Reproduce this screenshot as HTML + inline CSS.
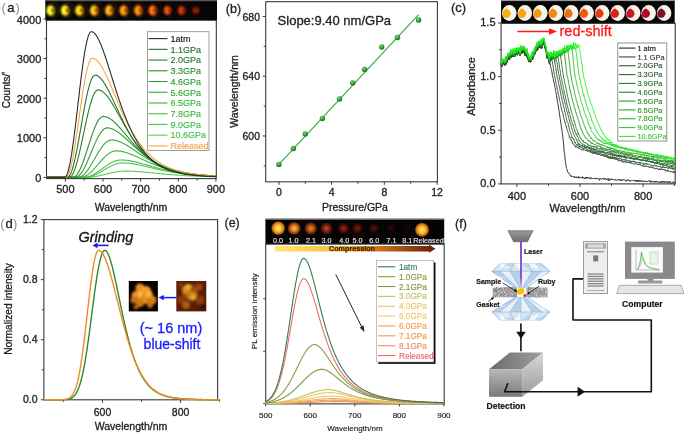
<!DOCTYPE html>
<html><head><meta charset="utf-8"><style>
html,body{margin:0;padding:0;background:#fff;width:685px;height:434px;overflow:hidden}
svg{display:block;will-change:transform}
text{font-family:"Liberation Sans", sans-serif}
</style></head><body>
<svg width="685" height="434" viewBox="0 0 685 434">
<rect width="685" height="434" fill="#fff"/>
<rect x="46.50" y="20.00" width="169.80" height="158.60" fill="none" stroke="#3a3a3a" stroke-width="1.1"/>
<rect x="45.3" y="0" width="171.7" height="20.4" fill="#050505"/>
<rect x="45.3" y="0" width="171.7" height="1.2" fill="#5a5a5a"/>
<defs><filter id="bl1" x="-50%" y="-50%" width="200%" height="200%"><feGaussianBlur stdDeviation="0.8"/></filter><filter id="bl03" x="-50%" y="-50%" width="200%" height="200%"><feGaussianBlur stdDeviation="0.4"/></filter><filter id="bl05" x="-50%" y="-50%" width="200%" height="200%"><feGaussianBlur stdDeviation="0.85"/></filter><filter id="bl2" x="-50%" y="-50%" width="200%" height="200%"><feGaussianBlur stdDeviation="1.2"/></filter></defs>
<g filter="url(#bl05)"><ellipse cx="52.80" cy="9.8" rx="6" ry="7.4" fill="none" stroke="#f0c000" stroke-opacity="0.35" stroke-width="0.8"/><ellipse cx="50.80" cy="10.4" rx="4.40" ry="5.30" fill="#f0c000"/><ellipse cx="49.80" cy="10.4" rx="2.90" ry="4.30" fill="#ffff40"/><ellipse cx="52.70" cy="10.2" rx="1.70" ry="2.30" fill="#6a3a00"/></g>
<g filter="url(#bl05)"><ellipse cx="67.30" cy="9.8" rx="6" ry="7.4" fill="none" stroke="#f0b800" stroke-opacity="0.35" stroke-width="0.8"/><ellipse cx="65.30" cy="10.4" rx="4.40" ry="5.30" fill="#f0b800"/><ellipse cx="64.30" cy="10.4" rx="2.90" ry="4.30" fill="#ffff30"/><ellipse cx="67.20" cy="10.2" rx="1.70" ry="2.30" fill="#6a3a00"/></g>
<g filter="url(#bl05)"><ellipse cx="81.60" cy="9.8" rx="6" ry="7.4" fill="none" stroke="#f09a00" stroke-opacity="0.35" stroke-width="0.8"/><ellipse cx="79.60" cy="10.4" rx="4.40" ry="5.30" fill="#f09a00"/><ellipse cx="78.60" cy="10.4" rx="2.90" ry="4.30" fill="#ffe828"/><ellipse cx="81.50" cy="10.2" rx="1.70" ry="2.30" fill="#6a3a00"/></g>
<g filter="url(#bl05)"><ellipse cx="96.40" cy="9.8" rx="6" ry="7.4" fill="none" stroke="#f08000" stroke-opacity="0.35" stroke-width="0.8"/><ellipse cx="94.40" cy="10.4" rx="4.40" ry="5.30" fill="#f08000"/><ellipse cx="93.40" cy="10.4" rx="2.90" ry="4.30" fill="#ffcc20"/><ellipse cx="96.30" cy="10.2" rx="1.70" ry="2.30" fill="#6a3a00"/></g>
<g filter="url(#bl05)"><ellipse cx="111.40" cy="9.8" rx="6" ry="7.4" fill="none" stroke="#f07800" stroke-opacity="0.35" stroke-width="0.8"/><ellipse cx="109.40" cy="10.4" rx="4.40" ry="5.30" fill="#f07800"/><ellipse cx="108.40" cy="10.4" rx="2.90" ry="4.30" fill="#ffc020"/><ellipse cx="111.30" cy="10.2" rx="1.70" ry="2.30" fill="#6a3a00"/></g>
<g filter="url(#bl05)"><ellipse cx="126.00" cy="9.8" rx="6" ry="7.4" fill="none" stroke="#e86000" stroke-opacity="0.35" stroke-width="0.8"/><ellipse cx="124.00" cy="10.4" rx="4.40" ry="5.30" fill="#e86000"/><ellipse cx="123.00" cy="10.4" rx="2.90" ry="4.30" fill="#ffa818"/><ellipse cx="125.90" cy="10.2" rx="1.70" ry="2.30" fill="#6a3a00"/></g>
<g filter="url(#bl05)"><ellipse cx="140.50" cy="9.8" rx="6" ry="7.4" fill="none" stroke="#e05000" stroke-opacity="0.35" stroke-width="0.8"/><ellipse cx="138.50" cy="10.4" rx="4.40" ry="5.30" fill="#e05000"/><ellipse cx="137.50" cy="10.4" rx="2.90" ry="4.30" fill="#ff9a10"/><ellipse cx="140.40" cy="10.2" rx="1.70" ry="2.30" fill="#6a3a00"/></g>
<g filter="url(#bl05)"><ellipse cx="155.00" cy="9.8" rx="6" ry="7.4" fill="none" stroke="#d03800" stroke-opacity="0.35" stroke-width="0.8"/><ellipse cx="153.00" cy="10.4" rx="4.40" ry="5.30" fill="#d03800"/><ellipse cx="152.00" cy="10.4" rx="2.90" ry="4.30" fill="#ff7a10"/><ellipse cx="154.90" cy="10.2" rx="1.70" ry="2.30" fill="#6a3a00"/></g>
<g filter="url(#bl05)"><ellipse cx="169.80" cy="9.8" rx="6" ry="7.4" fill="none" stroke="#b02800" stroke-opacity="0.35" stroke-width="0.8"/><ellipse cx="167.80" cy="10.4" rx="3.96" ry="4.77" fill="#b02800"/><ellipse cx="166.80" cy="10.4" rx="2.61" ry="3.87" fill="#f05810"/><ellipse cx="169.70" cy="10.2" rx="1.53" ry="2.07" fill="#6a3a00"/></g>
<g filter="url(#bl05)"><ellipse cx="183.90" cy="9.8" rx="6" ry="7.4" fill="none" stroke="#901800" stroke-opacity="0.35" stroke-width="0.8"/><ellipse cx="181.90" cy="10.4" rx="3.96" ry="4.77" fill="#901800"/><ellipse cx="180.90" cy="10.4" rx="2.61" ry="3.87" fill="#d83010"/><ellipse cx="183.80" cy="10.2" rx="1.53" ry="2.07" fill="#6a3a00"/></g>
<g filter="url(#bl05)"><ellipse cx="197.90" cy="9.8" rx="6" ry="7.4" fill="none" stroke="#500800" stroke-opacity="0.35" stroke-width="0.8"/><ellipse cx="195.90" cy="10.4" rx="3.52" ry="4.24" fill="#500800"/><ellipse cx="194.90" cy="10.4" rx="2.32" ry="3.44" fill="#901408"/><ellipse cx="197.80" cy="10.2" rx="1.36" ry="1.84" fill="#6a3a00"/></g>
<line x1="65.33" y1="178.60" x2="65.33" y2="181.60" stroke="#3a3a3a" stroke-width="1"/>
<line x1="102.97" y1="178.60" x2="102.97" y2="181.60" stroke="#3a3a3a" stroke-width="1"/>
<line x1="140.62" y1="178.60" x2="140.62" y2="181.60" stroke="#3a3a3a" stroke-width="1"/>
<line x1="178.28" y1="178.60" x2="178.28" y2="181.60" stroke="#3a3a3a" stroke-width="1"/>
<line x1="215.93" y1="178.60" x2="215.93" y2="181.60" stroke="#3a3a3a" stroke-width="1"/>
<line x1="84.15" y1="178.60" x2="84.15" y2="180.60" stroke="#3a3a3a" stroke-width="1"/>
<line x1="121.80" y1="178.60" x2="121.80" y2="180.60" stroke="#3a3a3a" stroke-width="1"/>
<line x1="159.45" y1="178.60" x2="159.45" y2="180.60" stroke="#3a3a3a" stroke-width="1"/>
<line x1="197.10" y1="178.60" x2="197.10" y2="180.60" stroke="#3a3a3a" stroke-width="1"/>
<text x="65.33" y="193.20" font-size="11" text-anchor="middle" fill="#222" stroke="#222" stroke-width="0.3">500</text>
<text x="102.97" y="193.20" font-size="11" text-anchor="middle" fill="#222" stroke="#222" stroke-width="0.3">600</text>
<text x="140.62" y="193.20" font-size="11" text-anchor="middle" fill="#222" stroke="#222" stroke-width="0.3">700</text>
<text x="178.28" y="193.20" font-size="11" text-anchor="middle" fill="#222" stroke="#222" stroke-width="0.3">800</text>
<text x="215.93" y="193.20" font-size="11" text-anchor="middle" fill="#222" stroke="#222" stroke-width="0.3">900</text>
<line x1="43.50" y1="177.40" x2="46.50" y2="177.40" stroke="#3a3a3a" stroke-width="1"/>
<line x1="43.50" y1="137.80" x2="46.50" y2="137.80" stroke="#3a3a3a" stroke-width="1"/>
<line x1="43.50" y1="98.20" x2="46.50" y2="98.20" stroke="#3a3a3a" stroke-width="1"/>
<line x1="43.50" y1="58.60" x2="46.50" y2="58.60" stroke="#3a3a3a" stroke-width="1"/>
<line x1="43.50" y1="19.00" x2="46.50" y2="19.00" stroke="#3a3a3a" stroke-width="1"/>
<line x1="44.50" y1="157.60" x2="46.50" y2="157.60" stroke="#3a3a3a" stroke-width="1"/>
<line x1="44.50" y1="118.00" x2="46.50" y2="118.00" stroke="#3a3a3a" stroke-width="1"/>
<line x1="44.50" y1="78.40" x2="46.50" y2="78.40" stroke="#3a3a3a" stroke-width="1"/>
<line x1="44.50" y1="38.80" x2="46.50" y2="38.80" stroke="#3a3a3a" stroke-width="1"/>
<text x="41.30" y="182.00" font-size="11" text-anchor="end" fill="#222" stroke="#222" stroke-width="0.3">0</text>
<text x="41.30" y="142.40" font-size="11" text-anchor="end" fill="#222" stroke="#222" stroke-width="0.3">1000</text>
<text x="41.30" y="102.80" font-size="11" text-anchor="end" fill="#222" stroke="#222" stroke-width="0.3">2000</text>
<text x="41.30" y="63.20" font-size="11" text-anchor="end" fill="#222" stroke="#222" stroke-width="0.3">3000</text>
<text x="41.30" y="23.60" font-size="11" text-anchor="end" fill="#222" stroke="#222" stroke-width="0.3">4000</text>
<text x="131.00" y="211.00" font-size="10.5" text-anchor="middle" fill="#222" stroke="#222" stroke-width="0.3">Wavelength/nm</text>
<text x="9.50" y="90.00" font-size="10" text-anchor="middle" fill="#222" stroke="#222" stroke-width="0.3" transform="rotate(-90 9.5 90)">Counts/'</text>
<text x="1.6" y="12.3" font-size="13" fill="#222" stroke="#222" stroke-width="0.3"><tspan fill="#8a8a8a" stroke="none">(</tspan><tspan dx="1.2">a</tspan><tspan dx="1.2" fill="#8a8a8a" stroke="none">)</tspan></text>
<polyline points="46.5,177.4 46.9,177.4 47.3,177.4 47.8,177.4 48.2,177.4 48.6,177.4 49.0,177.4 49.5,177.4 49.9,177.4 50.3,177.4 50.7,177.4 51.2,177.4 51.6,177.4 52.0,177.4 52.4,177.4 52.9,177.4 53.3,177.4 53.7,177.4 54.1,177.4 54.6,177.4 55.0,177.4 55.4,177.4 55.8,177.4 56.3,177.4 56.7,177.4 57.1,177.4 57.5,177.4 58.0,177.4 58.4,177.4 58.8,177.4 59.2,177.4 59.7,177.4 60.1,177.4 60.5,177.4 60.9,177.4 61.4,177.4 61.8,177.4 62.2,177.4 62.6,177.4 63.1,177.4 63.5,177.4 63.9,177.4 64.3,177.4 64.8,177.4 65.2,177.4 65.6,177.4 66.0,177.4 66.5,177.4 66.9,177.4 67.3,177.4 67.7,177.4 68.2,177.4 68.6,177.4 69.0,177.4 69.4,177.4 69.9,177.4 70.3,177.4 70.7,177.4 71.1,177.4 71.6,177.4 72.0,177.4 72.4,177.4 72.8,177.4 73.3,177.4 73.7,177.4 74.1,177.4 74.5,177.4 74.9,177.4 75.4,177.4 75.8,177.4 76.2,177.4 76.6,177.4 77.1,177.4 77.5,177.4 77.9,177.4 78.3,177.4 78.8,177.4 79.2,177.4 79.6,177.4 80.0,177.4 80.5,177.4 80.9,177.4 81.3,177.4 81.7,177.4 82.2,177.4 82.6,177.4 83.0,177.4 83.4,177.4 83.9,177.4 84.3,177.4 84.7,177.4 85.1,177.4 85.6,177.4 86.0,177.4 86.4,177.4 86.8,177.4 87.3,177.4 87.7,177.4 88.1,177.4 88.5,177.3 89.0,177.3 89.4,177.3 89.8,177.3 90.2,177.2 90.7,177.2 91.1,177.1 91.5,177.1 91.9,177.1 92.4,177.0 92.8,177.0 93.2,176.9 93.6,176.8 94.1,176.8 94.5,176.7 94.9,176.6 95.3,176.6 95.8,176.5 96.2,176.4 96.6,176.3 97.0,176.3 97.5,176.2 97.9,176.1 98.3,176.0 98.7,175.9 99.2,175.8 99.6,175.7 100.0,175.6 100.4,175.5 100.9,175.4 101.3,175.3 101.7,175.2 102.1,175.1 102.6,175.0 103.0,174.9 103.4,174.8 103.8,174.7 104.2,174.6 104.7,174.5 105.1,174.4 105.5,174.3 105.9,174.2 106.4,174.1 106.8,174.0 107.2,173.9 107.6,173.8 108.1,173.7 108.5,173.6 108.9,173.5 109.3,173.4 109.8,173.2 110.2,173.1 110.6,173.0 111.0,172.9 111.5,172.9 111.9,172.8 112.3,172.7 112.7,172.6 113.2,172.5 113.6,172.4 114.0,172.3 114.4,172.2 114.9,172.1 115.3,172.1 115.7,172.0 116.1,171.9 116.6,171.8 117.0,171.8 117.4,171.7 117.8,171.6 118.3,171.6 118.7,171.5 119.1,171.5 119.5,171.4 120.0,171.4 120.4,171.3 120.8,171.3 121.2,171.2 121.7,171.2 122.1,171.2 122.5,171.2 122.9,171.1 123.4,171.1 123.8,171.1 124.2,171.1 124.6,171.1 125.1,171.1 125.5,171.1 125.9,171.1 126.3,171.1 126.8,171.1 127.2,171.1 127.6,171.1 128.0,171.1 128.5,171.1 128.9,171.1 129.3,171.1 129.7,171.1 130.2,171.1 130.6,171.2 131.0,171.2 131.4,171.2 131.8,171.2 132.3,171.2 132.7,171.3 133.1,171.3 133.5,171.3 134.0,171.3 134.4,171.3 134.8,171.4 135.2,171.4 135.7,171.4 136.1,171.4 136.5,171.5 136.9,171.5 137.4,171.5 137.8,171.6 138.2,171.6 138.6,171.6 139.1,171.7 139.5,171.7 139.9,171.7 140.3,171.8 140.8,171.8 141.2,171.8 141.6,171.9 142.0,171.9 142.5,172.0 142.9,172.0 143.3,172.0 143.7,172.1 144.2,172.1 144.6,172.1 145.0,172.2 145.4,172.2 145.9,172.3 146.3,172.3 146.7,172.4 147.1,172.4 147.6,172.4 148.0,172.5 148.4,172.5 148.8,172.6 149.3,172.6 149.7,172.6 150.1,172.7 150.5,172.7 151.0,172.8 151.4,172.8 151.8,172.9 152.2,172.9 152.7,172.9 153.1,173.0 153.5,173.0 153.9,173.1 154.4,173.1 154.8,173.2 155.2,173.2 155.6,173.2 156.1,173.3 156.5,173.3 156.9,173.4 157.3,173.4 157.8,173.4 158.2,173.5 158.6,173.5 159.0,173.6 159.4,173.6 159.9,173.7 160.3,173.7 160.7,173.7 161.1,173.8 161.6,173.8 162.0,173.9 162.4,173.9 162.8,173.9 163.3,174.0 163.7,174.0 164.1,174.1 164.5,174.1 165.0,174.1 165.4,174.2 165.8,174.2 166.2,174.2 166.7,174.3 167.1,174.3 167.5,174.4 167.9,174.4 168.4,174.4 168.8,174.5 169.2,174.5 169.6,174.5 170.1,174.6 170.5,174.6 170.9,174.6 171.3,174.7 171.8,174.7 172.2,174.7 172.6,174.8 173.0,174.8 173.5,174.8 173.9,174.9 174.3,174.9 174.7,174.9 175.2,175.0 175.6,175.0 176.0,175.0 176.4,175.1 176.9,175.1 177.3,175.1 177.7,175.1 178.1,175.2 178.6,175.2 179.0,175.2 179.4,175.3 179.8,175.3 180.3,175.3 180.7,175.3 181.1,175.4 181.5,175.4 182.0,175.4 182.4,175.5 182.8,175.5 183.2,175.5 183.7,175.5 184.1,175.6 184.5,175.6 184.9,175.6 185.4,175.6 185.8,175.6 186.2,175.7 186.6,175.7 187.1,175.7 187.5,175.7 187.9,175.8 188.3,175.8 188.7,175.8 189.2,175.8 189.6,175.9 190.0,175.9 190.4,175.9 190.9,175.9 191.3,175.9 191.7,176.0 192.1,176.0 192.6,176.0 193.0,176.0 193.4,176.0 193.8,176.1 194.3,176.1 194.7,176.1 195.1,176.1 195.5,176.1 196.0,176.1 196.4,176.2 196.8,176.2 197.2,176.2 197.7,176.2 198.1,176.2 198.5,176.2 198.9,176.3 199.4,176.3 199.8,176.3 200.2,176.3 200.6,176.3 201.1,176.3 201.5,176.4 201.9,176.4 202.3,176.4 202.8,176.4 203.2,176.4 203.6,176.4 204.0,176.4 204.5,176.5 204.9,176.5 205.3,176.5 205.7,176.5 206.2,176.5 206.6,176.5 207.0,176.5 207.4,176.5 207.9,176.6 208.3,176.6 208.7,176.6 209.1,176.6 209.6,176.6 210.0,176.6 210.4,176.6 210.8,176.6 211.3,176.6 211.7,176.7 212.1,176.7 212.5,176.7 213.0,176.7 213.4,176.7 213.8,176.7 214.2,176.7 214.7,176.7 215.1,176.7 215.5,176.7 215.9,176.8" fill="none" stroke="#58d058" stroke-width="1.1" stroke-linejoin="round"/>
<polyline points="46.5,177.4 46.9,177.4 47.3,177.4 47.8,177.4 48.2,177.4 48.6,177.4 49.0,177.4 49.5,177.4 49.9,177.4 50.3,177.4 50.7,177.4 51.2,177.4 51.6,177.4 52.0,177.4 52.4,177.4 52.9,177.4 53.3,177.4 53.7,177.4 54.1,177.4 54.6,177.4 55.0,177.4 55.4,177.4 55.8,177.4 56.3,177.4 56.7,177.4 57.1,177.4 57.5,177.4 58.0,177.4 58.4,177.4 58.8,177.4 59.2,177.4 59.7,177.4 60.1,177.4 60.5,177.4 60.9,177.4 61.4,177.4 61.8,177.4 62.2,177.4 62.6,177.4 63.1,177.4 63.5,177.4 63.9,177.4 64.3,177.4 64.8,177.4 65.2,177.4 65.6,177.4 66.0,177.4 66.5,177.4 66.9,177.4 67.3,177.4 67.7,177.4 68.2,177.4 68.6,177.4 69.0,177.4 69.4,177.4 69.9,177.4 70.3,177.4 70.7,177.4 71.1,177.4 71.6,177.4 72.0,177.4 72.4,177.4 72.8,177.4 73.3,177.4 73.7,177.4 74.1,177.4 74.5,177.4 74.9,177.4 75.4,177.4 75.8,177.4 76.2,177.4 76.6,177.4 77.1,177.4 77.5,177.4 77.9,177.4 78.3,177.4 78.8,177.4 79.2,177.4 79.6,177.4 80.0,177.4 80.5,177.4 80.9,177.4 81.3,177.4 81.7,177.4 82.2,177.4 82.6,177.4 83.0,177.4 83.4,177.4 83.9,177.4 84.3,177.4 84.7,177.4 85.1,177.4 85.6,177.4 86.0,177.4 86.4,177.3 86.8,177.3 87.3,177.3 87.7,177.2 88.1,177.1 88.5,177.1 89.0,177.0 89.4,176.9 89.8,176.8 90.2,176.7 90.7,176.6 91.1,176.5 91.5,176.3 91.9,176.2 92.4,176.0 92.8,175.9 93.2,175.7 93.6,175.6 94.1,175.4 94.5,175.2 94.9,175.0 95.3,174.8 95.8,174.6 96.2,174.4 96.6,174.2 97.0,174.0 97.5,173.8 97.9,173.6 98.3,173.3 98.7,173.1 99.2,172.9 99.6,172.6 100.0,172.4 100.4,172.1 100.9,171.9 101.3,171.6 101.7,171.4 102.1,171.1 102.6,170.9 103.0,170.6 103.4,170.4 103.8,170.1 104.2,169.9 104.7,169.6 105.1,169.3 105.5,169.1 105.9,168.8 106.4,168.6 106.8,168.3 107.2,168.1 107.6,167.9 108.1,167.6 108.5,167.4 108.9,167.1 109.3,166.9 109.8,166.7 110.2,166.5 110.6,166.2 111.0,166.0 111.5,165.8 111.9,165.6 112.3,165.4 112.7,165.2 113.2,165.1 113.6,164.9 114.0,164.7 114.4,164.5 114.9,164.4 115.3,164.2 115.7,164.1 116.1,164.0 116.6,163.8 117.0,163.7 117.4,163.6 117.8,163.5 118.3,163.4 118.7,163.3 119.1,163.2 119.5,163.2 120.0,163.1 120.4,163.1 120.8,163.0 121.2,163.0 121.7,163.0 122.1,163.0 122.5,162.9 122.9,162.9 123.4,163.0 123.8,163.0 124.2,163.0 124.6,163.0 125.1,163.0 125.5,163.0 125.9,163.1 126.3,163.1 126.8,163.1 127.2,163.1 127.6,163.2 128.0,163.2 128.5,163.3 128.9,163.3 129.3,163.3 129.7,163.4 130.2,163.4 130.6,163.5 131.0,163.6 131.4,163.6 131.8,163.7 132.3,163.7 132.7,163.8 133.1,163.9 133.5,163.9 134.0,164.0 134.4,164.1 134.8,164.2 135.2,164.2 135.7,164.3 136.1,164.4 136.5,164.5 136.9,164.6 137.4,164.6 137.8,164.7 138.2,164.8 138.6,164.9 139.1,165.0 139.5,165.1 139.9,165.2 140.3,165.3 140.8,165.3 141.2,165.4 141.6,165.5 142.0,165.6 142.5,165.7 142.9,165.8 143.3,165.9 143.7,166.0 144.2,166.1 144.6,166.2 145.0,166.3 145.4,166.4 145.9,166.5 146.3,166.6 146.7,166.7 147.1,166.8 147.6,166.9 148.0,167.0 148.4,167.1 148.8,167.2 149.3,167.3 149.7,167.4 150.1,167.5 150.5,167.6 151.0,167.7 151.4,167.8 151.8,167.9 152.2,168.0 152.7,168.1 153.1,168.2 153.5,168.3 153.9,168.4 154.4,168.5 154.8,168.6 155.2,168.7 155.6,168.8 156.1,168.9 156.5,169.0 156.9,169.1 157.3,169.2 157.8,169.3 158.2,169.3 158.6,169.4 159.0,169.5 159.4,169.6 159.9,169.7 160.3,169.8 160.7,169.9 161.1,170.0 161.6,170.1 162.0,170.2 162.4,170.3 162.8,170.3 163.3,170.4 163.7,170.5 164.1,170.6 164.5,170.7 165.0,170.8 165.4,170.8 165.8,170.9 166.2,171.0 166.7,171.1 167.1,171.2 167.5,171.2 167.9,171.3 168.4,171.4 168.8,171.5 169.2,171.6 169.6,171.6 170.1,171.7 170.5,171.8 170.9,171.9 171.3,171.9 171.8,172.0 172.2,172.1 172.6,172.1 173.0,172.2 173.5,172.3 173.9,172.4 174.3,172.4 174.7,172.5 175.2,172.6 175.6,172.6 176.0,172.7 176.4,172.7 176.9,172.8 177.3,172.9 177.7,172.9 178.1,173.0 178.6,173.1 179.0,173.1 179.4,173.2 179.8,173.2 180.3,173.3 180.7,173.3 181.1,173.4 181.5,173.5 182.0,173.5 182.4,173.6 182.8,173.6 183.2,173.7 183.7,173.7 184.1,173.8 184.5,173.8 184.9,173.9 185.4,173.9 185.8,174.0 186.2,174.0 186.6,174.1 187.1,174.1 187.5,174.2 187.9,174.2 188.3,174.3 188.7,174.3 189.2,174.3 189.6,174.4 190.0,174.4 190.4,174.5 190.9,174.5 191.3,174.6 191.7,174.6 192.1,174.6 192.6,174.7 193.0,174.7 193.4,174.8 193.8,174.8 194.3,174.8 194.7,174.9 195.1,174.9 195.5,174.9 196.0,175.0 196.4,175.0 196.8,175.0 197.2,175.1 197.7,175.1 198.1,175.1 198.5,175.2 198.9,175.2 199.4,175.2 199.8,175.3 200.2,175.3 200.6,175.3 201.1,175.4 201.5,175.4 201.9,175.4 202.3,175.5 202.8,175.5 203.2,175.5 203.6,175.5 204.0,175.6 204.5,175.6 204.9,175.6 205.3,175.6 205.7,175.7 206.2,175.7 206.6,175.7 207.0,175.7 207.4,175.8 207.9,175.8 208.3,175.8 208.7,175.8 209.1,175.9 209.6,175.9 210.0,175.9 210.4,175.9 210.8,175.9 211.3,176.0 211.7,176.0 212.1,176.0 212.5,176.0 213.0,176.1 213.4,176.1 213.8,176.1 214.2,176.1 214.7,176.1 215.1,176.1 215.5,176.2 215.9,176.2" fill="none" stroke="#4cc84c" stroke-width="1.1" stroke-linejoin="round"/>
<polyline points="46.5,177.4 46.9,177.4 47.3,177.4 47.8,177.4 48.2,177.4 48.6,177.4 49.0,177.4 49.5,177.4 49.9,177.4 50.3,177.4 50.7,177.4 51.2,177.4 51.6,177.4 52.0,177.4 52.4,177.4 52.9,177.4 53.3,177.4 53.7,177.4 54.1,177.4 54.6,177.4 55.0,177.4 55.4,177.4 55.8,177.4 56.3,177.4 56.7,177.4 57.1,177.4 57.5,177.4 58.0,177.4 58.4,177.4 58.8,177.4 59.2,177.4 59.7,177.4 60.1,177.4 60.5,177.4 60.9,177.4 61.4,177.4 61.8,177.4 62.2,177.4 62.6,177.4 63.1,177.4 63.5,177.4 63.9,177.4 64.3,177.4 64.8,177.4 65.2,177.4 65.6,177.4 66.0,177.4 66.5,177.4 66.9,177.4 67.3,177.4 67.7,177.4 68.2,177.4 68.6,177.4 69.0,177.4 69.4,177.4 69.9,177.4 70.3,177.4 70.7,177.4 71.1,177.4 71.6,177.4 72.0,177.4 72.4,177.4 72.8,177.4 73.3,177.4 73.7,177.4 74.1,177.4 74.5,177.4 74.9,177.4 75.4,177.4 75.8,177.4 76.2,177.4 76.6,177.4 77.1,177.4 77.5,177.4 77.9,177.4 78.3,177.4 78.8,177.4 79.2,177.4 79.6,177.4 80.0,177.4 80.5,177.4 80.9,177.4 81.3,177.4 81.7,177.4 82.2,177.4 82.6,177.4 83.0,177.4 83.4,177.4 83.9,177.4 84.3,177.4 84.7,177.3 85.1,177.3 85.6,177.3 86.0,177.2 86.4,177.1 86.8,177.0 87.3,177.0 87.7,176.8 88.1,176.7 88.5,176.6 89.0,176.5 89.4,176.3 89.8,176.2 90.2,176.0 90.7,175.8 91.1,175.7 91.5,175.5 91.9,175.3 92.4,175.1 92.8,174.9 93.2,174.6 93.6,174.4 94.1,174.2 94.5,173.9 94.9,173.7 95.3,173.4 95.8,173.2 96.2,172.9 96.6,172.6 97.0,172.3 97.5,172.1 97.9,171.8 98.3,171.5 98.7,171.2 99.2,170.9 99.6,170.6 100.0,170.3 100.4,170.0 100.9,169.7 101.3,169.4 101.7,169.1 102.1,168.8 102.6,168.4 103.0,168.1 103.4,167.8 103.8,167.5 104.2,167.2 104.7,166.9 105.1,166.6 105.5,166.3 105.9,166.0 106.4,165.7 106.8,165.4 107.2,165.2 107.6,164.9 108.1,164.6 108.5,164.3 108.9,164.1 109.3,163.8 109.8,163.6 110.2,163.3 110.6,163.1 111.0,162.8 111.5,162.6 111.9,162.4 112.3,162.2 112.7,162.0 113.2,161.8 113.6,161.6 114.0,161.4 114.4,161.3 114.9,161.1 115.3,161.0 115.7,160.8 116.1,160.7 116.6,160.6 117.0,160.5 117.4,160.4 117.8,160.3 118.3,160.2 118.7,160.1 119.1,160.1 119.5,160.0 120.0,160.0 120.4,160.0 120.8,160.0 121.2,160.0 121.7,160.0 122.1,160.0 122.5,160.0 122.9,160.0 123.4,160.0 123.8,160.1 124.2,160.1 124.6,160.1 125.1,160.2 125.5,160.2 125.9,160.2 126.3,160.3 126.8,160.3 127.2,160.4 127.6,160.4 128.0,160.5 128.5,160.6 128.9,160.6 129.3,160.7 129.7,160.8 130.2,160.8 130.6,160.9 131.0,161.0 131.4,161.1 131.8,161.2 132.3,161.3 132.7,161.3 133.1,161.4 133.5,161.5 134.0,161.6 134.4,161.7 134.8,161.8 135.2,161.9 135.7,162.0 136.1,162.1 136.5,162.2 136.9,162.3 137.4,162.4 137.8,162.5 138.2,162.7 138.6,162.8 139.1,162.9 139.5,163.0 139.9,163.1 140.3,163.2 140.8,163.3 141.2,163.5 141.6,163.6 142.0,163.7 142.5,163.8 142.9,163.9 143.3,164.1 143.7,164.2 144.2,164.3 144.6,164.4 145.0,164.5 145.4,164.7 145.9,164.8 146.3,164.9 146.7,165.0 147.1,165.1 147.6,165.3 148.0,165.4 148.4,165.5 148.8,165.6 149.3,165.8 149.7,165.9 150.1,166.0 150.5,166.1 151.0,166.2 151.4,166.4 151.8,166.5 152.2,166.6 152.7,166.7 153.1,166.8 153.5,167.0 153.9,167.1 154.4,167.2 154.8,167.3 155.2,167.4 155.6,167.5 156.1,167.7 156.5,167.8 156.9,167.9 157.3,168.0 157.8,168.1 158.2,168.2 158.6,168.3 159.0,168.4 159.4,168.5 159.9,168.7 160.3,168.8 160.7,168.9 161.1,169.0 161.6,169.1 162.0,169.2 162.4,169.3 162.8,169.4 163.3,169.5 163.7,169.6 164.1,169.7 164.5,169.8 165.0,169.9 165.4,170.0 165.8,170.1 166.2,170.2 166.7,170.3 167.1,170.4 167.5,170.5 167.9,170.5 168.4,170.6 168.8,170.7 169.2,170.8 169.6,170.9 170.1,171.0 170.5,171.1 170.9,171.2 171.3,171.2 171.8,171.3 172.2,171.4 172.6,171.5 173.0,171.6 173.5,171.7 173.9,171.7 174.3,171.8 174.7,171.9 175.2,172.0 175.6,172.0 176.0,172.1 176.4,172.2 176.9,172.3 177.3,172.3 177.7,172.4 178.1,172.5 178.6,172.5 179.0,172.6 179.4,172.7 179.8,172.7 180.3,172.8 180.7,172.9 181.1,172.9 181.5,173.0 182.0,173.1 182.4,173.1 182.8,173.2 183.2,173.2 183.7,173.3 184.1,173.4 184.5,173.4 184.9,173.5 185.4,173.5 185.8,173.6 186.2,173.6 186.6,173.7 187.1,173.8 187.5,173.8 187.9,173.9 188.3,173.9 188.7,174.0 189.2,174.0 189.6,174.1 190.0,174.1 190.4,174.2 190.9,174.2 191.3,174.3 191.7,174.3 192.1,174.3 192.6,174.4 193.0,174.4 193.4,174.5 193.8,174.5 194.3,174.6 194.7,174.6 195.1,174.6 195.5,174.7 196.0,174.7 196.4,174.8 196.8,174.8 197.2,174.8 197.7,174.9 198.1,174.9 198.5,175.0 198.9,175.0 199.4,175.0 199.8,175.1 200.2,175.1 200.6,175.1 201.1,175.2 201.5,175.2 201.9,175.2 202.3,175.3 202.8,175.3 203.2,175.3 203.6,175.4 204.0,175.4 204.5,175.4 204.9,175.4 205.3,175.5 205.7,175.5 206.2,175.5 206.6,175.6 207.0,175.6 207.4,175.6 207.9,175.6 208.3,175.7 208.7,175.7 209.1,175.7 209.6,175.7 210.0,175.8 210.4,175.8 210.8,175.8 211.3,175.8 211.7,175.9 212.1,175.9 212.5,175.9 213.0,175.9 213.4,175.9 213.8,176.0 214.2,176.0 214.7,176.0 215.1,176.0 215.5,176.1 215.9,176.1" fill="none" stroke="#44c044" stroke-width="1.1" stroke-linejoin="round"/>
<polyline points="46.5,177.4 46.9,177.4 47.3,177.4 47.8,177.4 48.2,177.4 48.6,177.4 49.0,177.4 49.5,177.4 49.9,177.4 50.3,177.4 50.7,177.4 51.2,177.4 51.6,177.4 52.0,177.4 52.4,177.4 52.9,177.4 53.3,177.4 53.7,177.4 54.1,177.4 54.6,177.4 55.0,177.4 55.4,177.4 55.8,177.4 56.3,177.4 56.7,177.4 57.1,177.4 57.5,177.4 58.0,177.4 58.4,177.4 58.8,177.4 59.2,177.4 59.7,177.4 60.1,177.4 60.5,177.4 60.9,177.4 61.4,177.4 61.8,177.4 62.2,177.4 62.6,177.4 63.1,177.4 63.5,177.4 63.9,177.4 64.3,177.4 64.8,177.4 65.2,177.4 65.6,177.4 66.0,177.4 66.5,177.4 66.9,177.4 67.3,177.4 67.7,177.4 68.2,177.4 68.6,177.4 69.0,177.4 69.4,177.4 69.9,177.4 70.3,177.4 70.7,177.4 71.1,177.4 71.6,177.4 72.0,177.4 72.4,177.4 72.8,177.4 73.3,177.4 73.7,177.4 74.1,177.4 74.5,177.4 74.9,177.4 75.4,177.4 75.8,177.4 76.2,177.4 76.6,177.4 77.1,177.4 77.5,177.4 77.9,177.4 78.3,177.4 78.8,177.4 79.2,177.4 79.6,177.4 80.0,177.4 80.5,177.4 80.9,177.4 81.3,177.4 81.7,177.3 82.2,177.2 82.6,177.2 83.0,177.0 83.4,176.9 83.9,176.8 84.3,176.6 84.7,176.5 85.1,176.3 85.6,176.1 86.0,175.8 86.4,175.6 86.8,175.3 87.3,175.1 87.7,174.8 88.1,174.5 88.5,174.1 89.0,173.8 89.4,173.5 89.8,173.1 90.2,172.7 90.7,172.4 91.1,172.0 91.5,171.6 91.9,171.1 92.4,170.7 92.8,170.3 93.2,169.8 93.6,169.4 94.1,168.9 94.5,168.5 94.9,168.0 95.3,167.5 95.8,167.0 96.2,166.6 96.6,166.1 97.0,165.6 97.5,165.1 97.9,164.6 98.3,164.1 98.7,163.6 99.2,163.1 99.6,162.6 100.0,162.1 100.4,161.6 100.9,161.1 101.3,160.7 101.7,160.2 102.1,159.7 102.6,159.3 103.0,158.8 103.4,158.4 103.8,157.9 104.2,157.5 104.7,157.1 105.1,156.6 105.5,156.2 105.9,155.8 106.4,155.5 106.8,155.1 107.2,154.7 107.6,154.4 108.1,154.1 108.5,153.8 108.9,153.5 109.3,153.2 109.8,152.9 110.2,152.6 110.6,152.4 111.0,152.2 111.5,152.0 111.9,151.8 112.3,151.6 112.7,151.5 113.2,151.3 113.6,151.2 114.0,151.1 114.4,151.0 114.9,151.0 115.3,150.9 115.7,150.9 116.1,150.9 116.6,150.9 117.0,150.9 117.4,150.9 117.8,150.9 118.3,151.0 118.7,151.0 119.1,151.0 119.5,151.1 120.0,151.1 120.4,151.2 120.8,151.3 121.2,151.3 121.7,151.4 122.1,151.5 122.5,151.6 122.9,151.7 123.4,151.8 123.8,151.9 124.2,152.0 124.6,152.1 125.1,152.2 125.5,152.4 125.9,152.5 126.3,152.6 126.8,152.8 127.2,152.9 127.6,153.0 128.0,153.2 128.5,153.3 128.9,153.5 129.3,153.6 129.7,153.8 130.2,154.0 130.6,154.1 131.0,154.3 131.4,154.5 131.8,154.6 132.3,154.8 132.7,155.0 133.1,155.2 133.5,155.3 134.0,155.5 134.4,155.7 134.8,155.9 135.2,156.1 135.7,156.3 136.1,156.4 136.5,156.6 136.9,156.8 137.4,157.0 137.8,157.2 138.2,157.4 138.6,157.6 139.1,157.8 139.5,158.0 139.9,158.2 140.3,158.4 140.8,158.6 141.2,158.8 141.6,159.0 142.0,159.1 142.5,159.3 142.9,159.5 143.3,159.7 143.7,159.9 144.2,160.1 144.6,160.3 145.0,160.5 145.4,160.7 145.9,160.9 146.3,161.1 146.7,161.3 147.1,161.4 147.6,161.6 148.0,161.8 148.4,162.0 148.8,162.2 149.3,162.4 149.7,162.6 150.1,162.7 150.5,162.9 151.0,163.1 151.4,163.3 151.8,163.5 152.2,163.6 152.7,163.8 153.1,164.0 153.5,164.2 153.9,164.3 154.4,164.5 154.8,164.7 155.2,164.8 155.6,165.0 156.1,165.2 156.5,165.3 156.9,165.5 157.3,165.6 157.8,165.8 158.2,166.0 158.6,166.1 159.0,166.3 159.4,166.4 159.9,166.6 160.3,166.7 160.7,166.9 161.1,167.0 161.6,167.2 162.0,167.3 162.4,167.4 162.8,167.6 163.3,167.7 163.7,167.9 164.1,168.0 164.5,168.1 165.0,168.3 165.4,168.4 165.8,168.5 166.2,168.6 166.7,168.8 167.1,168.9 167.5,169.0 167.9,169.1 168.4,169.3 168.8,169.4 169.2,169.5 169.6,169.6 170.1,169.7 170.5,169.8 170.9,169.9 171.3,170.1 171.8,170.2 172.2,170.3 172.6,170.4 173.0,170.5 173.5,170.6 173.9,170.7 174.3,170.8 174.7,170.9 175.2,171.0 175.6,171.1 176.0,171.2 176.4,171.3 176.9,171.4 177.3,171.5 177.7,171.5 178.1,171.6 178.6,171.7 179.0,171.8 179.4,171.9 179.8,172.0 180.3,172.1 180.7,172.1 181.1,172.2 181.5,172.3 182.0,172.4 182.4,172.5 182.8,172.5 183.2,172.6 183.7,172.7 184.1,172.8 184.5,172.8 184.9,172.9 185.4,173.0 185.8,173.0 186.2,173.1 186.6,173.2 187.1,173.2 187.5,173.3 187.9,173.4 188.3,173.4 188.7,173.5 189.2,173.5 189.6,173.6 190.0,173.7 190.4,173.7 190.9,173.8 191.3,173.8 191.7,173.9 192.1,173.9 192.6,174.0 193.0,174.1 193.4,174.1 193.8,174.2 194.3,174.2 194.7,174.3 195.1,174.3 195.5,174.4 196.0,174.4 196.4,174.5 196.8,174.5 197.2,174.5 197.7,174.6 198.1,174.6 198.5,174.7 198.9,174.7 199.4,174.8 199.8,174.8 200.2,174.8 200.6,174.9 201.1,174.9 201.5,175.0 201.9,175.0 202.3,175.0 202.8,175.1 203.2,175.1 203.6,175.1 204.0,175.2 204.5,175.2 204.9,175.2 205.3,175.3 205.7,175.3 206.2,175.3 206.6,175.4 207.0,175.4 207.4,175.4 207.9,175.5 208.3,175.5 208.7,175.5 209.1,175.6 209.6,175.6 210.0,175.6 210.4,175.6 210.8,175.7 211.3,175.7 211.7,175.7 212.1,175.8 212.5,175.8 213.0,175.8 213.4,175.8 213.8,175.9 214.2,175.9 214.7,175.9 215.1,175.9 215.5,175.9 215.9,176.0" fill="none" stroke="#3ab63a" stroke-width="1.1" stroke-linejoin="round"/>
<polyline points="46.5,177.4 46.9,177.4 47.3,177.4 47.8,177.4 48.2,177.4 48.6,177.4 49.0,177.4 49.5,177.4 49.9,177.4 50.3,177.4 50.7,177.4 51.2,177.4 51.6,177.4 52.0,177.4 52.4,177.4 52.9,177.4 53.3,177.4 53.7,177.4 54.1,177.4 54.6,177.4 55.0,177.4 55.4,177.4 55.8,177.4 56.3,177.4 56.7,177.4 57.1,177.4 57.5,177.4 58.0,177.4 58.4,177.4 58.8,177.4 59.2,177.4 59.7,177.4 60.1,177.4 60.5,177.4 60.9,177.4 61.4,177.4 61.8,177.4 62.2,177.4 62.6,177.4 63.1,177.4 63.5,177.4 63.9,177.4 64.3,177.4 64.8,177.4 65.2,177.4 65.6,177.4 66.0,177.4 66.5,177.4 66.9,177.4 67.3,177.4 67.7,177.4 68.2,177.4 68.6,177.4 69.0,177.4 69.4,177.4 69.9,177.4 70.3,177.4 70.7,177.4 71.1,177.4 71.6,177.4 72.0,177.4 72.4,177.4 72.8,177.4 73.3,177.4 73.7,177.4 74.1,177.4 74.5,177.4 74.9,177.4 75.4,177.4 75.8,177.4 76.2,177.4 76.6,177.4 77.1,177.4 77.5,177.4 77.9,177.4 78.3,177.4 78.8,177.3 79.2,177.2 79.6,177.1 80.0,177.0 80.5,176.8 80.9,176.6 81.3,176.4 81.7,176.1 82.2,175.9 82.6,175.5 83.0,175.2 83.4,174.9 83.9,174.5 84.3,174.1 84.7,173.6 85.1,173.2 85.6,172.7 86.0,172.2 86.4,171.7 86.8,171.1 87.3,170.6 87.7,170.0 88.1,169.4 88.5,168.8 89.0,168.2 89.4,167.5 89.8,166.9 90.2,166.2 90.7,165.5 91.1,164.8 91.5,164.1 91.9,163.4 92.4,162.7 92.8,162.0 93.2,161.3 93.6,160.5 94.1,159.8 94.5,159.1 94.9,158.3 95.3,157.6 95.8,156.8 96.2,156.1 96.6,155.4 97.0,154.7 97.5,153.9 97.9,153.2 98.3,152.5 98.7,151.8 99.2,151.2 99.6,150.5 100.0,149.8 100.4,149.2 100.9,148.6 101.3,148.0 101.7,147.4 102.1,146.8 102.6,146.2 103.0,145.7 103.4,145.2 103.8,144.7 104.2,144.2 104.7,143.7 105.1,143.3 105.5,142.9 105.9,142.5 106.4,142.2 106.8,141.8 107.2,141.5 107.6,141.2 108.1,141.0 108.5,140.8 108.9,140.6 109.3,140.4 109.8,140.3 110.2,140.1 110.6,140.1 111.0,140.0 111.5,140.0 111.9,140.0 112.3,140.0 112.7,140.0 113.2,140.0 113.6,140.1 114.0,140.1 114.4,140.2 114.9,140.3 115.3,140.4 115.7,140.5 116.1,140.5 116.6,140.7 117.0,140.8 117.4,140.9 117.8,141.0 118.3,141.2 118.7,141.3 119.1,141.5 119.5,141.6 120.0,141.8 120.4,142.0 120.8,142.2 121.2,142.4 121.7,142.6 122.1,142.8 122.5,143.0 122.9,143.2 123.4,143.4 123.8,143.6 124.2,143.9 124.6,144.1 125.1,144.3 125.5,144.6 125.9,144.8 126.3,145.1 126.8,145.3 127.2,145.6 127.6,145.8 128.0,146.1 128.5,146.3 128.9,146.6 129.3,146.9 129.7,147.2 130.2,147.4 130.6,147.7 131.0,148.0 131.4,148.3 131.8,148.5 132.3,148.8 132.7,149.1 133.1,149.4 133.5,149.7 134.0,150.0 134.4,150.2 134.8,150.5 135.2,150.8 135.7,151.1 136.1,151.4 136.5,151.7 136.9,152.0 137.4,152.2 137.8,152.5 138.2,152.8 138.6,153.1 139.1,153.4 139.5,153.7 139.9,153.9 140.3,154.2 140.8,154.5 141.2,154.8 141.6,155.1 142.0,155.3 142.5,155.6 142.9,155.9 143.3,156.1 143.7,156.4 144.2,156.7 144.6,156.9 145.0,157.2 145.4,157.5 145.9,157.7 146.3,158.0 146.7,158.3 147.1,158.5 147.6,158.8 148.0,159.0 148.4,159.3 148.8,159.5 149.3,159.8 149.7,160.0 150.1,160.2 150.5,160.5 151.0,160.7 151.4,160.9 151.8,161.2 152.2,161.4 152.7,161.6 153.1,161.9 153.5,162.1 153.9,162.3 154.4,162.5 154.8,162.7 155.2,162.9 155.6,163.2 156.1,163.4 156.5,163.6 156.9,163.8 157.3,164.0 157.8,164.2 158.2,164.4 158.6,164.6 159.0,164.8 159.4,165.0 159.9,165.1 160.3,165.3 160.7,165.5 161.1,165.7 161.6,165.9 162.0,166.0 162.4,166.2 162.8,166.4 163.3,166.6 163.7,166.7 164.1,166.9 164.5,167.1 165.0,167.2 165.4,167.4 165.8,167.5 166.2,167.7 166.7,167.8 167.1,168.0 167.5,168.1 167.9,168.3 168.4,168.4 168.8,168.6 169.2,168.7 169.6,168.8 170.1,169.0 170.5,169.1 170.9,169.2 171.3,169.4 171.8,169.5 172.2,169.6 172.6,169.7 173.0,169.9 173.5,170.0 173.9,170.1 174.3,170.2 174.7,170.3 175.2,170.5 175.6,170.6 176.0,170.7 176.4,170.8 176.9,170.9 177.3,171.0 177.7,171.1 178.1,171.2 178.6,171.3 179.0,171.4 179.4,171.5 179.8,171.6 180.3,171.7 180.7,171.8 181.1,171.9 181.5,172.0 182.0,172.1 182.4,172.1 182.8,172.2 183.2,172.3 183.7,172.4 184.1,172.5 184.5,172.6 184.9,172.6 185.4,172.7 185.8,172.8 186.2,172.9 186.6,172.9 187.1,173.0 187.5,173.1 187.9,173.2 188.3,173.2 188.7,173.3 189.2,173.4 189.6,173.4 190.0,173.5 190.4,173.6 190.9,173.6 191.3,173.7 191.7,173.8 192.1,173.8 192.6,173.9 193.0,173.9 193.4,174.0 193.8,174.0 194.3,174.1 194.7,174.2 195.1,174.2 195.5,174.3 196.0,174.3 196.4,174.4 196.8,174.4 197.2,174.5 197.7,174.5 198.1,174.6 198.5,174.6 198.9,174.6 199.4,174.7 199.8,174.7 200.2,174.8 200.6,174.8 201.1,174.9 201.5,174.9 201.9,175.0 202.3,175.0 202.8,175.0 203.2,175.1 203.6,175.1 204.0,175.1 204.5,175.2 204.9,175.2 205.3,175.3 205.7,175.3 206.2,175.3 206.6,175.4 207.0,175.4 207.4,175.4 207.9,175.5 208.3,175.5 208.7,175.5 209.1,175.6 209.6,175.6 210.0,175.6 210.4,175.6 210.8,175.7 211.3,175.7 211.7,175.7 212.1,175.8 212.5,175.8 213.0,175.8 213.4,175.8 213.8,175.9 214.2,175.9 214.7,175.9 215.1,175.9 215.5,176.0 215.9,176.0" fill="none" stroke="#34aa34" stroke-width="1.1" stroke-linejoin="round"/>
<polyline points="46.5,177.4 46.9,177.4 47.3,177.4 47.8,177.4 48.2,177.4 48.6,177.4 49.0,177.4 49.5,177.4 49.9,177.4 50.3,177.4 50.7,177.4 51.2,177.4 51.6,177.4 52.0,177.4 52.4,177.4 52.9,177.4 53.3,177.4 53.7,177.4 54.1,177.4 54.6,177.4 55.0,177.4 55.4,177.4 55.8,177.4 56.3,177.4 56.7,177.4 57.1,177.4 57.5,177.4 58.0,177.4 58.4,177.4 58.8,177.4 59.2,177.4 59.7,177.4 60.1,177.4 60.5,177.4 60.9,177.4 61.4,177.4 61.8,177.4 62.2,177.4 62.6,177.4 63.1,177.4 63.5,177.4 63.9,177.4 64.3,177.4 64.8,177.4 65.2,177.4 65.6,177.4 66.0,177.4 66.5,177.4 66.9,177.4 67.3,177.4 67.7,177.4 68.2,177.4 68.6,177.4 69.0,177.4 69.4,177.4 69.9,177.4 70.3,177.4 70.7,177.4 71.1,177.4 71.6,177.4 72.0,177.4 72.4,177.4 72.8,177.4 73.3,177.4 73.7,177.4 74.1,177.4 74.5,177.4 74.9,177.4 75.4,177.4 75.8,177.3 76.2,177.3 76.6,177.1 77.1,176.9 77.5,176.7 77.9,176.5 78.3,176.2 78.8,175.8 79.2,175.4 79.6,175.0 80.0,174.6 80.5,174.1 80.9,173.5 81.3,172.9 81.7,172.3 82.2,171.7 82.6,171.0 83.0,170.3 83.4,169.6 83.9,168.8 84.3,168.0 84.7,167.2 85.1,166.3 85.6,165.5 86.0,164.6 86.4,163.7 86.8,162.7 87.3,161.8 87.7,160.8 88.1,159.8 88.5,158.8 89.0,157.8 89.4,156.8 89.8,155.8 90.2,154.8 90.7,153.8 91.1,152.7 91.5,151.7 91.9,150.7 92.4,149.6 92.8,148.6 93.2,147.6 93.6,146.6 94.1,145.6 94.5,144.6 94.9,143.6 95.3,142.7 95.8,141.8 96.2,140.8 96.6,139.9 97.0,139.1 97.5,138.2 97.9,137.4 98.3,136.6 98.7,135.8 99.2,135.1 99.6,134.4 100.0,133.7 100.4,133.0 100.9,132.4 101.3,131.9 101.7,131.3 102.1,130.8 102.6,130.3 103.0,129.9 103.4,129.5 103.8,129.2 104.2,128.9 104.7,128.6 105.1,128.4 105.5,128.2 105.9,128.1 106.4,128.0 106.8,127.9 107.2,127.9 107.6,127.9 108.1,127.9 108.5,128.0 108.9,128.0 109.3,128.1 109.8,128.2 110.2,128.3 110.6,128.4 111.0,128.5 111.5,128.7 111.9,128.8 112.3,129.0 112.7,129.1 113.2,129.3 113.6,129.5 114.0,129.7 114.4,130.0 114.9,130.2 115.3,130.4 115.7,130.7 116.1,130.9 116.6,131.2 117.0,131.5 117.4,131.8 117.8,132.0 118.3,132.3 118.7,132.6 119.1,133.0 119.5,133.3 120.0,133.6 120.4,133.9 120.8,134.3 121.2,134.6 121.7,135.0 122.1,135.3 122.5,135.7 122.9,136.0 123.4,136.4 123.8,136.8 124.2,137.1 124.6,137.5 125.1,137.9 125.5,138.3 125.9,138.7 126.3,139.0 126.8,139.4 127.2,139.8 127.6,140.2 128.0,140.6 128.5,141.0 128.9,141.4 129.3,141.8 129.7,142.2 130.2,142.6 130.6,143.0 131.0,143.4 131.4,143.8 131.8,144.1 132.3,144.5 132.7,144.9 133.1,145.3 133.5,145.7 134.0,146.1 134.4,146.5 134.8,146.9 135.2,147.3 135.7,147.6 136.1,148.0 136.5,148.4 136.9,148.8 137.4,149.2 137.8,149.5 138.2,149.9 138.6,150.3 139.1,150.6 139.5,151.0 139.9,151.4 140.3,151.7 140.8,152.1 141.2,152.4 141.6,152.8 142.0,153.1 142.5,153.5 142.9,153.8 143.3,154.2 143.7,154.5 144.2,154.8 144.6,155.1 145.0,155.5 145.4,155.8 145.9,156.1 146.3,156.4 146.7,156.7 147.1,157.1 147.6,157.4 148.0,157.7 148.4,158.0 148.8,158.3 149.3,158.5 149.7,158.8 150.1,159.1 150.5,159.4 151.0,159.7 151.4,160.0 151.8,160.2 152.2,160.5 152.7,160.8 153.1,161.0 153.5,161.3 153.9,161.5 154.4,161.8 154.8,162.0 155.2,162.3 155.6,162.5 156.1,162.8 156.5,163.0 156.9,163.2 157.3,163.5 157.8,163.7 158.2,163.9 158.6,164.1 159.0,164.4 159.4,164.6 159.9,164.8 160.3,165.0 160.7,165.2 161.1,165.4 161.6,165.6 162.0,165.8 162.4,166.0 162.8,166.2 163.3,166.4 163.7,166.5 164.1,166.7 164.5,166.9 165.0,167.1 165.4,167.2 165.8,167.4 166.2,167.6 166.7,167.8 167.1,167.9 167.5,168.1 167.9,168.2 168.4,168.4 168.8,168.5 169.2,168.7 169.6,168.8 170.1,169.0 170.5,169.1 170.9,169.3 171.3,169.4 171.8,169.5 172.2,169.7 172.6,169.8 173.0,169.9 173.5,170.1 173.9,170.2 174.3,170.3 174.7,170.4 175.2,170.6 175.6,170.7 176.0,170.8 176.4,170.9 176.9,171.0 177.3,171.1 177.7,171.2 178.1,171.3 178.6,171.4 179.0,171.6 179.4,171.7 179.8,171.8 180.3,171.9 180.7,171.9 181.1,172.0 181.5,172.1 182.0,172.2 182.4,172.3 182.8,172.4 183.2,172.5 183.7,172.6 184.1,172.7 184.5,172.7 184.9,172.8 185.4,172.9 185.8,173.0 186.2,173.1 186.6,173.1 187.1,173.2 187.5,173.3 187.9,173.3 188.3,173.4 188.7,173.5 189.2,173.6 189.6,173.6 190.0,173.7 190.4,173.8 190.9,173.8 191.3,173.9 191.7,173.9 192.1,174.0 192.6,174.1 193.0,174.1 193.4,174.2 193.8,174.2 194.3,174.3 194.7,174.3 195.1,174.4 195.5,174.4 196.0,174.5 196.4,174.5 196.8,174.6 197.2,174.6 197.7,174.7 198.1,174.7 198.5,174.8 198.9,174.8 199.4,174.9 199.8,174.9 200.2,175.0 200.6,175.0 201.1,175.0 201.5,175.1 201.9,175.1 202.3,175.2 202.8,175.2 203.2,175.2 203.6,175.3 204.0,175.3 204.5,175.3 204.9,175.4 205.3,175.4 205.7,175.5 206.2,175.5 206.6,175.5 207.0,175.6 207.4,175.6 207.9,175.6 208.3,175.6 208.7,175.7 209.1,175.7 209.6,175.7 210.0,175.8 210.4,175.8 210.8,175.8 211.3,175.8 211.7,175.9 212.1,175.9 212.5,175.9 213.0,175.9 213.4,176.0 213.8,176.0 214.2,176.0 214.7,176.0 215.1,176.1 215.5,176.1 215.9,176.1" fill="none" stroke="#2f9c2f" stroke-width="1.1" stroke-linejoin="round"/>
<polyline points="46.5,177.4 46.9,177.4 47.3,177.4 47.8,177.4 48.2,177.4 48.6,177.4 49.0,177.4 49.5,177.4 49.9,177.4 50.3,177.4 50.7,177.4 51.2,177.4 51.6,177.4 52.0,177.4 52.4,177.4 52.9,177.4 53.3,177.4 53.7,177.4 54.1,177.4 54.6,177.4 55.0,177.4 55.4,177.4 55.8,177.4 56.3,177.4 56.7,177.4 57.1,177.4 57.5,177.4 58.0,177.4 58.4,177.4 58.8,177.4 59.2,177.4 59.7,177.4 60.1,177.4 60.5,177.4 60.9,177.4 61.4,177.4 61.8,177.4 62.2,177.4 62.6,177.4 63.1,177.4 63.5,177.4 63.9,177.4 64.3,177.4 64.8,177.4 65.2,177.4 65.6,177.4 66.0,177.4 66.5,177.4 66.9,177.4 67.3,177.4 67.7,177.4 68.2,177.4 68.6,177.4 69.0,177.4 69.4,177.4 69.9,177.4 70.3,177.4 70.7,177.4 71.1,177.4 71.6,177.4 72.0,177.4 72.4,177.4 72.8,177.4 73.3,177.4 73.7,177.3 74.1,177.1 74.5,176.9 74.9,176.7 75.4,176.4 75.8,176.0 76.2,175.6 76.6,175.1 77.1,174.6 77.5,174.0 77.9,173.3 78.3,172.6 78.8,171.9 79.2,171.1 79.6,170.3 80.0,169.4 80.5,168.5 80.9,167.5 81.3,166.5 81.7,165.5 82.2,164.4 82.6,163.3 83.0,162.2 83.4,161.0 83.9,159.8 84.3,158.6 84.7,157.3 85.1,156.1 85.6,154.8 86.0,153.5 86.4,152.2 86.8,150.9 87.3,149.5 87.7,148.2 88.1,146.9 88.5,145.5 89.0,144.2 89.4,142.9 89.8,141.6 90.2,140.3 90.7,139.0 91.1,137.7 91.5,136.4 91.9,135.2 92.4,134.0 92.8,132.8 93.2,131.6 93.6,130.5 94.1,129.4 94.5,128.3 94.9,127.2 95.3,126.2 95.8,125.3 96.2,124.4 96.6,123.5 97.0,122.7 97.5,121.9 97.9,121.1 98.3,120.4 98.7,119.8 99.2,119.2 99.6,118.7 100.0,118.2 100.4,117.8 100.9,117.4 101.3,117.1 101.7,116.9 102.1,116.7 102.6,116.5 103.0,116.4 103.4,116.4 103.8,116.4 104.2,116.5 104.7,116.5 105.1,116.6 105.5,116.7 105.9,116.8 106.4,116.9 106.8,117.1 107.2,117.2 107.6,117.4 108.1,117.6 108.5,117.8 108.9,118.0 109.3,118.3 109.8,118.5 110.2,118.8 110.6,119.1 111.0,119.4 111.5,119.7 111.9,120.0 112.3,120.3 112.7,120.7 113.2,121.0 113.6,121.4 114.0,121.8 114.4,122.2 114.9,122.6 115.3,123.0 115.7,123.4 116.1,123.8 116.6,124.2 117.0,124.7 117.4,125.1 117.8,125.6 118.3,126.0 118.7,126.5 119.1,127.0 119.5,127.4 120.0,127.9 120.4,128.4 120.8,128.9 121.2,129.4 121.7,129.8 122.1,130.3 122.5,130.8 122.9,131.3 123.4,131.8 123.8,132.3 124.2,132.8 124.6,133.3 125.1,133.8 125.5,134.3 125.9,134.8 126.3,135.4 126.8,135.9 127.2,136.4 127.6,136.9 128.0,137.4 128.5,137.9 128.9,138.4 129.3,138.9 129.7,139.4 130.2,139.9 130.6,140.3 131.0,140.8 131.4,141.3 131.8,141.8 132.3,142.3 132.7,142.8 133.1,143.2 133.5,143.7 134.0,144.2 134.4,144.7 134.8,145.1 135.2,145.6 135.7,146.0 136.1,146.5 136.5,146.9 136.9,147.4 137.4,147.8 137.8,148.3 138.2,148.7 138.6,149.1 139.1,149.5 139.5,150.0 139.9,150.4 140.3,150.8 140.8,151.2 141.2,151.6 141.6,152.0 142.0,152.4 142.5,152.8 142.9,153.2 143.3,153.6 143.7,153.9 144.2,154.3 144.6,154.7 145.0,155.0 145.4,155.4 145.9,155.8 146.3,156.1 146.7,156.5 147.1,156.8 147.6,157.1 148.0,157.5 148.4,157.8 148.8,158.1 149.3,158.4 149.7,158.8 150.1,159.1 150.5,159.4 151.0,159.7 151.4,160.0 151.8,160.3 152.2,160.6 152.7,160.8 153.1,161.1 153.5,161.4 153.9,161.7 154.4,161.9 154.8,162.2 155.2,162.5 155.6,162.7 156.1,163.0 156.5,163.2 156.9,163.5 157.3,163.7 157.8,163.9 158.2,164.2 158.6,164.4 159.0,164.6 159.4,164.9 159.9,165.1 160.3,165.3 160.7,165.5 161.1,165.7 161.6,165.9 162.0,166.1 162.4,166.3 162.8,166.5 163.3,166.7 163.7,166.9 164.1,167.1 164.5,167.3 165.0,167.5 165.4,167.6 165.8,167.8 166.2,168.0 166.7,168.1 167.1,168.3 167.5,168.5 167.9,168.6 168.4,168.8 168.8,168.9 169.2,169.1 169.6,169.2 170.1,169.4 170.5,169.5 170.9,169.7 171.3,169.8 171.8,170.0 172.2,170.1 172.6,170.2 173.0,170.4 173.5,170.5 173.9,170.6 174.3,170.7 174.7,170.8 175.2,171.0 175.6,171.1 176.0,171.2 176.4,171.3 176.9,171.4 177.3,171.5 177.7,171.6 178.1,171.7 178.6,171.8 179.0,171.9 179.4,172.0 179.8,172.1 180.3,172.2 180.7,172.3 181.1,172.4 181.5,172.5 182.0,172.6 182.4,172.7 182.8,172.8 183.2,172.9 183.7,172.9 184.1,173.0 184.5,173.1 184.9,173.2 185.4,173.3 185.8,173.3 186.2,173.4 186.6,173.5 187.1,173.5 187.5,173.6 187.9,173.7 188.3,173.8 188.7,173.8 189.2,173.9 189.6,173.9 190.0,174.0 190.4,174.1 190.9,174.1 191.3,174.2 191.7,174.2 192.1,174.3 192.6,174.4 193.0,174.4 193.4,174.5 193.8,174.5 194.3,174.6 194.7,174.6 195.1,174.7 195.5,174.7 196.0,174.8 196.4,174.8 196.8,174.9 197.2,174.9 197.7,175.0 198.1,175.0 198.5,175.0 198.9,175.1 199.4,175.1 199.8,175.2 200.2,175.2 200.6,175.2 201.1,175.3 201.5,175.3 201.9,175.4 202.3,175.4 202.8,175.4 203.2,175.5 203.6,175.5 204.0,175.5 204.5,175.6 204.9,175.6 205.3,175.6 205.7,175.7 206.2,175.7 206.6,175.7 207.0,175.8 207.4,175.8 207.9,175.8 208.3,175.8 208.7,175.9 209.1,175.9 209.6,175.9 210.0,175.9 210.4,176.0 210.8,176.0 211.3,176.0 211.7,176.0 212.1,176.1 212.5,176.1 213.0,176.1 213.4,176.1 213.8,176.2 214.2,176.2 214.7,176.2 215.1,176.2 215.5,176.2 215.9,176.3" fill="none" stroke="#2b8e2b" stroke-width="1.1" stroke-linejoin="round"/>
<polyline points="46.5,177.4 46.9,177.4 47.3,177.4 47.8,177.4 48.2,177.4 48.6,177.4 49.0,177.4 49.5,177.4 49.9,177.4 50.3,177.4 50.7,177.4 51.2,177.4 51.6,177.4 52.0,177.4 52.4,177.4 52.9,177.4 53.3,177.4 53.7,177.4 54.1,177.4 54.6,177.4 55.0,177.4 55.4,177.4 55.8,177.4 56.3,177.4 56.7,177.4 57.1,177.4 57.5,177.4 58.0,177.4 58.4,177.4 58.8,177.4 59.2,177.4 59.7,177.4 60.1,177.4 60.5,177.4 60.9,177.4 61.4,177.4 61.8,177.4 62.2,177.4 62.6,177.4 63.1,177.4 63.5,177.4 63.9,177.4 64.3,177.4 64.8,177.4 65.2,177.4 65.6,177.4 66.0,177.4 66.5,177.4 66.9,177.4 67.3,177.4 67.7,177.4 68.2,177.4 68.6,177.4 69.0,177.4 69.4,177.4 69.9,177.2 70.3,177.0 70.7,176.7 71.1,176.3 71.6,175.9 72.0,175.3 72.4,174.6 72.8,173.9 73.3,173.0 73.7,172.1 74.1,171.1 74.5,170.0 74.9,168.9 75.4,167.6 75.8,166.3 76.2,165.0 76.6,163.5 77.1,162.0 77.5,160.5 77.9,158.8 78.3,157.2 78.8,155.4 79.2,153.7 79.6,151.9 80.0,150.0 80.5,148.1 80.9,146.2 81.3,144.3 81.7,142.3 82.2,140.3 82.6,138.3 83.0,136.3 83.4,134.3 83.9,132.3 84.3,130.3 84.7,128.3 85.1,126.3 85.6,124.3 86.0,122.4 86.4,120.4 86.8,118.5 87.3,116.7 87.7,114.8 88.1,113.0 88.5,111.3 89.0,109.6 89.4,107.9 89.8,106.3 90.2,104.8 90.7,103.3 91.1,101.9 91.5,100.5 91.9,99.2 92.4,98.0 92.8,96.9 93.2,95.8 93.6,94.9 94.1,94.0 94.5,93.2 94.9,92.4 95.3,91.8 95.8,91.3 96.2,90.8 96.6,90.4 97.0,90.2 97.5,90.0 97.9,89.9 98.3,89.9 98.7,89.9 99.2,90.0 99.6,90.1 100.0,90.2 100.4,90.4 100.9,90.5 101.3,90.8 101.7,91.0 102.1,91.3 102.6,91.5 103.0,91.9 103.4,92.2 103.8,92.6 104.2,93.0 104.7,93.4 105.1,93.8 105.5,94.3 105.9,94.7 106.4,95.2 106.8,95.7 107.2,96.3 107.6,96.8 108.1,97.4 108.5,97.9 108.9,98.5 109.3,99.1 109.8,99.8 110.2,100.4 110.6,101.0 111.0,101.7 111.5,102.4 111.9,103.0 112.3,103.7 112.7,104.4 113.2,105.1 113.6,105.9 114.0,106.6 114.4,107.3 114.9,108.0 115.3,108.8 115.7,109.5 116.1,110.3 116.6,111.0 117.0,111.8 117.4,112.5 117.8,113.3 118.3,114.0 118.7,114.8 119.1,115.6 119.5,116.3 120.0,117.1 120.4,117.8 120.8,118.6 121.2,119.4 121.7,120.1 122.1,120.9 122.5,121.6 122.9,122.4 123.4,123.1 123.8,123.9 124.2,124.6 124.6,125.4 125.1,126.1 125.5,126.8 125.9,127.6 126.3,128.3 126.8,129.0 127.2,129.7 127.6,130.4 128.0,131.1 128.5,131.8 128.9,132.5 129.3,133.2 129.7,133.9 130.2,134.5 130.6,135.2 131.0,135.9 131.4,136.5 131.8,137.2 132.3,137.8 132.7,138.4 133.1,139.1 133.5,139.7 134.0,140.3 134.4,140.9 134.8,141.5 135.2,142.1 135.7,142.7 136.1,143.3 136.5,143.8 136.9,144.4 137.4,145.0 137.8,145.5 138.2,146.0 138.6,146.6 139.1,147.1 139.5,147.6 139.9,148.1 140.3,148.7 140.8,149.2 141.2,149.6 141.6,150.1 142.0,150.6 142.5,151.1 142.9,151.5 143.3,152.0 143.7,152.5 144.2,152.9 144.6,153.3 145.0,153.8 145.4,154.2 145.9,154.6 146.3,155.0 146.7,155.4 147.1,155.8 147.6,156.2 148.0,156.6 148.4,157.0 148.8,157.4 149.3,157.7 149.7,158.1 150.1,158.4 150.5,158.8 151.0,159.1 151.4,159.5 151.8,159.8 152.2,160.1 152.7,160.5 153.1,160.8 153.5,161.1 153.9,161.4 154.4,161.7 154.8,162.0 155.2,162.3 155.6,162.6 156.1,162.8 156.5,163.1 156.9,163.4 157.3,163.7 157.8,163.9 158.2,164.2 158.6,164.4 159.0,164.7 159.4,164.9 159.9,165.1 160.3,165.4 160.7,165.6 161.1,165.8 161.6,166.1 162.0,166.3 162.4,166.5 162.8,166.7 163.3,166.9 163.7,167.1 164.1,167.3 164.5,167.5 165.0,167.7 165.4,167.9 165.8,168.1 166.2,168.2 166.7,168.4 167.1,168.6 167.5,168.8 167.9,168.9 168.4,169.1 168.8,169.2 169.2,169.4 169.6,169.6 170.1,169.7 170.5,169.9 170.9,170.0 171.3,170.1 171.8,170.3 172.2,170.4 172.6,170.6 173.0,170.7 173.5,170.8 173.9,170.9 174.3,171.1 174.7,171.2 175.2,171.3 175.6,171.4 176.0,171.5 176.4,171.7 176.9,171.8 177.3,171.9 177.7,172.0 178.1,172.1 178.6,172.2 179.0,172.3 179.4,172.4 179.8,172.5 180.3,172.6 180.7,172.7 181.1,172.8 181.5,172.9 182.0,172.9 182.4,173.0 182.8,173.1 183.2,173.2 183.7,173.3 184.1,173.4 184.5,173.4 184.9,173.5 185.4,173.6 185.8,173.7 186.2,173.7 186.6,173.8 187.1,173.9 187.5,173.9 187.9,174.0 188.3,174.1 188.7,174.1 189.2,174.2 189.6,174.3 190.0,174.3 190.4,174.4 190.9,174.4 191.3,174.5 191.7,174.5 192.1,174.6 192.6,174.7 193.0,174.7 193.4,174.8 193.8,174.8 194.3,174.9 194.7,174.9 195.1,175.0 195.5,175.0 196.0,175.0 196.4,175.1 196.8,175.1 197.2,175.2 197.7,175.2 198.1,175.3 198.5,175.3 198.9,175.3 199.4,175.4 199.8,175.4 200.2,175.5 200.6,175.5 201.1,175.5 201.5,175.6 201.9,175.6 202.3,175.6 202.8,175.7 203.2,175.7 203.6,175.7 204.0,175.8 204.5,175.8 204.9,175.8 205.3,175.8 205.7,175.9 206.2,175.9 206.6,175.9 207.0,176.0 207.4,176.0 207.9,176.0 208.3,176.0 208.7,176.1 209.1,176.1 209.6,176.1 210.0,176.1 210.4,176.2 210.8,176.2 211.3,176.2 211.7,176.2 212.1,176.2 212.5,176.3 213.0,176.3 213.4,176.3 213.8,176.3 214.2,176.3 214.7,176.4 215.1,176.4 215.5,176.4 215.9,176.4" fill="none" stroke="#2a7c2a" stroke-width="1.1" stroke-linejoin="round"/>
<polyline points="46.5,177.4 46.9,177.4 47.3,177.4 47.8,177.4 48.2,177.4 48.6,177.4 49.0,177.4 49.5,177.4 49.9,177.4 50.3,177.4 50.7,177.4 51.2,177.4 51.6,177.4 52.0,177.4 52.4,177.4 52.9,177.4 53.3,177.4 53.7,177.4 54.1,177.4 54.6,177.4 55.0,177.4 55.4,177.4 55.8,177.4 56.3,177.4 56.7,177.4 57.1,177.4 57.5,177.4 58.0,177.4 58.4,177.4 58.8,177.4 59.2,177.4 59.7,177.4 60.1,177.4 60.5,177.4 60.9,177.4 61.4,177.4 61.8,177.4 62.2,177.4 62.6,177.4 63.1,177.4 63.5,177.4 63.9,177.4 64.3,177.4 64.8,177.4 65.2,177.4 65.6,177.4 66.0,177.4 66.5,177.4 66.9,177.4 67.3,177.4 67.7,177.3 68.2,177.1 68.6,176.8 69.0,176.4 69.4,175.8 69.9,175.1 70.3,174.4 70.7,173.5 71.1,172.5 71.6,171.4 72.0,170.2 72.4,168.9 72.8,167.5 73.3,166.0 73.7,164.4 74.1,162.7 74.5,161.0 74.9,159.1 75.4,157.2 75.8,155.2 76.2,153.2 76.6,151.1 77.1,148.9 77.5,146.7 77.9,144.4 78.3,142.1 78.8,139.8 79.2,137.4 79.6,135.0 80.0,132.6 80.5,130.2 80.9,127.7 81.3,125.3 81.7,122.8 82.2,120.4 82.6,118.0 83.0,115.6 83.4,113.2 83.9,110.8 84.3,108.5 84.7,106.3 85.1,104.0 85.6,101.9 86.0,99.7 86.4,97.7 86.8,95.7 87.3,93.8 87.7,91.9 88.1,90.2 88.5,88.5 89.0,86.9 89.4,85.4 89.8,83.9 90.2,82.6 90.7,81.4 91.1,80.3 91.5,79.3 91.9,78.4 92.4,77.6 92.8,76.9 93.2,76.4 93.6,75.9 94.1,75.6 94.5,75.3 94.9,75.2 95.3,75.2 95.8,75.3 96.2,75.4 96.6,75.5 97.0,75.6 97.5,75.8 97.9,76.1 98.3,76.3 98.7,76.6 99.2,77.0 99.6,77.3 100.0,77.7 100.4,78.1 100.9,78.6 101.3,79.1 101.7,79.6 102.1,80.1 102.6,80.7 103.0,81.2 103.4,81.8 103.8,82.5 104.2,83.1 104.7,83.8 105.1,84.5 105.5,85.2 105.9,85.9 106.4,86.7 106.8,87.4 107.2,88.2 107.6,89.0 108.1,89.8 108.5,90.6 108.9,91.4 109.3,92.3 109.8,93.1 110.2,94.0 110.6,94.8 111.0,95.7 111.5,96.6 111.9,97.5 112.3,98.4 112.7,99.3 113.2,100.2 113.6,101.1 114.0,102.0 114.4,102.9 114.9,103.8 115.3,104.7 115.7,105.7 116.1,106.6 116.6,107.5 117.0,108.4 117.4,109.3 117.8,110.2 118.3,111.1 118.7,112.1 119.1,113.0 119.5,113.9 120.0,114.8 120.4,115.7 120.8,116.5 121.2,117.4 121.7,118.3 122.1,119.2 122.5,120.1 122.9,120.9 123.4,121.8 123.8,122.6 124.2,123.5 124.6,124.3 125.1,125.1 125.5,126.0 125.9,126.8 126.3,127.6 126.8,128.4 127.2,129.2 127.6,130.0 128.0,130.7 128.5,131.5 128.9,132.3 129.3,133.0 129.7,133.8 130.2,134.5 130.6,135.2 131.0,135.9 131.4,136.7 131.8,137.4 132.3,138.0 132.7,138.7 133.1,139.4 133.5,140.1 134.0,140.7 134.4,141.4 134.8,142.0 135.2,142.6 135.7,143.3 136.1,143.9 136.5,144.5 136.9,145.1 137.4,145.6 137.8,146.2 138.2,146.8 138.6,147.3 139.1,147.9 139.5,148.4 139.9,149.0 140.3,149.5 140.8,150.0 141.2,150.5 141.6,151.0 142.0,151.5 142.5,152.0 142.9,152.5 143.3,153.0 143.7,153.4 144.2,153.9 144.6,154.3 145.0,154.8 145.4,155.2 145.9,155.6 146.3,156.0 146.7,156.4 147.1,156.8 147.6,157.2 148.0,157.6 148.4,158.0 148.8,158.4 149.3,158.8 149.7,159.1 150.1,159.5 150.5,159.8 151.0,160.2 151.4,160.5 151.8,160.8 152.2,161.2 152.7,161.5 153.1,161.8 153.5,162.1 153.9,162.4 154.4,162.7 154.8,163.0 155.2,163.3 155.6,163.5 156.1,163.8 156.5,164.1 156.9,164.3 157.3,164.6 157.8,164.9 158.2,165.1 158.6,165.3 159.0,165.6 159.4,165.8 159.9,166.1 160.3,166.3 160.7,166.5 161.1,166.7 161.6,166.9 162.0,167.1 162.4,167.3 162.8,167.5 163.3,167.7 163.7,167.9 164.1,168.1 164.5,168.3 165.0,168.5 165.4,168.7 165.8,168.8 166.2,169.0 166.7,169.2 167.1,169.3 167.5,169.5 167.9,169.7 168.4,169.8 168.8,170.0 169.2,170.1 169.6,170.3 170.1,170.4 170.5,170.6 170.9,170.7 171.3,170.8 171.8,171.0 172.2,171.1 172.6,171.2 173.0,171.3 173.5,171.5 173.9,171.6 174.3,171.7 174.7,171.8 175.2,171.9 175.6,172.0 176.0,172.1 176.4,172.2 176.9,172.3 177.3,172.4 177.7,172.5 178.1,172.6 178.6,172.7 179.0,172.8 179.4,172.9 179.8,173.0 180.3,173.1 180.7,173.2 181.1,173.3 181.5,173.4 182.0,173.4 182.4,173.5 182.8,173.6 183.2,173.7 183.7,173.7 184.1,173.8 184.5,173.9 184.9,174.0 185.4,174.0 185.8,174.1 186.2,174.2 186.6,174.2 187.1,174.3 187.5,174.3 187.9,174.4 188.3,174.5 188.7,174.5 189.2,174.6 189.6,174.6 190.0,174.7 190.4,174.7 190.9,174.8 191.3,174.8 191.7,174.9 192.1,174.9 192.6,175.0 193.0,175.0 193.4,175.1 193.8,175.1 194.3,175.2 194.7,175.2 195.1,175.3 195.5,175.3 196.0,175.3 196.4,175.4 196.8,175.4 197.2,175.5 197.7,175.5 198.1,175.5 198.5,175.6 198.9,175.6 199.4,175.6 199.8,175.7 200.2,175.7 200.6,175.7 201.1,175.8 201.5,175.8 201.9,175.8 202.3,175.9 202.8,175.9 203.2,175.9 203.6,175.9 204.0,176.0 204.5,176.0 204.9,176.0 205.3,176.1 205.7,176.1 206.2,176.1 206.6,176.1 207.0,176.2 207.4,176.2 207.9,176.2 208.3,176.2 208.7,176.2 209.1,176.3 209.6,176.3 210.0,176.3 210.4,176.3 210.8,176.4 211.3,176.4 211.7,176.4 212.1,176.4 212.5,176.4 213.0,176.4 213.4,176.5 213.8,176.5 214.2,176.5 214.7,176.5 215.1,176.5 215.5,176.5 215.9,176.6" fill="none" stroke="#2a6e2a" stroke-width="1.1" stroke-linejoin="round"/>
<polyline points="46.5,177.4 46.9,177.4 47.3,177.4 47.8,177.4 48.2,177.4 48.6,177.4 49.0,177.4 49.5,177.4 49.9,177.4 50.3,177.4 50.7,177.4 51.2,177.4 51.6,177.4 52.0,177.4 52.4,177.4 52.9,177.4 53.3,177.4 53.7,177.4 54.1,177.4 54.6,177.4 55.0,177.4 55.4,177.4 55.8,177.4 56.3,177.4 56.7,177.4 57.1,177.4 57.5,177.4 58.0,177.4 58.4,177.4 58.8,177.4 59.2,177.4 59.7,177.4 60.1,177.4 60.5,177.4 60.9,177.4 61.4,177.4 61.8,177.4 62.2,177.4 62.6,177.4 63.1,177.4 63.5,177.4 63.9,177.4 64.3,177.4 64.8,177.4 65.2,177.4 65.6,177.4 66.0,177.4 66.5,177.2 66.9,176.8 67.3,176.3 67.7,175.7 68.2,174.9 68.6,174.0 69.0,173.0 69.4,171.8 69.9,170.4 70.3,169.0 70.7,167.4 71.1,165.7 71.6,163.9 72.0,161.9 72.4,159.9 72.8,157.7 73.3,155.4 73.7,153.1 74.1,150.6 74.5,148.1 74.9,145.5 75.4,142.9 75.8,140.1 76.2,137.4 76.6,134.5 77.1,131.6 77.5,128.7 77.9,125.8 78.3,122.8 78.8,119.9 79.2,116.9 79.6,113.9 80.0,111.0 80.5,108.0 80.9,105.1 81.3,102.2 81.7,99.4 82.2,96.6 82.6,93.8 83.0,91.1 83.4,88.5 83.9,85.9 84.3,83.5 84.7,81.1 85.1,78.8 85.6,76.6 86.0,74.5 86.4,72.5 86.8,70.6 87.3,68.9 87.7,67.2 88.1,65.7 88.5,64.3 89.0,63.1 89.4,62.0 89.8,61.0 90.2,60.2 90.7,59.5 91.1,58.9 91.5,58.6 91.9,58.3 92.4,58.2 92.8,58.2 93.2,58.3 93.6,58.4 94.1,58.5 94.5,58.7 94.9,58.9 95.3,59.1 95.8,59.4 96.2,59.8 96.6,60.1 97.0,60.5 97.5,60.9 97.9,61.4 98.3,61.9 98.7,62.4 99.2,63.0 99.6,63.5 100.0,64.1 100.4,64.8 100.9,65.4 101.3,66.1 101.7,66.8 102.1,67.5 102.6,68.3 103.0,69.0 103.4,69.8 103.8,70.6 104.2,71.5 104.7,72.3 105.1,73.1 105.5,74.0 105.9,74.9 106.4,75.8 106.8,76.7 107.2,77.6 107.6,78.6 108.1,79.5 108.5,80.5 108.9,81.4 109.3,82.4 109.8,83.3 110.2,84.3 110.6,85.3 111.0,86.3 111.5,87.3 111.9,88.3 112.3,89.3 112.7,90.3 113.2,91.3 113.6,92.3 114.0,93.3 114.4,94.3 114.9,95.3 115.3,96.3 115.7,97.3 116.1,98.3 116.6,99.3 117.0,100.3 117.4,101.3 117.8,102.3 118.3,103.3 118.7,104.3 119.1,105.3 119.5,106.3 120.0,107.2 120.4,108.2 120.8,109.2 121.2,110.1 121.7,111.0 122.1,112.0 122.5,112.9 122.9,113.8 123.4,114.8 123.8,115.7 124.2,116.6 124.6,117.5 125.1,118.4 125.5,119.2 125.9,120.1 126.3,121.0 126.8,121.8 127.2,122.7 127.6,123.5 128.0,124.4 128.5,125.2 128.9,126.0 129.3,126.8 129.7,127.6 130.2,128.4 130.6,129.1 131.0,129.9 131.4,130.7 131.8,131.4 132.3,132.2 132.7,132.9 133.1,133.6 133.5,134.3 134.0,135.0 134.4,135.7 134.8,136.4 135.2,137.1 135.7,137.8 136.1,138.4 136.5,139.1 136.9,139.7 137.4,140.3 137.8,141.0 138.2,141.6 138.6,142.2 139.1,142.8 139.5,143.4 139.9,143.9 140.3,144.5 140.8,145.1 141.2,145.6 141.6,146.2 142.0,146.7 142.5,147.2 142.9,147.8 143.3,148.3 143.7,148.8 144.2,149.3 144.6,149.8 145.0,150.2 145.4,150.7 145.9,151.2 146.3,151.6 146.7,152.1 147.1,152.5 147.6,153.0 148.0,153.4 148.4,153.8 148.8,154.3 149.3,154.7 149.7,155.1 150.1,155.5 150.5,155.9 151.0,156.2 151.4,156.6 151.8,157.0 152.2,157.3 152.7,157.7 153.1,158.1 153.5,158.4 153.9,158.7 154.4,159.1 154.8,159.4 155.2,159.7 155.6,160.0 156.1,160.4 156.5,160.7 156.9,161.0 157.3,161.3 157.8,161.6 158.2,161.8 158.6,162.1 159.0,162.4 159.4,162.7 159.9,162.9 160.3,163.2 160.7,163.4 161.1,163.7 161.6,163.9 162.0,164.2 162.4,164.4 162.8,164.7 163.3,164.9 163.7,165.1 164.1,165.3 164.5,165.6 165.0,165.8 165.4,166.0 165.8,166.2 166.2,166.4 166.7,166.6 167.1,166.8 167.5,167.0 167.9,167.2 168.4,167.4 168.8,167.5 169.2,167.7 169.6,167.9 170.1,168.1 170.5,168.2 170.9,168.4 171.3,168.6 171.8,168.7 172.2,168.9 172.6,169.0 173.0,169.2 173.5,169.3 173.9,169.5 174.3,169.6 174.7,169.8 175.2,169.9 175.6,170.0 176.0,170.2 176.4,170.3 176.9,170.4 177.3,170.6 177.7,170.7 178.1,170.8 178.6,170.9 179.0,171.0 179.4,171.1 179.8,171.3 180.3,171.4 180.7,171.5 181.1,171.6 181.5,171.7 182.0,171.8 182.4,171.9 182.8,172.0 183.2,172.1 183.7,172.2 184.1,172.3 184.5,172.4 184.9,172.5 185.4,172.5 185.8,172.6 186.2,172.7 186.6,172.8 187.1,172.9 187.5,173.0 187.9,173.0 188.3,173.1 188.7,173.2 189.2,173.3 189.6,173.3 190.0,173.4 190.4,173.5 190.9,173.5 191.3,173.6 191.7,173.7 192.1,173.7 192.6,173.8 193.0,173.9 193.4,173.9 193.8,174.0 194.3,174.1 194.7,174.1 195.1,174.2 195.5,174.2 196.0,174.3 196.4,174.3 196.8,174.4 197.2,174.4 197.7,174.5 198.1,174.5 198.5,174.6 198.9,174.6 199.4,174.7 199.8,174.7 200.2,174.8 200.6,174.8 201.1,174.9 201.5,174.9 201.9,175.0 202.3,175.0 202.8,175.0 203.2,175.1 203.6,175.1 204.0,175.2 204.5,175.2 204.9,175.2 205.3,175.3 205.7,175.3 206.2,175.3 206.6,175.4 207.0,175.4 207.4,175.4 207.9,175.5 208.3,175.5 208.7,175.5 209.1,175.6 209.6,175.6 210.0,175.6 210.4,175.7 210.8,175.7 211.3,175.7 211.7,175.8 212.1,175.8 212.5,175.8 213.0,175.8 213.4,175.9 213.8,175.9 214.2,175.9 214.7,175.9 215.1,176.0 215.5,176.0 215.9,176.0" fill="none" stroke="#f5a445" stroke-width="1.1" stroke-linejoin="round"/>
<polyline points="46.5,177.4 46.9,177.4 47.3,177.4 47.8,177.4 48.2,177.4 48.6,177.4 49.0,177.4 49.5,177.4 49.9,177.4 50.3,177.4 50.7,177.4 51.2,177.4 51.6,177.4 52.0,177.4 52.4,177.4 52.9,177.4 53.3,177.4 53.7,177.4 54.1,177.4 54.6,177.4 55.0,177.4 55.4,177.4 55.8,177.4 56.3,177.4 56.7,177.4 57.1,177.4 57.5,177.4 58.0,177.4 58.4,177.4 58.8,177.4 59.2,177.4 59.7,177.4 60.1,177.4 60.5,177.4 60.9,177.4 61.4,177.4 61.8,177.4 62.2,177.4 62.6,177.4 63.1,177.4 63.5,177.4 63.9,177.4 64.3,177.4 64.8,177.4 65.2,177.2 65.6,176.9 66.0,176.3 66.5,175.6 66.9,174.7 67.3,173.7 67.7,172.4 68.2,171.0 68.6,169.5 69.0,167.7 69.4,165.8 69.9,163.8 70.3,161.6 70.7,159.3 71.1,156.8 71.6,154.2 72.0,151.5 72.4,148.7 72.8,145.7 73.3,142.7 73.7,139.5 74.1,136.3 74.5,133.0 74.9,129.6 75.4,126.2 75.8,122.7 76.2,119.1 76.6,115.5 77.1,111.9 77.5,108.3 77.9,104.7 78.3,101.0 78.8,97.4 79.2,93.8 79.6,90.2 80.0,86.7 80.5,83.2 80.9,79.7 81.3,76.3 81.7,73.0 82.2,69.8 82.6,66.6 83.0,63.6 83.4,60.6 83.9,57.8 84.3,55.0 84.7,52.4 85.1,50.0 85.6,47.6 86.0,45.4 86.4,43.4 86.8,41.5 87.3,39.7 87.7,38.1 88.1,36.7 88.5,35.5 89.0,34.4 89.4,33.5 89.8,32.8 90.2,32.2 90.7,31.9 91.1,31.7 91.5,31.7 91.9,31.7 92.4,31.9 92.8,32.0 93.2,32.3 93.6,32.6 94.1,32.9 94.5,33.3 94.9,33.7 95.3,34.2 95.8,34.8 96.2,35.4 96.6,36.0 97.0,36.7 97.5,37.4 97.9,38.2 98.3,39.0 98.7,39.8 99.2,40.7 99.6,41.6 100.0,42.6 100.4,43.5 100.9,44.5 101.3,45.6 101.7,46.7 102.1,47.8 102.6,48.9 103.0,50.0 103.4,51.2 103.8,52.4 104.2,53.6 104.7,54.8 105.1,56.0 105.5,57.3 105.9,58.6 106.4,59.9 106.8,61.2 107.2,62.5 107.6,63.8 108.1,65.1 108.5,66.4 108.9,67.8 109.3,69.1 109.8,70.5 110.2,71.8 110.6,73.2 111.0,74.5 111.5,75.9 111.9,77.3 112.3,78.6 112.7,80.0 113.2,81.3 113.6,82.7 114.0,84.0 114.4,85.4 114.9,86.7 115.3,88.0 115.7,89.4 116.1,90.7 116.6,92.0 117.0,93.3 117.4,94.6 117.8,95.9 118.3,97.2 118.7,98.4 119.1,99.7 119.5,100.9 120.0,102.2 120.4,103.4 120.8,104.6 121.2,105.8 121.7,107.0 122.1,108.2 122.5,109.4 122.9,110.5 123.4,111.7 123.8,112.8 124.2,113.9 124.6,115.0 125.1,116.1 125.5,117.2 125.9,118.3 126.3,119.3 126.8,120.4 127.2,121.4 127.6,122.4 128.0,123.4 128.5,124.4 128.9,125.3 129.3,126.3 129.7,127.2 130.2,128.2 130.6,129.1 131.0,130.0 131.4,130.9 131.8,131.8 132.3,132.6 132.7,133.5 133.1,134.3 133.5,135.1 134.0,135.9 134.4,136.7 134.8,137.5 135.2,138.3 135.7,139.0 136.1,139.8 136.5,140.5 136.9,141.2 137.4,142.0 137.8,142.7 138.2,143.3 138.6,144.0 139.1,144.7 139.5,145.3 139.9,146.0 140.3,146.6 140.8,147.2 141.2,147.8 141.6,148.4 142.0,149.0 142.5,149.6 142.9,150.1 143.3,150.7 143.7,151.2 144.2,151.7 144.6,152.3 145.0,152.8 145.4,153.3 145.9,153.8 146.3,154.3 146.7,154.7 147.1,155.2 147.6,155.6 148.0,156.1 148.4,156.5 148.8,157.0 149.3,157.4 149.7,157.8 150.1,158.2 150.5,158.6 151.0,159.0 151.4,159.4 151.8,159.7 152.2,160.1 152.7,160.5 153.1,160.8 153.5,161.2 153.9,161.5 154.4,161.8 154.8,162.2 155.2,162.5 155.6,162.8 156.1,163.1 156.5,163.4 156.9,163.7 157.3,164.0 157.8,164.3 158.2,164.5 158.6,164.8 159.0,165.1 159.4,165.3 159.9,165.6 160.3,165.8 160.7,166.1 161.1,166.3 161.6,166.5 162.0,166.8 162.4,167.0 162.8,167.2 163.3,167.4 163.7,167.6 164.1,167.8 164.5,168.0 165.0,168.2 165.4,168.4 165.8,168.6 166.2,168.8 166.7,169.0 167.1,169.2 167.5,169.3 167.9,169.5 168.4,169.7 168.8,169.8 169.2,170.0 169.6,170.1 170.1,170.3 170.5,170.4 170.9,170.6 171.3,170.7 171.8,170.9 172.2,171.0 172.6,171.1 173.0,171.3 173.5,171.4 173.9,171.5 174.3,171.6 174.7,171.8 175.2,171.9 175.6,172.0 176.0,172.1 176.4,172.2 176.9,172.3 177.3,172.4 177.7,172.5 178.1,172.6 178.6,172.7 179.0,172.8 179.4,172.9 179.8,173.0 180.3,173.1 180.7,173.2 181.1,173.3 181.5,173.4 182.0,173.5 182.4,173.5 182.8,173.6 183.2,173.7 183.7,173.8 184.1,173.8 184.5,173.9 184.9,174.0 185.4,174.1 185.8,174.1 186.2,174.2 186.6,174.3 187.1,174.3 187.5,174.4 187.9,174.5 188.3,174.5 188.7,174.6 189.2,174.6 189.6,174.7 190.0,174.7 190.4,174.8 190.9,174.8 191.3,174.9 191.7,175.0 192.1,175.0 192.6,175.0 193.0,175.1 193.4,175.1 193.8,175.2 194.3,175.2 194.7,175.3 195.1,175.3 195.5,175.4 196.0,175.4 196.4,175.4 196.8,175.5 197.2,175.5 197.7,175.6 198.1,175.6 198.5,175.6 198.9,175.7 199.4,175.7 199.8,175.7 200.2,175.8 200.6,175.8 201.1,175.8 201.5,175.9 201.9,175.9 202.3,175.9 202.8,176.0 203.2,176.0 203.6,176.0 204.0,176.0 204.5,176.1 204.9,176.1 205.3,176.1 205.7,176.1 206.2,176.2 206.6,176.2 207.0,176.2 207.4,176.2 207.9,176.3 208.3,176.3 208.7,176.3 209.1,176.3 209.6,176.3 210.0,176.4 210.4,176.4 210.8,176.4 211.3,176.4 211.7,176.4 212.1,176.5 212.5,176.5 213.0,176.5 213.4,176.5 213.8,176.5 214.2,176.5 214.7,176.6 215.1,176.6 215.5,176.6 215.9,176.6" fill="none" stroke="#2a2a2a" stroke-width="1.1" stroke-linejoin="round"/>
<rect x="147.5" y="31.7" width="61.5" height="118.8" fill="#fff" stroke="#888" stroke-width="0.8"/>
<line x1="148.50" y1="38.60" x2="167.50" y2="38.60" stroke="#2a2a2a" stroke-width="1.1"/>
<text x="170.40" y="41.90" font-size="9" text-anchor="start" fill="#111" stroke="#111" stroke-width="0.15">1atm</text>
<line x1="148.50" y1="49.33" x2="167.50" y2="49.33" stroke="#2a6e2a" stroke-width="1.1"/>
<text x="170.40" y="52.63" font-size="9" text-anchor="start" fill="#2a6e2a" stroke="#2a6e2a" stroke-width="0.15">1.1GPa</text>
<line x1="148.50" y1="60.06" x2="167.50" y2="60.06" stroke="#2a7c2a" stroke-width="1.1"/>
<text x="170.40" y="63.36" font-size="9" text-anchor="start" fill="#2a7c2a" stroke="#2a7c2a" stroke-width="0.15">2.0GPa</text>
<line x1="148.50" y1="70.79" x2="167.50" y2="70.79" stroke="#2b8e2b" stroke-width="1.1"/>
<text x="170.40" y="74.09" font-size="9" text-anchor="start" fill="#2b8e2b" stroke="#2b8e2b" stroke-width="0.15">3.3GPa</text>
<line x1="148.50" y1="81.52" x2="167.50" y2="81.52" stroke="#2f9c2f" stroke-width="1.1"/>
<text x="170.40" y="84.82" font-size="9" text-anchor="start" fill="#2f9c2f" stroke="#2f9c2f" stroke-width="0.15">4.6GPa</text>
<line x1="148.50" y1="92.25" x2="167.50" y2="92.25" stroke="#34aa34" stroke-width="1.1"/>
<text x="170.40" y="95.55" font-size="9" text-anchor="start" fill="#34aa34" stroke="#34aa34" stroke-width="0.15">5.6GPa</text>
<line x1="148.50" y1="102.98" x2="167.50" y2="102.98" stroke="#3ab63a" stroke-width="1.1"/>
<text x="170.40" y="106.28" font-size="9" text-anchor="start" fill="#3ab63a" stroke="#3ab63a" stroke-width="0.15">6.5GPa</text>
<line x1="148.50" y1="113.71" x2="167.50" y2="113.71" stroke="#44c044" stroke-width="1.1"/>
<text x="170.40" y="117.01" font-size="9" text-anchor="start" fill="#3cb83c" stroke="#3cb83c" stroke-width="0.15">7.8GPa</text>
<line x1="148.50" y1="124.44" x2="167.50" y2="124.44" stroke="#4cc84c" stroke-width="1.1"/>
<text x="170.40" y="127.74" font-size="9" text-anchor="start" fill="#3cbc3c" stroke="#3cbc3c" stroke-width="0.15">9.0GPa</text>
<line x1="148.50" y1="135.17" x2="167.50" y2="135.17" stroke="#58d058" stroke-width="1.1"/>
<text x="170.40" y="138.47" font-size="9" text-anchor="start" fill="#44c044" stroke="#44c044" stroke-width="0.15">10.6GPa</text>
<line x1="148.50" y1="145.90" x2="167.50" y2="145.90" stroke="#f5a445" stroke-width="1.1"/>
<text x="170.40" y="149.20" font-size="9" text-anchor="start" fill="#f5a445" stroke="#f5a445" stroke-width="0.15">Released</text>
<rect x="265.70" y="1.70" width="171.70" height="180.10" fill="none" stroke="#3a3a3a" stroke-width="1.1"/>
<line x1="278.90" y1="181.80" x2="278.90" y2="184.80" stroke="#3a3a3a" stroke-width="1"/>
<line x1="331.62" y1="181.80" x2="331.62" y2="184.80" stroke="#3a3a3a" stroke-width="1"/>
<line x1="384.34" y1="181.80" x2="384.34" y2="184.80" stroke="#3a3a3a" stroke-width="1"/>
<line x1="437.06" y1="181.80" x2="437.06" y2="184.80" stroke="#3a3a3a" stroke-width="1"/>
<line x1="305.26" y1="181.80" x2="305.26" y2="183.80" stroke="#3a3a3a" stroke-width="1"/>
<line x1="357.98" y1="181.80" x2="357.98" y2="183.80" stroke="#3a3a3a" stroke-width="1"/>
<line x1="410.70" y1="181.80" x2="410.70" y2="183.80" stroke="#3a3a3a" stroke-width="1"/>
<text x="278.90" y="195.50" font-size="10.5" text-anchor="middle" fill="#222" stroke="#222" stroke-width="0.3">0</text>
<text x="331.62" y="195.50" font-size="10.5" text-anchor="middle" fill="#222" stroke="#222" stroke-width="0.3">4</text>
<text x="384.34" y="195.50" font-size="10.5" text-anchor="middle" fill="#222" stroke="#222" stroke-width="0.3">8</text>
<text x="437.06" y="195.50" font-size="10.5" text-anchor="middle" fill="#222" stroke="#222" stroke-width="0.3">12</text>
<line x1="262.70" y1="136.00" x2="265.70" y2="136.00" stroke="#3a3a3a" stroke-width="1"/>
<line x1="262.70" y1="76.24" x2="265.70" y2="76.24" stroke="#3a3a3a" stroke-width="1"/>
<line x1="262.70" y1="16.48" x2="265.70" y2="16.48" stroke="#3a3a3a" stroke-width="1"/>
<line x1="263.70" y1="165.88" x2="265.70" y2="165.88" stroke="#3a3a3a" stroke-width="1"/>
<line x1="263.70" y1="106.12" x2="265.70" y2="106.12" stroke="#3a3a3a" stroke-width="1"/>
<line x1="263.70" y1="46.36" x2="265.70" y2="46.36" stroke="#3a3a3a" stroke-width="1"/>
<text x="260.00" y="140.20" font-size="10.5" text-anchor="end" fill="#222" stroke="#222" stroke-width="0.3">600</text>
<text x="260.00" y="80.44" font-size="10.5" text-anchor="end" fill="#222" stroke="#222" stroke-width="0.3">640</text>
<text x="260.00" y="20.68" font-size="10.5" text-anchor="end" fill="#222" stroke="#222" stroke-width="0.3">680</text>
<text x="355.00" y="211.00" font-size="10.5" text-anchor="middle" fill="#222" stroke="#222" stroke-width="0.3">Pressure/GPa</text>
<text x="237.50" y="91.50" font-size="10.5" text-anchor="middle" fill="#222" stroke="#222" stroke-width="0.3" transform="rotate(-90 237.5 91.5)">Wavelength/nm</text>
<text x="225.80" y="12.80" font-size="12.5" text-anchor="start" fill="#222" stroke="#222" stroke-width="0.3">(b)</text>
<text x="277.60" y="25.00" font-size="13" text-anchor="start" fill="#222" stroke="#222" stroke-width="0.3">Slope:9.40 nm/GPa</text>
<line x1="278.90" y1="164.39" x2="418.61" y2="14.69" stroke="#3aaa3a" stroke-width="1.2"/>
<defs><radialGradient id="gdot" cx="0.4" cy="0.35" r="0.7"><stop offset="0" stop-color="#8be08b"/><stop offset="0.5" stop-color="#2e9e2e"/><stop offset="1" stop-color="#1a6a1a"/></radialGradient></defs>
<circle cx="278.90" cy="164.39" r="2.7" fill="url(#gdot)"/>
<circle cx="293.40" cy="148.55" r="2.7" fill="url(#gdot)"/>
<circle cx="305.26" cy="134.06" r="2.7" fill="url(#gdot)"/>
<circle cx="322.39" cy="118.52" r="2.7" fill="url(#gdot)"/>
<circle cx="339.53" cy="98.95" r="2.7" fill="url(#gdot)"/>
<circle cx="352.71" cy="82.96" r="2.7" fill="url(#gdot)"/>
<circle cx="364.57" cy="69.52" r="2.7" fill="url(#gdot)"/>
<circle cx="381.70" cy="46.96" r="2.7" fill="url(#gdot)"/>
<circle cx="397.52" cy="37.55" r="2.7" fill="url(#gdot)"/>
<circle cx="418.61" cy="20.07" r="2.7" fill="url(#gdot)"/>
<rect x="501.1" y="0" width="173.6" height="23.6" fill="#050505"/><rect x="501.1" y="0" width="173.6" height="1.1" fill="#9a9a9a"/>
<g filter="url(#bl03)"><ellipse cx="509.30" cy="13" rx="7.3" ry="7.9" fill="#f6f3ec"/><path d="M502.50,12.50 L504.70,9.20 L507.30,8.80 L509.90,11.00 L510.90,14.00 L508.90,17.20 L505.50,18.00 L502.70,16.20 Z" fill="#f8b010"/><path d="M506.10,9.00 l0.2,-1.8" stroke="#f8b010" stroke-width="0.5"/></g>
<g filter="url(#bl03)"><ellipse cx="524.78" cy="13" rx="7.3" ry="7.9" fill="#f6f3ec"/><path d="M517.98,12.50 L520.18,9.20 L522.78,8.80 L525.38,11.00 L526.38,14.00 L524.38,17.20 L520.98,18.00 L518.18,16.20 Z" fill="#f5a510"/><path d="M521.58,9.00 l0.2,-1.8" stroke="#f5a510" stroke-width="0.5"/></g>
<g filter="url(#bl03)"><ellipse cx="540.26" cy="13" rx="7.3" ry="7.9" fill="#f6f3ec"/><path d="M533.46,12.50 L535.66,9.20 L538.26,8.80 L540.86,11.00 L541.86,14.00 L539.86,17.20 L536.46,18.00 L533.66,16.20 Z" fill="#f59a10"/><path d="M537.06,9.00 l0.2,-1.8" stroke="#f59a10" stroke-width="0.5"/></g>
<g filter="url(#bl03)"><ellipse cx="555.74" cy="13" rx="7.3" ry="7.9" fill="#f6f3ec"/><path d="M548.94,12.50 L551.14,9.20 L553.74,8.80 L556.34,11.00 L557.34,14.00 L555.34,17.20 L551.94,18.00 L549.14,16.20 Z" fill="#f28810"/><path d="M552.54,9.00 l0.2,-1.8" stroke="#f28810" stroke-width="0.5"/></g>
<g filter="url(#bl03)"><ellipse cx="571.22" cy="13" rx="7.3" ry="7.9" fill="#f6f3ec"/><path d="M564.42,12.50 L566.62,9.20 L569.22,8.80 L571.82,11.00 L572.82,14.00 L570.82,17.20 L567.42,18.00 L564.62,16.20 Z" fill="#f07010"/><path d="M568.02,9.00 l0.2,-1.8" stroke="#f07010" stroke-width="0.5"/></g>
<g filter="url(#bl03)"><ellipse cx="586.70" cy="13" rx="7.3" ry="7.9" fill="#f6f3ec"/><path d="M579.90,12.50 L582.10,9.20 L584.70,8.80 L587.30,11.00 L588.30,14.00 L586.30,17.20 L582.90,18.00 L580.10,16.20 Z" fill="#f05810"/><path d="M583.50,9.00 l0.2,-1.8" stroke="#f05810" stroke-width="0.5"/></g>
<g filter="url(#bl03)"><ellipse cx="602.18" cy="13" rx="7.3" ry="7.9" fill="#f6f3ec"/><path d="M595.38,12.50 L597.58,9.20 L600.18,8.80 L602.78,11.00 L603.78,14.00 L601.78,17.20 L598.38,18.00 L595.58,16.20 Z" fill="#e83a10"/><path d="M598.98,9.00 l0.2,-1.8" stroke="#e83a10" stroke-width="0.5"/></g>
<g filter="url(#bl03)"><ellipse cx="617.66" cy="13" rx="7.3" ry="7.9" fill="#f6f3ec"/><path d="M610.86,12.50 L613.06,9.20 L615.66,8.80 L618.26,11.00 L619.26,14.00 L617.26,17.20 L613.86,18.00 L611.06,16.20 Z" fill="#d82418"/><path d="M614.46,9.00 l0.2,-1.8" stroke="#d82418" stroke-width="0.5"/></g>
<g filter="url(#bl03)"><ellipse cx="633.14" cy="13" rx="7.3" ry="7.9" fill="#f6f3ec"/><path d="M626.34,12.50 L628.54,9.20 L631.14,8.80 L633.74,11.00 L634.74,14.00 L632.74,17.20 L629.34,18.00 L626.54,16.20 Z" fill="#c81420"/><path d="M629.94,9.00 l0.2,-1.8" stroke="#c81420" stroke-width="0.5"/></g>
<g filter="url(#bl03)"><ellipse cx="648.62" cy="13" rx="7.3" ry="7.9" fill="#f6f3ec"/><path d="M641.82,12.50 L644.02,9.20 L646.62,8.80 L649.22,11.00 L650.22,14.00 L648.22,17.20 L644.82,18.00 L642.02,16.20 Z" fill="#b01020"/><path d="M645.42,9.00 l0.2,-1.8" stroke="#b01020" stroke-width="0.5"/></g>
<g filter="url(#bl03)"><ellipse cx="664.10" cy="13" rx="7.3" ry="7.9" fill="#f6f3ec"/><path d="M657.30,12.50 L659.50,9.20 L662.10,8.80 L664.70,11.00 L665.70,14.00 L663.70,17.20 L660.30,18.00 L657.50,16.20 Z" fill="#801020"/><path d="M660.90,9.00 l0.2,-1.8" stroke="#801020" stroke-width="0.5"/></g>
<rect x="501.10" y="23.30" width="174.10" height="160.60" fill="none" stroke="#3a3a3a" stroke-width="1.1"/>
<line x1="516.88" y1="183.90" x2="516.88" y2="186.90" stroke="#3a3a3a" stroke-width="1"/>
<line x1="579.98" y1="183.90" x2="579.98" y2="186.90" stroke="#3a3a3a" stroke-width="1"/>
<line x1="643.08" y1="183.90" x2="643.08" y2="186.90" stroke="#3a3a3a" stroke-width="1"/>
<line x1="548.43" y1="183.90" x2="548.43" y2="185.90" stroke="#3a3a3a" stroke-width="1"/>
<line x1="611.52" y1="183.90" x2="611.52" y2="185.90" stroke="#3a3a3a" stroke-width="1"/>
<line x1="674.62" y1="183.90" x2="674.62" y2="185.90" stroke="#3a3a3a" stroke-width="1"/>
<text x="516.88" y="199.50" font-size="11" text-anchor="middle" fill="#222" stroke="#222" stroke-width="0.3">400</text>
<text x="579.98" y="199.50" font-size="11" text-anchor="middle" fill="#222" stroke="#222" stroke-width="0.3">600</text>
<text x="643.08" y="199.50" font-size="11" text-anchor="middle" fill="#222" stroke="#222" stroke-width="0.3">800</text>
<line x1="498.10" y1="183.90" x2="501.10" y2="183.90" stroke="#3a3a3a" stroke-width="1"/>
<line x1="498.10" y1="130.25" x2="501.10" y2="130.25" stroke="#3a3a3a" stroke-width="1"/>
<line x1="498.10" y1="76.60" x2="501.10" y2="76.60" stroke="#3a3a3a" stroke-width="1"/>
<line x1="498.10" y1="22.95" x2="501.10" y2="22.95" stroke="#3a3a3a" stroke-width="1"/>
<line x1="499.10" y1="157.08" x2="501.10" y2="157.08" stroke="#3a3a3a" stroke-width="1"/>
<line x1="499.10" y1="103.43" x2="501.10" y2="103.43" stroke="#3a3a3a" stroke-width="1"/>
<line x1="499.10" y1="49.78" x2="501.10" y2="49.78" stroke="#3a3a3a" stroke-width="1"/>
<text x="495.50" y="187.20" font-size="11" text-anchor="end" fill="#222" stroke="#222" stroke-width="0.3">0.0</text>
<text x="495.50" y="133.55" font-size="11" text-anchor="end" fill="#222" stroke="#222" stroke-width="0.3">0.5</text>
<text x="495.50" y="79.90" font-size="11" text-anchor="end" fill="#222" stroke="#222" stroke-width="0.3">1.0</text>
<text x="495.50" y="26.25" font-size="11" text-anchor="end" fill="#222" stroke="#222" stroke-width="0.3">1.5</text>
<text x="587.50" y="212.00" font-size="11" text-anchor="middle" fill="#222" stroke="#222" stroke-width="0.3">Wavelength/nm</text>
<text x="475.00" y="86.40" font-size="11" text-anchor="middle" fill="#222" stroke="#222" stroke-width="0.3" transform="rotate(-90 475 86.4)">Absorbance</text>
<text x="451.00" y="11.80" font-size="13" text-anchor="start" fill="#222" stroke="#222" stroke-width="0.3">(c)</text>
<polyline points="501.1,63.6 501.3,62.4 501.5,63.4 501.7,65.2 501.9,65.0 502.1,65.0 502.3,63.0 502.5,61.2 502.6,63.8 502.8,63.5 503.0,61.9 503.2,61.1 503.4,62.3 503.6,63.7 503.8,62.0 504.0,61.1 504.2,63.1 504.4,63.3 504.6,65.1 504.8,65.6 505.0,63.7 505.2,61.8 505.3,61.9 505.5,60.2 505.7,59.4 505.9,61.4 506.1,63.8 506.3,61.4 506.5,59.2 506.7,60.0 506.9,60.8 507.1,60.8 507.3,60.9 507.5,58.9 507.7,57.7 507.9,59.5 508.0,58.2 508.2,56.2 508.4,57.2 508.6,57.7 508.8,56.9 509.0,57.2 509.2,58.7 509.4,56.7 509.6,55.7 509.8,58.1 510.0,56.3 510.2,56.1 510.4,56.2 510.6,53.8 510.8,54.7 510.9,56.4 511.1,55.3 511.3,54.1 511.5,54.1 511.7,53.5 511.9,53.4 512.1,53.5 512.3,52.8 512.5,54.7 512.7,53.6 512.9,54.1 513.1,56.0 513.3,56.9 513.5,55.3 513.6,53.6 513.8,52.0 514.0,52.5 514.2,55.1 514.4,54.7 514.6,53.8 514.8,56.0 515.0,56.1 515.2,53.6 515.4,51.9 515.6,51.8 515.8,53.8 516.0,54.5 516.2,53.2 516.3,52.2 516.5,54.2 516.7,54.6 516.9,53.0 517.1,52.6 517.3,53.1 517.5,54.1 517.7,53.0 517.9,52.7 518.1,51.1 518.3,50.9 518.5,51.5 518.7,51.9 518.9,52.5 519.1,51.4 519.2,51.9 519.4,52.5 519.6,53.2 519.8,53.0 520.0,55.0 520.2,55.9 520.4,53.5 520.6,52.9 520.8,50.8 521.0,47.9 521.2,51.0 521.4,51.2 521.6,50.3 521.8,50.8 521.9,51.4 522.1,50.7 522.3,49.6 522.5,50.1 522.7,52.2 522.9,52.1 523.1,51.7 523.3,52.7 523.5,51.0 523.7,51.2 523.9,49.7 524.1,49.6 524.3,50.3 524.5,52.1 524.6,53.1 524.8,55.1 525.0,54.7 525.2,52.9 525.4,53.4 525.6,52.9 525.8,54.3 526.0,53.9 526.2,54.2 526.4,53.5 526.6,54.7 526.8,55.7 527.0,52.6 527.2,52.8 527.4,55.8 527.5,57.4 527.7,57.7 527.9,58.2 528.1,56.8 528.3,58.2 528.5,58.9 528.7,61.5 528.9,61.7 529.1,61.0 529.3,59.4 529.5,60.3 529.7,59.9 529.9,61.3 530.1,61.3 530.2,59.7 530.4,60.2 530.6,61.0 530.8,61.1 531.0,60.8 531.2,61.0 531.4,60.1 531.6,57.3 531.8,58.1 532.0,58.5 532.2,56.9 532.4,56.6 532.6,59.1 532.8,58.5 532.9,58.8 533.1,57.8 533.3,55.0 533.5,53.8 533.7,53.1 533.9,53.8 534.1,53.6 534.3,53.0 534.5,52.7 534.7,54.5 534.9,53.9 535.1,50.9 535.3,51.5 535.5,50.3 535.7,51.6 535.8,51.8 536.0,50.5 536.2,48.9 536.4,49.1 536.6,49.0 536.8,48.0 537.0,46.4 537.2,47.8 537.4,48.1 537.6,49.5 537.8,49.5 538.0,46.7 538.2,46.6 538.4,47.4 538.5,46.0 538.7,45.4 538.9,45.2 539.1,44.1 539.3,44.9 539.5,45.8 539.7,46.8 539.9,44.0 540.1,43.9 540.3,43.7 540.5,42.7 540.7,43.9 540.9,47.4 541.1,47.7 541.2,44.8 541.4,45.7 541.6,44.9 541.8,44.3 542.0,46.6 542.2,47.1 542.4,43.5 542.6,41.9 542.8,42.1 543.0,42.1 543.2,43.3 543.4,44.1 543.6,43.1 543.8,43.8 544.0,44.0 544.1,42.6 544.3,42.1 544.5,43.5 544.7,46.4 544.9,47.6 545.1,48.6 545.3,48.7 545.5,48.6 545.7,49.4 545.9,50.6 546.1,51.5 546.3,51.6 546.5,55.3 546.7,54.0 546.8,53.8 547.0,55.5 547.2,58.3 547.4,57.0 547.6,54.4 547.8,55.6 548.0,56.4 548.2,55.6 548.4,53.8 548.6,56.5 548.8,60.2 549.0,59.9 549.2,60.3 549.4,61.0 549.5,61.7 549.7,62.2 549.9,62.7 550.1,63.6 550.3,64.2 550.5,65.7 550.7,66.8 550.9,67.9 551.1,68.4 551.3,68.7 551.5,69.4 551.7,70.9 551.9,71.9 552.1,73.0 552.3,74.2 552.4,75.2 552.6,76.0 552.8,77.2 553.0,77.7 553.2,78.5 553.4,79.8 553.6,81.0 553.8,81.7 554.0,81.9 554.2,83.4 554.4,83.8 554.6,84.9 554.8,86.5 555.0,87.7 555.1,87.9 555.3,88.7 555.5,90.7 555.7,91.6 555.9,92.2 556.1,93.2 556.3,94.1 556.5,95.8 556.7,97.0 556.9,98.3 557.1,98.7 557.3,100.7 557.5,102.5 557.7,103.0 557.8,103.7 558.0,104.4 558.2,106.1 558.4,107.4 558.6,108.2 558.8,109.1 559.0,110.7 559.2,111.8 559.4,113.2 559.6,114.8 559.8,116.0 560.0,117.4 560.2,118.8 560.4,119.7 560.6,121.4 560.7,122.0 560.9,123.3 561.1,125.1 561.3,126.7 561.5,127.9 561.7,128.9 561.9,130.1 562.1,131.5 562.3,132.9 562.5,134.6 562.7,136.2 562.9,138.0 563.1,139.0 563.3,140.8 563.4,142.7 563.6,144.1 563.8,146.5 564.0,149.5 564.2,151.0 564.4,152.8 564.6,153.8 564.8,155.2 565.0,158.0 565.2,159.9 565.4,161.5 565.6,162.8 565.8,164.0 566.0,165.2 566.1,166.7 566.3,167.2 566.5,168.4 566.7,168.7 566.9,168.9 567.1,169.7 567.3,171.0 567.5,171.6 567.7,171.9 567.9,172.0 568.1,172.2 568.3,173.1 568.5,173.1 568.7,173.1 568.9,173.4 569.0,173.6 569.2,173.5 569.4,173.9 569.6,174.1 569.8,174.2 570.0,174.4 570.2,175.5 570.4,175.1 570.6,175.4 570.8,175.8 571.0,176.4 571.2,176.7 571.4,176.4 571.6,176.3 571.7,176.2 571.9,176.6 572.1,175.9 572.3,176.2 572.5,176.6 572.7,176.9 572.9,177.1 573.1,177.2 573.3,177.0 573.5,176.8 573.7,177.0 573.9,177.4 574.1,177.2 574.3,177.2 574.4,176.7 574.6,176.1 574.8,176.5 575.0,177.2 575.2,177.8 575.4,178.0 575.6,177.8 575.8,177.1 576.0,177.3 576.2,177.3 576.4,177.4 576.6,177.0 576.8,176.7 577.0,177.3 577.1,177.6 577.3,177.5 577.5,177.2 577.7,177.7 577.9,178.1 578.1,178.2 578.3,178.0 578.5,177.1 578.7,176.5 578.9,177.4 579.1,177.2 579.3,177.4 579.5,177.9 579.7,177.8 579.9,177.7 580.0,177.6 580.2,177.2 580.4,178.0 580.6,177.7 580.8,177.5 581.0,177.8 581.2,177.6 581.4,177.3 581.6,177.5 581.8,177.4 582.0,177.7 582.2,178.2 582.4,177.1 582.6,176.6 582.7,177.0 582.9,177.5 583.1,178.2 583.3,178.2 583.5,178.2 583.7,178.1 583.9,177.7 584.1,178.1 584.3,178.3 584.5,178.7 584.7,178.2 584.9,178.0 585.1,178.3 585.3,178.1 585.4,177.5 585.6,178.3 585.8,178.6 586.0,178.3 586.2,177.4 586.4,177.0 586.6,177.7 586.8,178.3 587.0,178.2 587.2,177.8 587.4,178.1 587.6,177.4 587.8,177.3 588.0,177.8 588.2,177.8 588.3,177.5 588.5,177.6 588.7,178.2 588.9,177.9 589.1,178.2 589.3,178.5 589.5,178.3 589.7,178.4 589.9,178.8 590.1,179.1 590.3,178.6 590.5,177.5 590.7,177.2 590.9,177.6 591.0,177.8 591.2,178.3 591.4,178.3 591.6,178.3 591.8,178.8 592.0,178.8 592.2,178.4 592.4,178.6 592.6,178.7 592.8,178.4 593.0,178.3 593.2,178.0 593.4,178.3 593.6,178.5 593.7,178.4 593.9,178.6 594.1,178.8 594.3,178.6 594.5,178.1 594.7,178.0 594.9,178.1 595.1,179.0 595.3,178.9 595.5,178.7 595.7,178.6 595.9,178.8 596.1,178.7 596.3,178.3 596.5,178.6 596.6,178.9 596.8,178.1 597.0,178.1 597.2,178.6 597.4,178.5 597.6,178.7 597.8,178.4 598.0,178.7 598.2,179.1 598.4,179.1 598.6,179.0 598.8,178.7 599.0,178.7 599.2,178.8 599.3,179.5 599.5,180.3 599.7,179.5 599.9,179.5 600.1,178.8 600.3,178.3 600.5,178.7 600.7,179.0 600.9,179.0 601.1,179.0 601.3,179.2 601.5,179.3 601.7,179.2 601.9,178.6 602.0,178.7 602.2,178.6 602.4,178.9 602.6,179.0 602.8,179.0 603.0,178.7 603.2,178.6 603.4,178.9 603.6,179.4 603.8,179.2 604.0,178.6 604.2,179.0 604.4,179.1 604.6,178.4 604.8,178.4 604.9,178.8 605.1,178.9 605.3,178.2 605.5,178.6 605.7,178.9 605.9,179.4 606.1,179.9 606.3,179.9 606.5,179.2 606.7,179.1 606.9,179.4 607.1,179.9 607.3,180.0 607.5,179.8 607.6,179.8 607.8,179.0 608.0,178.4 608.2,178.0 608.4,178.7 608.6,179.6 608.8,180.2 609.0,180.9 609.2,180.1 609.4,179.4 609.6,179.0 609.8,179.0 610.0,179.1 610.2,179.2 610.3,179.0 610.5,179.0 610.7,179.8 610.9,180.0 611.1,179.9 611.3,178.9 611.5,178.7 611.7,179.2 611.9,179.9 612.1,179.7 612.3,179.6 612.5,179.6 612.7,179.6 612.9,179.5 613.1,179.6 613.2,179.3 613.4,179.5 613.6,179.7 613.8,179.8 614.0,179.7 614.2,179.4 614.4,179.6 614.6,179.7 614.8,180.0 615.0,180.2 615.2,179.7 615.4,179.9 615.6,179.6 615.8,179.7 615.9,180.5 616.1,180.4 616.3,180.2 616.5,180.3 616.7,180.3 616.9,179.7 617.1,179.8 617.3,179.8 617.5,179.9 617.7,179.9 617.9,180.1 618.1,179.9 618.3,179.7 618.5,179.9 618.6,180.2 618.8,180.4 619.0,180.0 619.2,179.8 619.4,180.1 619.6,180.2 619.8,179.5 620.0,179.0 620.2,179.7 620.4,179.9 620.6,180.1 620.8,180.9 621.0,180.4 621.2,180.1 621.4,179.6 621.5,180.1 621.7,180.4 621.9,180.2 622.1,180.1 622.3,180.3 622.5,180.4 622.7,180.7 622.9,180.3 623.1,179.6 623.3,179.2 623.5,179.6 623.7,179.8 623.9,179.6 624.1,179.4 624.2,179.3 624.4,179.6 624.6,180.1 624.8,180.1 625.0,180.1 625.2,180.1 625.4,180.2 625.6,180.8 625.8,181.3 626.0,181.1 626.2,181.2 626.4,180.5 626.6,180.5 626.8,180.9 626.9,180.2 627.1,179.9 627.3,180.0 627.5,179.5 627.7,179.6 627.9,180.5 628.1,180.1 628.3,180.1 628.5,180.1 628.7,180.1 628.9,180.7 629.1,180.9 629.3,181.0 629.5,180.9 629.7,180.8 629.8,181.2 630.0,181.0 630.2,180.4 630.4,180.4 630.6,180.6 630.8,181.3 631.0,181.2 631.2,180.9 631.4,180.7 631.6,180.7 631.8,180.3 632.0,180.5 632.2,180.6 632.4,180.5 632.5,180.4 632.7,180.6 632.9,180.2 633.1,180.3 633.3,180.5 633.5,180.6 633.7,180.4 633.9,180.1 634.1,180.2 634.3,180.3 634.5,180.3 634.7,180.4 634.9,180.3 635.1,180.9 635.2,181.4 635.4,180.5 635.6,180.7 635.8,181.3 636.0,181.2 636.2,180.9 636.4,180.1 636.6,180.6 636.8,181.3 637.0,180.9 637.2,180.7 637.4,180.3 637.6,181.3 637.8,181.9 638.0,181.2 638.1,181.1 638.3,181.4 638.5,181.8 638.7,180.8 638.9,180.5 639.1,181.3 639.3,180.8 639.5,180.8 639.7,180.1 639.9,180.6 640.1,180.9 640.3,180.6 640.5,180.8 640.7,181.1 640.8,180.9 641.0,181.4 641.2,181.6 641.4,180.6 641.6,181.0 641.8,181.3 642.0,181.3 642.2,181.9 642.4,181.9 642.6,181.6 642.8,181.4 643.0,181.1 643.2,180.8 643.4,181.2 643.5,181.0 643.7,181.0 643.9,181.5 644.1,181.4 644.3,181.4 644.5,180.9 644.7,180.9 644.9,181.4 645.1,181.8 645.3,181.5 645.5,181.5 645.7,181.1 645.9,181.4 646.1,181.5 646.3,181.0 646.4,181.0 646.6,181.3 646.8,181.0 647.0,181.4 647.2,181.5 647.4,181.5 647.6,181.7 647.8,181.7 648.0,181.3 648.2,180.7 648.4,180.7 648.6,181.1 648.8,180.9 649.0,181.2 649.1,181.2 649.3,181.0 649.5,180.9 649.7,180.5 649.9,181.3 650.1,181.8 650.3,181.2 650.5,181.6 650.7,182.1 650.9,182.6 651.1,181.4 651.3,181.0 651.5,181.0 651.7,180.9 651.8,180.8 652.0,181.3 652.2,181.4 652.4,181.8 652.6,181.7 652.8,181.2 653.0,181.5 653.2,182.1 653.4,181.7 653.6,181.8 653.8,182.0 654.0,181.7 654.2,182.0 654.4,182.5 654.6,182.1 654.7,181.4 654.9,182.1 655.1,181.8 655.3,181.4 655.5,181.6 655.7,182.2 655.9,182.0 656.1,181.7 656.3,181.6 656.5,182.1 656.7,182.2 656.9,181.5 657.1,181.2 657.3,181.6 657.4,182.0 657.6,181.8 657.8,181.7 658.0,181.7 658.2,182.3 658.4,182.0 658.6,182.1 658.8,182.3 659.0,182.0 659.2,181.9 659.4,182.0 659.6,182.0 659.8,182.5 660.0,182.1 660.1,181.8 660.3,181.7 660.5,181.7 660.7,182.5 660.9,182.7 661.1,182.1 661.3,181.6 661.5,181.1 661.7,181.7 661.9,182.2 662.1,182.0 662.3,182.5 662.5,182.4 662.7,181.2 662.9,181.5 663.0,181.7 663.2,181.6 663.4,181.3 663.6,181.6 663.8,181.8 664.0,182.6 664.2,182.7 664.4,181.6 664.6,181.4 664.8,181.8 665.0,182.0 665.2,182.2 665.4,182.3 665.6,181.6 665.7,181.7 665.9,181.9 666.1,181.9 666.3,181.7 666.5,181.8 666.7,182.1 666.9,182.6 667.1,182.0 667.3,181.5 667.5,182.2 667.7,182.3 667.9,181.9 668.1,181.8 668.3,182.2 668.4,182.8 668.6,182.5 668.8,182.9 669.0,182.8 669.2,182.3 669.4,182.3 669.6,181.7 669.8,181.0 670.0,181.6 670.2,182.2 670.4,182.8 670.6,182.9 670.8,183.0 671.0,182.9 671.2,183.0 671.3,182.9 671.5,182.8 671.7,183.1 671.9,183.4 672.1,183.2 672.3,182.5 672.5,182.3 672.7,182.0 672.9,182.0 673.1,182.5 673.3,182.5 673.5,182.7 673.7,181.7 673.9,181.9 674.0,182.7 674.2,183.0 674.4,182.8 674.6,183.3" fill="none" stroke="#1e1e1e" stroke-width="0.9" stroke-linejoin="round"/>
<polyline points="501.1,65.9 501.3,64.9 501.5,65.8 501.7,66.6 501.9,66.0 502.1,66.5 502.3,64.4 502.5,63.2 502.6,65.0 502.8,64.8 503.0,63.3 503.2,62.0 503.4,63.1 503.6,63.5 503.8,63.3 504.0,62.6 504.2,65.1 504.4,65.4 504.6,65.5 504.8,65.1 505.0,65.2 505.2,63.0 505.3,63.3 505.5,61.4 505.7,60.4 505.9,62.0 506.1,64.8 506.3,61.6 506.5,60.0 506.7,60.9 506.9,63.0 507.1,62.8 507.3,62.3 507.5,60.4 507.7,58.8 507.9,60.4 508.0,59.1 508.2,57.1 508.4,58.9 508.6,58.9 508.8,57.3 509.0,57.9 509.2,59.4 509.4,58.3 509.6,57.8 509.8,59.6 510.0,57.4 510.2,57.1 510.4,56.7 510.6,53.9 510.8,55.2 510.9,57.9 511.1,57.7 511.3,57.3 511.5,56.9 511.7,56.2 511.9,56.2 512.1,55.0 512.3,55.0 512.5,56.8 512.7,56.1 512.9,56.0 513.1,56.2 513.3,56.9 513.5,56.8 513.6,55.8 513.8,53.3 514.0,52.7 514.2,56.2 514.4,55.3 514.6,53.7 514.8,56.1 515.0,55.8 515.2,53.2 515.4,52.1 515.6,53.2 515.8,54.6 516.0,54.6 516.2,53.9 516.3,52.3 516.5,53.5 516.7,54.8 516.9,54.3 517.1,53.6 517.3,53.9 517.5,54.8 517.7,54.6 517.9,53.3 518.1,51.2 518.3,51.4 518.5,53.4 518.7,53.0 518.9,53.6 519.1,53.3 519.2,53.2 519.4,52.7 519.6,54.7 519.8,54.3 520.0,55.4 520.2,55.5 520.4,53.9 520.6,54.3 520.8,51.9 521.0,49.5 521.2,53.1 521.4,53.8 521.6,51.3 521.8,50.6 521.9,52.9 522.1,53.8 522.3,52.2 522.5,51.9 522.7,52.7 522.9,51.5 523.1,51.8 523.3,52.8 523.5,51.8 523.7,52.1 523.9,50.4 524.1,50.1 524.3,49.5 524.5,51.0 524.6,53.1 524.8,55.5 525.0,54.8 525.2,54.3 525.4,55.7 525.6,54.1 525.8,54.8 526.0,54.4 526.2,55.7 526.4,55.4 526.6,56.5 526.8,57.5 527.0,54.6 527.2,53.7 527.4,56.5 527.5,57.4 527.7,58.3 527.9,59.6 528.1,59.5 528.3,60.6 528.5,60.0 528.7,60.5 528.9,61.7 529.1,61.9 529.3,60.3 529.5,61.0 529.7,60.5 529.9,60.8 530.1,62.1 530.2,62.4 530.4,62.1 530.6,61.0 530.8,61.1 531.0,61.6 531.2,61.4 531.4,60.1 531.6,57.4 531.8,58.5 532.0,59.2 532.2,57.3 532.4,56.4 532.6,59.4 532.8,59.3 532.9,59.6 533.1,58.7 533.3,56.5 533.5,55.4 533.7,55.9 533.9,56.2 534.1,54.5 534.3,54.2 534.5,53.6 534.7,53.8 534.9,53.3 535.1,50.7 535.3,51.8 535.5,51.0 535.7,51.0 535.8,51.8 536.0,51.2 536.2,49.7 536.4,49.9 536.6,49.9 536.8,49.4 537.0,47.9 537.2,47.7 537.4,49.4 537.6,50.4 537.8,50.1 538.0,49.0 538.2,47.7 538.4,48.0 538.5,47.6 538.7,45.8 538.9,46.9 539.1,45.9 539.3,45.9 539.5,45.6 539.7,47.9 539.9,46.5 540.1,46.1 540.3,44.8 540.5,43.9 540.7,44.6 540.9,47.6 541.1,48.9 541.2,46.3 541.4,46.7 541.6,45.7 541.8,43.9 542.0,47.0 542.2,48.2 542.4,44.8 542.6,44.0 542.8,44.0 543.0,43.6 543.2,44.7 543.4,44.8 543.6,43.9 543.8,44.2 544.0,44.8 544.1,42.9 544.3,43.8 544.5,45.1 544.7,47.5 544.9,47.7 545.1,48.0 545.3,47.8 545.5,48.1 545.7,50.4 545.9,50.8 546.1,50.6 546.3,50.9 546.5,53.9 546.7,54.0 546.8,55.9 547.0,57.0 547.2,57.7 547.4,57.2 547.6,56.1 547.8,56.4 548.0,57.6 548.2,57.9 548.4,57.3 548.6,59.7 548.8,61.6 549.0,61.8 549.2,63.5 549.4,64.4 549.5,60.0 549.7,57.2 549.9,59.1 550.1,61.7 550.3,60.7 550.5,58.5 550.7,58.2 550.9,58.5 551.1,58.2 551.3,58.6 551.5,59.1 551.7,60.2 551.9,60.8 552.1,61.2 552.3,61.9 552.4,63.1 552.6,64.1 552.8,64.7 553.0,65.6 553.2,67.0 553.4,68.3 553.6,70.1 553.8,71.4 554.0,72.5 554.2,73.8 554.4,74.8 554.6,75.2 554.8,76.7 555.0,78.0 555.1,78.2 555.3,78.7 555.5,79.9 555.7,80.9 555.9,82.3 556.1,83.5 556.3,84.4 556.5,84.9 556.7,85.4 556.9,86.9 557.1,87.5 557.3,89.0 557.5,89.8 557.7,90.2 557.8,91.2 558.0,92.5 558.2,94.0 558.4,94.6 558.6,95.3 558.8,95.4 559.0,96.9 559.2,98.2 559.4,99.5 559.6,100.4 559.8,101.2 560.0,101.5 560.2,102.5 560.4,103.4 560.6,104.6 560.7,105.4 560.9,105.8 561.1,107.4 561.3,108.6 561.5,108.9 561.7,110.0 561.9,110.6 562.1,111.0 562.3,112.1 562.5,112.7 562.7,113.6 562.9,113.7 563.1,114.5 563.3,116.0 563.4,116.9 563.6,117.8 563.8,118.0 564.0,118.6 564.2,119.9 564.4,120.3 564.6,121.5 564.8,122.4 565.0,122.9 565.2,122.4 565.4,123.4 565.6,124.4 565.8,125.2 566.0,125.7 566.1,127.1 566.3,127.0 566.5,126.9 566.7,128.2 566.9,129.0 567.1,129.5 567.3,130.5 567.5,130.8 567.7,131.1 567.9,131.8 568.1,132.5 568.3,133.2 568.5,133.7 568.7,134.0 568.9,134.2 569.0,134.9 569.2,136.2 569.4,137.2 569.6,136.8 569.8,137.0 570.0,138.3 570.2,139.2 570.4,139.2 570.6,138.9 570.8,139.7 571.0,140.1 571.2,140.0 571.4,140.1 571.6,140.8 571.7,141.4 571.9,141.7 572.1,141.4 572.3,141.8 572.5,142.9 572.7,143.8 572.9,143.9 573.1,143.7 573.3,144.2 573.5,144.1 573.7,144.4 573.9,144.7 574.1,144.8 574.3,145.2 574.4,145.9 574.6,145.8 574.8,145.3 575.0,146.4 575.2,146.5 575.4,146.1 575.6,146.6 575.8,147.2 576.0,147.4 576.2,146.8 576.4,146.4 576.6,146.5 576.8,146.9 577.0,147.1 577.1,147.7 577.3,147.7 577.5,147.9 577.7,147.7 577.9,147.4 578.1,147.6 578.3,148.1 578.5,147.8 578.7,148.3 578.9,148.8 579.1,148.7 579.3,149.0 579.5,148.6 579.7,148.5 579.9,148.6 580.0,148.6 580.2,148.8 580.4,149.1 580.6,149.5 580.8,149.3 581.0,149.4 581.2,149.4 581.4,149.2 581.6,149.4 581.8,150.1 582.0,150.2 582.2,149.6 582.4,149.3 582.6,149.2 582.7,149.0 582.9,148.9 583.1,149.3 583.3,149.8 583.5,150.3 583.7,150.4 583.9,150.2 584.1,149.9 584.3,149.9 584.5,150.1 584.7,150.1 584.9,149.9 585.1,150.0 585.3,150.1 585.4,150.3 585.6,150.7 585.8,150.9 586.0,150.4 586.2,150.4 586.4,150.8 586.6,150.6 586.8,150.1 587.0,150.9 587.2,151.1 587.4,151.1 587.6,151.5 587.8,151.0 588.0,150.4 588.2,150.6 588.3,150.9 588.5,151.1 588.7,151.2 588.9,151.2 589.1,151.6 589.3,151.8 589.5,151.6 589.7,151.4 589.9,151.5 590.1,151.9 590.3,152.5 590.5,151.5 590.7,150.9 590.9,151.4 591.0,152.3 591.2,152.6 591.4,152.5 591.6,152.7 591.8,152.4 592.0,152.5 592.2,152.1 592.4,152.3 592.6,153.3 592.8,153.0 593.0,153.2 593.2,153.6 593.4,153.4 593.6,153.0 593.7,152.9 593.9,153.5 594.1,152.7 594.3,152.3 594.5,152.8 594.7,153.1 594.9,153.5 595.1,153.9 595.3,153.4 595.5,153.3 595.7,153.0 595.9,152.5 596.1,153.1 596.3,153.4 596.5,153.4 596.6,154.4 596.8,154.7 597.0,154.5 597.2,154.3 597.4,154.1 597.6,154.1 597.8,153.5 598.0,153.5 598.2,154.0 598.4,154.5 598.6,154.2 598.8,154.3 599.0,154.9 599.2,154.6 599.3,154.4 599.5,154.4 599.7,154.1 599.9,154.4 600.1,155.1 600.3,155.2 600.5,155.3 600.7,155.2 600.9,155.4 601.1,155.0 601.3,154.9 601.5,155.0 601.7,155.6 601.9,155.8 602.0,155.1 602.2,155.3 602.4,155.1 602.6,155.3 602.8,155.2 603.0,155.0 603.2,155.3 603.4,155.5 603.6,156.3 603.8,155.9 604.0,156.1 604.2,156.2 604.4,156.2 604.6,155.9 604.8,155.9 604.9,156.9 605.1,156.7 605.3,156.6 605.5,156.2 605.7,156.5 605.9,156.6 606.1,156.7 606.3,156.4 606.5,156.4 606.7,156.9 606.9,157.1 607.1,157.5 607.3,157.0 607.5,156.8 607.6,157.1 607.8,157.1 608.0,158.1 608.2,158.4 608.4,158.2 608.6,157.7 608.8,157.5 609.0,157.5 609.2,157.5 609.4,157.4 609.6,157.9 609.8,158.4 610.0,158.1 610.2,157.4 610.3,158.5 610.5,158.1 610.7,157.3 610.9,157.7 611.1,158.3 611.3,158.1 611.5,157.7 611.7,157.7 611.9,158.3 612.1,158.1 612.3,158.0 612.5,157.8 612.7,157.8 612.9,158.6 613.1,159.1 613.2,158.4 613.4,157.8 613.6,158.2 613.8,158.3 614.0,158.0 614.2,158.8 614.4,158.8 614.6,159.1 614.8,159.0 615.0,158.8 615.2,158.6 615.4,159.4 615.6,159.7 615.8,159.9 615.9,159.4 616.1,159.4 616.3,159.4 616.5,159.9 616.7,159.6 616.9,159.2 617.1,159.4 617.3,159.4 617.5,159.5 617.7,160.0 617.9,160.3 618.1,159.6 618.3,159.6 618.5,159.8 618.6,160.8 618.8,161.2 619.0,161.2 619.2,160.6 619.4,159.8 619.6,159.9 619.8,160.2 620.0,160.2 620.2,160.1 620.4,160.4 620.6,160.3 620.8,160.7 621.0,161.4 621.2,160.9 621.4,160.2 621.5,160.7 621.7,160.9 621.9,161.1 622.1,161.0 622.3,160.6 622.5,161.0 622.7,161.8 622.9,162.4 623.1,162.0 623.3,162.2 623.5,162.0 623.7,161.1 623.9,161.1 624.1,161.9 624.2,161.2 624.4,161.2 624.6,161.6 624.8,161.5 625.0,162.2 625.2,162.4 625.4,162.5 625.6,162.2 625.8,161.7 626.0,162.3 626.2,162.6 626.4,162.4 626.6,162.0 626.8,162.0 626.9,161.8 627.1,162.4 627.3,162.7 627.5,162.5 627.7,162.4 627.9,162.5 628.1,162.1 628.3,161.7 628.5,162.4 628.7,162.3 628.9,162.0 629.1,162.7 629.3,163.1 629.5,163.1 629.7,162.6 629.8,162.5 630.0,162.7 630.2,162.6 630.4,162.2 630.6,162.6 630.8,163.3 631.0,163.1 631.2,162.9 631.4,162.8 631.6,163.2 631.8,163.5 632.0,163.7 632.2,164.0 632.4,163.6 632.5,163.5 632.7,163.4 632.9,163.8 633.1,163.9 633.3,164.1 633.5,164.0 633.7,163.5 633.9,163.7 634.1,163.7 634.3,164.1 634.5,164.1 634.7,164.5 634.9,164.3 635.1,164.1 635.2,163.8 635.4,163.9 635.6,164.0 635.8,163.7 636.0,163.9 636.2,163.8 636.4,163.8 636.6,164.2 636.8,164.4 637.0,164.3 637.2,164.4 637.4,164.2 637.6,163.9 637.8,164.1 638.0,164.8 638.1,165.1 638.3,164.8 638.5,164.6 638.7,164.4 638.9,164.8 639.1,164.8 639.3,164.7 639.5,165.0 639.7,164.8 639.9,164.2 640.1,164.2 640.3,164.6 640.5,165.1 640.7,165.4 640.8,165.1 641.0,165.1 641.2,165.3 641.4,165.5 641.6,165.5 641.8,165.4 642.0,165.2 642.2,164.9 642.4,165.4 642.6,166.3 642.8,166.4 643.0,166.5 643.2,166.1 643.4,165.6 643.5,165.6 643.7,166.0 643.9,165.9 644.1,166.4 644.3,166.8 644.5,166.8 644.7,166.4 644.9,165.8 645.1,166.3 645.3,165.7 645.5,165.6 645.7,166.2 645.9,166.4 646.1,166.6 646.3,166.4 646.4,166.2 646.6,166.3 646.8,166.0 647.0,165.9 647.2,166.3 647.4,166.5 647.6,166.6 647.8,166.7 648.0,167.1 648.2,166.8 648.4,166.8 648.6,166.9 648.8,166.3 649.0,167.2 649.1,167.4 649.3,167.3 649.5,167.9 649.7,167.9 649.9,168.0 650.1,167.8 650.3,167.4 650.5,167.1 650.7,166.8 650.9,166.8 651.1,166.8 651.3,167.1 651.5,167.5 651.7,167.2 651.8,167.7 652.0,167.7 652.2,167.1 652.4,167.2 652.6,167.5 652.8,167.4 653.0,167.6 653.2,168.3 653.4,168.3 653.6,168.4 653.8,168.2 654.0,168.1 654.2,167.6 654.4,167.8 654.6,168.4 654.7,168.5 654.9,168.7 655.1,168.3 655.3,168.1 655.5,168.4 655.7,169.1 655.9,168.7 656.1,168.3 656.3,168.2 656.5,168.2 656.7,168.9 656.9,168.7 657.1,168.8 657.3,168.7 657.4,168.5 657.6,168.6 657.8,168.9 658.0,169.0 658.2,169.5 658.4,169.6 658.6,169.0 658.8,169.2 659.0,169.8 659.2,169.6 659.4,169.1 659.6,168.5 659.8,168.5 660.0,169.1 660.1,169.9 660.3,169.6 660.5,169.2 660.7,169.2 660.9,169.3 661.1,169.3 661.3,168.7 661.5,168.8 661.7,169.6 661.9,169.8 662.1,169.1 662.3,169.5 662.5,169.1 662.7,169.0 662.9,169.9 663.0,169.9 663.2,170.0 663.4,169.8 663.6,169.6 663.8,169.2 664.0,169.6 664.2,169.9 664.4,169.8 664.6,170.2 664.8,170.1 665.0,169.6 665.2,170.4 665.4,170.6 665.6,170.6 665.7,171.1 665.9,171.3 666.1,170.5 666.3,170.8 666.5,170.9 666.7,171.0 666.9,171.2 667.1,171.2 667.3,170.5 667.5,169.7 667.7,170.1 667.9,170.7 668.1,171.4 668.3,171.3 668.4,171.3 668.6,170.9 668.8,171.0 669.0,171.1 669.2,171.2 669.4,171.6 669.6,171.8 669.8,171.4 670.0,171.9 670.2,172.0 670.4,171.7 670.6,171.6 670.8,171.3 671.0,171.0 671.2,171.2 671.3,171.4 671.5,171.4 671.7,171.5 671.9,172.2 672.1,171.9 672.3,172.2 672.5,172.3 672.7,172.0 672.9,171.9 673.1,171.5 673.3,171.7 673.5,172.7 673.7,172.0 673.9,171.1 674.0,171.3 674.2,171.4 674.4,172.1 674.6,172.7" fill="none" stroke="#2e3a2e" stroke-width="0.9" stroke-linejoin="round"/>
<polyline points="501.1,64.7 501.3,63.5 501.5,64.0 501.7,65.5 501.9,65.2 502.1,65.0 502.3,64.0 502.5,61.6 502.6,61.8 502.8,61.8 503.0,61.1 503.2,60.5 503.4,62.2 503.6,64.0 503.8,63.0 504.0,61.1 504.2,62.4 504.4,61.7 504.6,63.4 504.8,64.1 505.0,64.2 505.2,61.4 505.3,61.6 505.5,60.6 505.7,60.6 505.9,60.4 506.1,62.2 506.3,61.0 506.5,59.1 506.7,58.8 506.9,60.0 507.1,59.4 507.3,59.0 507.5,58.9 507.7,57.6 507.9,59.1 508.0,59.2 508.2,57.2 508.4,57.1 508.6,57.1 508.8,57.1 509.0,57.4 509.2,59.2 509.4,56.7 509.6,54.7 509.8,56.8 510.0,55.6 510.2,54.8 510.4,54.4 510.6,52.7 510.8,54.1 510.9,57.6 511.1,56.7 511.3,54.4 511.5,54.4 511.7,54.0 511.9,54.5 512.1,53.2 512.3,51.8 512.5,53.4 512.7,54.5 512.9,55.3 513.1,54.0 513.3,54.9 513.5,54.6 513.6,53.1 513.8,50.6 514.0,51.6 514.2,55.0 514.4,55.7 514.6,54.4 514.8,56.2 515.0,54.7 515.2,52.8 515.4,51.1 515.6,51.0 515.8,53.5 516.0,53.9 516.2,52.8 516.3,51.6 516.5,52.5 516.7,52.6 516.9,51.9 517.1,51.5 517.3,52.8 517.5,53.9 517.7,53.9 517.9,53.7 518.1,51.4 518.3,51.3 518.5,51.8 518.7,51.5 518.9,53.2 519.1,52.2 519.2,52.2 519.4,51.4 519.6,53.2 519.8,53.2 520.0,55.1 520.2,54.8 520.4,53.2 520.6,52.9 520.8,51.4 521.0,48.2 521.2,50.8 521.4,51.3 521.6,49.8 521.8,49.9 521.9,50.6 522.1,49.9 522.3,48.9 522.5,49.6 522.7,51.3 522.9,50.6 523.1,49.7 523.3,50.3 523.5,49.6 523.7,49.4 523.9,49.2 524.1,48.9 524.3,48.7 524.5,50.7 524.6,51.9 524.8,52.6 525.0,52.2 525.2,52.2 525.4,53.4 525.6,52.9 525.8,54.7 526.0,53.2 526.2,54.0 526.4,53.7 526.6,54.8 526.8,56.5 527.0,53.4 527.2,52.7 527.4,54.8 527.5,56.9 527.7,58.4 527.9,58.9 528.1,56.8 528.3,57.2 528.5,58.4 528.7,60.1 528.9,60.7 529.1,61.2 529.3,58.5 529.5,59.1 529.7,58.4 529.9,59.5 530.1,61.0 530.2,61.0 530.4,61.2 530.6,60.0 530.8,58.5 531.0,57.4 531.2,59.6 531.4,59.2 531.6,56.8 531.8,58.0 532.0,59.5 532.2,56.9 532.4,55.2 532.6,57.7 532.8,56.0 532.9,56.2 533.1,57.4 533.3,55.1 533.5,55.0 533.7,55.0 533.9,54.0 534.1,52.3 534.3,52.6 534.5,52.8 534.7,53.8 534.9,52.8 535.1,50.6 535.3,50.3 535.5,48.7 535.7,48.8 535.8,50.2 536.0,49.6 536.2,47.2 536.4,47.7 536.6,49.2 536.8,48.1 537.0,45.8 537.2,45.6 537.4,47.2 537.6,48.4 537.8,48.5 538.0,44.7 538.2,44.8 538.4,46.5 538.5,45.8 538.7,44.4 538.9,44.4 539.1,45.5 539.3,46.2 539.5,45.8 539.7,47.6 539.9,46.2 540.1,45.5 540.3,44.3 540.5,42.5 540.7,42.7 540.9,46.0 541.1,47.2 541.2,45.0 541.4,45.1 541.6,45.2 541.8,44.3 542.0,45.5 542.2,45.2 542.4,42.2 542.6,42.1 542.8,42.9 543.0,42.4 543.2,43.0 543.4,44.0 543.6,43.2 543.8,44.3 544.0,44.4 544.1,41.5 544.3,41.9 544.5,43.9 544.7,46.3 544.9,47.0 545.1,47.7 545.3,48.6 545.5,48.6 545.7,50.8 545.9,50.5 546.1,49.2 546.3,49.4 546.5,54.2 546.7,53.8 546.8,53.8 547.0,55.5 547.2,57.3 547.4,55.9 547.6,54.4 547.8,54.7 548.0,55.6 548.2,56.4 548.4,55.4 548.6,57.5 548.8,61.0 549.0,60.4 549.2,61.4 549.4,63.1 549.5,58.6 549.7,55.6 549.9,57.2 550.1,59.0 550.3,58.1 550.5,55.6 550.7,56.8 550.9,57.6 551.1,57.3 551.3,55.8 551.5,55.4 551.7,56.6 551.9,57.8 552.1,58.8 552.3,57.5 552.4,56.9 552.6,55.7 552.8,58.9 553.0,57.6 553.2,57.5 553.4,58.5 553.6,57.4 553.8,57.7 554.0,58.5 554.2,59.2 554.4,59.8 554.6,60.9 554.8,61.9 555.0,63.2 555.1,64.6 555.3,65.6 555.5,66.5 555.7,67.4 555.9,68.5 556.1,70.4 556.3,71.6 556.5,73.3 556.7,74.3 556.9,75.3 557.1,76.9 557.3,77.6 557.5,77.8 557.7,78.5 557.8,79.6 558.0,80.4 558.2,80.6 558.4,82.2 558.6,83.4 558.8,83.6 559.0,84.7 559.2,86.0 559.4,86.6 559.6,87.6 559.8,88.6 560.0,89.8 560.2,91.0 560.4,91.4 560.6,92.6 560.7,94.0 560.9,94.8 561.1,95.2 561.3,96.4 561.5,97.2 561.7,97.9 561.9,99.1 562.1,100.5 562.3,100.7 562.5,101.2 562.7,102.0 562.9,102.8 563.1,104.0 563.3,104.8 563.4,105.5 563.6,106.7 563.8,107.0 564.0,107.7 564.2,108.8 564.4,109.5 564.6,110.7 564.8,112.1 565.0,112.4 565.2,113.3 565.4,114.2 565.6,114.9 565.8,115.3 566.0,116.4 566.1,117.5 566.3,117.9 566.5,118.6 566.7,119.8 566.9,120.5 567.1,121.2 567.3,121.9 567.5,122.1 567.7,122.3 567.9,122.7 568.1,123.5 568.3,124.4 568.5,125.0 568.7,125.8 568.9,127.0 569.0,127.5 569.2,128.2 569.4,129.1 569.6,129.9 569.8,130.6 570.0,131.2 570.2,132.0 570.4,132.1 570.6,132.6 570.8,133.2 571.0,133.6 571.2,134.1 571.4,135.1 571.6,135.7 571.7,136.8 571.9,137.7 572.1,137.7 572.3,137.2 572.5,138.2 572.7,138.0 572.9,138.0 573.1,138.7 573.3,138.5 573.5,138.6 573.7,139.1 573.9,139.3 574.1,140.3 574.3,141.2 574.4,141.4 574.6,142.0 574.8,142.8 575.0,142.8 575.2,142.0 575.4,142.9 575.6,143.4 575.8,143.8 576.0,143.9 576.2,144.2 576.4,144.6 576.6,145.2 576.8,145.5 577.0,145.3 577.1,144.7 577.3,144.2 577.5,144.4 577.7,144.6 577.9,145.2 578.1,145.8 578.3,146.3 578.5,146.4 578.7,146.9 578.9,146.3 579.1,145.6 579.3,145.9 579.5,146.0 579.7,146.8 579.9,147.3 580.0,147.2 580.2,146.9 580.4,146.3 580.6,146.2 580.8,147.2 581.0,147.5 581.2,147.4 581.4,147.7 581.6,147.9 581.8,147.6 582.0,147.4 582.2,147.6 582.4,148.2 582.6,148.2 582.7,148.4 582.9,147.9 583.1,148.3 583.3,148.4 583.5,148.4 583.7,148.6 583.9,149.0 584.1,148.9 584.3,147.9 584.5,148.1 584.7,148.1 584.9,147.7 585.1,148.3 585.3,148.5 585.4,148.5 585.6,148.3 585.8,148.5 586.0,148.8 586.2,149.0 586.4,148.8 586.6,148.9 586.8,149.8 587.0,149.6 587.2,149.5 587.4,149.8 587.6,150.1 587.8,149.6 588.0,149.8 588.2,149.9 588.3,150.2 588.5,150.6 588.7,150.5 588.9,150.8 589.1,150.6 589.3,150.3 589.5,150.2 589.7,150.2 589.9,150.0 590.1,149.5 590.3,150.1 590.5,151.0 590.7,151.0 590.9,151.0 591.0,150.9 591.2,151.1 591.4,151.0 591.6,150.4 591.8,150.8 592.0,151.2 592.2,151.3 592.4,151.1 592.6,150.7 592.8,150.8 593.0,151.3 593.2,152.5 593.4,151.6 593.6,150.9 593.7,150.7 593.9,151.7 594.1,152.4 594.3,151.9 594.5,152.3 594.7,152.8 594.9,152.4 595.1,151.6 595.3,151.5 595.5,151.9 595.7,152.3 595.9,151.7 596.1,152.6 596.3,152.9 596.5,153.0 596.6,152.2 596.8,152.2 597.0,152.3 597.2,152.7 597.4,152.9 597.6,153.1 597.8,153.6 598.0,152.8 598.2,152.7 598.4,153.2 598.6,153.3 598.8,153.0 599.0,152.7 599.2,153.1 599.3,153.5 599.5,154.0 599.7,154.4 599.9,154.1 600.1,153.8 600.3,153.9 600.5,153.8 600.7,153.6 600.9,153.7 601.1,153.8 601.3,153.8 601.5,154.0 601.7,154.2 601.9,154.4 602.0,154.8 602.2,154.3 602.4,154.7 602.6,154.4 602.8,154.4 603.0,154.2 603.2,154.7 603.4,155.0 603.6,154.5 603.8,154.7 604.0,154.9 604.2,154.8 604.4,154.6 604.6,154.7 604.8,155.2 604.9,155.9 605.1,155.6 605.3,155.1 605.5,154.7 605.7,155.1 605.9,155.4 606.1,155.1 606.3,155.5 606.5,155.7 606.7,155.9 606.9,156.2 607.1,155.6 607.3,155.7 607.5,156.2 607.6,156.5 607.8,156.0 608.0,155.6 608.2,156.4 608.4,156.7 608.6,156.5 608.8,157.2 609.0,157.5 609.2,157.0 609.4,156.8 609.6,156.8 609.8,156.8 610.0,156.6 610.2,156.8 610.3,157.1 610.5,157.0 610.7,156.5 610.9,156.3 611.1,156.4 611.3,157.0 611.5,158.3 611.7,157.9 611.9,157.4 612.1,157.3 612.3,157.6 612.5,156.9 612.7,157.1 612.9,157.5 613.1,157.5 613.2,157.7 613.4,157.8 613.6,157.5 613.8,157.9 614.0,158.3 614.2,158.1 614.4,158.0 614.6,158.1 614.8,157.6 615.0,157.9 615.2,157.3 615.4,157.5 615.6,158.2 615.8,158.0 615.9,157.7 616.1,158.2 616.3,158.7 616.5,158.1 616.7,157.7 616.9,158.6 617.1,158.3 617.3,158.3 617.5,158.5 617.7,158.7 617.9,158.6 618.1,158.1 618.3,158.4 618.5,158.8 618.6,158.4 618.8,159.0 619.0,158.7 619.2,158.5 619.4,158.3 619.6,158.5 619.8,158.5 620.0,158.8 620.2,158.6 620.4,158.6 620.6,158.3 620.8,159.0 621.0,158.8 621.2,158.9 621.4,159.2 621.5,159.5 621.7,159.5 621.9,160.1 622.1,160.1 622.3,159.6 622.5,159.9 622.7,159.3 622.9,159.5 623.1,159.6 623.3,159.6 623.5,159.6 623.7,159.9 623.9,160.0 624.1,159.8 624.2,159.4 624.4,159.2 624.6,159.3 624.8,159.7 625.0,160.3 625.2,160.7 625.4,160.0 625.6,159.8 625.8,160.1 626.0,159.8 626.2,159.7 626.4,160.0 626.6,159.9 626.8,160.4 626.9,161.1 627.1,160.9 627.3,160.7 627.5,160.5 627.7,160.9 627.9,161.0 628.1,161.1 628.3,160.8 628.5,160.6 628.7,160.3 628.9,160.4 629.1,160.7 629.3,160.8 629.5,160.8 629.7,160.7 629.8,160.7 630.0,161.8 630.2,161.4 630.4,160.9 630.6,160.8 630.8,161.4 631.0,161.1 631.2,160.9 631.4,161.6 631.6,162.2 631.8,161.9 632.0,161.8 632.2,161.5 632.4,161.5 632.5,160.9 632.7,161.4 632.9,161.9 633.1,162.1 633.3,162.1 633.5,161.5 633.7,161.1 633.9,161.5 634.1,161.6 634.3,162.0 634.5,161.6 634.7,161.2 634.9,162.0 635.1,161.5 635.2,161.6 635.4,162.8 635.6,163.0 635.8,162.6 636.0,162.0 636.2,162.3 636.4,162.3 636.6,162.0 636.8,162.1 637.0,162.3 637.2,162.3 637.4,162.1 637.6,162.4 637.8,162.0 638.0,162.5 638.1,162.8 638.3,162.4 638.5,162.6 638.7,163.3 638.9,163.0 639.1,163.3 639.3,163.2 639.5,162.7 639.7,163.0 639.9,162.9 640.1,162.8 640.3,162.3 640.5,162.9 640.7,163.6 640.8,163.7 641.0,163.6 641.2,163.2 641.4,163.0 641.6,162.8 641.8,163.0 642.0,163.2 642.2,163.2 642.4,163.3 642.6,163.2 642.8,163.0 643.0,163.1 643.2,163.8 643.4,164.4 643.5,164.1 643.7,163.9 643.9,164.6 644.1,164.1 644.3,163.7 644.5,164.0 644.7,164.1 644.9,163.1 645.1,163.1 645.3,163.6 645.5,163.3 645.7,163.4 645.9,163.9 646.1,163.3 646.3,164.1 646.4,164.5 646.6,164.6 646.8,164.4 647.0,164.7 647.2,164.3 647.4,163.8 647.6,164.1 647.8,164.2 648.0,163.9 648.2,164.4 648.4,164.2 648.6,164.4 648.8,164.5 649.0,164.5 649.1,164.5 649.3,164.7 649.5,165.0 649.7,165.0 649.9,164.6 650.1,164.9 650.3,165.4 650.5,165.3 650.7,165.2 650.9,165.0 651.1,164.9 651.3,165.0 651.5,165.2 651.7,165.3 651.8,166.0 652.0,166.4 652.2,165.8 652.4,165.9 652.6,166.0 652.8,165.8 653.0,165.4 653.2,165.7 653.4,165.5 653.6,165.7 653.8,166.2 654.0,166.2 654.2,165.5 654.4,165.2 654.6,165.0 654.7,164.8 654.9,165.3 655.1,165.5 655.3,165.7 655.5,165.8 655.7,166.0 655.9,165.9 656.1,165.4 656.3,166.3 656.5,166.0 656.7,165.7 656.9,166.0 657.1,166.4 657.3,166.3 657.4,166.4 657.6,166.6 657.8,166.4 658.0,166.4 658.2,166.4 658.4,166.2 658.6,166.5 658.8,166.4 659.0,166.5 659.2,166.3 659.4,166.3 659.6,166.5 659.8,166.9 660.0,167.0 660.1,167.0 660.3,166.5 660.5,166.2 660.7,166.2 660.9,166.7 661.1,166.9 661.3,167.6 661.5,167.9 661.7,167.5 661.9,167.4 662.1,167.8 662.3,167.7 662.5,167.1 662.7,167.4 662.9,167.5 663.0,166.3 663.2,166.7 663.4,167.1 663.6,167.0 663.8,167.2 664.0,166.9 664.2,167.8 664.4,168.0 664.6,167.6 664.8,167.5 665.0,167.1 665.2,167.9 665.4,167.9 665.6,167.4 665.7,167.1 665.9,167.0 666.1,167.0 666.3,166.8 666.5,167.5 666.7,167.5 666.9,167.4 667.1,167.8 667.3,168.0 667.5,168.1 667.7,168.3 667.9,168.4 668.1,168.4 668.3,168.5 668.4,168.2 668.6,168.3 668.8,167.2 669.0,167.0 669.2,167.4 669.4,168.1 669.6,168.2 669.8,167.7 670.0,167.9 670.2,168.1 670.4,168.3 670.6,168.1 670.8,168.5 671.0,168.6 671.2,169.1 671.3,168.8 671.5,168.4 671.7,168.6 671.9,168.6 672.1,168.3 672.3,168.3 672.5,168.4 672.7,169.3 672.9,168.7 673.1,168.6 673.3,169.4 673.5,169.3 673.7,168.7 673.9,169.2 674.0,169.1 674.2,168.7 674.4,168.9 674.6,168.8" fill="none" stroke="#264826" stroke-width="0.9" stroke-linejoin="round"/>
<polyline points="501.1,65.4 501.3,64.4 501.5,64.5 501.7,65.9 501.9,66.7 502.1,65.5 502.3,63.7 502.5,62.4 502.6,63.5 502.8,64.5 503.0,62.0 503.2,61.9 503.4,62.0 503.6,63.7 503.8,63.2 504.0,62.0 504.2,63.3 504.4,63.2 504.6,64.2 504.8,64.9 505.0,64.0 505.2,62.2 505.3,62.6 505.5,61.5 505.7,60.7 505.9,61.0 506.1,63.1 506.3,62.2 506.5,60.5 506.7,59.8 506.9,62.0 507.1,61.1 507.3,61.4 507.5,60.8 507.7,58.1 507.9,58.7 508.0,56.9 508.2,55.6 508.4,57.7 508.6,57.3 508.8,56.7 509.0,58.1 509.2,59.1 509.4,56.3 509.6,55.8 509.8,58.0 510.0,56.4 510.2,56.6 510.4,56.6 510.6,53.1 510.8,54.0 510.9,57.4 511.1,56.9 511.3,55.6 511.5,56.3 511.7,55.2 511.9,53.9 512.1,52.2 512.3,52.9 512.5,55.6 512.7,55.3 512.9,56.6 513.1,55.8 513.3,55.5 513.5,55.4 513.6,55.5 513.8,53.8 514.0,52.8 514.2,55.7 514.4,55.7 514.6,54.3 514.8,57.0 515.0,56.4 515.2,53.6 515.4,52.2 515.6,53.3 515.8,54.8 516.0,54.5 516.2,53.6 516.3,51.6 516.5,53.2 516.7,53.2 516.9,53.1 517.1,54.1 517.3,55.4 517.5,55.5 517.7,53.0 517.9,51.4 518.1,51.7 518.3,52.4 518.5,52.3 518.7,51.9 518.9,52.8 519.1,51.9 519.2,52.9 519.4,52.7 519.6,53.0 519.8,52.2 520.0,55.1 520.2,55.9 520.4,53.4 520.6,52.5 520.8,50.9 521.0,49.5 521.2,51.9 521.4,52.2 521.6,51.8 521.8,51.5 521.9,51.2 522.1,50.6 522.3,49.3 522.5,50.2 522.7,52.3 522.9,51.7 523.1,51.8 523.3,52.5 523.5,51.5 523.7,51.1 523.9,49.0 524.1,50.1 524.3,50.7 524.5,51.2 524.6,51.1 524.8,53.6 525.0,53.3 525.2,52.1 525.4,54.1 525.6,52.9 525.8,53.5 526.0,52.4 526.2,52.9 526.4,52.4 526.6,54.2 526.8,56.5 527.0,54.4 527.2,53.3 527.4,55.6 527.5,56.8 527.7,58.0 527.9,59.2 528.1,58.0 528.3,58.5 528.5,58.9 528.7,60.7 528.9,61.1 529.1,60.9 529.3,59.8 529.5,60.5 529.7,60.1 529.9,60.2 530.1,61.5 530.2,62.1 530.4,62.4 530.6,60.9 530.8,60.1 531.0,60.9 531.2,61.8 531.4,59.8 531.6,57.7 531.8,58.9 532.0,59.1 532.2,57.4 532.4,56.3 532.6,58.1 532.8,57.6 532.9,57.8 533.1,57.8 533.3,55.1 533.5,55.2 533.7,55.2 533.9,54.4 534.1,52.6 534.3,52.9 534.5,53.6 534.7,53.7 534.9,52.7 535.1,50.3 535.3,50.6 535.5,49.7 535.7,49.5 535.8,51.0 536.0,50.2 536.2,49.0 536.4,49.3 536.6,48.5 536.8,47.8 537.0,47.3 537.2,47.2 537.4,48.0 537.6,49.9 537.8,49.4 538.0,46.7 538.2,46.0 538.4,46.6 538.5,45.4 538.7,45.5 538.9,45.3 539.1,45.0 539.3,46.6 539.5,46.3 539.7,48.0 539.9,45.4 540.1,44.6 540.3,43.8 540.5,42.5 540.7,43.9 540.9,47.8 541.1,48.2 541.2,45.0 541.4,45.2 541.6,43.7 541.8,43.9 542.0,47.0 542.2,47.1 542.4,43.2 542.6,43.0 542.8,42.3 543.0,41.7 543.2,43.4 543.4,44.3 543.6,44.2 543.8,44.8 544.0,45.3 544.1,42.8 544.3,42.9 544.5,44.0 544.7,45.6 544.9,47.0 545.1,48.7 545.3,49.4 545.5,49.6 545.7,50.0 545.9,49.1 546.1,50.0 546.3,50.5 546.5,54.3 546.7,53.5 546.8,54.4 547.0,56.4 547.2,58.9 547.4,57.3 547.6,55.0 547.8,56.1 548.0,56.6 548.2,57.4 548.4,57.0 548.6,58.0 548.8,60.6 549.0,60.8 549.2,62.4 549.4,63.3 549.5,59.8 549.7,56.6 549.9,58.5 550.1,61.5 550.3,60.0 550.5,57.6 550.7,58.0 550.9,58.0 551.1,58.3 551.3,57.3 551.5,56.0 551.7,56.9 551.9,59.0 552.1,59.6 552.3,57.8 552.4,58.3 552.6,57.9 552.8,59.3 553.0,58.3 553.2,58.1 553.4,58.6 553.6,55.9 553.8,55.7 554.0,57.6 554.2,57.2 554.4,59.2 554.6,61.5 554.8,59.0 555.0,56.7 555.1,56.5 555.3,57.6 555.5,57.7 555.7,58.2 555.9,58.3 556.1,58.6 556.3,60.2 556.5,60.7 556.7,61.3 556.9,62.2 557.1,62.8 557.3,64.2 557.5,65.9 557.7,67.7 557.8,68.8 558.0,70.1 558.2,71.3 558.4,72.6 558.6,73.8 558.8,74.5 559.0,75.1 559.2,76.2 559.4,77.8 559.6,79.2 559.8,79.3 560.0,80.0 560.2,81.4 560.4,82.4 560.6,83.1 560.7,84.2 560.9,84.9 561.1,86.3 561.3,87.2 561.5,87.9 561.7,89.1 561.9,89.5 562.1,90.3 562.3,91.5 562.5,92.0 562.7,93.0 562.9,93.7 563.1,94.6 563.3,95.8 563.4,96.9 563.6,98.0 563.8,98.7 564.0,99.1 564.2,99.2 564.4,100.3 564.6,101.8 564.8,102.2 565.0,103.0 565.2,104.0 565.4,104.6 565.6,105.3 565.8,106.5 566.0,107.3 566.1,108.1 566.3,109.1 566.5,109.6 566.7,110.4 566.9,111.4 567.1,112.1 567.3,112.4 567.5,112.9 567.7,113.9 567.9,114.9 568.1,115.2 568.3,115.9 568.5,116.5 568.7,117.1 568.9,118.4 569.0,119.1 569.2,119.9 569.4,120.4 569.6,120.2 569.8,121.2 570.0,122.7 570.2,123.0 570.4,123.6 570.6,123.9 570.8,124.7 571.0,125.6 571.2,126.1 571.4,126.6 571.6,127.4 571.7,128.1 571.9,128.7 572.1,129.2 572.3,130.2 572.5,130.6 572.7,131.1 572.9,131.7 573.1,132.1 573.3,133.1 573.5,133.6 573.7,134.0 573.9,134.1 574.1,134.8 574.3,135.1 574.4,135.7 574.6,136.5 574.8,136.6 575.0,137.1 575.2,137.5 575.4,137.7 575.6,137.8 575.8,138.0 576.0,138.2 576.2,139.1 576.4,140.0 576.6,140.3 576.8,140.2 577.0,140.2 577.1,141.0 577.3,141.7 577.5,141.9 577.7,142.1 577.9,142.6 578.1,143.4 578.3,144.2 578.5,143.7 578.7,143.2 578.9,143.9 579.1,144.8 579.3,144.6 579.5,144.7 579.7,143.9 579.9,144.4 580.0,145.0 580.2,144.8 580.4,145.1 580.6,144.9 580.8,145.2 581.0,145.6 581.2,145.5 581.4,145.7 581.6,145.3 581.8,145.6 582.0,146.4 582.2,146.5 582.4,145.5 582.6,145.5 582.7,146.2 582.9,145.8 583.1,146.1 583.3,146.5 583.5,146.6 583.7,146.5 583.9,146.1 584.1,146.7 584.3,147.2 584.5,146.2 584.7,146.5 584.9,147.3 585.1,147.4 585.3,147.5 585.4,147.2 585.6,147.1 585.8,147.3 586.0,147.7 586.2,147.7 586.4,147.3 586.6,147.2 586.8,146.9 587.0,147.6 587.2,147.6 587.4,147.8 587.6,148.0 587.8,147.5 588.0,147.9 588.2,148.4 588.3,148.2 588.5,148.0 588.7,148.4 588.9,147.9 589.1,148.0 589.3,148.3 589.5,147.8 589.7,147.7 589.9,148.2 590.1,148.4 590.3,147.9 590.5,148.2 590.7,149.1 590.9,149.2 591.0,149.2 591.2,149.5 591.4,149.7 591.6,149.1 591.8,149.2 592.0,149.2 592.2,149.0 592.4,149.6 592.6,149.6 592.8,149.6 593.0,149.9 593.2,149.8 593.4,149.6 593.6,149.7 593.7,149.6 593.9,150.1 594.1,150.3 594.3,150.7 594.5,150.5 594.7,150.4 594.9,149.9 595.1,149.9 595.3,150.0 595.5,149.6 595.7,149.8 595.9,150.3 596.1,151.1 596.3,151.4 596.5,151.1 596.6,151.1 596.8,151.3 597.0,151.4 597.2,151.6 597.4,151.0 597.6,151.5 597.8,151.6 598.0,151.4 598.2,151.8 598.4,151.2 598.6,151.1 598.8,151.7 599.0,152.1 599.2,152.2 599.3,152.3 599.5,151.5 599.7,151.8 599.9,152.3 600.1,152.3 600.3,151.8 600.5,151.6 600.7,152.5 600.9,152.8 601.1,152.9 601.3,152.3 601.5,152.0 601.7,151.6 601.9,152.3 602.0,152.8 602.2,152.8 602.4,152.6 602.6,153.1 602.8,152.7 603.0,152.7 603.2,153.1 603.4,153.2 603.6,152.5 603.8,152.3 604.0,152.9 604.2,152.8 604.4,152.6 604.6,153.3 604.8,153.6 604.9,153.8 605.1,153.6 605.3,153.5 605.5,153.7 605.7,154.1 605.9,154.4 606.1,154.4 606.3,154.1 606.5,153.7 606.7,154.0 606.9,154.1 607.1,153.7 607.3,153.7 607.5,154.3 607.6,154.3 607.8,153.9 608.0,154.0 608.2,154.4 608.4,154.2 608.6,154.1 608.8,154.0 609.0,154.4 609.2,154.1 609.4,154.3 609.6,154.7 609.8,154.2 610.0,154.3 610.2,154.8 610.3,154.2 610.5,155.0 610.7,155.3 610.9,154.9 611.1,154.5 611.3,154.6 611.5,154.7 611.7,154.4 611.9,154.5 612.1,154.1 612.3,153.9 612.5,155.0 612.7,156.2 612.9,155.8 613.1,155.7 613.2,155.4 613.4,155.4 613.6,156.0 613.8,156.0 614.0,155.7 614.2,155.9 614.4,156.4 614.6,155.5 614.8,155.5 615.0,155.6 615.2,155.7 615.4,156.1 615.6,155.8 615.8,155.3 615.9,155.3 616.1,155.6 616.3,156.1 616.5,156.1 616.7,155.5 616.9,155.7 617.1,156.4 617.3,157.1 617.5,157.0 617.7,156.8 617.9,156.0 618.1,156.1 618.3,156.6 618.5,156.2 618.6,155.3 618.8,155.8 619.0,156.8 619.2,156.8 619.4,157.2 619.6,157.3 619.8,156.4 620.0,155.5 620.2,155.7 620.4,156.5 620.6,156.8 620.8,156.6 621.0,156.5 621.2,157.4 621.4,157.5 621.5,156.3 621.7,156.3 621.9,156.2 622.1,156.5 622.3,156.5 622.5,157.0 622.7,156.7 622.9,156.3 623.1,156.6 623.3,157.1 623.5,157.0 623.7,157.5 623.9,157.8 624.1,157.1 624.2,156.6 624.4,157.0 624.6,157.6 624.8,157.1 625.0,157.1 625.2,157.9 625.4,158.4 625.6,157.3 625.8,157.0 626.0,157.5 626.2,158.4 626.4,158.3 626.6,157.4 626.8,157.2 626.9,157.5 627.1,157.8 627.3,157.8 627.5,158.0 627.7,158.2 627.9,158.2 628.1,158.0 628.3,158.0 628.5,157.6 628.7,157.7 628.9,158.0 629.1,157.6 629.3,158.2 629.5,158.0 629.7,157.5 629.8,157.9 630.0,158.8 630.2,158.0 630.4,157.5 630.6,157.9 630.8,159.1 631.0,158.9 631.2,158.6 631.4,158.5 631.6,158.1 631.8,158.4 632.0,158.1 632.2,158.4 632.4,159.2 632.5,159.2 632.7,158.9 632.9,158.6 633.1,158.3 633.3,158.6 633.5,158.6 633.7,159.7 633.9,160.2 634.1,159.3 634.3,158.8 634.5,159.1 634.7,159.3 634.9,158.7 635.1,158.2 635.2,158.9 635.4,159.5 635.6,159.3 635.8,158.5 636.0,158.8 636.2,158.8 636.4,158.5 636.6,158.8 636.8,159.4 637.0,158.9 637.2,158.8 637.4,158.9 637.6,159.0 637.8,159.5 638.0,159.6 638.1,159.6 638.3,159.4 638.5,159.7 638.7,159.7 638.9,160.0 639.1,159.9 639.3,159.8 639.5,159.8 639.7,159.7 639.9,159.8 640.1,160.2 640.3,160.5 640.5,159.8 640.7,160.0 640.8,160.2 641.0,160.2 641.2,159.8 641.4,160.2 641.6,159.8 641.8,159.3 642.0,159.2 642.2,159.4 642.4,159.9 642.6,160.4 642.8,159.7 643.0,159.5 643.2,159.7 643.4,159.9 643.5,160.3 643.7,160.5 643.9,159.9 644.1,160.0 644.3,160.6 644.5,160.3 644.7,160.2 644.9,160.2 645.1,160.3 645.3,160.1 645.5,160.0 645.7,160.4 645.9,161.1 646.1,160.6 646.3,160.8 646.4,161.2 646.6,160.9 646.8,161.2 647.0,160.6 647.2,160.3 647.4,160.9 647.6,160.7 647.8,160.7 648.0,161.0 648.2,161.5 648.4,161.1 648.6,161.0 648.8,160.9 649.0,161.0 649.1,160.9 649.3,161.0 649.5,160.9 649.7,160.8 649.9,161.1 650.1,161.0 650.3,161.2 650.5,161.4 650.7,161.6 650.9,161.2 651.1,161.1 651.3,161.4 651.5,161.4 651.7,161.6 651.8,162.1 652.0,161.6 652.2,161.3 652.4,162.1 652.6,162.6 652.8,162.2 653.0,161.9 653.2,161.4 653.4,161.8 653.6,162.1 653.8,162.3 654.0,162.2 654.2,162.5 654.4,162.6 654.6,162.5 654.7,162.4 654.9,162.0 655.1,162.6 655.3,162.6 655.5,162.8 655.7,162.8 655.9,162.3 656.1,162.9 656.3,162.4 656.5,162.9 656.7,162.4 656.9,162.0 657.1,163.3 657.3,163.3 657.4,162.4 657.6,162.6 657.8,163.0 658.0,163.0 658.2,163.2 658.4,162.8 658.6,162.4 658.8,162.9 659.0,162.8 659.2,162.3 659.4,162.2 659.6,163.0 659.8,163.1 660.0,163.4 660.1,163.5 660.3,163.5 660.5,163.7 660.7,164.3 660.9,164.4 661.1,163.8 661.3,163.3 661.5,163.0 661.7,163.5 661.9,163.5 662.1,163.2 662.3,163.2 662.5,163.5 662.7,163.4 662.9,163.0 663.0,163.6 663.2,164.1 663.4,164.4 663.6,163.8 663.8,163.6 664.0,163.2 664.2,163.6 664.4,163.5 664.6,163.3 664.8,163.4 665.0,164.1 665.2,163.6 665.4,163.9 665.6,164.2 665.7,164.3 665.9,164.4 666.1,164.7 666.3,165.1 666.5,164.4 666.7,164.3 666.9,164.7 667.1,164.2 667.3,163.5 667.5,164.0 667.7,164.3 667.9,164.0 668.1,164.6 668.3,164.8 668.4,164.8 668.6,164.7 668.8,164.3 669.0,164.5 669.2,164.9 669.4,164.9 669.6,164.8 669.8,165.0 670.0,165.0 670.2,165.3 670.4,165.3 670.6,165.2 670.8,165.3 671.0,165.0 671.2,165.2 671.3,165.5 671.5,165.5 671.7,165.4 671.9,165.3 672.1,165.2 672.3,165.4 672.5,165.5 672.7,164.8 672.9,164.8 673.1,165.1 673.3,165.0 673.5,165.2 673.7,165.5 673.9,165.2 674.0,164.4 674.2,164.7 674.4,165.1 674.6,165.7" fill="none" stroke="#245624" stroke-width="0.9" stroke-linejoin="round"/>
<polyline points="501.1,63.1 501.3,62.1 501.5,63.4 501.7,64.0 501.9,63.6 502.1,63.6 502.3,61.6 502.5,60.6 502.6,62.6 502.8,62.8 503.0,60.1 503.2,60.5 503.4,61.4 503.6,61.9 503.8,61.4 504.0,61.0 504.2,63.0 504.4,62.9 504.6,63.8 504.8,63.4 505.0,63.2 505.2,62.0 505.3,61.7 505.5,59.9 505.7,59.2 505.9,59.8 506.1,61.9 506.3,60.6 506.5,59.3 506.7,59.1 506.9,60.9 507.1,59.8 507.3,59.7 507.5,59.1 507.7,57.5 507.9,58.0 508.0,56.1 508.2,55.9 508.4,57.2 508.6,56.4 508.8,55.8 509.0,56.3 509.2,58.4 509.4,56.1 509.6,53.1 509.8,56.3 510.0,55.3 510.2,55.0 510.4,54.9 510.6,53.0 510.8,53.8 510.9,56.0 511.1,54.6 511.3,53.9 511.5,54.7 511.7,54.7 511.9,55.2 512.1,52.9 512.3,52.9 512.5,54.3 512.7,53.3 512.9,54.0 513.1,54.0 513.3,55.1 513.5,54.4 513.6,53.4 513.8,51.7 514.0,51.3 514.2,54.8 514.4,55.2 514.6,53.6 514.8,55.3 515.0,54.6 515.2,52.1 515.4,49.8 515.6,50.1 515.8,52.6 516.0,53.2 516.2,53.1 516.3,51.2 516.5,52.3 516.7,52.4 516.9,51.9 517.1,52.4 517.3,53.3 517.5,53.9 517.7,52.5 517.9,51.5 518.1,49.7 518.3,49.6 518.5,50.7 518.7,51.9 518.9,52.0 519.1,50.7 519.2,51.1 519.4,50.7 519.6,52.1 519.8,52.1 520.0,53.9 520.2,54.0 520.4,52.8 520.6,52.3 520.8,49.6 521.0,47.5 521.2,50.1 521.4,51.0 521.6,49.8 521.8,50.0 521.9,50.9 522.1,50.7 522.3,50.2 522.5,49.3 522.7,50.2 522.9,49.9 523.1,49.8 523.3,50.0 523.5,49.4 523.7,48.9 523.9,46.7 524.1,47.5 524.3,48.5 524.5,49.6 524.6,50.5 524.8,52.7 525.0,51.9 525.2,51.1 525.4,53.8 525.6,52.2 525.8,53.2 526.0,52.8 526.2,53.5 526.4,52.8 526.6,53.5 526.8,54.6 527.0,51.8 527.2,52.1 527.4,55.1 527.5,56.1 527.7,56.3 527.9,57.0 528.1,57.2 528.3,58.4 528.5,59.5 528.7,59.6 528.9,60.1 529.1,60.0 529.3,57.8 529.5,58.6 529.7,58.8 529.9,59.3 530.1,60.0 530.2,60.4 530.4,60.5 530.6,60.0 530.8,59.2 531.0,60.0 531.2,61.1 531.4,59.4 531.6,56.7 531.8,57.8 532.0,57.5 532.2,54.9 532.4,53.5 532.6,56.1 532.8,56.7 532.9,56.3 533.1,55.5 533.3,52.8 533.5,54.1 533.7,54.6 533.9,53.8 534.1,52.8 534.3,53.2 534.5,52.7 534.7,54.0 534.9,53.7 535.1,49.8 535.3,49.8 535.5,48.9 535.7,48.7 535.8,49.5 536.0,49.4 536.2,48.6 536.4,49.4 536.6,48.6 536.8,46.7 537.0,44.8 537.2,44.6 537.4,46.7 537.6,49.1 537.8,48.2 538.0,45.3 538.2,45.8 538.4,47.2 538.5,45.5 538.7,44.5 538.9,44.9 539.1,45.3 539.3,46.2 539.5,45.6 539.7,47.2 539.9,45.0 540.1,44.3 540.3,44.0 540.5,42.8 540.7,42.3 540.9,46.3 541.1,47.1 541.2,44.7 541.4,44.9 541.6,44.1 541.8,42.8 542.0,45.2 542.2,45.3 542.4,43.0 542.6,42.2 542.8,41.5 543.0,40.7 543.2,43.1 543.4,43.4 543.6,42.3 543.8,42.6 544.0,42.8 544.1,41.2 544.3,41.5 544.5,42.6 544.7,45.3 544.9,46.7 545.1,48.3 545.3,48.3 545.5,48.1 545.7,49.1 545.9,48.6 546.1,48.6 546.3,49.0 546.5,52.9 546.7,54.0 546.8,53.9 547.0,54.9 547.2,57.0 547.4,56.5 547.6,54.2 547.8,54.3 548.0,55.1 548.2,55.6 548.4,54.4 548.6,55.9 548.8,58.3 549.0,58.4 549.2,60.8 549.4,62.1 549.5,58.4 549.7,55.5 549.9,57.1 550.1,58.8 550.3,58.8 550.5,56.5 550.7,56.5 550.9,57.3 551.1,57.8 551.3,57.8 551.5,55.7 551.7,55.8 551.9,57.0 552.1,57.8 552.3,57.0 552.4,57.1 552.6,55.5 552.8,57.8 553.0,56.8 553.2,56.4 553.4,57.8 553.6,54.7 553.8,54.6 554.0,56.0 554.2,55.9 554.4,57.4 554.6,59.0 554.8,56.9 555.0,56.6 555.1,56.4 555.3,57.2 555.5,55.5 555.7,54.9 555.9,54.8 556.1,55.8 556.3,56.0 556.5,54.6 556.7,56.2 556.9,57.2 557.1,58.0 557.3,55.4 557.5,55.9 557.7,55.8 557.8,56.3 558.0,57.3 558.2,58.6 558.4,58.9 558.6,60.6 558.8,61.8 559.0,62.6 559.2,64.2 559.4,65.9 559.6,67.8 559.8,68.7 560.0,69.6 560.2,70.9 560.4,72.4 560.6,73.6 560.7,74.8 560.9,76.3 561.1,77.1 561.3,77.4 561.5,78.8 561.7,79.5 561.9,80.4 562.1,81.2 562.3,82.6 562.5,83.4 562.7,84.4 562.9,85.4 563.1,86.4 563.3,87.5 563.4,88.4 563.6,89.2 563.8,89.8 564.0,91.0 564.2,92.4 564.4,93.0 564.6,93.7 564.8,94.6 565.0,94.9 565.2,95.7 565.4,96.7 565.6,98.1 565.8,98.8 566.0,99.4 566.1,100.8 566.3,101.2 566.5,102.0 566.7,103.0 566.9,103.8 567.1,104.8 567.3,105.5 567.5,106.6 567.7,107.3 567.9,107.3 568.1,108.7 568.3,109.9 568.5,109.9 568.7,111.2 568.9,112.8 569.0,112.4 569.2,112.4 569.4,113.0 569.6,113.5 569.8,114.7 570.0,115.5 570.2,116.6 570.4,116.8 570.6,116.9 570.8,117.9 571.0,119.0 571.2,120.3 571.4,120.8 571.6,121.3 571.7,121.4 571.9,122.3 572.1,122.8 572.3,123.5 572.5,123.5 572.7,124.8 572.9,125.0 573.1,124.7 573.3,126.1 573.5,127.2 573.7,127.3 573.9,127.5 574.1,128.4 574.3,129.8 574.4,130.2 574.6,130.8 574.8,130.3 575.0,131.1 575.2,131.9 575.4,132.0 575.6,132.7 575.8,133.4 576.0,133.3 576.2,134.3 576.4,135.1 576.6,134.5 576.8,134.5 577.0,135.1 577.1,136.0 577.3,136.8 577.5,136.6 577.7,136.6 577.9,137.1 578.1,137.7 578.3,138.6 578.5,138.7 578.7,139.1 578.9,140.5 579.1,141.1 579.3,141.0 579.5,140.8 579.7,141.0 579.9,141.5 580.0,141.8 580.2,142.0 580.4,142.2 580.6,142.2 580.8,142.4 581.0,142.8 581.2,143.0 581.4,143.3 581.6,143.2 581.8,143.4 582.0,143.1 582.2,143.6 582.4,143.9 582.6,144.4 582.7,144.4 582.9,144.3 583.1,144.5 583.3,145.0 583.5,145.2 583.7,144.9 583.9,144.8 584.1,144.6 584.3,144.6 584.5,145.5 584.7,146.2 584.9,146.0 585.1,146.4 585.3,146.2 585.4,145.4 585.6,145.6 585.8,146.2 586.0,146.4 586.2,146.4 586.4,146.8 586.6,146.4 586.8,146.2 587.0,145.9 587.2,146.6 587.4,146.4 587.6,146.7 587.8,146.6 588.0,147.0 588.2,146.8 588.3,147.1 588.5,147.4 588.7,147.2 588.9,147.0 589.1,146.8 589.3,146.5 589.5,147.2 589.7,148.4 589.9,148.3 590.1,148.4 590.3,148.0 590.5,147.7 590.7,148.4 590.9,148.5 591.0,148.0 591.2,147.9 591.4,147.4 591.6,147.7 591.8,147.7 592.0,147.6 592.2,148.3 592.4,148.6 592.6,148.8 592.8,148.4 593.0,148.0 593.2,148.0 593.4,148.7 593.6,149.2 593.7,149.4 593.9,149.6 594.1,149.0 594.3,148.8 594.5,150.1 594.7,150.2 594.9,149.2 595.1,149.7 595.3,149.6 595.5,149.8 595.7,149.3 595.9,149.2 596.1,149.4 596.3,149.4 596.5,149.6 596.6,149.4 596.8,149.0 597.0,149.4 597.2,150.2 597.4,150.5 597.6,150.4 597.8,150.3 598.0,150.3 598.2,150.4 598.4,150.2 598.6,150.3 598.8,150.3 599.0,150.4 599.2,150.5 599.3,150.8 599.5,150.2 599.7,150.4 599.9,150.5 600.1,150.4 600.3,150.3 600.5,150.5 600.7,150.9 600.9,151.3 601.1,151.8 601.3,151.4 601.5,151.4 601.7,151.2 601.9,150.7 602.0,151.8 602.2,151.5 602.4,150.9 602.6,150.9 602.8,151.2 603.0,152.1 603.2,152.2 603.4,151.7 603.6,151.6 603.8,151.2 604.0,151.6 604.2,151.8 604.4,151.9 604.6,152.1 604.8,152.2 604.9,152.4 605.1,152.4 605.3,152.4 605.5,152.5 605.7,153.1 605.9,153.1 606.1,152.5 606.3,152.5 606.5,152.9 606.7,153.0 606.9,152.8 607.1,152.3 607.3,152.9 607.5,152.5 607.6,152.9 607.8,152.9 608.0,153.0 608.2,153.1 608.4,152.6 608.6,152.7 608.8,153.3 609.0,153.3 609.2,152.4 609.4,152.5 609.6,153.1 609.8,153.4 610.0,153.3 610.2,153.2 610.3,153.2 610.5,153.8 610.7,153.8 610.9,153.8 611.1,153.1 611.3,152.9 611.5,153.5 611.7,153.5 611.9,153.3 612.1,154.0 612.3,154.2 612.5,153.7 612.7,153.8 612.9,153.9 613.1,153.6 613.2,154.2 613.4,154.9 613.6,154.4 613.8,154.1 614.0,153.7 614.2,154.2 614.4,154.5 614.6,154.3 614.8,154.6 615.0,155.1 615.2,154.8 615.4,154.6 615.6,153.9 615.8,153.8 615.9,155.1 616.1,155.5 616.3,155.4 616.5,155.4 616.7,155.3 616.9,154.9 617.1,154.8 617.3,155.7 617.5,156.1 617.7,156.0 617.9,154.9 618.1,154.8 618.3,155.9 618.5,156.2 618.6,155.4 618.8,154.9 619.0,154.9 619.2,155.2 619.4,155.2 619.6,155.4 619.8,155.6 620.0,155.0 620.2,155.6 620.4,156.2 620.6,156.3 620.8,156.5 621.0,155.9 621.2,155.6 621.4,156.1 621.5,155.4 621.7,155.0 621.9,155.8 622.1,156.6 622.3,156.7 622.5,156.6 622.7,156.9 622.9,156.9 623.1,156.6 623.3,156.3 623.5,156.3 623.7,156.5 623.9,155.7 624.1,155.7 624.2,156.1 624.4,156.5 624.6,156.0 624.8,156.3 625.0,155.9 625.2,156.2 625.4,157.0 625.6,156.8 625.8,156.0 626.0,156.2 626.2,156.8 626.4,156.8 626.6,157.0 626.8,157.3 626.9,157.3 627.1,157.4 627.3,157.3 627.5,157.1 627.7,157.4 627.9,157.0 628.1,157.0 628.3,156.9 628.5,156.7 628.7,156.7 628.9,156.9 629.1,157.1 629.3,157.4 629.5,157.4 629.7,157.9 629.8,157.7 630.0,157.4 630.2,157.5 630.4,157.7 630.6,157.9 630.8,157.4 631.0,157.8 631.2,157.8 631.4,157.7 631.6,157.6 631.8,158.1 632.0,158.7 632.2,158.9 632.4,158.6 632.5,158.5 632.7,157.9 632.9,157.8 633.1,159.0 633.3,159.0 633.5,158.2 633.7,157.8 633.9,158.0 634.1,158.2 634.3,158.1 634.5,158.0 634.7,157.7 634.9,158.3 635.1,159.0 635.2,158.9 635.4,158.7 635.6,159.0 635.8,159.0 636.0,159.1 636.2,159.1 636.4,158.7 636.6,159.1 636.8,159.5 637.0,159.4 637.2,158.8 637.4,158.2 637.6,158.5 637.8,158.4 638.0,159.1 638.1,159.9 638.3,159.5 638.5,159.7 638.7,160.1 638.9,159.7 639.1,159.0 639.3,159.9 639.5,159.8 639.7,159.1 639.9,159.4 640.1,160.2 640.3,160.0 640.5,159.9 640.7,159.8 640.8,159.6 641.0,160.0 641.2,159.8 641.4,159.6 641.6,160.5 641.8,160.3 642.0,160.0 642.2,160.5 642.4,160.7 642.6,160.7 642.8,160.4 643.0,160.3 643.2,159.9 643.4,159.8 643.5,160.2 643.7,160.5 643.9,160.4 644.1,160.6 644.3,160.8 644.5,160.3 644.7,160.3 644.9,160.5 645.1,161.0 645.3,160.3 645.5,159.8 645.7,160.5 645.9,161.3 646.1,161.1 646.3,160.9 646.4,160.9 646.6,161.0 646.8,161.0 647.0,161.2 647.2,161.2 647.4,161.4 647.6,161.2 647.8,161.0 648.0,161.3 648.2,161.3 648.4,161.7 648.6,161.8 648.8,161.5 649.0,161.2 649.1,161.6 649.3,161.5 649.5,162.1 649.7,161.9 649.9,161.3 650.1,161.6 650.3,162.3 650.5,162.4 650.7,161.9 650.9,162.3 651.1,162.0 651.3,162.2 651.5,161.9 651.7,161.1 651.8,161.2 652.0,161.9 652.2,162.7 652.4,162.4 652.6,162.3 652.8,162.3 653.0,162.2 653.2,163.0 653.4,162.7 653.6,162.6 653.8,162.7 654.0,162.3 654.2,163.0 654.4,162.9 654.6,163.1 654.7,163.9 654.9,163.9 655.1,163.4 655.3,162.7 655.5,162.5 655.7,162.7 655.9,163.3 656.1,164.0 656.3,163.5 656.5,163.3 656.7,162.8 656.9,162.4 657.1,162.3 657.3,162.8 657.4,163.2 657.6,163.9 657.8,163.9 658.0,164.0 658.2,163.7 658.4,164.1 658.6,164.1 658.8,164.3 659.0,164.1 659.2,163.9 659.4,164.1 659.6,164.2 659.8,164.3 660.0,163.8 660.1,164.1 660.3,163.6 660.5,163.6 660.7,165.1 660.9,165.1 661.1,164.5 661.3,164.1 661.5,164.5 661.7,164.6 661.9,164.8 662.1,164.7 662.3,165.0 662.5,165.0 662.7,166.1 662.9,165.7 663.0,164.4 663.2,164.7 663.4,165.0 663.6,164.1 663.8,164.2 664.0,164.6 664.2,165.1 664.4,164.9 664.6,165.2 664.8,165.8 665.0,165.4 665.2,165.2 665.4,164.8 665.6,164.9 665.7,165.7 665.9,165.9 666.1,165.5 666.3,165.4 666.5,165.8 666.7,165.8 666.9,165.5 667.1,165.5 667.3,165.4 667.5,165.8 667.7,166.6 667.9,166.8 668.1,166.1 668.3,166.2 668.4,166.4 668.6,166.6 668.8,167.0 669.0,167.1 669.2,167.5 669.4,167.1 669.6,166.7 669.8,165.9 670.0,166.2 670.2,166.6 670.4,166.6 670.6,166.5 670.8,167.0 671.0,167.1 671.2,166.7 671.3,166.0 671.5,166.9 671.7,167.7 671.9,166.7 672.1,166.1 672.3,166.8 672.5,166.0 672.7,166.7 672.9,167.0 673.1,167.5 673.3,167.8 673.5,168.1 673.7,168.4 673.9,168.4 674.0,167.6 674.2,167.9 674.4,167.7 674.6,167.6" fill="none" stroke="#226422" stroke-width="0.9" stroke-linejoin="round"/>
<polyline points="501.1,64.1 501.3,63.5 501.5,64.2 501.7,65.0 501.9,64.5 502.1,64.4 502.3,63.3 502.5,62.0 502.6,63.3 502.8,62.7 503.0,60.2 503.2,59.7 503.4,60.9 503.6,61.8 503.8,60.7 504.0,59.9 504.2,62.0 504.4,62.3 504.6,63.6 504.8,63.1 505.0,62.1 505.2,61.7 505.3,61.5 505.5,59.6 505.7,58.1 505.9,59.0 506.1,62.7 506.3,61.9 506.5,58.7 506.7,58.5 506.9,61.0 507.1,60.0 507.3,60.0 507.5,59.7 507.7,56.5 507.9,57.2 508.0,56.9 508.2,56.6 508.4,57.8 508.6,57.2 508.8,56.2 509.0,56.7 509.2,56.8 509.4,55.6 509.6,55.5 509.8,56.0 510.0,54.6 510.2,55.3 510.4,55.5 510.6,53.4 510.8,54.3 510.9,57.6 511.1,55.6 511.3,52.9 511.5,53.1 511.7,53.6 511.9,54.1 512.1,52.2 512.3,51.8 512.5,53.7 512.7,53.7 512.9,54.4 513.1,54.2 513.3,55.9 513.5,54.5 513.6,54.1 513.8,52.3 514.0,52.1 514.2,54.0 514.4,53.5 514.6,52.6 514.8,54.6 515.0,53.7 515.2,52.6 515.4,52.2 515.6,53.3 515.8,54.5 516.0,53.5 516.2,52.2 516.3,50.6 516.5,52.1 516.7,52.8 516.9,52.7 517.1,53.5 517.3,53.9 517.5,52.9 517.7,52.0 517.9,52.5 518.1,50.5 518.3,49.8 518.5,50.2 518.7,50.9 518.9,51.0 519.1,49.9 519.2,51.7 519.4,51.9 519.6,52.8 519.8,52.1 520.0,52.7 520.2,53.5 520.4,52.5 520.6,52.4 520.8,49.5 521.0,47.6 521.2,51.1 521.4,52.1 521.6,51.0 521.8,49.6 521.9,49.4 522.1,49.0 522.3,47.9 522.5,48.6 522.7,50.9 522.9,50.1 523.1,49.0 523.3,50.1 523.5,49.9 523.7,49.3 523.9,47.3 524.1,47.7 524.3,49.0 524.5,50.1 524.6,50.1 524.8,51.6 525.0,51.8 525.2,51.5 525.4,53.1 525.6,52.3 525.8,53.3 526.0,52.2 526.2,52.5 526.4,51.9 526.6,52.5 526.8,53.7 527.0,52.6 527.2,52.8 527.4,54.6 527.5,55.9 527.7,56.8 527.9,57.6 528.1,56.0 528.3,58.0 528.5,59.9 528.7,60.1 528.9,60.0 529.1,59.7 529.3,58.5 529.5,59.1 529.7,58.0 529.9,59.6 530.1,60.6 530.2,59.9 530.4,59.6 530.6,59.5 530.8,59.8 531.0,59.3 531.2,60.5 531.4,58.7 531.6,54.6 531.8,56.9 532.0,58.7 532.2,56.2 532.4,54.9 532.6,57.8 532.8,57.5 532.9,56.2 533.1,56.0 533.3,53.7 533.5,53.5 533.7,53.3 533.9,53.3 534.1,52.9 534.3,53.0 534.5,52.7 534.7,52.7 534.9,52.1 535.1,50.1 535.3,50.1 535.5,48.6 535.7,49.4 535.8,49.8 536.0,49.2 536.2,47.1 536.4,48.0 536.6,48.6 536.8,47.9 537.0,45.8 537.2,45.1 537.4,46.2 537.6,48.4 537.8,47.8 538.0,45.6 538.2,45.6 538.4,46.2 538.5,45.8 538.7,45.2 538.9,44.7 539.1,44.8 539.3,46.0 539.5,45.4 539.7,46.2 539.9,44.5 540.1,43.1 540.3,42.2 540.5,40.9 540.7,41.9 540.9,45.2 541.1,46.6 541.2,44.5 541.4,45.0 541.6,44.9 541.8,43.1 542.0,45.1 542.2,45.4 542.4,41.5 542.6,40.7 542.8,41.4 543.0,41.4 543.2,42.1 543.4,43.3 543.6,42.1 543.8,42.1 544.0,42.2 544.1,40.0 544.3,41.6 544.5,43.6 544.7,44.5 544.9,45.2 545.1,46.7 545.3,46.2 545.5,46.1 545.7,48.9 545.9,49.6 546.1,49.6 546.3,49.1 546.5,52.4 546.7,52.5 546.8,54.3 547.0,55.8 547.2,57.9 547.4,57.2 547.6,55.8 547.8,56.4 548.0,56.0 548.2,55.4 548.4,54.3 548.6,56.8 548.8,60.0 549.0,59.3 549.2,60.7 549.4,62.1 549.5,58.5 549.7,55.7 549.9,57.2 550.1,59.2 550.3,58.7 550.5,55.8 550.7,56.9 550.9,57.2 551.1,57.4 551.3,55.8 551.5,55.0 551.7,56.1 551.9,57.5 552.1,58.7 552.3,57.1 552.4,56.3 552.6,54.9 552.8,58.0 553.0,57.1 553.2,57.4 553.4,57.4 553.6,53.7 553.8,53.6 554.0,55.9 554.2,55.6 554.4,56.8 554.6,59.3 554.8,56.8 555.0,57.1 555.1,57.6 555.3,58.8 555.5,58.2 555.7,56.5 555.9,53.7 556.1,53.5 556.3,54.3 556.5,54.8 556.7,56.7 556.9,58.1 557.1,57.4 557.3,53.2 557.5,52.7 557.7,53.2 557.8,54.7 558.0,56.7 558.2,56.9 558.4,56.1 558.6,55.1 558.8,53.8 559.0,52.9 559.2,53.7 559.4,54.7 559.6,55.2 559.8,55.1 560.0,55.3 560.2,55.5 560.4,56.3 560.6,57.1 560.7,58.0 560.9,58.4 561.1,59.3 561.3,60.9 561.5,62.2 561.7,64.5 561.9,65.9 562.1,66.9 562.3,67.6 562.5,69.4 562.7,71.0 562.9,73.0 563.1,73.8 563.3,74.6 563.4,76.2 563.6,78.0 563.8,78.1 564.0,78.4 564.2,79.2 564.4,80.7 564.6,82.3 564.8,82.8 565.0,83.4 565.2,84.6 565.4,85.4 565.6,86.5 565.8,87.2 566.0,88.0 566.1,88.9 566.3,89.0 566.5,90.4 566.7,91.7 566.9,92.9 567.1,93.7 567.3,94.7 567.5,96.1 567.7,96.9 567.9,97.1 568.1,98.2 568.3,100.0 568.5,100.8 568.7,100.8 568.9,101.2 569.0,102.0 569.2,103.2 569.4,103.6 569.6,104.6 569.8,105.5 570.0,106.0 570.2,106.4 570.4,107.1 570.6,108.0 570.8,109.3 571.0,110.2 571.2,111.2 571.4,111.8 571.6,112.4 571.7,112.9 571.9,113.2 572.1,113.8 572.3,114.5 572.5,115.3 572.7,115.8 572.9,116.6 573.1,117.1 573.3,117.8 573.5,118.6 573.7,119.6 573.9,120.9 574.1,121.3 574.3,120.9 574.4,121.7 574.6,122.6 574.8,123.5 575.0,123.9 575.2,123.8 575.4,125.4 575.6,126.1 575.8,126.7 576.0,127.7 576.2,128.4 576.4,128.7 576.6,129.1 576.8,129.5 577.0,129.8 577.1,130.8 577.3,130.8 577.5,130.8 577.7,131.6 577.9,133.2 578.1,134.1 578.3,133.4 578.5,133.6 578.7,134.3 578.9,134.3 579.1,135.1 579.3,135.6 579.5,136.2 579.7,136.3 579.9,136.8 580.0,137.0 580.2,136.9 580.4,137.6 580.6,138.4 580.8,138.1 581.0,138.3 581.2,139.2 581.4,139.5 581.6,139.6 581.8,139.9 582.0,140.0 582.2,140.2 582.4,140.5 582.6,140.2 582.7,141.2 582.9,141.3 583.1,140.5 583.3,140.5 583.5,141.6 583.7,142.2 583.9,142.5 584.1,142.0 584.3,142.3 584.5,142.8 584.7,142.5 584.9,142.2 585.1,142.2 585.3,142.0 585.4,142.4 585.6,143.0 585.8,143.3 586.0,143.2 586.2,143.0 586.4,143.1 586.6,143.3 586.8,143.7 587.0,143.6 587.2,143.6 587.4,144.4 587.6,144.7 587.8,143.9 588.0,144.2 588.2,144.7 588.3,144.7 588.5,145.1 588.7,145.6 588.9,145.5 589.1,145.6 589.3,145.3 589.5,145.1 589.7,144.9 589.9,145.2 590.1,145.4 590.3,145.7 590.5,146.0 590.7,146.2 590.9,145.5 591.0,145.7 591.2,146.1 591.4,146.0 591.6,146.3 591.8,146.4 592.0,146.0 592.2,145.8 592.4,146.4 592.6,147.0 592.8,146.6 593.0,146.0 593.2,146.5 593.4,146.3 593.6,146.5 593.7,146.5 593.9,147.0 594.1,147.6 594.3,147.0 594.5,146.3 594.7,146.8 594.9,147.0 595.1,147.3 595.3,147.3 595.5,147.2 595.7,146.9 595.9,146.5 596.1,147.3 596.3,147.7 596.5,148.1 596.6,148.5 596.8,148.5 597.0,148.0 597.2,148.4 597.4,147.6 597.6,147.6 597.8,148.2 598.0,148.6 598.2,148.3 598.4,148.1 598.6,148.0 598.8,148.6 599.0,148.7 599.2,148.6 599.3,148.8 599.5,149.1 599.7,149.6 599.9,149.7 600.1,149.3 600.3,148.9 600.5,148.3 600.7,147.7 600.9,148.0 601.1,148.5 601.3,148.4 601.5,149.1 601.7,149.2 601.9,148.6 602.0,149.5 602.2,149.7 602.4,149.4 602.6,149.0 602.8,149.5 603.0,149.4 603.2,149.9 603.4,150.2 603.6,149.8 603.8,149.9 604.0,150.4 604.2,150.5 604.4,150.3 604.6,149.7 604.8,149.7 604.9,149.9 605.1,150.0 605.3,150.3 605.5,150.2 605.7,150.6 605.9,151.0 606.1,150.8 606.3,150.4 606.5,150.3 606.7,150.3 606.9,151.1 607.1,150.9 607.3,150.7 607.5,151.0 607.6,150.9 607.8,151.1 608.0,151.2 608.2,150.8 608.4,151.2 608.6,150.9 608.8,151.2 609.0,151.6 609.2,151.7 609.4,151.7 609.6,151.6 609.8,151.5 610.0,151.9 610.2,151.0 610.3,150.8 610.5,151.0 610.7,152.0 610.9,152.7 611.1,152.2 611.3,151.8 611.5,151.7 611.7,151.9 611.9,151.9 612.1,152.0 612.3,152.2 612.5,151.6 612.7,152.1 612.9,151.9 613.1,151.7 613.2,152.3 613.4,152.0 613.6,151.6 613.8,152.0 614.0,151.9 614.2,152.1 614.4,152.2 614.6,152.1 614.8,152.5 615.0,152.5 615.2,152.2 615.4,152.3 615.6,152.6 615.8,153.1 615.9,152.7 616.1,152.2 616.3,152.3 616.5,152.7 616.7,153.1 616.9,153.2 617.1,152.7 617.3,152.4 617.5,152.7 617.7,152.6 617.9,152.9 618.1,152.9 618.3,153.4 618.5,153.5 618.6,153.6 618.8,153.2 619.0,153.2 619.2,153.8 619.4,154.0 619.6,154.0 619.8,154.3 620.0,154.3 620.2,154.0 620.4,153.3 620.6,153.2 620.8,153.8 621.0,154.0 621.2,153.9 621.4,154.1 621.5,154.0 621.7,153.7 621.9,153.8 622.1,154.1 622.3,154.1 622.5,153.7 622.7,154.2 622.9,154.4 623.1,154.7 623.3,154.7 623.5,154.4 623.7,154.5 623.9,154.3 624.1,154.5 624.2,155.3 624.4,155.5 624.6,154.6 624.8,154.5 625.0,154.2 625.2,154.6 625.4,155.0 625.6,154.7 625.8,154.8 626.0,155.0 626.2,155.2 626.4,154.7 626.6,154.5 626.8,154.8 626.9,154.5 627.1,155.0 627.3,155.3 627.5,156.0 627.7,155.9 627.9,154.5 628.1,154.3 628.3,154.9 628.5,155.8 628.7,155.5 628.9,155.2 629.1,155.4 629.3,155.5 629.5,155.9 629.7,155.9 629.8,156.1 630.0,155.9 630.2,155.7 630.4,156.0 630.6,156.0 630.8,156.0 631.0,155.8 631.2,155.5 631.4,155.7 631.6,156.0 631.8,156.6 632.0,156.3 632.2,155.9 632.4,156.4 632.5,156.6 632.7,156.5 632.9,155.9 633.1,156.4 633.3,156.6 633.5,156.1 633.7,155.8 633.9,156.0 634.1,156.0 634.3,156.3 634.5,156.6 634.7,156.8 634.9,156.9 635.1,156.9 635.2,156.6 635.4,156.7 635.6,156.7 635.8,156.5 636.0,156.9 636.2,157.5 636.4,157.5 636.6,157.7 636.8,157.8 637.0,157.4 637.2,157.7 637.4,157.9 637.6,157.6 637.8,157.0 638.0,157.1 638.1,156.9 638.3,157.2 638.5,157.4 638.7,157.1 638.9,157.1 639.1,157.4 639.3,157.9 639.5,157.9 639.7,158.1 639.9,157.8 640.1,157.4 640.3,156.9 640.5,156.8 640.7,157.1 640.8,157.2 641.0,157.2 641.2,156.5 641.4,156.6 641.6,156.6 641.8,157.4 642.0,157.6 642.2,157.5 642.4,157.8 642.6,158.0 642.8,158.3 643.0,157.9 643.2,157.9 643.4,157.9 643.5,158.4 643.7,158.9 643.9,158.2 644.1,158.0 644.3,158.8 644.5,159.0 644.7,158.7 644.9,158.8 645.1,159.0 645.3,158.0 645.5,158.1 645.7,159.0 645.9,159.4 646.1,158.5 646.3,157.8 646.4,158.0 646.6,158.4 646.8,159.0 647.0,159.1 647.2,159.2 647.4,158.3 647.6,158.8 647.8,160.0 648.0,160.0 648.2,159.1 648.4,159.0 648.6,159.2 648.8,158.7 649.0,158.3 649.1,159.1 649.3,160.0 649.5,159.8 649.7,160.0 649.9,159.8 650.1,159.4 650.3,159.6 650.5,159.9 650.7,159.8 650.9,159.8 651.1,159.5 651.3,159.6 651.5,159.6 651.7,159.7 651.8,159.5 652.0,159.7 652.2,159.9 652.4,160.0 652.6,160.1 652.8,160.2 653.0,159.2 653.2,159.9 653.4,160.1 653.6,160.3 653.8,160.3 654.0,160.1 654.2,160.4 654.4,160.6 654.6,160.9 654.7,160.9 654.9,160.6 655.1,160.0 655.3,160.8 655.5,161.0 655.7,160.3 655.9,160.1 656.1,161.2 656.3,161.3 656.5,160.7 656.7,160.6 656.9,161.4 657.1,161.7 657.3,161.2 657.4,160.6 657.6,160.6 657.8,160.5 658.0,160.8 658.2,160.8 658.4,160.7 658.6,160.9 658.8,161.0 659.0,161.4 659.2,161.3 659.4,161.0 659.6,161.2 659.8,161.4 660.0,160.9 660.1,160.9 660.3,161.3 660.5,161.4 660.7,160.7 660.9,160.3 661.1,161.5 661.3,162.2 661.5,162.0 661.7,162.1 661.9,162.2 662.1,162.0 662.3,161.3 662.5,161.0 662.7,160.8 662.9,161.2 663.0,161.6 663.2,161.4 663.4,161.9 663.6,162.1 663.8,162.1 664.0,161.4 664.2,161.4 664.4,162.0 664.6,162.1 664.8,162.0 665.0,161.8 665.2,161.7 665.4,161.9 665.6,162.1 665.7,162.7 665.9,162.7 666.1,162.7 666.3,161.6 666.5,161.4 666.7,161.7 666.9,161.5 667.1,161.3 667.3,162.0 667.5,162.9 667.7,163.0 667.9,163.5 668.1,163.3 668.3,163.1 668.4,162.7 668.6,162.6 668.8,163.0 669.0,162.9 669.2,162.6 669.4,162.8 669.6,163.1 669.8,163.8 670.0,163.2 670.2,162.6 670.4,162.9 670.6,163.5 670.8,163.2 671.0,163.0 671.2,163.3 671.3,163.0 671.5,163.3 671.7,163.3 671.9,162.9 672.1,162.3 672.3,163.1 672.5,163.4 672.7,163.1 672.9,163.3 673.1,163.6 673.3,164.1 673.5,163.5 673.7,163.5 673.9,163.7 674.0,163.1 674.2,163.4 674.4,163.8 674.6,164.1" fill="none" stroke="#217421" stroke-width="0.9" stroke-linejoin="round"/>
<polyline points="501.1,64.8 501.3,64.4 501.5,65.0 501.7,64.6 501.9,64.0 502.1,64.9 502.3,63.6 502.5,61.7 502.6,63.3 502.8,63.0 503.0,61.3 503.2,61.2 503.4,61.5 503.6,61.6 503.8,60.2 504.0,60.5 504.2,62.1 504.4,62.8 504.6,64.0 504.8,62.8 505.0,62.5 505.2,61.2 505.3,61.0 505.5,59.7 505.7,59.3 505.9,59.2 506.1,61.4 506.3,59.9 506.5,57.8 506.7,57.8 506.9,59.9 507.1,59.3 507.3,59.4 507.5,58.2 507.7,56.2 507.9,56.4 508.0,56.6 508.2,55.6 508.4,56.7 508.6,56.7 508.8,55.7 509.0,56.5 509.2,57.8 509.4,56.0 509.6,54.8 509.8,56.0 510.0,54.2 510.2,54.7 510.4,55.6 510.6,52.7 510.8,54.0 510.9,55.8 511.1,54.0 511.3,53.5 511.5,53.9 511.7,52.7 511.9,52.5 512.1,51.7 512.3,52.7 512.5,54.2 512.7,54.3 512.9,54.6 513.1,54.3 513.3,56.2 513.5,56.3 513.6,54.3 513.8,51.5 514.0,50.8 514.2,54.7 514.4,55.3 514.6,54.5 514.8,55.8 515.0,54.3 515.2,52.5 515.4,51.5 515.6,52.3 515.8,54.0 516.0,53.6 516.2,53.5 516.3,52.2 516.5,51.9 516.7,51.9 516.9,51.4 517.1,52.0 517.3,53.0 517.5,53.2 517.7,52.5 517.9,50.9 518.1,50.0 518.3,51.2 518.5,50.6 518.7,49.6 518.9,50.8 519.1,49.7 519.2,50.7 519.4,52.0 519.6,53.9 519.8,51.9 520.0,54.0 520.2,54.6 520.4,53.4 520.6,52.6 520.8,49.5 521.0,48.1 521.2,51.4 521.4,52.2 521.6,50.0 521.8,49.0 521.9,50.2 522.1,50.3 522.3,49.1 522.5,48.6 522.7,50.7 522.9,49.8 523.1,48.8 523.3,50.5 523.5,50.7 523.7,50.5 523.9,48.1 524.1,47.3 524.3,48.6 524.5,49.8 524.6,49.9 524.8,51.9 525.0,52.0 525.2,50.3 525.4,52.0 525.6,51.7 525.8,54.4 526.0,52.3 526.2,52.2 526.4,51.8 526.6,52.3 526.8,55.0 527.0,53.2 527.2,52.1 527.4,54.2 527.5,55.5 527.7,56.5 527.9,56.7 528.1,56.3 528.3,58.0 528.5,59.4 528.7,60.3 528.9,60.6 529.1,60.8 529.3,58.7 529.5,58.9 529.7,58.2 529.9,58.8 530.1,59.8 530.2,59.6 530.4,59.9 530.6,60.0 530.8,60.5 531.0,60.3 531.2,61.3 531.4,59.6 531.6,55.6 531.8,58.3 532.0,58.2 532.2,55.3 532.4,54.1 532.6,55.4 532.8,56.0 532.9,56.6 533.1,55.9 533.3,54.3 533.5,54.5 533.7,54.5 533.9,54.1 534.1,52.4 534.3,52.6 534.5,53.1 534.7,52.7 534.9,50.8 535.1,49.2 535.3,49.8 535.5,48.7 535.7,48.5 535.8,49.9 536.0,49.9 536.2,48.3 536.4,47.5 536.6,47.7 536.8,48.6 537.0,47.4 537.2,47.1 537.4,47.5 537.6,48.0 537.8,47.7 538.0,44.2 538.2,44.0 538.4,45.4 538.5,44.7 538.7,45.1 538.9,45.2 539.1,44.6 539.3,45.0 539.5,44.9 539.7,45.6 539.9,43.9 540.1,43.8 540.3,42.9 540.5,41.5 540.7,42.2 540.9,45.6 541.1,46.5 541.2,43.2 541.4,43.5 541.6,42.8 541.8,43.7 542.0,46.4 542.2,45.4 542.4,42.6 542.6,42.0 542.8,42.2 543.0,42.3 543.2,43.0 543.4,43.5 543.6,42.2 543.8,42.6 544.0,43.4 544.1,41.2 544.3,42.0 544.5,41.7 544.7,44.9 544.9,45.7 545.1,46.4 545.3,47.1 545.5,46.9 545.7,49.0 545.9,49.8 546.1,48.8 546.3,48.6 546.5,53.4 546.7,54.0 546.8,54.1 547.0,54.6 547.2,56.0 547.4,54.8 547.6,53.7 547.8,55.1 548.0,56.3 548.2,54.7 548.4,54.0 548.6,56.3 548.8,59.6 549.0,59.4 549.2,60.6 549.4,60.8 549.5,57.1 549.7,54.4 549.9,55.6 550.1,58.6 550.3,58.0 550.5,55.7 550.7,55.5 550.9,56.3 551.1,56.0 551.3,55.7 551.5,56.0 551.7,54.8 551.9,56.2 552.1,58.4 552.3,58.1 552.4,58.0 552.6,57.6 552.8,58.4 553.0,57.1 553.2,56.3 553.4,57.2 553.6,53.5 553.8,52.8 554.0,54.8 554.2,55.1 554.4,56.7 554.6,60.5 554.8,58.2 555.0,56.7 555.1,57.0 555.3,58.6 555.5,57.5 555.7,55.8 555.9,54.7 556.1,55.5 556.3,55.6 556.5,53.3 556.7,54.8 556.9,57.0 557.1,57.4 557.3,53.1 557.5,52.9 557.7,54.3 557.8,55.3 558.0,55.2 558.2,54.2 558.4,55.0 558.6,54.1 558.8,54.1 559.0,52.8 559.2,53.0 559.4,54.8 559.6,55.8 559.8,55.8 560.0,53.6 560.2,53.6 560.4,54.2 560.6,55.7 560.7,56.7 560.9,54.1 561.1,52.8 561.3,54.1 561.5,54.8 561.7,54.7 561.9,53.3 562.1,54.9 562.3,53.7 562.5,52.4 562.7,51.2 562.9,52.6 563.1,51.3 563.3,49.9 563.4,50.3 563.6,51.4 563.8,51.7 564.0,51.7 564.2,52.8 564.4,53.3 564.6,54.5 564.8,56.4 565.0,58.0 565.2,59.9 565.4,61.6 565.6,63.1 565.8,64.6 566.0,66.7 566.1,68.1 566.3,69.5 566.5,71.2 566.7,73.6 566.9,75.0 567.1,75.8 567.3,76.5 567.5,77.3 567.7,78.0 567.9,78.4 568.1,79.7 568.3,81.0 568.5,82.2 568.7,82.8 568.9,83.6 569.0,84.6 569.2,85.7 569.4,86.3 569.6,87.0 569.8,88.9 570.0,90.2 570.2,90.1 570.4,90.7 570.6,92.0 570.8,92.6 571.0,92.6 571.2,94.4 571.4,95.8 571.6,96.3 571.7,96.7 571.9,97.8 572.1,98.6 572.3,99.1 572.5,100.0 572.7,100.7 572.9,101.6 573.1,102.6 573.3,103.2 573.5,103.9 573.7,104.3 573.9,105.3 574.1,106.2 574.3,107.3 574.4,107.8 574.6,108.2 574.8,108.2 575.0,109.0 575.2,110.0 575.4,111.4 575.6,112.0 575.8,112.3 576.0,113.0 576.2,113.0 576.4,113.9 576.6,114.5 576.8,115.0 577.0,115.7 577.1,116.2 577.3,117.2 577.5,117.5 577.7,117.7 577.9,118.6 578.1,119.5 578.3,120.2 578.5,120.7 578.7,121.1 578.9,122.2 579.1,123.2 579.3,123.3 579.5,123.7 579.7,124.2 579.9,124.7 580.0,125.1 580.2,126.5 580.4,127.1 580.6,127.2 580.8,128.0 581.0,128.3 581.2,129.0 581.4,130.0 581.6,129.6 581.8,129.7 582.0,130.7 582.2,131.7 582.4,131.7 582.6,132.5 582.7,132.7 582.9,133.0 583.1,133.9 583.3,134.5 583.5,134.4 583.7,134.6 583.9,135.2 584.1,135.4 584.3,135.3 584.5,135.8 584.7,136.3 584.9,136.6 585.1,136.7 585.3,136.9 585.4,137.5 585.6,138.1 585.8,138.2 586.0,138.3 586.2,138.2 586.4,138.0 586.6,138.2 586.8,138.6 587.0,139.2 587.2,139.5 587.4,139.6 587.6,140.1 587.8,140.4 588.0,140.6 588.2,140.6 588.3,140.4 588.5,140.0 588.7,140.5 588.9,141.1 589.1,141.1 589.3,141.3 589.5,141.1 589.7,140.9 589.9,140.8 590.1,142.0 590.3,142.3 590.5,142.2 590.7,142.2 590.9,142.3 591.0,143.0 591.2,143.1 591.4,142.7 591.6,142.7 591.8,143.6 592.0,143.8 592.2,143.0 592.4,142.8 592.6,143.1 592.8,143.9 593.0,143.9 593.2,143.7 593.4,143.8 593.6,144.0 593.7,144.0 593.9,143.9 594.1,144.4 594.3,144.7 594.5,144.8 594.7,144.8 594.9,144.7 595.1,144.9 595.3,144.9 595.5,144.5 595.7,144.8 595.9,145.1 596.1,144.9 596.3,145.4 596.5,145.5 596.6,145.6 596.8,145.8 597.0,145.8 597.2,145.9 597.4,146.4 597.6,146.2 597.8,145.9 598.0,145.8 598.2,145.7 598.4,145.2 598.6,145.7 598.8,146.3 599.0,146.5 599.2,146.4 599.3,146.4 599.5,146.5 599.7,146.3 599.9,146.9 600.1,146.7 600.3,146.8 600.5,147.2 600.7,146.9 600.9,146.9 601.1,147.0 601.3,146.4 601.5,146.8 601.7,147.5 601.9,147.7 602.0,147.8 602.2,147.5 602.4,147.7 602.6,148.3 602.8,148.4 603.0,148.2 603.2,148.1 603.4,148.2 603.6,148.2 603.8,147.8 604.0,147.7 604.2,148.3 604.4,149.0 604.6,148.5 604.8,148.2 604.9,148.3 605.1,148.4 605.3,148.6 605.5,149.4 605.7,149.7 605.9,148.8 606.1,148.8 606.3,148.8 606.5,148.9 606.7,148.8 606.9,148.6 607.1,149.3 607.3,149.4 607.5,149.5 607.6,149.2 607.8,149.0 608.0,149.0 608.2,149.4 608.4,149.8 608.6,149.4 608.8,149.0 609.0,148.8 609.2,148.6 609.4,149.3 609.6,150.1 609.8,150.1 610.0,149.7 610.2,149.6 610.3,150.1 610.5,149.7 610.7,149.7 610.9,150.2 611.1,150.1 611.3,150.3 611.5,150.3 611.7,150.3 611.9,150.4 612.1,150.7 612.3,150.6 612.5,151.2 612.7,151.0 612.9,150.6 613.1,150.0 613.2,150.3 613.4,150.9 613.6,151.1 613.8,150.9 614.0,150.8 614.2,150.5 614.4,151.6 614.6,151.6 614.8,151.8 615.0,151.1 615.2,151.1 615.4,150.7 615.6,151.1 615.8,150.9 615.9,150.9 616.1,150.9 616.3,151.6 616.5,152.6 616.7,152.3 616.9,152.1 617.1,151.3 617.3,151.3 617.5,151.5 617.7,151.5 617.9,151.7 618.1,151.7 618.3,151.2 618.5,151.6 618.6,152.2 618.8,152.6 619.0,152.4 619.2,152.2 619.4,152.2 619.6,152.4 619.8,152.4 620.0,152.7 620.2,152.6 620.4,153.0 620.6,153.0 620.8,152.7 621.0,152.2 621.2,152.2 621.4,152.6 621.5,153.1 621.7,152.9 621.9,152.3 622.1,152.4 622.3,153.2 622.5,153.2 622.7,152.9 622.9,152.8 623.1,152.8 623.3,152.9 623.5,153.3 623.7,152.9 623.9,153.4 624.1,153.2 624.2,152.9 624.4,152.7 624.6,152.7 624.8,152.8 625.0,152.9 625.2,153.3 625.4,153.0 625.6,153.0 625.8,153.8 626.0,154.4 626.2,154.0 626.4,153.2 626.6,153.2 626.8,153.7 626.9,153.7 627.1,153.5 627.3,153.7 627.5,154.6 627.7,154.5 627.9,154.2 628.1,154.0 628.3,154.1 628.5,154.2 628.7,154.5 628.9,154.8 629.1,153.4 629.3,153.5 629.5,154.0 629.7,154.5 629.8,154.1 630.0,153.5 630.2,153.6 630.4,154.5 630.6,155.0 630.8,154.8 631.0,154.7 631.2,154.6 631.4,155.2 631.6,155.0 631.8,154.8 632.0,154.9 632.2,154.7 632.4,155.4 632.5,155.7 632.7,155.2 632.9,154.9 633.1,155.2 633.3,155.3 633.5,155.0 633.7,155.1 633.9,155.4 634.1,155.4 634.3,155.4 634.5,155.2 634.7,155.4 634.9,155.8 635.1,155.8 635.2,155.7 635.4,155.5 635.6,155.6 635.8,156.0 636.0,155.9 636.2,155.5 636.4,155.3 636.6,155.4 636.8,155.1 637.0,155.6 637.2,155.7 637.4,156.1 637.6,156.4 637.8,156.1 638.0,155.9 638.1,155.9 638.3,156.1 638.5,156.4 638.7,156.6 638.9,156.4 639.1,156.1 639.3,156.4 639.5,157.4 639.7,156.5 639.9,155.8 640.1,155.9 640.3,156.2 640.5,156.3 640.7,156.7 640.8,156.7 641.0,156.6 641.2,157.2 641.4,157.2 641.6,157.0 641.8,157.3 642.0,157.2 642.2,157.4 642.4,157.1 642.6,157.0 642.8,157.4 643.0,157.5 643.2,157.7 643.4,158.1 643.5,157.6 643.7,157.1 643.9,156.9 644.1,157.3 644.3,157.3 644.5,156.7 644.7,156.6 644.9,157.3 645.1,157.0 645.3,156.9 645.5,157.3 645.7,158.0 645.9,158.0 646.1,157.3 646.3,156.8 646.4,157.3 646.6,157.0 646.8,157.1 647.0,158.1 647.2,158.1 647.4,157.3 647.6,157.3 647.8,157.6 648.0,157.9 648.2,157.9 648.4,157.9 648.6,157.4 648.8,158.5 649.0,159.0 649.1,158.2 649.3,157.8 649.5,158.3 649.7,158.5 649.9,158.8 650.1,158.7 650.3,158.9 650.5,159.1 650.7,159.2 650.9,158.7 651.1,158.0 651.3,158.4 651.5,158.3 651.7,157.9 651.8,158.8 652.0,159.1 652.2,158.9 652.4,159.2 652.6,158.7 652.8,158.5 653.0,159.2 653.2,159.1 653.4,158.6 653.6,159.3 653.8,159.4 654.0,159.1 654.2,159.3 654.4,159.3 654.6,158.8 654.7,159.2 654.9,159.3 655.1,159.4 655.3,159.6 655.5,159.8 655.7,159.3 655.9,159.3 656.1,159.2 656.3,159.8 656.5,159.8 656.7,159.4 656.9,159.6 657.1,159.9 657.3,160.0 657.4,160.2 657.6,160.2 657.8,160.7 658.0,159.9 658.2,159.2 658.4,159.3 658.6,159.5 658.8,159.9 659.0,159.9 659.2,160.1 659.4,160.1 659.6,160.5 659.8,161.2 660.0,160.1 660.1,159.8 660.3,159.9 660.5,160.4 660.7,160.1 660.9,160.3 661.1,161.3 661.3,161.3 661.5,160.7 661.7,160.7 661.9,160.6 662.1,160.5 662.3,160.3 662.5,161.2 662.7,161.4 662.9,161.3 663.0,161.3 663.2,161.1 663.4,161.0 663.6,161.2 663.8,160.6 664.0,160.1 664.2,160.0 664.4,159.8 664.6,160.2 664.8,160.6 665.0,160.2 665.2,160.3 665.4,160.3 665.6,161.2 665.7,162.0 665.9,161.8 666.1,161.2 666.3,161.0 666.5,161.1 666.7,161.0 666.9,161.7 667.1,161.6 667.3,161.0 667.5,161.2 667.7,161.2 667.9,160.7 668.1,161.0 668.3,161.6 668.4,161.7 668.6,162.1 668.8,161.7 669.0,161.7 669.2,162.0 669.4,161.0 669.6,160.7 669.8,161.2 670.0,161.2 670.2,161.1 670.4,161.6 670.6,161.4 670.8,161.8 671.0,162.5 671.2,162.5 671.3,162.1 671.5,161.6 671.7,161.7 671.9,161.7 672.1,162.3 672.3,162.4 672.5,161.2 672.7,160.8 672.9,161.7 673.1,162.1 673.3,162.0 673.5,162.6 673.7,162.7 673.9,162.8 674.0,162.3 674.2,162.3 674.4,162.6 674.6,162.7" fill="none" stroke="#208a20" stroke-width="0.9" stroke-linejoin="round"/>
<polyline points="501.1,64.3 501.3,63.4 501.5,63.1 501.7,64.0 501.9,63.5 502.1,64.1 502.3,62.3 502.5,60.8 502.6,62.2 502.8,62.4 503.0,61.7 503.2,60.3 503.4,60.6 503.6,61.8 503.8,60.8 504.0,60.1 504.2,61.5 504.4,62.0 504.6,63.5 504.8,62.8 505.0,61.9 505.2,60.5 505.3,60.6 505.5,59.0 505.7,58.7 505.9,60.4 506.1,63.0 506.3,60.1 506.5,57.7 506.7,58.4 506.9,60.0 507.1,58.6 507.3,58.6 507.5,57.7 507.7,55.7 507.9,56.7 508.0,56.5 508.2,55.5 508.4,55.7 508.6,56.1 508.8,56.0 509.0,55.9 509.2,56.6 509.4,55.5 509.6,53.6 509.8,55.6 510.0,53.2 510.2,53.8 510.4,54.3 510.6,51.0 510.8,52.2 510.9,55.3 511.1,54.3 511.3,53.4 511.5,53.4 511.7,53.6 511.9,53.9 512.1,53.1 512.3,52.0 512.5,54.7 512.7,54.3 512.9,53.6 513.1,53.7 513.3,55.0 513.5,54.8 513.6,53.5 513.8,52.0 514.0,51.1 514.2,53.3 514.4,53.0 514.6,52.2 514.8,53.8 515.0,52.9 515.2,51.1 515.4,49.6 515.6,50.6 515.8,53.0 516.0,53.9 516.2,51.6 516.3,49.5 516.5,50.9 516.7,52.5 516.9,51.3 517.1,51.9 517.3,52.5 517.5,53.3 517.7,51.9 517.9,51.1 518.1,49.1 518.3,49.4 518.5,50.0 518.7,49.4 518.9,50.1 519.1,49.4 519.2,49.5 519.4,50.3 519.6,51.8 519.8,51.7 520.0,54.4 520.2,55.6 520.4,52.4 520.6,51.9 520.8,48.9 521.0,46.6 521.2,50.5 521.4,50.6 521.6,49.2 521.8,48.9 521.9,50.1 522.1,49.5 522.3,47.7 522.5,47.3 522.7,48.5 522.9,48.8 523.1,48.9 523.3,48.7 523.5,48.7 523.7,49.1 523.9,47.3 524.1,47.3 524.3,48.1 524.5,49.5 524.6,49.8 524.8,50.8 525.0,50.2 525.2,50.0 525.4,52.1 525.6,51.0 525.8,52.2 526.0,51.7 526.2,52.5 526.4,52.1 526.6,53.5 526.8,54.8 527.0,52.3 527.2,52.1 527.4,54.3 527.5,55.5 527.7,56.6 527.9,57.3 528.1,55.7 528.3,56.6 528.5,57.2 528.7,58.8 528.9,60.0 529.1,59.6 529.3,56.5 529.5,57.5 529.7,58.2 529.9,59.3 530.1,60.4 530.2,60.5 530.4,60.6 530.6,59.4 530.8,59.7 531.0,59.4 531.2,58.9 531.4,57.5 531.6,55.8 531.8,58.0 532.0,58.6 532.2,56.5 532.4,54.9 532.6,56.8 532.8,56.3 532.9,55.7 533.1,56.1 533.3,53.3 533.5,51.8 533.7,52.2 533.9,52.5 534.1,50.5 534.3,51.0 534.5,51.9 534.7,52.5 534.9,52.0 535.1,49.2 535.3,48.1 535.5,47.8 535.7,48.9 535.8,49.2 536.0,49.1 536.2,46.8 536.4,47.4 536.6,47.4 536.8,45.8 537.0,44.8 537.2,45.0 537.4,45.5 537.6,47.3 537.8,47.3 538.0,44.7 538.2,43.7 538.4,44.6 538.5,44.3 538.7,44.0 538.9,42.8 539.1,43.3 539.3,43.8 539.5,43.8 539.7,45.7 539.9,43.9 540.1,42.6 540.3,42.2 540.5,40.9 540.7,42.6 540.9,45.8 541.1,45.8 541.2,43.6 541.4,44.7 541.6,42.8 541.8,41.8 542.0,43.6 542.2,44.1 542.4,40.3 542.6,39.9 542.8,40.5 543.0,40.9 543.2,41.9 543.4,42.5 543.6,42.0 543.8,41.9 544.0,42.9 544.1,41.5 544.3,42.3 544.5,42.0 544.7,43.6 544.9,45.0 545.1,46.3 545.3,46.9 545.5,46.5 545.7,47.5 545.9,48.2 546.1,47.9 546.3,48.3 546.5,52.4 546.7,52.1 546.8,52.9 547.0,54.0 547.2,54.8 547.4,54.6 547.6,52.7 547.8,54.0 548.0,56.0 548.2,55.2 548.4,53.4 548.6,55.7 548.8,59.3 549.0,59.0 549.2,61.2 549.4,62.4 549.5,58.1 549.7,54.5 549.9,55.3 550.1,57.6 550.3,57.2 550.5,56.0 550.7,56.7 550.9,56.4 551.1,55.8 551.3,56.7 551.5,56.2 551.7,55.3 551.9,55.9 552.1,58.1 552.3,57.0 552.4,57.0 552.6,55.0 552.8,56.7 553.0,56.6 553.2,56.8 553.4,57.2 553.6,53.9 553.8,54.1 554.0,56.5 554.2,55.8 554.4,56.6 554.6,59.3 554.8,56.8 555.0,56.7 555.1,56.2 555.3,56.6 555.5,55.9 555.7,55.7 555.9,55.1 556.1,55.3 556.3,54.4 556.5,53.8 556.7,56.1 556.9,57.3 557.1,57.4 557.3,54.0 557.5,53.9 557.7,53.7 557.8,53.0 558.0,53.5 558.2,54.6 558.4,55.2 558.6,54.5 558.8,54.1 559.0,53.1 559.2,53.3 559.4,53.8 559.6,54.4 559.8,54.4 560.0,51.8 560.2,52.3 560.4,52.9 560.6,54.0 560.7,55.0 560.9,54.0 561.1,52.6 561.3,54.1 561.5,55.3 561.7,53.2 561.9,53.1 562.1,54.7 562.3,53.9 562.5,53.1 562.7,51.8 562.9,53.1 563.1,51.0 563.3,49.7 563.4,52.0 563.6,53.4 563.8,52.2 564.0,52.5 564.2,52.3 564.4,49.3 564.6,47.9 564.8,50.9 565.0,52.4 565.2,52.7 565.4,51.6 565.6,53.2 565.8,53.1 566.0,51.6 566.1,51.9 566.3,49.7 566.5,48.2 566.7,48.9 566.9,49.5 567.1,48.4 567.3,48.9 567.5,49.4 567.7,50.3 567.9,51.0 568.1,52.1 568.3,53.9 568.5,55.8 568.7,57.3 568.9,58.5 569.0,59.6 569.2,61.4 569.4,63.2 569.6,64.7 569.8,66.1 570.0,67.8 570.2,70.0 570.4,71.4 570.6,72.9 570.8,74.7 571.0,75.9 571.2,77.1 571.4,77.9 571.6,78.8 571.7,80.4 571.9,81.3 572.1,82.0 572.3,82.7 572.5,83.6 572.7,84.4 572.9,85.6 573.1,86.4 573.3,86.8 573.5,87.7 573.7,88.6 573.9,89.5 574.1,89.9 574.3,90.7 574.4,92.1 574.6,93.4 574.8,94.0 575.0,94.1 575.2,95.6 575.4,96.7 575.6,96.8 575.8,97.3 576.0,98.7 576.2,99.5 576.4,100.5 576.6,100.8 576.8,100.8 577.0,101.8 577.1,102.8 577.3,103.4 577.5,104.1 577.7,105.0 577.9,106.2 578.1,106.6 578.3,106.4 578.5,107.4 578.7,107.9 578.9,108.8 579.1,109.0 579.3,109.7 579.5,110.5 579.7,110.8 579.9,112.2 580.0,113.0 580.2,113.7 580.4,114.4 580.6,114.9 580.8,115.6 581.0,115.8 581.2,116.0 581.4,117.5 581.6,118.3 581.8,118.7 582.0,118.8 582.2,118.8 582.4,119.3 582.6,120.1 582.7,120.5 582.9,120.7 583.1,122.4 583.3,123.2 583.5,123.3 583.7,123.7 583.9,124.4 584.1,125.3 584.3,126.0 584.5,126.2 584.7,126.7 584.9,127.3 585.1,127.7 585.3,127.4 585.4,127.7 585.6,128.1 585.8,129.2 586.0,129.8 586.2,130.2 586.4,130.6 586.6,131.1 586.8,131.8 587.0,132.6 587.2,132.5 587.4,132.6 587.6,133.7 587.8,133.6 588.0,133.3 588.2,133.4 588.3,134.1 588.5,134.2 588.7,134.1 588.9,134.6 589.1,135.7 589.3,136.0 589.5,135.8 589.7,136.3 589.9,137.0 590.1,137.2 590.3,137.3 590.5,137.7 590.7,138.0 590.9,138.4 591.0,138.7 591.2,137.9 591.4,137.9 591.6,138.3 591.8,139.0 592.0,139.3 592.2,139.2 592.4,139.6 592.6,140.5 592.8,140.3 593.0,140.6 593.2,140.6 593.4,140.5 593.6,140.0 593.7,140.4 593.9,140.7 594.1,140.5 594.3,141.1 594.5,141.6 594.7,141.7 594.9,141.7 595.1,141.6 595.3,141.5 595.5,141.9 595.7,142.0 595.9,141.8 596.1,141.9 596.3,142.0 596.5,142.5 596.6,143.3 596.8,143.5 597.0,143.5 597.2,142.7 597.4,142.8 597.6,143.4 597.8,143.6 598.0,143.4 598.2,143.4 598.4,143.5 598.6,144.1 598.8,144.1 599.0,143.5 599.2,144.1 599.3,144.0 599.5,143.8 599.7,144.6 599.9,144.2 600.1,144.3 600.3,144.4 600.5,144.6 600.7,145.3 600.9,145.4 601.1,144.4 601.3,144.6 601.5,144.5 601.7,144.4 601.9,144.8 602.0,144.8 602.2,144.7 602.4,144.5 602.6,144.8 602.8,144.9 603.0,145.5 603.2,145.8 603.4,145.6 603.6,145.5 603.8,145.3 604.0,145.0 604.2,145.4 604.4,145.6 604.6,145.3 604.8,145.7 604.9,146.0 605.1,146.1 605.3,146.6 605.5,146.9 605.7,146.7 605.9,146.8 606.1,147.0 606.3,146.8 606.5,146.9 606.7,147.4 606.9,147.7 607.1,147.1 607.3,146.3 607.5,146.4 607.6,146.7 607.8,147.0 608.0,147.0 608.2,147.6 608.4,147.7 608.6,147.6 608.8,148.1 609.0,147.8 609.2,147.4 609.4,147.2 609.6,147.9 609.8,147.9 610.0,148.3 610.2,148.7 610.3,149.3 610.5,148.7 610.7,147.8 610.9,147.9 611.1,147.9 611.3,147.4 611.5,148.1 611.7,149.0 611.9,148.8 612.1,148.5 612.3,148.2 612.5,148.8 612.7,148.6 612.9,148.6 613.1,149.1 613.2,149.3 613.4,149.8 613.6,149.6 613.8,150.0 614.0,149.4 614.2,148.6 614.4,148.9 614.6,149.3 614.8,149.1 615.0,148.6 615.2,148.9 615.4,149.2 615.6,149.7 615.8,150.0 615.9,150.2 616.1,150.1 616.3,150.0 616.5,149.5 616.7,149.6 616.9,150.0 617.1,150.6 617.3,151.4 617.5,150.7 617.7,150.1 617.9,150.4 618.1,151.7 618.3,151.6 618.5,150.8 618.6,150.8 618.8,150.8 619.0,150.7 619.2,150.7 619.4,151.3 619.6,151.0 619.8,150.4 620.0,150.7 620.2,151.1 620.4,150.8 620.6,150.9 620.8,151.2 621.0,150.8 621.2,150.7 621.4,150.9 621.5,150.9 621.7,151.4 621.9,151.1 622.1,151.4 622.3,151.8 622.5,151.5 622.7,151.1 622.9,151.5 623.1,151.8 623.3,151.9 623.5,151.8 623.7,151.1 623.9,150.5 624.1,150.8 624.2,151.3 624.4,151.5 624.6,151.9 624.8,152.2 625.0,152.2 625.2,151.6 625.4,152.0 625.6,152.4 625.8,152.4 626.0,152.2 626.2,152.3 626.4,152.2 626.6,152.0 626.8,151.9 626.9,152.5 627.1,152.4 627.3,152.6 627.5,152.4 627.7,151.8 627.9,152.0 628.1,152.5 628.3,152.4 628.5,152.3 628.7,152.2 628.9,152.6 629.1,152.5 629.3,152.7 629.5,152.8 629.7,152.9 629.8,153.0 630.0,152.7 630.2,152.5 630.4,153.0 630.6,153.1 630.8,152.9 631.0,153.1 631.2,152.7 631.4,152.9 631.6,153.9 631.8,153.8 632.0,153.5 632.2,152.9 632.4,152.9 632.5,153.6 632.7,153.7 632.9,153.4 633.1,153.4 633.3,153.0 633.5,152.8 633.7,152.9 633.9,152.8 634.1,153.0 634.3,153.4 634.5,153.8 634.7,153.8 634.9,153.2 635.1,153.0 635.2,153.2 635.4,153.7 635.6,153.9 635.8,153.5 636.0,153.2 636.2,153.5 636.4,153.8 636.6,154.1 636.8,153.7 637.0,153.8 637.2,154.0 637.4,153.5 637.6,154.0 637.8,153.8 638.0,154.0 638.1,154.1 638.3,154.5 638.5,154.4 638.7,154.0 638.9,154.2 639.1,154.3 639.3,153.9 639.5,153.9 639.7,154.2 639.9,154.0 640.1,153.7 640.3,154.2 640.5,154.3 640.7,154.5 640.8,155.3 641.0,155.5 641.2,154.7 641.4,154.3 641.6,154.5 641.8,155.0 642.0,154.9 642.2,154.6 642.4,155.0 642.6,155.4 642.8,154.8 643.0,154.7 643.2,154.6 643.4,154.4 643.5,154.3 643.7,154.7 643.9,155.3 644.1,155.9 644.3,155.3 644.5,155.0 644.7,154.6 644.9,154.5 645.1,154.8 645.3,154.8 645.5,155.2 645.7,155.5 645.9,155.8 646.1,155.7 646.3,155.3 646.4,155.2 646.6,155.6 646.8,155.1 647.0,154.8 647.2,155.9 647.4,156.0 647.6,155.7 647.8,155.2 648.0,154.8 648.2,155.2 648.4,155.9 648.6,156.3 648.8,156.1 649.0,156.0 649.1,156.1 649.3,156.2 649.5,155.8 649.7,156.2 649.9,156.0 650.1,156.2 650.3,156.7 650.5,156.4 650.7,156.4 650.9,156.4 651.1,156.2 651.3,156.2 651.5,155.5 651.7,155.9 651.8,157.1 652.0,157.5 652.2,156.5 652.4,156.4 652.6,156.8 652.8,157.3 653.0,157.7 653.2,157.4 653.4,155.9 653.6,156.1 653.8,156.7 654.0,156.6 654.2,157.4 654.4,157.0 654.6,156.9 654.7,157.5 654.9,157.6 655.1,157.7 655.3,157.2 655.5,156.7 655.7,156.7 655.9,157.0 656.1,157.2 656.3,157.7 656.5,157.0 656.7,157.5 656.9,158.1 657.1,158.0 657.3,157.9 657.4,157.7 657.6,157.9 657.8,158.5 658.0,157.4 658.2,157.2 658.4,157.9 658.6,157.3 658.8,157.2 659.0,157.3 659.2,157.5 659.4,158.3 659.6,158.2 659.8,158.2 660.0,157.6 660.1,158.5 660.3,158.7 660.5,158.0 660.7,158.0 660.9,158.3 661.1,158.3 661.3,158.0 661.5,157.9 661.7,158.7 661.9,159.0 662.1,159.0 662.3,158.8 662.5,158.9 662.7,159.2 662.9,159.0 663.0,159.3 663.2,159.2 663.4,159.1 663.6,158.9 663.8,158.3 664.0,158.1 664.2,158.3 664.4,158.4 664.6,158.9 664.8,158.7 665.0,159.1 665.2,159.2 665.4,159.4 665.6,159.9 665.7,159.8 665.9,159.6 666.1,159.4 666.3,159.7 666.5,160.1 666.7,160.2 666.9,160.0 667.1,160.3 667.3,160.4 667.5,160.0 667.7,159.9 667.9,160.4 668.1,160.7 668.3,160.0 668.4,159.7 668.6,160.1 668.8,160.6 669.0,161.0 669.2,160.3 669.4,160.4 669.6,160.2 669.8,160.4 670.0,160.5 670.2,160.7 670.4,160.8 670.6,159.8 670.8,160.7 671.0,160.8 671.2,160.9 671.3,160.7 671.5,160.4 671.7,161.3 671.9,161.0 672.1,160.6 672.3,160.7 672.5,160.8 672.7,161.4 672.9,161.9 673.1,161.8 673.3,161.3 673.5,160.9 673.7,160.8 673.9,160.6 674.0,161.0 674.2,161.2 674.4,161.4 674.6,162.0" fill="none" stroke="#22a022" stroke-width="0.9" stroke-linejoin="round"/>
<polyline points="501.1,62.1 501.3,62.5 501.5,62.5 501.7,62.1 501.9,63.2 502.1,62.9 502.3,60.7 502.5,59.3 502.6,61.1 502.8,61.3 503.0,59.2 503.2,60.4 503.4,60.8 503.6,60.2 503.8,59.2 504.0,59.6 504.2,61.5 504.4,60.8 504.6,60.4 504.8,61.3 505.0,61.9 505.2,60.0 505.3,59.6 505.5,57.1 505.7,56.6 505.9,57.8 506.1,60.0 506.3,57.5 506.5,56.4 506.7,57.1 506.9,59.2 507.1,58.3 507.3,57.8 507.5,56.6 507.7,53.7 507.9,55.8 508.0,55.6 508.2,54.0 508.4,55.5 508.6,55.1 508.8,54.7 509.0,55.1 509.2,55.2 509.4,53.6 509.6,52.4 509.8,55.3 510.0,54.5 510.2,54.5 510.4,54.0 510.6,51.0 510.8,51.9 510.9,54.3 511.1,53.8 511.3,52.5 511.5,53.3 511.7,52.0 511.9,50.4 512.1,49.8 512.3,50.0 512.5,51.1 512.7,50.9 512.9,51.3 513.1,51.4 513.3,53.3 513.5,53.2 513.6,52.0 513.8,49.9 514.0,50.8 514.2,53.2 514.4,52.4 514.6,51.6 514.8,53.0 515.0,51.5 515.2,50.6 515.4,48.4 515.6,49.8 515.8,51.6 516.0,51.2 516.2,49.9 516.3,49.2 516.5,51.1 516.7,51.4 516.9,50.5 517.1,50.6 517.3,51.5 517.5,51.9 517.7,50.8 517.9,50.1 518.1,48.0 518.3,49.0 518.5,49.6 518.7,47.9 518.9,48.3 519.1,48.1 519.2,48.5 519.4,49.2 519.6,51.0 519.8,50.0 520.0,51.8 520.2,52.4 520.4,51.6 520.6,50.3 520.8,48.2 521.0,46.8 521.2,49.6 521.4,50.3 521.6,49.3 521.8,48.2 521.9,48.3 522.1,49.0 522.3,47.9 522.5,48.9 522.7,49.6 522.9,48.1 523.1,48.0 523.3,48.9 523.5,48.4 523.7,48.0 523.9,46.6 524.1,46.2 524.3,47.2 524.5,48.1 524.6,48.2 524.8,50.7 525.0,49.8 525.2,49.3 525.4,51.0 525.6,49.4 525.8,51.1 526.0,50.5 526.2,51.4 526.4,50.6 526.6,52.0 526.8,54.0 527.0,52.3 527.2,52.4 527.4,53.7 527.5,54.3 527.7,54.4 527.9,55.0 528.1,53.5 528.3,54.9 528.5,56.8 528.7,58.4 528.9,58.6 529.1,59.0 529.3,56.7 529.5,56.2 529.7,56.0 529.9,57.4 530.1,59.6 530.2,58.8 530.4,58.1 530.6,58.3 530.8,57.8 531.0,58.2 531.2,59.7 531.4,56.7 531.6,54.4 531.8,55.9 532.0,55.9 532.2,54.7 532.4,53.1 532.6,55.4 532.8,54.9 532.9,55.1 533.1,54.6 533.3,52.6 533.5,51.6 533.7,51.5 533.9,51.9 534.1,50.9 534.3,50.8 534.5,50.1 534.7,51.0 534.9,50.6 535.1,48.2 535.3,48.1 535.5,47.3 535.7,47.1 535.8,47.4 536.0,47.7 536.2,45.0 536.4,46.3 536.6,47.4 536.8,46.4 537.0,43.6 537.2,43.5 537.4,44.8 537.6,46.4 537.8,46.6 538.0,43.8 538.2,42.5 538.4,43.6 538.5,43.8 538.7,43.5 538.9,42.1 539.1,43.0 539.3,44.0 539.5,42.0 539.7,44.2 539.9,44.2 540.1,43.5 540.3,41.9 540.5,40.5 540.7,40.5 540.9,42.1 541.1,42.4 541.2,41.4 541.4,42.0 541.6,40.8 541.8,40.8 542.0,44.0 542.2,43.3 542.4,40.3 542.6,39.2 542.8,39.3 543.0,39.6 543.2,39.9 543.4,40.8 543.6,39.9 543.8,40.8 544.0,40.7 544.1,38.9 544.3,39.7 544.5,40.6 544.7,43.4 544.9,45.1 545.1,45.7 545.3,45.3 545.5,45.0 545.7,46.4 545.9,47.4 546.1,47.5 546.3,47.5 546.5,51.0 546.7,51.2 546.8,52.7 547.0,54.0 547.2,54.3 547.4,53.3 547.6,52.6 547.8,52.7 548.0,53.7 548.2,53.5 548.4,52.3 548.6,55.3 548.8,58.8 549.0,58.7 549.2,59.4 549.4,60.0 549.5,56.1 549.7,53.3 549.9,54.8 550.1,56.7 550.3,56.9 550.5,54.1 550.7,54.3 550.9,54.8 551.1,54.3 551.3,54.1 551.5,52.9 551.7,53.4 551.9,54.7 552.1,54.9 552.3,54.2 552.4,55.1 552.6,54.8 552.8,57.0 553.0,56.1 553.2,55.8 553.4,56.0 553.6,52.8 553.8,52.3 554.0,54.8 554.2,55.0 554.4,55.9 554.6,58.8 554.8,56.6 555.0,54.9 555.1,54.8 555.3,57.0 555.5,56.9 555.7,54.3 555.9,51.4 556.1,53.3 556.3,53.7 556.5,52.7 556.7,53.9 556.9,54.8 557.1,55.7 557.3,52.1 557.5,52.2 557.7,52.5 557.8,53.3 558.0,53.6 558.2,53.9 558.4,54.3 558.6,54.6 558.8,53.0 559.0,51.3 559.2,52.5 559.4,54.2 559.6,55.1 559.8,53.8 560.0,50.7 560.2,51.3 560.4,52.1 560.6,52.6 560.7,53.8 560.9,52.1 561.1,50.4 561.3,51.6 561.5,51.9 561.7,51.4 561.9,51.0 562.1,53.2 562.3,52.7 562.5,51.3 562.7,49.2 562.9,50.1 563.1,49.3 563.3,48.1 563.4,50.2 563.6,51.1 563.8,50.0 564.0,50.2 564.2,50.9 564.4,48.2 564.6,47.1 564.8,48.5 565.0,48.9 565.2,49.5 565.4,49.9 565.6,52.1 565.8,52.1 566.0,48.7 566.1,48.6 566.3,48.6 566.5,47.9 566.7,47.8 566.9,47.4 567.1,47.5 567.3,49.1 567.5,50.6 567.7,51.6 567.9,48.8 568.1,46.9 568.3,46.9 568.5,49.7 568.7,51.0 568.9,50.6 569.0,48.9 569.2,48.6 569.4,48.2 569.6,48.3 569.8,48.5 570.0,47.9 570.2,48.2 570.4,47.9 570.6,46.2 570.8,44.7 571.0,45.1 571.2,45.5 571.4,46.1 571.6,46.5 571.7,47.3 571.9,48.5 572.1,49.6 572.3,51.1 572.5,52.8 572.7,54.6 572.9,57.0 573.1,58.9 573.3,61.0 573.5,62.5 573.7,64.2 573.9,65.8 574.1,67.9 574.3,69.8 574.4,71.3 574.6,72.7 574.8,74.1 575.0,75.8 575.2,77.4 575.4,78.1 575.6,78.4 575.8,79.8 576.0,80.8 576.2,81.6 576.4,82.0 576.6,83.0 576.8,83.7 577.0,84.9 577.1,85.6 577.3,86.1 577.5,87.1 577.7,88.6 577.9,89.3 578.1,90.1 578.3,91.2 578.5,91.3 578.7,91.9 578.9,92.9 579.1,94.1 579.3,94.5 579.5,94.8 579.7,95.5 579.9,96.6 580.0,96.9 580.2,97.2 580.4,98.7 580.6,99.6 580.8,100.4 581.0,101.4 581.2,101.5 581.4,101.6 581.6,102.9 581.8,103.4 582.0,103.5 582.2,104.2 582.4,105.1 582.6,105.9 582.7,106.5 582.9,107.0 583.1,107.4 583.3,108.0 583.5,108.7 583.7,109.9 583.9,110.0 584.1,110.7 584.3,111.3 584.5,111.9 584.7,112.2 584.9,112.8 585.1,113.4 585.3,114.3 585.4,114.5 585.6,114.6 585.8,115.2 586.0,116.3 586.2,116.9 586.4,117.6 586.6,118.1 586.8,118.4 587.0,118.6 587.2,119.1 587.4,119.4 587.6,120.2 587.8,121.6 588.0,121.9 588.2,122.7 588.3,123.7 588.5,124.1 588.7,124.1 588.9,123.9 589.1,124.7 589.3,125.5 589.5,126.1 589.7,126.7 589.9,126.9 590.1,127.6 590.3,128.5 590.5,128.2 590.7,127.4 590.9,128.4 591.0,129.4 591.2,129.8 591.4,130.6 591.6,130.7 591.8,130.9 592.0,132.0 592.2,132.3 592.4,132.4 592.6,132.6 592.8,132.9 593.0,132.8 593.2,132.8 593.4,133.2 593.6,133.3 593.7,133.7 593.9,134.5 594.1,134.8 594.3,135.0 594.5,135.1 594.7,135.6 594.9,135.7 595.1,135.5 595.3,136.4 595.5,137.2 595.7,136.9 595.9,137.0 596.1,137.4 596.3,137.4 596.5,137.4 596.6,138.0 596.8,138.3 597.0,138.6 597.2,138.5 597.4,138.8 597.6,139.3 597.8,139.0 598.0,138.8 598.2,140.0 598.4,140.2 598.6,139.9 598.8,140.0 599.0,139.6 599.2,140.5 599.3,140.9 599.5,140.5 599.7,140.0 599.9,140.0 600.1,140.3 600.3,140.4 600.5,140.6 600.7,141.5 600.9,141.0 601.1,140.8 601.3,141.5 601.5,141.3 601.7,140.9 601.9,141.0 602.0,141.4 602.2,141.1 602.4,141.3 602.6,141.7 602.8,142.4 603.0,142.7 603.2,142.4 603.4,142.1 603.6,143.3 603.8,143.4 604.0,142.5 604.2,142.9 604.4,143.9 604.6,143.4 604.8,142.9 604.9,142.8 605.1,143.7 605.3,143.4 605.5,142.8 605.7,143.0 605.9,143.6 606.1,143.8 606.3,143.9 606.5,143.3 606.7,143.5 606.9,143.2 607.1,143.4 607.3,144.1 607.5,144.0 607.6,143.7 607.8,143.6 608.0,143.3 608.2,143.5 608.4,143.9 608.6,144.1 608.8,144.6 609.0,144.7 609.2,144.3 609.4,144.5 609.6,145.0 609.8,144.9 610.0,145.1 610.2,145.0 610.3,144.6 610.5,145.2 610.7,145.3 610.9,144.9 611.1,145.0 611.3,145.3 611.5,145.8 611.7,145.6 611.9,145.6 612.1,145.9 612.3,145.9 612.5,145.6 612.7,145.1 612.9,144.9 613.1,145.3 613.2,145.2 613.4,145.8 613.6,146.5 613.8,146.0 614.0,145.4 614.2,145.5 614.4,146.0 614.6,145.6 614.8,146.4 615.0,146.8 615.2,146.5 615.4,145.9 615.6,146.1 615.8,146.5 615.9,147.4 616.1,147.0 616.3,146.7 616.5,146.6 616.7,146.8 616.9,146.6 617.1,147.2 617.3,147.8 617.5,147.7 617.7,146.8 617.9,146.8 618.1,147.3 618.3,147.0 618.5,147.3 618.6,147.6 618.8,148.1 619.0,147.9 619.2,147.6 619.4,147.6 619.6,147.7 619.8,147.2 620.0,147.2 620.2,147.9 620.4,148.0 620.6,148.4 620.8,148.1 621.0,148.3 621.2,148.2 621.4,148.1 621.5,148.1 621.7,147.9 621.9,148.5 622.1,148.5 622.3,148.3 622.5,148.3 622.7,148.4 622.9,148.6 623.1,148.8 623.3,148.4 623.5,148.4 623.7,148.2 623.9,148.2 624.1,148.8 624.2,149.2 624.4,149.2 624.6,149.5 624.8,149.6 625.0,148.6 625.2,148.4 625.4,148.2 625.6,149.0 625.8,149.0 626.0,149.1 626.2,149.1 626.4,149.0 626.6,149.2 626.8,149.4 626.9,149.7 627.1,150.4 627.3,150.2 627.5,149.7 627.7,149.0 627.9,149.1 628.1,149.3 628.3,149.4 628.5,149.6 628.7,149.3 628.9,149.9 629.1,150.4 629.3,149.8 629.5,149.5 629.7,149.8 629.8,149.8 630.0,149.5 630.2,149.4 630.4,149.6 630.6,149.5 630.8,149.7 631.0,149.7 631.2,150.5 631.4,150.2 631.6,150.2 631.8,150.6 632.0,150.9 632.2,150.3 632.4,150.7 632.5,151.1 632.7,151.1 632.9,150.9 633.1,150.9 633.3,151.2 633.5,151.2 633.7,150.8 633.9,150.6 634.1,150.3 634.3,150.8 634.5,150.6 634.7,150.3 634.9,150.8 635.1,150.8 635.2,150.9 635.4,150.9 635.6,150.8 635.8,151.5 636.0,151.9 636.2,152.1 636.4,151.5 636.6,151.1 636.8,151.3 637.0,151.3 637.2,151.6 637.4,151.2 637.6,151.6 637.8,151.6 638.0,151.1 638.1,151.4 638.3,151.5 638.5,151.6 638.7,151.5 638.9,151.9 639.1,152.3 639.3,151.9 639.5,151.7 639.7,151.8 639.9,151.8 640.1,151.5 640.3,152.1 640.5,152.1 640.7,152.2 640.8,152.7 641.0,152.7 641.2,152.1 641.4,152.0 641.6,152.4 641.8,153.0 642.0,152.7 642.2,152.3 642.4,152.1 642.6,151.9 642.8,152.1 643.0,152.0 643.2,152.2 643.4,153.2 643.5,152.7 643.7,152.7 643.9,152.6 644.1,152.8 644.3,153.3 644.5,153.3 644.7,152.9 644.9,152.9 645.1,152.8 645.3,152.8 645.5,152.3 645.7,152.7 645.9,152.5 646.1,153.1 646.3,153.0 646.4,152.9 646.6,153.7 646.8,153.8 647.0,153.2 647.2,152.7 647.4,152.7 647.6,153.0 647.8,153.2 648.0,153.9 648.2,153.7 648.4,153.2 648.6,153.7 648.8,154.1 649.0,154.4 649.1,154.3 649.3,154.4 649.5,153.7 649.7,153.3 649.9,153.6 650.1,153.9 650.3,154.1 650.5,154.0 650.7,154.5 650.9,154.2 651.1,153.6 651.3,154.5 651.5,154.8 651.7,154.7 651.8,154.1 652.0,154.5 652.2,155.1 652.4,154.9 652.6,154.1 652.8,154.0 653.0,154.2 653.2,154.4 653.4,154.2 653.6,154.0 653.8,154.5 654.0,155.5 654.2,155.9 654.4,155.6 654.6,155.2 654.7,155.6 654.9,155.6 655.1,155.2 655.3,155.5 655.5,155.6 655.7,154.9 655.9,154.8 656.1,154.7 656.3,154.6 656.5,154.7 656.7,155.2 656.9,155.7 657.1,156.1 657.3,155.8 657.4,155.6 657.6,155.1 657.8,155.0 658.0,154.9 658.2,154.9 658.4,155.1 658.6,155.4 658.8,155.7 659.0,156.0 659.2,156.0 659.4,156.2 659.6,155.9 659.8,156.2 660.0,157.1 660.1,157.4 660.3,156.8 660.5,156.5 660.7,156.2 660.9,155.9 661.1,156.5 661.3,156.8 661.5,156.3 661.7,155.8 661.9,155.8 662.1,156.7 662.3,156.8 662.5,156.6 662.7,156.0 662.9,156.2 663.0,156.5 663.2,156.5 663.4,156.9 663.6,156.9 663.8,157.0 664.0,157.1 664.2,157.1 664.4,156.9 664.6,156.7 664.8,156.4 665.0,156.6 665.2,157.3 665.4,158.2 665.6,158.1 665.7,157.7 665.9,157.7 666.1,157.9 666.3,157.7 666.5,157.5 666.7,157.7 666.9,157.7 667.1,157.7 667.3,158.0 667.5,158.1 667.7,157.8 667.9,157.8 668.1,158.4 668.3,158.8 668.4,158.4 668.6,158.0 668.8,158.4 669.0,157.9 669.2,158.1 669.4,158.2 669.6,158.3 669.8,158.0 670.0,158.1 670.2,158.4 670.4,158.9 670.6,158.5 670.8,159.0 671.0,158.7 671.2,158.3 671.3,158.5 671.5,158.4 671.7,158.5 671.9,158.7 672.1,158.8 672.3,158.3 672.5,158.3 672.7,159.0 672.9,159.2 673.1,159.0 673.3,159.2 673.5,158.9 673.7,158.6 673.9,158.5 674.0,158.4 674.2,158.9 674.4,159.6 674.6,159.7" fill="none" stroke="#22c822" stroke-width="0.9" stroke-linejoin="round"/>
<polyline points="501.1,61.4 501.3,60.6 501.5,62.4 501.7,63.3 501.9,62.2 502.1,62.3 502.3,60.2 502.5,58.7 502.6,61.3 502.8,61.6 503.0,59.9 503.2,58.9 503.4,59.5 503.6,60.8 503.8,59.6 504.0,59.7 504.2,60.7 504.4,60.5 504.6,62.0 504.8,62.5 505.0,61.7 505.2,60.0 505.3,58.9 505.5,57.6 505.7,57.3 505.9,58.4 506.1,60.2 506.3,58.3 506.5,56.7 506.7,57.1 506.9,58.0 507.1,57.6 507.3,57.3 507.5,56.2 507.7,54.2 507.9,56.0 508.0,56.1 508.2,55.0 508.4,55.3 508.6,54.3 508.8,54.3 509.0,54.6 509.2,55.1 509.4,53.9 509.6,52.7 509.8,54.7 510.0,53.4 510.2,53.0 510.4,52.4 510.6,49.9 510.8,51.2 510.9,52.5 511.1,52.3 511.3,52.2 511.5,52.9 511.7,52.2 511.9,52.0 512.1,52.2 512.3,51.1 512.5,52.9 512.7,52.4 512.9,52.4 513.1,53.0 513.3,53.8 513.5,52.3 513.6,51.5 513.8,49.8 514.0,49.8 514.2,52.0 514.4,51.3 514.6,50.4 514.8,52.7 515.0,52.0 515.2,50.7 515.4,48.3 515.6,49.4 515.8,51.4 516.0,51.6 516.2,50.6 516.3,48.4 516.5,49.5 516.7,49.8 516.9,49.8 517.1,50.5 517.3,51.3 517.5,52.3 517.7,50.9 517.9,49.1 518.1,48.4 518.3,48.7 518.5,48.9 518.7,48.6 518.9,49.0 519.1,48.9 519.2,49.3 519.4,48.8 519.6,50.8 519.8,50.3 520.0,52.4 520.2,53.6 520.4,51.3 520.6,50.5 520.8,47.9 521.0,46.6 521.2,50.1 521.4,50.0 521.6,49.4 521.8,48.3 521.9,48.7 522.1,48.4 522.3,46.7 522.5,46.8 522.7,49.1 522.9,48.3 523.1,47.4 523.3,47.9 523.5,47.1 523.7,47.4 523.9,46.3 524.1,46.8 524.3,47.3 524.5,47.3 524.6,47.3 524.8,49.6 525.0,50.4 525.2,49.6 525.4,51.1 525.6,50.1 525.8,51.5 526.0,49.1 526.2,49.9 526.4,50.4 526.6,52.0 526.8,53.7 527.0,51.6 527.2,50.7 527.4,52.2 527.5,53.0 527.7,53.9 527.9,54.8 528.1,55.3 528.3,57.6 528.5,56.5 528.7,57.5 528.9,58.3 529.1,57.9 529.3,56.9 529.5,57.8 529.7,56.9 529.9,56.8 530.1,58.3 530.2,59.1 530.4,57.7 530.6,57.2 530.8,57.5 531.0,57.8 531.2,57.6 531.4,56.0 531.6,53.5 531.8,56.0 532.0,56.1 532.2,53.7 532.4,53.0 532.6,55.6 532.8,55.2 532.9,55.5 533.1,55.4 533.3,52.0 533.5,51.4 533.7,52.5 533.9,52.6 534.1,51.3 534.3,51.7 534.5,51.0 534.7,51.4 534.9,50.3 535.1,47.0 535.3,47.1 535.5,46.7 535.7,46.9 535.8,47.4 536.0,47.6 536.2,46.3 536.4,45.9 536.6,45.3 536.8,43.8 537.0,43.5 537.2,44.2 537.4,44.6 537.6,46.4 537.8,46.7 538.0,42.7 538.2,41.5 538.4,43.5 538.5,43.5 538.7,42.5 538.9,42.5 539.1,43.2 539.3,43.0 539.5,41.8 539.7,43.4 539.9,42.6 540.1,41.9 540.3,41.2 540.5,39.9 540.7,39.7 540.9,44.8 541.1,45.5 541.2,42.6 541.4,43.2 541.6,41.3 541.8,40.5 542.0,43.0 542.2,43.2 542.4,40.1 542.6,39.3 542.8,39.4 543.0,38.9 543.2,39.9 543.4,41.0 543.6,40.1 543.8,40.7 544.0,41.0 544.1,39.4 544.3,40.0 544.5,41.0 544.7,42.2 544.9,44.0 545.1,44.2 545.3,44.5 545.5,44.6 545.7,46.3 545.9,46.5 546.1,46.6 546.3,46.8 546.5,50.2 546.7,50.0 546.8,51.8 547.0,52.5 547.2,53.4 547.4,52.9 547.6,52.7 547.8,53.2 548.0,53.5 548.2,54.0 548.4,53.9 548.6,55.1 548.8,58.0 549.0,56.3 549.2,58.3 549.4,60.0 549.5,56.2 549.7,53.5 549.9,55.3 550.1,57.1 550.3,56.3 550.5,54.2 550.7,53.9 550.9,54.0 551.1,54.1 551.3,53.6 551.5,52.7 551.7,53.0 551.9,54.0 552.1,55.6 552.3,54.5 552.4,53.9 552.6,53.0 552.8,56.2 553.0,56.0 553.2,54.3 553.4,54.3 553.6,51.0 553.8,51.4 554.0,54.1 554.2,54.2 554.4,55.3 554.6,56.8 554.8,54.5 555.0,54.3 555.1,55.5 555.3,56.5 555.5,55.8 555.7,55.0 555.9,54.3 556.1,53.4 556.3,52.6 556.5,52.4 556.7,54.4 556.9,55.6 557.1,56.2 557.3,52.4 557.5,52.0 557.7,52.3 557.8,52.4 558.0,53.1 558.2,53.5 558.4,54.2 558.6,53.7 558.8,53.0 559.0,50.8 559.2,52.1 559.4,53.9 559.6,54.4 559.8,53.8 560.0,51.1 560.2,51.1 560.4,51.6 560.6,52.4 560.7,53.3 560.9,52.4 561.1,51.8 561.3,52.3 561.5,52.3 561.7,51.9 561.9,52.3 562.1,53.4 562.3,52.2 562.5,52.3 562.7,50.3 562.9,50.4 563.1,49.9 563.3,49.1 563.4,50.8 563.6,51.3 563.8,49.9 564.0,49.7 564.2,50.8 564.4,48.7 564.6,47.5 564.8,49.7 565.0,50.6 565.2,51.0 565.4,49.7 565.6,51.5 565.8,51.2 566.0,49.3 566.1,50.1 566.3,48.3 566.5,47.4 566.7,48.9 566.9,47.4 567.1,45.6 567.3,48.9 567.5,49.6 567.7,50.3 567.9,48.3 568.1,46.3 568.3,46.3 568.5,49.8 568.7,50.0 568.9,48.5 569.0,49.0 569.2,49.7 569.4,48.3 569.6,48.2 569.8,49.0 570.0,48.9 570.2,48.3 570.4,46.7 570.6,45.5 570.8,45.2 571.0,46.3 571.2,47.8 571.4,48.9 571.6,48.3 571.7,49.4 571.9,49.3 572.1,46.8 572.3,46.1 572.5,47.5 572.7,48.2 572.9,48.0 573.1,47.9 573.3,45.1 573.5,42.9 573.7,46.5 573.9,49.1 574.1,48.1 574.3,46.9 574.4,47.6 574.6,48.1 574.8,47.4 575.0,48.8 575.2,48.9 575.4,48.6 575.6,48.7 575.8,49.8 576.0,51.2 576.2,52.3 576.4,53.7 576.6,55.2 576.8,56.8 577.0,58.8 577.1,59.6 577.3,61.2 577.5,63.4 577.7,65.4 577.9,67.0 578.1,68.2 578.3,69.6 578.5,70.9 578.7,72.3 578.9,74.7 579.1,75.8 579.3,76.5 579.5,77.0 579.7,78.2 579.9,79.4 580.0,79.9 580.2,80.4 580.4,81.0 580.6,82.3 580.8,83.6 581.0,84.6 581.2,85.4 581.4,85.7 581.6,86.3 581.8,87.5 582.0,88.2 582.2,88.5 582.4,89.6 582.6,90.5 582.7,91.8 582.9,92.8 583.1,93.9 583.3,94.3 583.5,94.2 583.7,94.5 583.9,95.8 584.1,96.9 584.3,97.1 584.5,97.4 584.7,98.3 584.9,98.8 585.1,99.9 585.3,101.1 585.4,101.7 585.6,101.7 585.8,101.5 586.0,102.6 586.2,103.7 586.4,104.2 586.6,104.9 586.8,105.7 587.0,106.3 587.2,106.8 587.4,106.9 587.6,107.1 587.8,107.8 588.0,109.0 588.2,109.6 588.3,110.6 588.5,111.3 588.7,111.4 588.9,111.7 589.1,112.3 589.3,112.6 589.5,113.1 589.7,113.8 589.9,114.8 590.1,115.6 590.3,115.3 590.5,116.2 590.7,116.6 590.9,117.2 591.0,117.8 591.2,117.7 591.4,118.5 591.6,119.5 591.8,120.4 592.0,121.2 592.2,121.6 592.4,121.6 592.6,122.3 592.8,122.8 593.0,123.0 593.2,123.6 593.4,124.0 593.6,124.8 593.7,125.2 593.9,125.3 594.1,126.1 594.3,126.2 594.5,126.6 594.7,127.5 594.9,128.6 595.1,129.0 595.3,129.4 595.5,129.5 595.7,129.4 595.9,130.2 596.1,130.8 596.3,130.9 596.5,131.2 596.6,131.8 596.8,131.5 597.0,131.6 597.2,132.3 597.4,132.5 597.6,133.4 597.8,133.6 598.0,133.5 598.2,133.6 598.4,133.6 598.6,134.4 598.8,135.0 599.0,134.9 599.2,135.0 599.3,135.2 599.5,135.7 599.7,135.9 599.9,136.3 600.1,136.3 600.3,136.9 600.5,137.0 600.7,136.8 600.9,137.5 601.1,137.6 601.3,137.6 601.5,137.9 601.7,137.9 601.9,138.3 602.0,138.4 602.2,139.4 602.4,139.6 602.6,139.1 602.8,138.5 603.0,138.7 603.2,139.7 603.4,139.9 603.6,140.3 603.8,140.8 604.0,140.2 604.2,140.2 604.4,139.9 604.6,140.3 604.8,140.9 604.9,141.2 605.1,141.0 605.3,141.0 605.5,140.9 605.7,140.2 605.9,141.1 606.1,141.9 606.3,141.6 606.5,141.2 606.7,141.6 606.9,142.1 607.1,142.4 607.3,142.7 607.5,142.9 607.6,142.7 607.8,142.5 608.0,142.5 608.2,142.1 608.4,142.4 608.6,143.0 608.8,142.8 609.0,142.7 609.2,143.5 609.4,143.0 609.6,142.1 609.8,142.8 610.0,143.7 610.2,143.6 610.3,143.3 610.5,142.8 610.7,143.7 610.9,144.1 611.1,144.3 611.3,145.0 611.5,145.6 611.7,144.6 611.9,144.1 612.1,144.4 612.3,144.2 612.5,144.0 612.7,144.4 612.9,145.0 613.1,144.2 613.2,144.1 613.4,144.4 613.6,144.8 613.8,145.0 614.0,145.2 614.2,144.9 614.4,144.8 614.6,145.2 614.8,145.1 615.0,145.4 615.2,145.3 615.4,145.4 615.6,145.0 615.8,144.8 615.9,145.4 616.1,146.0 616.3,146.0 616.5,145.8 616.7,145.9 616.9,145.7 617.1,145.7 617.3,145.8 617.5,146.4 617.7,146.8 617.9,146.7 618.1,146.4 618.3,146.6 618.5,146.6 618.6,147.3 618.8,147.1 619.0,147.0 619.2,147.5 619.4,147.4 619.6,147.5 619.8,147.1 620.0,146.9 620.2,146.8 620.4,147.5 620.6,147.9 620.8,147.6 621.0,147.2 621.2,147.2 621.4,147.1 621.5,146.9 621.7,147.4 621.9,147.7 622.1,147.9 622.3,147.8 622.5,147.2 622.7,147.7 622.9,148.5 623.1,147.9 623.3,148.5 623.5,148.1 623.7,147.6 623.9,147.7 624.1,147.7 624.2,147.6 624.4,148.0 624.6,148.5 624.8,148.3 625.0,148.8 625.2,149.3 625.4,148.7 625.6,148.2 625.8,148.3 626.0,148.2 626.2,147.8 626.4,148.1 626.6,148.2 626.8,148.2 626.9,148.1 627.1,148.5 627.3,148.2 627.5,148.1 627.7,148.7 627.9,148.8 628.1,149.3 628.3,149.0 628.5,148.9 628.7,149.6 628.9,150.0 629.1,149.5 629.3,149.4 629.5,149.2 629.7,149.1 629.8,148.9 630.0,148.7 630.2,149.3 630.4,150.0 630.6,149.5 630.8,149.4 631.0,149.4 631.2,149.1 631.4,149.5 631.6,149.9 631.8,149.9 632.0,150.3 632.2,149.8 632.4,149.7 632.5,149.3 632.7,149.6 632.9,149.9 633.1,150.2 633.3,150.7 633.5,150.4 633.7,150.1 633.9,149.9 634.1,150.0 634.3,150.1 634.5,150.2 634.7,150.6 634.9,150.6 635.1,150.8 635.2,151.4 635.4,151.3 635.6,150.5 635.8,150.0 636.0,150.2 636.2,150.8 636.4,150.3 636.6,150.3 636.8,151.0 637.0,150.8 637.2,150.4 637.4,150.7 637.6,150.8 637.8,151.4 638.0,151.4 638.1,151.0 638.3,151.3 638.5,151.4 638.7,151.5 638.9,151.7 639.1,151.1 639.3,151.5 639.5,151.8 639.7,151.9 639.9,151.8 640.1,152.0 640.3,151.6 640.5,151.7 640.7,151.7 640.8,152.3 641.0,152.6 641.2,152.4 641.4,152.2 641.6,152.4 641.8,152.0 642.0,152.1 642.2,152.0 642.4,152.2 642.6,152.2 642.8,152.8 643.0,152.8 643.2,152.4 643.4,152.5 643.5,152.3 643.7,152.6 643.9,152.6 644.1,153.1 644.3,153.3 644.5,152.4 644.7,152.5 644.9,152.4 645.1,152.9 645.3,153.5 645.5,152.9 645.7,152.4 645.9,152.2 646.1,152.2 646.3,152.8 646.4,153.1 646.6,153.3 646.8,153.6 647.0,153.1 647.2,152.9 647.4,153.2 647.6,153.6 647.8,153.4 648.0,153.5 648.2,153.2 648.4,153.7 648.6,154.0 648.8,154.0 649.0,154.3 649.1,154.3 649.3,154.4 649.5,154.6 649.7,153.4 649.9,153.5 650.1,154.0 650.3,154.3 650.5,154.1 650.7,154.1 650.9,154.4 651.1,154.8 651.3,154.8 651.5,155.1 651.7,154.8 651.8,154.9 652.0,154.9 652.2,154.6 652.4,154.1 652.6,154.1 652.8,154.6 653.0,154.9 653.2,154.5 653.4,155.2 653.6,155.3 653.8,155.2 654.0,155.1 654.2,154.5 654.4,154.6 654.6,154.7 654.7,155.0 654.9,154.9 655.1,155.2 655.3,155.3 655.5,155.2 655.7,155.1 655.9,155.2 656.1,155.7 656.3,156.2 656.5,156.2 656.7,156.7 656.9,156.2 657.1,156.0 657.3,155.9 657.4,156.5 657.6,155.5 657.8,156.0 658.0,156.6 658.2,156.0 658.4,155.8 658.6,155.6 658.8,155.4 659.0,156.2 659.2,156.2 659.4,156.3 659.6,156.6 659.8,156.2 660.0,156.0 660.1,156.6 660.3,156.4 660.5,156.1 660.7,156.5 660.9,157.2 661.1,156.9 661.3,156.8 661.5,156.4 661.7,156.5 661.9,156.4 662.1,157.1 662.3,157.1 662.5,157.1 662.7,156.4 662.9,156.5 663.0,157.3 663.2,157.1 663.4,157.5 663.6,158.1 663.8,158.0 664.0,157.5 664.2,157.4 664.4,157.6 664.6,157.5 664.8,157.5 665.0,157.7 665.2,158.2 665.4,157.9 665.6,157.9 665.7,158.2 665.9,157.4 666.1,157.3 666.3,157.6 666.5,157.4 666.7,158.3 666.9,158.8 667.1,158.7 667.3,158.5 667.5,157.8 667.7,158.2 667.9,158.5 668.1,158.2 668.3,157.9 668.4,158.4 668.6,158.8 668.8,158.5 669.0,158.3 669.2,158.6 669.4,158.3 669.6,158.7 669.8,159.0 670.0,158.6 670.2,158.3 670.4,158.8 670.6,158.6 670.8,158.8 671.0,159.2 671.2,159.2 671.3,159.0 671.5,159.1 671.7,159.2 671.9,159.4 672.1,159.9 672.3,160.2 672.5,160.2 672.7,160.1 672.9,160.0 673.1,160.0 673.3,159.9 673.5,160.3 673.7,160.1 673.9,159.6 674.0,159.4 674.2,159.8 674.4,159.6 674.6,159.6" fill="none" stroke="#1fdc1f" stroke-width="0.9" stroke-linejoin="round"/>
<polyline points="501.1,61.6 501.3,61.0 501.5,62.0 501.7,62.4 501.9,61.9 502.1,62.2 502.3,59.8 502.5,58.3 502.6,60.0 502.8,60.1 503.0,59.4 503.2,59.4 503.4,59.4 503.6,60.2 503.8,59.0 504.0,58.8 504.2,60.6 504.4,60.8 504.6,61.9 504.8,61.6 505.0,60.9 505.2,58.2 505.3,56.8 505.5,56.8 505.7,57.1 505.9,57.7 506.1,60.4 506.3,58.5 506.5,56.3 506.7,56.0 506.9,57.3 507.1,56.6 507.3,56.5 507.5,55.0 507.7,53.3 507.9,55.2 508.0,54.7 508.2,53.8 508.4,54.2 508.6,53.7 508.8,52.5 509.0,53.5 509.2,54.2 509.4,53.5 509.6,53.2 509.8,54.6 510.0,52.0 510.2,51.8 510.4,52.4 510.6,49.4 510.8,51.0 510.9,53.6 511.1,52.0 511.3,50.1 511.5,50.8 511.7,50.8 511.9,51.6 512.1,49.9 512.3,48.8 512.5,50.4 512.7,51.4 512.9,52.0 513.1,52.0 513.3,52.7 513.5,51.7 513.6,50.6 513.8,48.1 514.0,48.8 514.2,52.3 514.4,52.1 514.6,51.5 514.8,53.2 515.0,50.7 515.2,49.0 515.4,48.2 515.6,48.4 515.8,49.1 516.0,50.3 516.2,49.2 516.3,47.4 516.5,49.4 516.7,49.9 516.9,49.1 517.1,49.5 517.3,50.7 517.5,50.8 517.7,49.8 517.9,49.7 518.1,47.5 518.3,48.5 518.5,50.3 518.7,49.6 518.9,48.6 519.1,47.2 519.2,48.3 519.4,49.3 519.6,49.9 519.8,48.7 520.0,51.3 520.2,52.5 520.4,49.8 520.6,49.3 520.8,47.3 521.0,45.1 521.2,47.7 521.4,48.7 521.6,47.8 521.8,46.8 521.9,46.9 522.1,46.6 522.3,46.3 522.5,46.7 522.7,48.2 522.9,47.2 523.1,47.7 523.3,49.2 523.5,46.9 523.7,47.2 523.9,46.2 524.1,46.7 524.3,47.4 524.5,48.0 524.6,48.0 524.8,49.8 525.0,49.2 525.2,48.4 525.4,50.4 525.6,48.7 525.8,50.2 526.0,49.1 526.2,49.8 526.4,49.4 526.6,50.1 526.8,51.9 527.0,49.7 527.2,48.3 527.4,51.0 527.5,54.2 527.7,55.7 527.9,55.3 528.1,53.2 528.3,54.2 528.5,55.3 528.7,56.6 528.9,57.0 529.1,57.2 529.3,55.7 529.5,55.8 529.7,55.2 529.9,57.1 530.1,58.5 530.2,58.0 530.4,56.6 530.6,55.9 530.8,56.2 531.0,57.0 531.2,57.5 531.4,55.3 531.6,52.9 531.8,54.3 532.0,55.2 532.2,52.8 532.4,51.3 532.6,53.2 532.8,52.5 532.9,53.3 533.1,53.2 533.3,51.4 533.5,51.6 533.7,52.0 533.9,50.4 534.1,48.8 534.3,50.1 534.5,50.0 534.7,50.7 534.9,50.2 535.1,46.6 535.3,46.8 535.5,46.9 535.7,47.0 535.8,46.7 536.0,46.1 536.2,45.6 536.4,45.5 536.6,45.4 536.8,45.6 537.0,42.7 537.2,42.0 537.4,43.8 537.6,44.7 537.8,45.3 538.0,42.4 538.2,42.2 538.4,44.0 538.5,43.1 538.7,40.8 538.9,41.6 539.1,41.7 539.3,41.5 539.5,41.0 539.7,43.3 539.9,42.8 540.1,41.8 540.3,41.1 540.5,39.6 540.7,39.4 540.9,42.6 541.1,43.8 541.2,41.4 541.4,41.2 541.6,39.8 541.8,39.6 542.0,41.4 542.2,41.6 542.4,39.3 542.6,38.9 542.8,38.2 543.0,37.5 543.2,38.5 543.4,39.7 543.6,38.1 543.8,39.3 544.0,39.8 544.1,38.2 544.3,38.2 544.5,38.8 544.7,41.8 544.9,42.7 545.1,44.1 545.3,44.7 545.5,44.8 545.7,46.2 545.9,47.1 546.1,46.3 546.3,45.8 546.5,49.8 546.7,50.9 546.8,51.7 547.0,52.1 547.2,52.8 547.4,52.8 547.6,51.7 547.8,52.4 548.0,52.9 548.2,53.3 548.4,51.9 548.6,53.4 548.8,56.3 549.0,56.6 549.2,57.5 549.4,57.9 549.5,54.7 549.7,52.6 549.9,55.1 550.1,55.4 550.3,53.9 550.5,51.9 550.7,52.8 550.9,52.9 551.1,52.5 551.3,53.7 551.5,53.0 551.7,52.4 551.9,54.1 552.1,56.3 552.3,54.4 552.4,54.2 552.6,53.8 552.8,55.1 553.0,54.8 553.2,55.4 553.4,54.5 553.6,49.9 553.8,50.2 554.0,54.0 554.2,53.8 554.4,54.2 554.6,56.9 554.8,55.3 555.0,54.0 555.1,53.3 555.3,54.4 555.5,53.8 555.7,52.9 555.9,51.4 556.1,52.7 556.3,53.1 556.5,52.6 556.7,54.8 556.9,55.5 557.1,55.9 557.3,51.9 557.5,50.7 557.7,50.8 557.8,51.4 558.0,52.4 558.2,52.4 558.4,52.3 558.6,52.8 558.8,52.3 559.0,51.8 559.2,51.8 559.4,52.0 559.6,53.6 559.8,52.9 560.0,49.6 560.2,50.6 560.4,51.0 560.6,52.2 560.7,53.6 560.9,52.3 561.1,49.9 561.3,52.0 561.5,52.1 561.7,50.8 561.9,51.4 562.1,52.3 562.3,51.4 562.5,51.2 562.7,50.2 562.9,50.7 563.1,48.8 563.3,47.9 563.4,49.3 563.6,49.9 563.8,49.0 564.0,49.3 564.2,49.8 564.4,47.6 564.6,45.7 564.8,48.1 565.0,49.6 565.2,50.9 565.4,50.4 565.6,50.7 565.8,49.6 566.0,48.4 566.1,49.8 566.3,47.2 566.5,45.5 566.7,46.5 566.9,46.7 567.1,46.2 567.3,47.8 567.5,49.0 567.7,49.5 567.9,47.2 568.1,45.3 568.3,45.4 568.5,47.8 568.7,49.6 568.9,48.9 569.0,46.4 569.2,45.3 569.4,46.0 569.6,46.4 569.8,46.6 570.0,47.1 570.2,47.8 570.4,47.2 570.6,45.0 570.8,44.7 571.0,46.0 571.2,46.7 571.4,47.9 571.6,46.9 571.7,49.8 571.9,49.2 572.1,46.0 572.3,45.8 572.5,47.1 572.7,48.5 572.9,47.1 573.1,46.7 573.3,44.6 573.5,42.3 573.7,44.1 573.9,46.4 574.1,47.5 574.3,46.8 574.4,47.2 574.6,48.1 574.8,46.8 575.0,46.4 575.2,43.3 575.4,42.8 575.6,43.3 575.8,45.0 576.0,46.2 576.2,46.5 576.4,46.5 576.6,46.9 576.8,48.5 577.0,47.2 577.1,44.4 577.3,44.7 577.5,44.6 577.7,45.2 577.9,47.3 578.1,47.7 578.3,46.6 578.5,45.3 578.7,45.2 578.9,44.9 579.1,46.6 579.3,48.4 579.5,49.0 579.7,49.5 579.9,50.1 580.0,50.7 580.2,52.6 580.4,53.5 580.6,54.3 580.8,55.8 581.0,57.8 581.2,58.9 581.4,60.6 581.6,62.1 581.8,63.6 582.0,64.1 582.2,64.8 582.4,66.9 582.6,69.3 582.7,71.1 582.9,71.6 583.1,72.7 583.3,74.5 583.5,75.4 583.7,77.1 583.9,78.0 584.1,78.5 584.3,79.5 584.5,79.6 584.7,80.1 584.9,81.4 585.1,82.1 585.3,82.5 585.4,83.5 585.6,84.1 585.8,85.1 586.0,86.4 586.2,86.4 586.4,87.2 586.6,88.4 586.8,89.1 587.0,89.9 587.2,90.9 587.4,92.0 587.6,92.6 587.8,93.0 588.0,93.3 588.2,94.0 588.3,94.9 588.5,95.6 588.7,96.2 588.9,97.9 589.1,98.2 589.3,98.1 589.5,98.9 589.7,99.2 589.9,99.4 590.1,100.5 590.3,101.9 590.5,102.4 590.7,103.0 590.9,103.0 591.0,103.4 591.2,104.2 591.4,104.8 591.6,105.3 591.8,105.4 592.0,106.3 592.2,107.0 592.4,107.4 592.6,107.7 592.8,108.4 593.0,109.3 593.2,109.8 593.4,110.2 593.6,110.8 593.7,111.7 593.9,112.3 594.1,112.7 594.3,113.0 594.5,113.9 594.7,114.6 594.9,115.0 595.1,115.3 595.3,115.6 595.5,116.4 595.7,116.7 595.9,116.5 596.1,117.5 596.3,118.4 596.5,118.5 596.6,119.3 596.8,120.0 597.0,120.3 597.2,121.2 597.4,121.3 597.6,121.4 597.8,121.9 598.0,122.8 598.2,123.4 598.4,123.5 598.6,123.8 598.8,124.9 599.0,124.8 599.2,125.0 599.3,125.4 599.5,126.3 599.7,126.5 599.9,127.2 600.1,127.5 600.3,128.3 600.5,129.3 600.7,129.0 600.9,128.9 601.1,129.2 601.3,130.1 601.5,130.6 601.7,130.5 601.9,130.9 602.0,130.8 602.2,131.0 602.4,131.9 602.6,132.5 602.8,133.1 603.0,133.8 603.2,133.4 603.4,133.1 603.6,133.4 603.8,133.8 604.0,133.8 604.2,134.7 604.4,135.2 604.6,135.6 604.8,135.9 604.9,136.1 605.1,136.5 605.3,136.6 605.5,136.6 605.7,137.0 605.9,137.5 606.1,137.5 606.3,137.9 606.5,137.9 606.7,138.3 606.9,139.2 607.1,139.1 607.3,138.7 607.5,139.2 607.6,139.6 607.8,139.6 608.0,139.5 608.2,139.6 608.4,139.8 608.6,139.6 608.8,140.3 609.0,140.7 609.2,140.7 609.4,140.5 609.6,140.1 609.8,140.1 610.0,141.1 610.2,141.4 610.3,141.3 610.5,141.5 610.7,141.6 610.9,142.1 611.1,142.2 611.3,142.9 611.5,142.4 611.7,141.9 611.9,141.8 612.1,142.7 612.3,142.7 612.5,142.8 612.7,143.4 612.9,143.4 613.1,143.8 613.2,144.3 613.4,144.4 613.6,144.2 613.8,144.6 614.0,144.9 614.2,144.5 614.4,144.8 614.6,144.3 614.8,144.4 615.0,145.1 615.2,145.5 615.4,145.5 615.6,145.6 615.8,145.4 615.9,145.0 616.1,144.6 616.3,145.9 616.5,145.8 616.7,145.3 616.9,145.0 617.1,145.2 617.3,145.9 617.5,146.1 617.7,147.0 617.9,146.4 618.1,145.8 618.3,146.1 618.5,146.9 618.6,147.2 618.8,147.5 619.0,147.3 619.2,147.3 619.4,147.0 619.6,147.0 619.8,146.8 620.0,147.0 620.2,147.0 620.4,146.4 620.6,146.8 620.8,147.5 621.0,147.0 621.2,146.9 621.4,146.9 621.5,147.5 621.7,148.4 621.9,148.4 622.1,149.0 622.3,148.8 622.5,148.3 622.7,147.6 622.9,147.9 623.1,148.0 623.3,148.0 623.5,148.4 623.7,148.0 623.9,148.3 624.1,148.9 624.2,148.9 624.4,148.7 624.6,148.3 624.8,148.2 625.0,148.8 625.2,148.8 625.4,147.9 625.6,147.3 625.8,147.9 626.0,148.8 626.2,149.2 626.4,149.0 626.6,149.2 626.8,149.4 626.9,148.6 627.1,148.4 627.3,149.6 627.5,150.0 627.7,150.0 627.9,150.1 628.1,149.7 628.3,150.1 628.5,149.7 628.7,149.5 628.9,149.8 629.1,150.4 629.3,150.1 629.5,149.8 629.7,149.7 629.8,150.0 630.0,150.2 630.2,149.7 630.4,149.5 630.6,149.7 630.8,150.4 631.0,150.4 631.2,150.8 631.4,150.6 631.6,150.5 631.8,150.7 632.0,149.6 632.2,150.0 632.4,151.0 632.5,151.1 632.7,151.0 632.9,151.1 633.1,151.4 633.3,151.4 633.5,151.7 633.7,151.3 633.9,150.5 634.1,151.0 634.3,151.1 634.5,150.6 634.7,150.9 634.9,151.1 635.1,151.3 635.2,151.1 635.4,151.3 635.6,151.1 635.8,150.9 636.0,150.7 636.2,151.0 636.4,151.7 636.6,152.1 636.8,152.1 637.0,151.9 637.2,151.4 637.4,152.1 637.6,152.8 637.8,152.0 638.0,151.7 638.1,152.2 638.3,152.0 638.5,152.5 638.7,152.2 638.9,152.1 639.1,152.0 639.3,152.1 639.5,152.4 639.7,152.1 639.9,152.4 640.1,152.2 640.3,152.0 640.5,152.6 640.7,152.4 640.8,151.7 641.0,151.9 641.2,152.8 641.4,152.9 641.6,152.6 641.8,152.9 642.0,152.9 642.2,153.2 642.4,152.9 642.6,153.3 642.8,152.9 643.0,152.7 643.2,153.3 643.4,153.8 643.5,153.9 643.7,153.7 643.9,152.9 644.1,153.8 644.3,153.8 644.5,153.2 644.7,153.0 644.9,152.6 645.1,152.5 645.3,152.9 645.5,153.3 645.7,153.6 645.9,153.4 646.1,153.0 646.3,153.0 646.4,153.4 646.6,154.1 646.8,154.1 647.0,154.0 647.2,154.0 647.4,154.0 647.6,153.4 647.8,152.9 648.0,152.9 648.2,153.7 648.4,153.9 648.6,153.8 648.8,153.9 649.0,154.1 649.1,153.9 649.3,154.6 649.5,154.6 649.7,154.7 649.9,154.2 650.1,154.6 650.3,154.7 650.5,154.4 650.7,154.5 650.9,154.2 651.1,154.0 651.3,153.7 651.5,154.6 651.7,154.7 651.8,154.2 652.0,154.2 652.2,154.2 652.4,154.3 652.6,154.1 652.8,154.0 653.0,154.1 653.2,154.8 653.4,154.7 653.6,154.6 653.8,154.6 654.0,154.9 654.2,154.7 654.4,155.0 654.6,154.5 654.7,154.7 654.9,155.4 655.1,155.2 655.3,155.5 655.5,155.1 655.7,155.5 655.9,155.2 656.1,155.3 656.3,155.9 656.5,155.9 656.7,155.2 656.9,155.1 657.1,154.8 657.3,154.7 657.4,154.1 657.6,154.6 657.8,154.5 658.0,155.0 658.2,155.2 658.4,155.3 658.6,155.7 658.8,155.6 659.0,155.0 659.2,155.5 659.4,156.0 659.6,155.6 659.8,155.9 660.0,155.6 660.1,155.1 660.3,154.8 660.5,154.7 660.7,155.0 660.9,155.3 661.1,155.5 661.3,155.7 661.5,155.6 661.7,155.1 661.9,155.5 662.1,155.4 662.3,155.7 662.5,156.0 662.7,157.0 662.9,156.5 663.0,156.2 663.2,155.5 663.4,155.5 663.6,156.3 663.8,156.3 664.0,155.9 664.2,156.1 664.4,156.2 664.6,156.2 664.8,156.6 665.0,156.0 665.2,156.5 665.4,157.7 665.6,157.3 665.7,156.4 665.9,155.8 666.1,156.6 666.3,157.1 666.5,156.3 666.7,156.4 666.9,156.6 667.1,156.5 667.3,156.9 667.5,156.8 667.7,156.5 667.9,156.5 668.1,156.6 668.3,156.8 668.4,156.6 668.6,157.6 668.8,157.7 669.0,157.1 669.2,157.2 669.4,157.1 669.6,157.2 669.8,157.4 670.0,157.7 670.2,157.2 670.4,156.9 670.6,157.3 670.8,156.6 671.0,156.7 671.2,157.5 671.3,157.4 671.5,157.9 671.7,157.9 671.9,158.1 672.1,158.2 672.3,158.5 672.5,158.1 672.7,158.3 672.9,158.5 673.1,158.7 673.3,157.8 673.5,157.2 673.7,157.8 673.9,158.2 674.0,158.5 674.2,158.4 674.4,158.6 674.6,158.8" fill="none" stroke="#1ef21e" stroke-width="0.9" stroke-linejoin="round"/>
<line x1="517.40" y1="31.50" x2="551.00" y2="31.50" stroke="#ff1a1a" stroke-width="1.5"/>
<path d="M549,28.2 L557,31.5 L549,34.8 z" fill="#ff1a1a"/>
<text x="559.50" y="36.20" font-size="14.5" text-anchor="start" fill="#ff1a1a" stroke="#ff1a1a" stroke-width="0.3">red-shift</text>
<rect x="617.8" y="43" width="49" height="98" fill="#fff" stroke="#777" stroke-width="0.8"/>
<line x1="619.00" y1="48.10" x2="635.50" y2="48.10" stroke="#222222" stroke-width="1.1"/>
<text x="637.40" y="50.80" font-size="7.4" text-anchor="start" fill="#111" stroke="#111" stroke-width="0.15">1 atm</text>
<line x1="619.00" y1="56.93" x2="635.50" y2="56.93" stroke="#3a4a3a" stroke-width="1.1"/>
<text x="637.40" y="59.63" font-size="7.4" text-anchor="start" fill="#333" stroke="#333" stroke-width="0.15">1.1 GPa</text>
<line x1="619.00" y1="65.76" x2="635.50" y2="65.76" stroke="#2a5a2a" stroke-width="1.1"/>
<text x="637.40" y="68.46" font-size="7.4" text-anchor="start" fill="#2a4a2a" stroke="#2a4a2a" stroke-width="0.15">2.0GPa</text>
<line x1="619.00" y1="74.59" x2="635.50" y2="74.59" stroke="#2a6a2a" stroke-width="1.1"/>
<text x="637.40" y="77.29" font-size="7.4" text-anchor="start" fill="#2a5a2a" stroke="#2a5a2a" stroke-width="0.15">3.3GPa</text>
<line x1="619.00" y1="83.42" x2="635.50" y2="83.42" stroke="#2a7a2a" stroke-width="1.1"/>
<text x="637.40" y="86.12" font-size="7.4" text-anchor="start" fill="#2a6a2a" stroke="#2a6a2a" stroke-width="0.15">3.9GPa</text>
<line x1="619.00" y1="92.25" x2="635.50" y2="92.25" stroke="#2a8a2a" stroke-width="1.1"/>
<text x="637.40" y="94.95" font-size="7.4" text-anchor="start" fill="#2a7a2a" stroke="#2a7a2a" stroke-width="0.15">4.6GPa</text>
<line x1="619.00" y1="101.08" x2="635.50" y2="101.08" stroke="#2a9a2a" stroke-width="1.1"/>
<text x="637.40" y="103.78" font-size="7.4" text-anchor="start" fill="#2a8a2a" stroke="#2a8a2a" stroke-width="0.15">5.6GPa</text>
<line x1="619.00" y1="109.91" x2="635.50" y2="109.91" stroke="#2aaa2a" stroke-width="1.1"/>
<text x="637.40" y="112.61" font-size="7.4" text-anchor="start" fill="#2a9a2a" stroke="#2a9a2a" stroke-width="0.15">6.5GPa</text>
<line x1="619.00" y1="118.74" x2="635.50" y2="118.74" stroke="#2ab82a" stroke-width="1.1"/>
<text x="637.40" y="121.44" font-size="7.4" text-anchor="start" fill="#2aaa2a" stroke="#2aaa2a" stroke-width="0.15">7.8GPa</text>
<line x1="619.00" y1="127.57" x2="635.50" y2="127.57" stroke="#33cc33" stroke-width="1.1"/>
<text x="637.40" y="130.27" font-size="7.4" text-anchor="start" fill="#2ab82a" stroke="#2ab82a" stroke-width="0.15">9.0GPa</text>
<line x1="619.00" y1="136.40" x2="635.50" y2="136.40" stroke="#3ae03a" stroke-width="1.1"/>
<text x="637.40" y="139.10" font-size="7.4" text-anchor="start" fill="#33cc33" stroke="#33cc33" stroke-width="0.15">10.6GPa</text>
<rect x="43.90" y="219.60" width="173.70" height="180.20" fill="none" stroke="#3a3a3a" stroke-width="1.1"/>
<line x1="102.47" y1="399.80" x2="102.47" y2="402.80" stroke="#3a3a3a" stroke-width="1"/>
<line x1="180.58" y1="399.80" x2="180.58" y2="402.80" stroke="#3a3a3a" stroke-width="1"/>
<line x1="63.42" y1="399.80" x2="63.42" y2="401.80" stroke="#3a3a3a" stroke-width="1"/>
<line x1="141.53" y1="399.80" x2="141.53" y2="401.80" stroke="#3a3a3a" stroke-width="1"/>
<line x1="219.62" y1="399.80" x2="219.62" y2="401.80" stroke="#3a3a3a" stroke-width="1"/>
<text x="102.47" y="416.30" font-size="10.5" text-anchor="middle" fill="#222" stroke="#222" stroke-width="0.3">600</text>
<text x="180.58" y="416.30" font-size="10.5" text-anchor="middle" fill="#222" stroke="#222" stroke-width="0.3">800</text>
<line x1="40.90" y1="399.80" x2="43.90" y2="399.80" stroke="#3a3a3a" stroke-width="1"/>
<line x1="40.90" y1="339.72" x2="43.90" y2="339.72" stroke="#3a3a3a" stroke-width="1"/>
<line x1="40.90" y1="279.64" x2="43.90" y2="279.64" stroke="#3a3a3a" stroke-width="1"/>
<line x1="40.90" y1="219.56" x2="43.90" y2="219.56" stroke="#3a3a3a" stroke-width="1"/>
<line x1="41.90" y1="369.76" x2="43.90" y2="369.76" stroke="#3a3a3a" stroke-width="1"/>
<line x1="41.90" y1="309.68" x2="43.90" y2="309.68" stroke="#3a3a3a" stroke-width="1"/>
<line x1="41.90" y1="249.60" x2="43.90" y2="249.60" stroke="#3a3a3a" stroke-width="1"/>
<text x="37.50" y="403.40" font-size="10.5" text-anchor="end" fill="#222" stroke="#222" stroke-width="0.3">0.0</text>
<text x="37.50" y="343.32" font-size="10.5" text-anchor="end" fill="#222" stroke="#222" stroke-width="0.3">0.4</text>
<text x="37.50" y="283.24" font-size="10.5" text-anchor="end" fill="#222" stroke="#222" stroke-width="0.3">0.8</text>
<text x="37.50" y="223.16" font-size="10.5" text-anchor="end" fill="#222" stroke="#222" stroke-width="0.3">1.2</text>
<text x="131.00" y="430.00" font-size="10.5" text-anchor="middle" fill="#222" stroke="#222" stroke-width="0.3">Wavelength/nm</text>
<text x="12.20" y="309.00" font-size="10.2" text-anchor="middle" fill="#222" stroke="#222" stroke-width="0.3" transform="rotate(-90 12.2 309)">Normalized intensity</text>
<text x="0.3" y="228" font-size="13" fill="#222" stroke="#222" stroke-width="0.3"><tspan fill="#8a8a8a" stroke="none">(</tspan><tspan dx="0.9">d</tspan><tspan dx="0.2" fill="#8a8a8a" stroke="none">)</tspan></text>
<polyline points="43.9,399.8 44.3,399.8 44.8,399.8 45.2,399.8 45.7,399.8 46.1,399.8 46.5,399.8 47.0,399.8 47.4,399.8 47.9,399.8 48.3,399.8 48.7,399.8 49.2,399.8 49.6,399.8 50.1,399.8 50.5,399.8 50.9,399.8 51.4,399.8 51.8,399.8 52.3,399.8 52.7,399.8 53.1,399.8 53.6,399.8 54.0,399.8 54.5,399.8 54.9,399.8 55.4,399.8 55.8,399.8 56.2,399.8 56.7,399.8 57.1,399.8 57.6,399.8 58.0,399.8 58.4,399.8 58.9,399.8 59.3,399.8 59.8,399.8 60.2,399.8 60.6,399.8 61.1,399.8 61.5,399.8 62.0,399.8 62.4,399.7 62.8,399.7 63.3,399.7 63.7,399.7 64.2,399.7 64.6,399.6 65.0,399.6 65.5,399.6 65.9,399.5 66.4,399.5 66.8,399.4 67.2,399.4 67.7,399.3 68.1,399.2 68.6,399.1 69.0,399.0 69.4,398.9 69.9,398.7 70.3,398.5 70.8,398.3 71.2,398.1 71.6,397.9 72.1,397.6 72.5,397.3 73.0,397.0 73.4,396.6 73.8,396.2 74.3,395.7 74.7,395.2 75.2,394.6 75.6,394.0 76.1,393.3 76.5,392.6 76.9,391.8 77.4,390.9 77.8,390.0 78.3,388.9 78.7,387.8 79.1,386.6 79.6,385.4 80.0,384.0 80.5,382.6 80.9,381.0 81.3,379.4 81.8,377.6 82.2,375.8 82.7,373.8 83.1,371.8 83.5,369.7 84.0,367.4 84.4,365.1 84.9,362.6 85.3,360.1 85.7,357.4 86.2,354.7 86.6,351.9 87.1,349.0 87.5,346.0 87.9,343.0 88.4,339.8 88.8,336.7 89.3,333.4 89.7,330.1 90.1,326.8 90.6,323.4 91.0,320.1 91.5,316.7 91.9,313.2 92.3,309.8 92.8,306.4 93.2,303.1 93.7,299.7 94.1,296.4 94.5,293.2 95.0,290.0 95.4,286.8 95.9,283.8 96.3,280.8 96.7,278.0 97.2,275.2 97.6,272.6 98.1,270.0 98.5,267.6 99.0,265.4 99.4,263.3 99.8,261.3 100.3,259.5 100.7,257.8 101.2,256.3 101.6,255.0 102.0,253.8 102.5,252.8 102.9,252.0 103.4,251.3 103.8,250.8 104.2,250.5 104.7,250.4 105.1,250.4 105.6,250.5 106.0,250.8 106.4,251.3 106.9,251.8 107.3,252.5 107.8,253.3 108.2,254.2 108.6,255.2 109.1,256.3 109.5,257.5 110.0,258.7 110.4,260.1 110.8,261.6 111.3,263.1 111.7,264.7 112.2,266.4 112.6,268.1 113.0,269.9 113.5,271.7 113.9,273.6 114.4,275.6 114.8,277.5 115.2,279.5 115.7,281.6 116.1,283.6 116.6,285.7 117.0,287.8 117.4,289.9 117.9,292.0 118.3,294.1 118.8,296.3 119.2,298.4 119.7,300.5 120.1,302.6 120.5,304.8 121.0,306.9 121.4,309.0 121.9,311.0 122.3,313.1 122.7,315.1 123.2,317.2 123.6,319.2 124.1,321.1 124.5,323.1 124.9,325.0 125.4,326.9 125.8,328.8 126.3,330.7 126.7,332.5 127.1,334.3 127.6,336.0 128.0,337.8 128.5,339.4 128.9,341.1 129.3,342.7 129.8,344.3 130.2,345.9 130.7,347.4 131.1,348.9 131.5,350.4 132.0,351.8 132.4,353.2 132.9,354.6 133.3,355.9 133.7,357.3 134.2,358.5 134.6,359.8 135.1,361.0 135.5,362.2 135.9,363.3 136.4,364.4 136.8,365.5 137.3,366.6 137.7,367.6 138.1,368.6 138.6,369.6 139.0,370.6 139.5,371.5 139.9,372.4 140.4,373.2 140.8,374.1 141.2,374.9 141.7,375.7 142.1,376.5 142.6,377.2 143.0,378.0 143.4,378.7 143.9,379.4 144.3,380.0 144.8,380.7 145.2,381.3 145.6,381.9 146.1,382.5 146.5,383.1 147.0,383.6 147.4,384.2 147.8,384.7 148.3,385.2 148.7,385.7 149.2,386.1 149.6,386.6 150.0,387.0 150.5,387.5 150.9,387.9 151.4,388.3 151.8,388.7 152.2,389.0 152.7,389.4 153.1,389.8 153.6,390.1 154.0,390.4 154.4,390.7 154.9,391.0 155.3,391.3 155.8,391.6 156.2,391.9 156.6,392.2 157.1,392.4 157.5,392.7 158.0,392.9 158.4,393.1 158.8,393.4 159.3,393.6 159.7,393.8 160.2,394.0 160.6,394.2 161.1,394.4 161.5,394.6 161.9,394.7 162.4,394.9 162.8,395.1 163.3,395.2 163.7,395.4 164.1,395.5 164.6,395.7 165.0,395.8 165.5,396.0 165.9,396.1 166.3,396.2 166.8,396.3 167.2,396.5 167.7,396.6 168.1,396.7 168.5,396.8 169.0,396.9 169.4,397.0 169.9,397.1 170.3,397.2 170.7,397.3 171.2,397.3 171.6,397.4 172.1,397.5 172.5,397.6 172.9,397.7 173.4,397.7 173.8,397.8 174.3,397.9 174.7,397.9 175.1,398.0 175.6,398.0 176.0,398.1 176.5,398.2 176.9,398.2 177.3,398.3 177.8,398.3 178.2,398.4 178.7,398.4 179.1,398.5 179.5,398.5 180.0,398.5 180.4,398.6 180.9,398.6 181.3,398.7 181.7,398.7 182.2,398.7 182.6,398.8 183.1,398.8 183.5,398.8 184.0,398.9 184.4,398.9 184.8,398.9 185.3,399.0 185.7,399.0 186.2,399.0 186.6,399.0 187.0,399.1 187.5,399.1 187.9,399.1 188.4,399.1 188.8,399.2 189.2,399.2 189.7,399.2 190.1,399.2 190.6,399.2 191.0,399.2 191.4,399.3 191.9,399.3 192.3,399.3 192.8,399.3 193.2,399.3 193.6,399.3 194.1,399.4 194.5,399.4 195.0,399.4 195.4,399.4 195.8,399.4 196.3,399.4 196.7,399.4 197.2,399.4 197.6,399.5 198.0,399.5 198.5,399.5 198.9,399.5 199.4,399.5 199.8,399.5 200.2,399.5 200.7,399.5 201.1,399.5 201.6,399.5 202.0,399.5 202.4,399.6 202.9,399.6 203.3,399.6 203.8,399.6 204.2,399.6 204.7,399.6 205.1,399.6 205.5,399.6 206.0,399.6 206.4,399.6 206.9,399.6 207.3,399.6 207.7,399.6 208.2,399.6 208.6,399.6 209.1,399.6 209.5,399.6 209.9,399.7 210.4,399.7 210.8,399.7 211.3,399.7 211.7,399.7 212.1,399.7 212.6,399.7 213.0,399.7 213.5,399.7 213.9,399.7 214.3,399.7 214.8,399.7 215.2,399.7 215.7,399.7 216.1,399.7 216.5,399.7 217.0,399.7 217.4,399.7 217.9,399.7 218.3,399.7 218.7,399.7 219.2,399.7 219.6,399.7" fill="none" stroke="#2a8a2a" stroke-width="1.4" stroke-linejoin="round"/>
<polyline points="43.9,399.8 44.3,399.8 44.8,399.8 45.2,399.8 45.7,399.8 46.1,399.8 46.5,399.8 47.0,399.8 47.4,399.8 47.9,399.8 48.3,399.8 48.7,399.8 49.2,399.8 49.6,399.8 50.1,399.8 50.5,399.8 50.9,399.8 51.4,399.8 51.8,399.8 52.3,399.8 52.7,399.8 53.1,399.8 53.6,399.8 54.0,399.8 54.5,399.8 54.9,399.8 55.4,399.8 55.8,399.8 56.2,399.8 56.7,399.8 57.1,399.8 57.6,399.8 58.0,399.8 58.4,399.8 58.9,399.8 59.3,399.8 59.8,399.8 60.2,399.8 60.6,399.8 61.1,399.7 61.5,399.7 62.0,399.7 62.4,399.7 62.8,399.7 63.3,399.6 63.7,399.6 64.2,399.6 64.6,399.5 65.0,399.4 65.5,399.4 65.9,399.3 66.4,399.2 66.8,399.1 67.2,398.9 67.7,398.8 68.1,398.6 68.6,398.4 69.0,398.2 69.4,397.9 69.9,397.6 70.3,397.2 70.8,396.8 71.2,396.4 71.6,395.9 72.1,395.3 72.5,394.7 73.0,394.0 73.4,393.3 73.8,392.4 74.3,391.5 74.7,390.5 75.2,389.4 75.6,388.1 76.1,386.8 76.5,385.4 76.9,383.8 77.4,382.2 77.8,380.4 78.3,378.5 78.7,376.4 79.1,374.3 79.6,372.0 80.0,369.5 80.5,367.0 80.9,364.3 81.3,361.5 81.8,358.5 82.2,355.5 82.7,352.3 83.1,349.0 83.5,345.6 84.0,342.1 84.4,338.5 84.9,334.9 85.3,331.1 85.7,327.3 86.2,323.5 86.6,319.6 87.1,315.8 87.5,311.9 87.9,308.0 88.4,304.1 88.8,300.3 89.3,296.5 89.7,292.7 90.1,289.1 90.6,285.5 91.0,282.1 91.5,278.8 91.9,275.6 92.3,272.5 92.8,269.6 93.2,266.9 93.7,264.4 94.1,262.0 94.5,259.9 95.0,257.9 95.4,256.2 95.9,254.7 96.3,253.4 96.7,252.3 97.2,251.5 97.6,250.9 98.1,250.5 98.5,250.4 99.0,250.4 99.4,250.5 99.8,250.7 100.3,250.9 100.7,251.3 101.2,251.7 101.6,252.1 102.0,252.7 102.5,253.3 102.9,254.0 103.4,254.7 103.8,255.6 104.2,256.4 104.7,257.4 105.1,258.4 105.6,259.4 106.0,260.5 106.4,261.7 106.9,262.9 107.3,264.1 107.8,265.4 108.2,266.7 108.6,268.1 109.1,269.5 109.5,271.0 110.0,272.5 110.4,274.0 110.8,275.5 111.3,277.1 111.7,278.7 112.2,280.3 112.6,282.0 113.0,283.6 113.5,285.3 113.9,287.0 114.4,288.7 114.8,290.5 115.2,292.2 115.7,293.9 116.1,295.7 116.6,297.5 117.0,299.2 117.4,301.0 117.9,302.7 118.3,304.5 118.8,306.3 119.2,308.0 119.7,309.8 120.1,311.5 120.5,313.2 121.0,315.0 121.4,316.7 121.9,318.4 122.3,320.1 122.7,321.8 123.2,323.4 123.6,325.1 124.1,326.7 124.5,328.3 124.9,329.9 125.4,331.5 125.8,333.1 126.3,334.6 126.7,336.2 127.1,337.7 127.6,339.2 128.0,340.6 128.5,342.1 128.9,343.5 129.3,344.9 129.8,346.3 130.2,347.6 130.7,348.9 131.1,350.3 131.5,351.5 132.0,352.8 132.4,354.0 132.9,355.3 133.3,356.5 133.7,357.6 134.2,358.8 134.6,359.9 135.1,361.0 135.5,362.1 135.9,363.1 136.4,364.2 136.8,365.2 137.3,366.2 137.7,367.1 138.1,368.1 138.6,369.0 139.0,369.9 139.5,370.8 139.9,371.6 140.4,372.5 140.8,373.3 141.2,374.1 141.7,374.9 142.1,375.6 142.6,376.4 143.0,377.1 143.4,377.8 143.9,378.5 144.3,379.1 144.8,379.8 145.2,380.4 145.6,381.0 146.1,381.6 146.5,382.2 147.0,382.8 147.4,383.3 147.8,383.9 148.3,384.4 148.7,384.9 149.2,385.4 149.6,385.8 150.0,386.3 150.5,386.8 150.9,387.2 151.4,387.6 151.8,388.0 152.2,388.4 152.7,388.8 153.1,389.2 153.6,389.5 154.0,389.9 154.4,390.2 154.9,390.5 155.3,390.9 155.8,391.2 156.2,391.5 156.6,391.8 157.1,392.0 157.5,392.3 158.0,392.6 158.4,392.8 158.8,393.1 159.3,393.3 159.7,393.5 160.2,393.8 160.6,394.0 161.1,394.2 161.5,394.4 161.9,394.6 162.4,394.8 162.8,395.0 163.3,395.1 163.7,395.3 164.1,395.5 164.6,395.6 165.0,395.8 165.5,395.9 165.9,396.1 166.3,396.2 166.8,396.3 167.2,396.5 167.7,396.6 168.1,396.7 168.5,396.8 169.0,396.9 169.4,397.0 169.9,397.1 170.3,397.2 170.7,397.3 171.2,397.4 171.6,397.5 172.1,397.6 172.5,397.7 172.9,397.8 173.4,397.8 173.8,397.9 174.3,398.0 174.7,398.1 175.1,398.1 175.6,398.2 176.0,398.2 176.5,398.3 176.9,398.4 177.3,398.4 177.8,398.5 178.2,398.5 178.7,398.6 179.1,398.6 179.5,398.7 180.0,398.7 180.4,398.7 180.9,398.8 181.3,398.8 181.7,398.9 182.2,398.9 182.6,398.9 183.1,399.0 183.5,399.0 184.0,399.0 184.4,399.1 184.8,399.1 185.3,399.1 185.7,399.1 186.2,399.2 186.6,399.2 187.0,399.2 187.5,399.2 187.9,399.3 188.4,399.3 188.8,399.3 189.2,399.3 189.7,399.3 190.1,399.4 190.6,399.4 191.0,399.4 191.4,399.4 191.9,399.4 192.3,399.4 192.8,399.5 193.2,399.5 193.6,399.5 194.1,399.5 194.5,399.5 195.0,399.5 195.4,399.5 195.8,399.5 196.3,399.6 196.7,399.6 197.2,399.6 197.6,399.6 198.0,399.6 198.5,399.6 198.9,399.6 199.4,399.6 199.8,399.6 200.2,399.6 200.7,399.6 201.1,399.6 201.6,399.6 202.0,399.7 202.4,399.7 202.9,399.7 203.3,399.7 203.8,399.7 204.2,399.7 204.7,399.7 205.1,399.7 205.5,399.7 206.0,399.7 206.4,399.7 206.9,399.7 207.3,399.7 207.7,399.7 208.2,399.7 208.6,399.7 209.1,399.7 209.5,399.7 209.9,399.7 210.4,399.7 210.8,399.7 211.3,399.7 211.7,399.7 212.1,399.7 212.6,399.7 213.0,399.7 213.5,399.7 213.9,399.8 214.3,399.8 214.8,399.8 215.2,399.8 215.7,399.8 216.1,399.8 216.5,399.8 217.0,399.8 217.4,399.8 217.9,399.8 218.3,399.8 218.7,399.8 219.2,399.8 219.6,399.8" fill="none" stroke="#f08a20" stroke-width="1.4" stroke-linejoin="round"/>
<text x="78.50" y="242.00" font-size="14.5" text-anchor="start" fill="#111" stroke="#111" stroke-width="0.3" font-style="italic">Grinding</text>
<line x1="96.00" y1="245.40" x2="108.60" y2="245.40" stroke="#1a1aff" stroke-width="1.6"/>
<path d="M92.5,245.4 L97.5,242.6 L97.5,248.2 z" fill="#1a1aff"/>
<defs><radialGradient id="gin1" cx="0.5" cy="0.5" r="0.55"><stop offset="0" stop-color="#f0a030"/><stop offset="0.45" stop-color="#d87818"/><stop offset="0.8" stop-color="#5a2a08"/><stop offset="1" stop-color="#1a0a02"/></radialGradient><radialGradient id="gin2" cx="0.5" cy="0.45" r="0.6"><stop offset="0" stop-color="#e0a040"/><stop offset="0.5" stop-color="#b86018"/><stop offset="1" stop-color="#3a1a08"/></radialGradient></defs>
<rect x="128.8" y="281" width="29.1" height="30.4" fill="#050200"/>
<g filter="url(#bl05)"><circle cx="140" cy="288" r="4.5" fill="#e89020"/><circle cx="146" cy="291" r="5" fill="#f0a028"/><circle cx="137" cy="296" r="5.5" fill="#e89020"/><circle cx="145" cy="298" r="6" fill="#e8941e"/><circle cx="152" cy="300" r="4.5" fill="#d88018"/><circle cx="140" cy="303" r="4" fill="#d07818"/><circle cx="134" cy="300" r="3.5" fill="#c87018"/><circle cx="149" cy="294" r="3.5" fill="#f8b030"/><circle cx="141" cy="294" r="3" fill="#ffc040"/><circle cx="136" cy="307" r="2.5" fill="#b06010"/><circle cx="150" cy="305" r="3" fill="#c87018"/><path d="M141,292 l3,3 l-2,3 M146,299 l3,2" stroke="#804008" stroke-width="0.8" fill="none"/></g>
<rect x="176.3" y="281" width="30" height="30.4" fill="#5a1e06"/>
<g filter="url(#bl1)" clip-path="url(#clipin2)"><circle cx="190" cy="292" r="8" fill="#a04810"/><circle cx="186" cy="290" r="4" fill="#d08a20"/><circle cx="192" cy="296" r="5" fill="#c87818"/><circle cx="188" cy="287" r="3" fill="#e8b030"/><circle cx="193" cy="297" r="3" fill="#e0a828"/><circle cx="181" cy="300" r="4" fill="#8a3a0c"/><circle cx="200" cy="300" r="4.5" fill="#8a3a0c"/><circle cx="186" cy="305" r="4" fill="#b05a14"/><circle cx="199" cy="287" r="3.5" fill="#9a4a10"/><circle cx="181" cy="285" r="3" fill="#7a300a"/><circle cx="203" cy="307" r="3" fill="#3a1004"/></g>
<defs><clipPath id="clipin2"><rect x="176.3" y="281" width="30" height="30.4"/></clipPath></defs>
<line x1="163.00" y1="297.60" x2="176.30" y2="297.60" stroke="#1a1aff" stroke-width="1.5"/>
<path d="M158.5,297.6 L163.8,294.9 L163.8,300.3 z" fill="#1a1aff"/>
<text x="171.00" y="333.00" font-size="14.5" text-anchor="middle" fill="#1a1aff" stroke="#1a1aff" stroke-width="0.3">(~ 16 nm)</text>
<text x="172.00" y="348.50" font-size="14" text-anchor="middle" fill="#1a1aff" stroke="#1a1aff" stroke-width="0.3">blue-shift</text>
<rect x="265.4" y="218.8" width="178.8" height="25.4" fill="#050303"/>
<rect x="265.4" y="218.6" width="178.8" height="1.3" fill="#777"/>
<defs><radialGradient id="gsp"><stop offset="0" stop-color="#fff0a0"/><stop offset="0.35" stop-color="#ffc030"/><stop offset="0.75" stop-color="#c06010"/><stop offset="1" stop-color="#200800" stop-opacity="0"/></radialGradient><radialGradient id="gsp2"><stop offset="0" stop-color="#ffb030"/><stop offset="0.5" stop-color="#c05010"/><stop offset="1" stop-color="#200500" stop-opacity="0"/></radialGradient><radialGradient id="gsp3"><stop offset="0" stop-color="#d04010"/><stop offset="0.55" stop-color="#701808"/><stop offset="1" stop-color="#200500" stop-opacity="0"/></radialGradient><radialGradient id="gsp4"><stop offset="0" stop-color="#901808"/><stop offset="0.6" stop-color="#400a04"/><stop offset="1" stop-color="#100200" stop-opacity="0"/></radialGradient><linearGradient id="gcomp" x1="0" x2="1" y1="0" y2="0"><stop offset="0" stop-color="#ffe870"/><stop offset="0.35" stop-color="#f8c040"/><stop offset="0.6" stop-color="#d88018"/><stop offset="0.85" stop-color="#904010"/><stop offset="1" stop-color="#6a1a0a"/></linearGradient></defs>
<defs><radialGradient id="gse0"><stop offset="0" stop-color="#fff0a0"/><stop offset="0.4" stop-color="#ffc030"/><stop offset="0.8" stop-color="#c06010"/><stop offset="1" stop-color="#100400" stop-opacity="0"/></radialGradient><radialGradient id="gse1"><stop offset="0" stop-color="#ffd060"/><stop offset="0.4" stop-color="#e88a20"/><stop offset="0.8" stop-color="#803008"/><stop offset="1" stop-color="#100400" stop-opacity="0"/></radialGradient><radialGradient id="gse2"><stop offset="0" stop-color="#f8a040"/><stop offset="0.4" stop-color="#c86018"/><stop offset="0.8" stop-color="#602008"/><stop offset="1" stop-color="#100400" stop-opacity="0"/></radialGradient><radialGradient id="gse3"><stop offset="0" stop-color="#e06030"/><stop offset="0.4" stop-color="#a03010"/><stop offset="0.8" stop-color="#401005"/><stop offset="1" stop-color="#100400" stop-opacity="0"/></radialGradient><radialGradient id="gse4"><stop offset="0" stop-color="#c03020"/><stop offset="0.4" stop-color="#801808"/><stop offset="0.8" stop-color="#300804"/><stop offset="1" stop-color="#100400" stop-opacity="0"/></radialGradient><radialGradient id="gse5"><stop offset="0" stop-color="#b02818"/><stop offset="0.4" stop-color="#701408"/><stop offset="0.8" stop-color="#280604"/><stop offset="1" stop-color="#100400" stop-opacity="0"/></radialGradient><radialGradient id="gse6"><stop offset="0" stop-color="#901810"/><stop offset="0.4" stop-color="#501008"/><stop offset="0.8" stop-color="#200403"/><stop offset="1" stop-color="#100400" stop-opacity="0"/></radialGradient><radialGradient id="gse7"><stop offset="0" stop-color="#601008"/><stop offset="0.4" stop-color="#400804"/><stop offset="0.8" stop-color="#180302"/><stop offset="1" stop-color="#100400" stop-opacity="0"/></radialGradient><radialGradient id="gse8"><stop offset="0" stop-color="#401008"/><stop offset="0.4" stop-color="#280604"/><stop offset="0.8" stop-color="#100201"/><stop offset="1" stop-color="#100400" stop-opacity="0"/></radialGradient><radialGradient id="gse9"><stop offset="0" stop-color="#fff0a0"/><stop offset="0.4" stop-color="#ffc030"/><stop offset="0.8" stop-color="#c06010"/><stop offset="1" stop-color="#100400" stop-opacity="0"/></radialGradient></defs>
<circle cx="278.2" cy="228.2" r="7.6" fill="url(#gse0)" opacity="1.0"/>
<circle cx="294.2" cy="228.4" r="7.2" fill="url(#gse1)" opacity="0.95"/>
<circle cx="310.8" cy="228.4" r="7.0" fill="url(#gse2)" opacity="0.9"/>
<circle cx="326.5" cy="228.4" r="6.8" fill="url(#gse3)" opacity="0.85"/>
<circle cx="343.5" cy="228.4" r="6.5" fill="url(#gse4)" opacity="0.8"/>
<circle cx="357.5" cy="228.4" r="6.2" fill="url(#gse5)" opacity="0.75"/>
<circle cx="374" cy="228.4" r="5.8" fill="url(#gse6)" opacity="0.65"/>
<circle cx="391" cy="228.4" r="5.5" fill="url(#gse7)" opacity="0.5"/>
<circle cx="407" cy="228.4" r="5" fill="url(#gse8)" opacity="0.4"/>
<circle cx="422" cy="229.8" r="7.8" fill="url(#gse9)" opacity="1.0"/>
<text x="277.90" y="242.50" font-size="7.2" text-anchor="middle" fill="#e8e8e8" stroke="#e8e8e8" stroke-width="0.15">0.0</text>
<text x="293.50" y="242.50" font-size="7.2" text-anchor="middle" fill="#e8e8e8" stroke="#e8e8e8" stroke-width="0.15">1.0</text>
<text x="311.00" y="242.50" font-size="7.2" text-anchor="middle" fill="#e8e8e8" stroke="#e8e8e8" stroke-width="0.15">2.1</text>
<text x="326.50" y="242.50" font-size="7.2" text-anchor="middle" fill="#e8e8e8" stroke="#e8e8e8" stroke-width="0.15">3.0</text>
<text x="344.30" y="242.50" font-size="7.2" text-anchor="middle" fill="#e8e8e8" stroke="#e8e8e8" stroke-width="0.15">4.0</text>
<text x="357.50" y="242.50" font-size="7.2" text-anchor="middle" fill="#e8e8e8" stroke="#e8e8e8" stroke-width="0.15">5.0</text>
<text x="374.20" y="242.50" font-size="7.2" text-anchor="middle" fill="#e8e8e8" stroke="#e8e8e8" stroke-width="0.15">6.0</text>
<text x="391.60" y="242.50" font-size="7.2" text-anchor="middle" fill="#e8e8e8" stroke="#e8e8e8" stroke-width="0.15">7.1</text>
<text x="407.30" y="242.50" font-size="7.2" text-anchor="middle" fill="#e8e8e8" stroke="#e8e8e8" stroke-width="0.15">8.1</text>
<text x="428.50" y="242.50" font-size="7.2" text-anchor="middle" fill="#e8e8e8" stroke="#e8e8e8" stroke-width="0.15">Released</text>
<path d="M274.8,246 L429,246 L429,244.8 L435.5,248.8 L429,252.8 L429,251.6 L274.8,251.6 z" fill="url(#gcomp)"/>
<text x="352.00" y="251.00" font-size="7.2" text-anchor="middle" fill="#3a2000" stroke="#3a2000" stroke-width="0.15" font-weight="bold">Compression</text>
<rect x="265.70" y="244.10" width="178.50" height="159.80" fill="none" stroke="#3a3a3a" stroke-width="1.1"/>
<line x1="265.70" y1="403.90" x2="265.70" y2="406.40" stroke="#3a3a3a" stroke-width="1"/>
<line x1="310.25" y1="403.90" x2="310.25" y2="406.40" stroke="#3a3a3a" stroke-width="1"/>
<line x1="354.80" y1="403.90" x2="354.80" y2="406.40" stroke="#3a3a3a" stroke-width="1"/>
<line x1="399.35" y1="403.90" x2="399.35" y2="406.40" stroke="#3a3a3a" stroke-width="1"/>
<line x1="443.90" y1="403.90" x2="443.90" y2="406.40" stroke="#3a3a3a" stroke-width="1"/>
<text x="265.70" y="418.00" font-size="8" text-anchor="middle" fill="#222" stroke="#222" stroke-width="0.15">500</text>
<text x="310.25" y="418.00" font-size="8" text-anchor="middle" fill="#222" stroke="#222" stroke-width="0.15">600</text>
<text x="354.80" y="418.00" font-size="8" text-anchor="middle" fill="#222" stroke="#222" stroke-width="0.15">700</text>
<text x="399.35" y="418.00" font-size="8" text-anchor="middle" fill="#222" stroke="#222" stroke-width="0.15">800</text>
<text x="443.90" y="418.00" font-size="8" text-anchor="middle" fill="#222" stroke="#222" stroke-width="0.15">900</text>
<line x1="263.20" y1="298.80" x2="265.70" y2="298.80" stroke="#3a3a3a" stroke-width="1"/>
<line x1="263.20" y1="351.20" x2="265.70" y2="351.20" stroke="#3a3a3a" stroke-width="1"/>
<line x1="263.20" y1="403.60" x2="265.70" y2="403.60" stroke="#3a3a3a" stroke-width="1"/>
<text x="355.00" y="431.00" font-size="8" text-anchor="middle" fill="#222" stroke="#222" stroke-width="0.15">Wavelength/nm</text>
<text x="257.30" y="311.30" font-size="8.1" text-anchor="middle" fill="#222" stroke="#222" stroke-width="0.15" transform="rotate(-90 257.3 311.3)">PL emission intensity</text>
<text x="224.50" y="227.20" font-size="12.5" text-anchor="start" fill="#222" stroke="#222" stroke-width="0.3">(e)</text>
<polyline points="265.7,403.5 266.1,403.5 266.6,403.5 267.0,403.5 267.5,403.5 267.9,403.5 268.4,403.5 268.8,403.5 269.3,403.5 269.7,403.5 270.2,403.5 270.6,403.5 271.1,403.5 271.5,403.5 272.0,403.5 272.4,403.5 272.8,403.5 273.3,403.5 273.7,403.5 274.2,403.5 274.6,403.5 275.1,403.5 275.5,403.5 276.0,403.5 276.4,403.5 276.9,403.5 277.3,403.4 277.8,403.4 278.2,403.4 278.7,403.4 279.1,403.4 279.5,403.4 280.0,403.4 280.4,403.4 280.9,403.4 281.3,403.4 281.8,403.4 282.2,403.4 282.7,403.4 283.1,403.4 283.6,403.3 284.0,403.3 284.5,403.3 284.9,403.3 285.4,403.3 285.8,403.3 286.2,403.3 286.7,403.3 287.1,403.3 287.6,403.3 288.0,403.2 288.5,403.2 288.9,403.2 289.4,403.2 289.8,403.2 290.3,403.2 290.7,403.2 291.2,403.2 291.6,403.1 292.1,403.1 292.5,403.1 292.9,403.1 293.4,403.1 293.8,403.1 294.3,403.1 294.7,403.0 295.2,403.0 295.6,403.0 296.1,403.0 296.5,403.0 297.0,403.0 297.4,403.0 297.9,402.9 298.3,402.9 298.7,402.9 299.2,402.9 299.6,402.9 300.1,402.8 300.5,402.8 301.0,402.8 301.4,402.8 301.9,402.8 302.3,402.8 302.8,402.7 303.2,402.7 303.7,402.7 304.1,402.7 304.6,402.7 305.0,402.6 305.4,402.6 305.9,402.6 306.3,402.6 306.8,402.6 307.2,402.5 307.7,402.5 308.1,402.5 308.6,402.5 309.0,402.5 309.5,402.4 309.9,402.4 310.4,402.4 310.8,402.4 311.3,402.4 311.7,402.3 312.1,402.3 312.6,402.3 313.0,402.3 313.5,402.3 313.9,402.2 314.4,402.2 314.8,402.2 315.3,402.2 315.7,402.2 316.2,402.1 316.6,402.1 317.1,402.1 317.5,402.1 318.0,402.1 318.4,402.0 318.8,402.0 319.3,402.0 319.7,402.0 320.2,402.0 320.6,401.9 321.1,401.9 321.5,401.9 322.0,401.9 322.4,401.9 322.9,401.9 323.3,401.9 323.8,401.8 324.2,401.8 324.7,401.8 325.1,401.8 325.5,401.8 326.0,401.8 326.4,401.8 326.9,401.7 327.3,401.7 327.8,401.7 328.2,401.7 328.7,401.7 329.1,401.7 329.6,401.7 330.0,401.7 330.5,401.7 330.9,401.7 331.4,401.6 331.8,401.6 332.2,401.6 332.7,401.6 333.1,401.6 333.6,401.6 334.0,401.6 334.5,401.6 334.9,401.6 335.4,401.6 335.8,401.6 336.3,401.6 336.7,401.6 337.2,401.6 337.6,401.6 338.1,401.6 338.5,401.6 338.9,401.6 339.4,401.6 339.8,401.6 340.3,401.6 340.7,401.6 341.2,401.6 341.6,401.6 342.1,401.7 342.5,401.7 343.0,401.7 343.4,401.7 343.9,401.7 344.3,401.7 344.8,401.7 345.2,401.7 345.6,401.8 346.1,401.8 346.5,401.8 347.0,401.8 347.4,401.8 347.9,401.8 348.3,401.9 348.8,401.9 349.2,401.9 349.7,401.9 350.1,401.9 350.6,401.9 351.0,402.0 351.5,402.0 351.9,402.0 352.3,402.0 352.8,402.0 353.2,402.1 353.7,402.1 354.1,402.1 354.6,402.1 355.0,402.1 355.5,402.2 355.9,402.2 356.4,402.2 356.8,402.2 357.3,402.2 357.7,402.3 358.1,402.3 358.6,402.3 359.0,402.3 359.5,402.3 359.9,402.3 360.4,402.4 360.8,402.4 361.3,402.4 361.7,402.4 362.2,402.4 362.6,402.5 363.1,402.5 363.5,402.5 364.0,402.5 364.4,402.5 364.8,402.5 365.3,402.6 365.7,402.6 366.2,402.6 366.6,402.6 367.1,402.6 367.5,402.6 368.0,402.7 368.4,402.7 368.9,402.7 369.3,402.7 369.8,402.7 370.2,402.7 370.7,402.7 371.1,402.8 371.5,402.8 372.0,402.8 372.4,402.8 372.9,402.8 373.3,402.8 373.8,402.8 374.2,402.8 374.7,402.9 375.1,402.9 375.6,402.9 376.0,402.9 376.5,402.9 376.9,402.9 377.4,402.9 377.8,402.9 378.2,402.9 378.7,403.0 379.1,403.0 379.6,403.0 380.0,403.0 380.5,403.0 380.9,403.0 381.4,403.0 381.8,403.0 382.3,403.0 382.7,403.0 383.2,403.0 383.6,403.1 384.1,403.1 384.5,403.1 384.9,403.1 385.4,403.1 385.8,403.1 386.3,403.1 386.7,403.1 387.2,403.1 387.6,403.1 388.1,403.1 388.5,403.1 389.0,403.1 389.4,403.2 389.9,403.2 390.3,403.2 390.8,403.2 391.2,403.2 391.6,403.2 392.1,403.2 392.5,403.2 393.0,403.2 393.4,403.2 393.9,403.2 394.3,403.2 394.8,403.2 395.2,403.2 395.7,403.2 396.1,403.2 396.6,403.3 397.0,403.3 397.5,403.3 397.9,403.3 398.3,403.3 398.8,403.3 399.2,403.3 399.7,403.3 400.1,403.3 400.6,403.3 401.0,403.3 401.5,403.3 401.9,403.3 402.4,403.3 402.8,403.3 403.3,403.3 403.7,403.3 404.2,403.3 404.6,403.3 405.0,403.3 405.5,403.3 405.9,403.3 406.4,403.3 406.8,403.4 407.3,403.4 407.7,403.4 408.2,403.4 408.6,403.4 409.1,403.4 409.5,403.4 410.0,403.4 410.4,403.4 410.9,403.4 411.3,403.4 411.7,403.4 412.2,403.4 412.6,403.4 413.1,403.4 413.5,403.4 414.0,403.4 414.4,403.4 414.9,403.4 415.3,403.4 415.8,403.4 416.2,403.4 416.7,403.4 417.1,403.4 417.5,403.4 418.0,403.4 418.4,403.4 418.9,403.4 419.3,403.4 419.8,403.4 420.2,403.4 420.7,403.4 421.1,403.4 421.6,403.4 422.0,403.4 422.5,403.4 422.9,403.4 423.4,403.4 423.8,403.5 424.2,403.5 424.7,403.5 425.1,403.5 425.6,403.5 426.0,403.5 426.5,403.5 426.9,403.5 427.4,403.5 427.8,403.5 428.3,403.5 428.7,403.5 429.2,403.5 429.6,403.5 430.1,403.5 430.5,403.5 430.9,403.5 431.4,403.5 431.8,403.5 432.3,403.5 432.7,403.5 433.2,403.5 433.6,403.5 434.1,403.5 434.5,403.5 435.0,403.5 435.4,403.5 435.9,403.5 436.3,403.5 436.8,403.5 437.2,403.5 437.6,403.5 438.1,403.5 438.5,403.5 439.0,403.5 439.4,403.5 439.9,403.5 440.3,403.5 440.8,403.5 441.2,403.5 441.7,403.5 442.1,403.5 442.6,403.5 443.0,403.5 443.5,403.5 443.9,403.5" fill="none" stroke="#f08a60" stroke-width="1.1" stroke-linejoin="round"/>
<polyline points="265.7,403.5 266.1,403.5 266.6,403.5 267.0,403.5 267.5,403.5 267.9,403.5 268.4,403.5 268.8,403.5 269.3,403.5 269.7,403.5 270.2,403.5 270.6,403.5 271.1,403.4 271.5,403.4 272.0,403.4 272.4,403.4 272.8,403.4 273.3,403.4 273.7,403.4 274.2,403.4 274.6,403.4 275.1,403.4 275.5,403.4 276.0,403.4 276.4,403.3 276.9,403.3 277.3,403.3 277.8,403.3 278.2,403.3 278.7,403.3 279.1,403.3 279.5,403.3 280.0,403.3 280.4,403.2 280.9,403.2 281.3,403.2 281.8,403.2 282.2,403.2 282.7,403.2 283.1,403.2 283.6,403.1 284.0,403.1 284.5,403.1 284.9,403.1 285.4,403.1 285.8,403.0 286.2,403.0 286.7,403.0 287.1,403.0 287.6,403.0 288.0,402.9 288.5,402.9 288.9,402.9 289.4,402.9 289.8,402.9 290.3,402.8 290.7,402.8 291.2,402.8 291.6,402.8 292.1,402.7 292.5,402.7 292.9,402.7 293.4,402.7 293.8,402.6 294.3,402.6 294.7,402.6 295.2,402.6 295.6,402.5 296.1,402.5 296.5,402.5 297.0,402.4 297.4,402.4 297.9,402.4 298.3,402.3 298.7,402.3 299.2,402.3 299.6,402.2 300.1,402.2 300.5,402.2 301.0,402.1 301.4,402.1 301.9,402.1 302.3,402.0 302.8,402.0 303.2,402.0 303.7,401.9 304.1,401.9 304.6,401.9 305.0,401.8 305.4,401.8 305.9,401.8 306.3,401.7 306.8,401.7 307.2,401.6 307.7,401.6 308.1,401.6 308.6,401.5 309.0,401.5 309.5,401.5 309.9,401.4 310.4,401.4 310.8,401.3 311.3,401.3 311.7,401.3 312.1,401.2 312.6,401.2 313.0,401.2 313.5,401.1 313.9,401.1 314.4,401.1 314.8,401.0 315.3,401.0 315.7,401.0 316.2,400.9 316.6,400.9 317.1,400.8 317.5,400.8 318.0,400.8 318.4,400.8 318.8,400.7 319.3,400.7 319.7,400.7 320.2,400.6 320.6,400.6 321.1,400.6 321.5,400.5 322.0,400.5 322.4,400.5 322.9,400.5 323.3,400.4 323.8,400.4 324.2,400.4 324.7,400.4 325.1,400.3 325.5,400.3 326.0,400.3 326.4,400.3 326.9,400.3 327.3,400.2 327.8,400.2 328.2,400.2 328.7,400.2 329.1,400.2 329.6,400.2 330.0,400.2 330.5,400.1 330.9,400.1 331.4,400.1 331.8,400.1 332.2,400.1 332.7,400.1 333.1,400.1 333.6,400.1 334.0,400.1 334.5,400.1 334.9,400.1 335.4,400.1 335.8,400.1 336.3,400.1 336.7,400.1 337.2,400.1 337.6,400.1 338.1,400.1 338.5,400.2 338.9,400.2 339.4,400.2 339.8,400.2 340.3,400.2 340.7,400.2 341.2,400.3 341.6,400.3 342.1,400.3 342.5,400.3 343.0,400.4 343.4,400.4 343.9,400.4 344.3,400.4 344.8,400.5 345.2,400.5 345.6,400.5 346.1,400.6 346.5,400.6 347.0,400.6 347.4,400.7 347.9,400.7 348.3,400.7 348.8,400.8 349.2,400.8 349.7,400.8 350.1,400.9 350.6,400.9 351.0,400.9 351.5,401.0 351.9,401.0 352.3,401.0 352.8,401.1 353.2,401.1 353.7,401.1 354.1,401.2 354.6,401.2 355.0,401.2 355.5,401.3 355.9,401.3 356.4,401.3 356.8,401.4 357.3,401.4 357.7,401.4 358.1,401.5 358.6,401.5 359.0,401.5 359.5,401.6 359.9,401.6 360.4,401.6 360.8,401.7 361.3,401.7 361.7,401.7 362.2,401.7 362.6,401.8 363.1,401.8 363.5,401.8 364.0,401.9 364.4,401.9 364.8,401.9 365.3,401.9 365.7,402.0 366.2,402.0 366.6,402.0 367.1,402.0 367.5,402.1 368.0,402.1 368.4,402.1 368.9,402.1 369.3,402.2 369.8,402.2 370.2,402.2 370.7,402.2 371.1,402.3 371.5,402.3 372.0,402.3 372.4,402.3 372.9,402.3 373.3,402.4 373.8,402.4 374.2,402.4 374.7,402.4 375.1,402.4 375.6,402.5 376.0,402.5 376.5,402.5 376.9,402.5 377.4,402.5 377.8,402.5 378.2,402.6 378.7,402.6 379.1,402.6 379.6,402.6 380.0,402.6 380.5,402.6 380.9,402.7 381.4,402.7 381.8,402.7 382.3,402.7 382.7,402.7 383.2,402.7 383.6,402.7 384.1,402.8 384.5,402.8 384.9,402.8 385.4,402.8 385.8,402.8 386.3,402.8 386.7,402.8 387.2,402.8 387.6,402.9 388.1,402.9 388.5,402.9 389.0,402.9 389.4,402.9 389.9,402.9 390.3,402.9 390.8,402.9 391.2,402.9 391.6,403.0 392.1,403.0 392.5,403.0 393.0,403.0 393.4,403.0 393.9,403.0 394.3,403.0 394.8,403.0 395.2,403.0 395.7,403.0 396.1,403.0 396.6,403.1 397.0,403.1 397.5,403.1 397.9,403.1 398.3,403.1 398.8,403.1 399.2,403.1 399.7,403.1 400.1,403.1 400.6,403.1 401.0,403.1 401.5,403.1 401.9,403.1 402.4,403.1 402.8,403.2 403.3,403.2 403.7,403.2 404.2,403.2 404.6,403.2 405.0,403.2 405.5,403.2 405.9,403.2 406.4,403.2 406.8,403.2 407.3,403.2 407.7,403.2 408.2,403.2 408.6,403.2 409.1,403.2 409.5,403.2 410.0,403.2 410.4,403.3 410.9,403.3 411.3,403.3 411.7,403.3 412.2,403.3 412.6,403.3 413.1,403.3 413.5,403.3 414.0,403.3 414.4,403.3 414.9,403.3 415.3,403.3 415.8,403.3 416.2,403.3 416.7,403.3 417.1,403.3 417.5,403.3 418.0,403.3 418.4,403.3 418.9,403.3 419.3,403.3 419.8,403.3 420.2,403.3 420.7,403.3 421.1,403.3 421.6,403.4 422.0,403.4 422.5,403.4 422.9,403.4 423.4,403.4 423.8,403.4 424.2,403.4 424.7,403.4 425.1,403.4 425.6,403.4 426.0,403.4 426.5,403.4 426.9,403.4 427.4,403.4 427.8,403.4 428.3,403.4 428.7,403.4 429.2,403.4 429.6,403.4 430.1,403.4 430.5,403.4 430.9,403.4 431.4,403.4 431.8,403.4 432.3,403.4 432.7,403.4 433.2,403.4 433.6,403.4 434.1,403.4 434.5,403.4 435.0,403.4 435.4,403.4 435.9,403.4 436.3,403.4 436.8,403.4 437.2,403.4 437.6,403.4 438.1,403.4 438.5,403.4 439.0,403.4 439.4,403.5 439.9,403.5 440.3,403.5 440.8,403.5 441.2,403.5 441.7,403.5 442.1,403.5 442.6,403.5 443.0,403.5 443.5,403.5 443.9,403.5" fill="none" stroke="#f09a50" stroke-width="1.1" stroke-linejoin="round"/>
<polyline points="265.7,403.5 266.1,403.5 266.6,403.5 267.0,403.5 267.5,403.4 267.9,403.4 268.4,403.4 268.8,403.4 269.3,403.4 269.7,403.4 270.2,403.4 270.6,403.4 271.1,403.4 271.5,403.4 272.0,403.4 272.4,403.3 272.8,403.3 273.3,403.3 273.7,403.3 274.2,403.3 274.6,403.3 275.1,403.3 275.5,403.3 276.0,403.2 276.4,403.2 276.9,403.2 277.3,403.2 277.8,403.2 278.2,403.2 278.7,403.1 279.1,403.1 279.5,403.1 280.0,403.1 280.4,403.1 280.9,403.0 281.3,403.0 281.8,403.0 282.2,403.0 282.7,403.0 283.1,402.9 283.6,402.9 284.0,402.9 284.5,402.9 284.9,402.8 285.4,402.8 285.8,402.8 286.2,402.7 286.7,402.7 287.1,402.7 287.6,402.7 288.0,402.6 288.5,402.6 288.9,402.6 289.4,402.5 289.8,402.5 290.3,402.5 290.7,402.4 291.2,402.4 291.6,402.3 292.1,402.3 292.5,402.3 292.9,402.2 293.4,402.2 293.8,402.1 294.3,402.1 294.7,402.1 295.2,402.0 295.6,402.0 296.1,401.9 296.5,401.9 297.0,401.8 297.4,401.8 297.9,401.7 298.3,401.7 298.7,401.7 299.2,401.6 299.6,401.6 300.1,401.5 300.5,401.5 301.0,401.4 301.4,401.4 301.9,401.3 302.3,401.2 302.8,401.2 303.2,401.1 303.7,401.1 304.1,401.0 304.6,401.0 305.0,400.9 305.4,400.9 305.9,400.8 306.3,400.8 306.8,400.7 307.2,400.7 307.7,400.6 308.1,400.5 308.6,400.5 309.0,400.4 309.5,400.4 309.9,400.3 310.4,400.3 310.8,400.2 311.3,400.2 311.7,400.1 312.1,400.1 312.6,400.0 313.0,399.9 313.5,399.9 313.9,399.8 314.4,399.8 314.8,399.7 315.3,399.7 315.7,399.6 316.2,399.6 316.6,399.5 317.1,399.5 317.5,399.5 318.0,399.4 318.4,399.4 318.8,399.3 319.3,399.3 319.7,399.2 320.2,399.2 320.6,399.2 321.1,399.1 321.5,399.1 322.0,399.0 322.4,399.0 322.9,399.0 323.3,398.9 323.8,398.9 324.2,398.9 324.7,398.8 325.1,398.8 325.5,398.8 326.0,398.8 326.4,398.8 326.9,398.7 327.3,398.7 327.8,398.7 328.2,398.7 328.7,398.7 329.1,398.6 329.6,398.6 330.0,398.6 330.5,398.6 330.9,398.6 331.4,398.6 331.8,398.6 332.2,398.6 332.7,398.6 333.1,398.6 333.6,398.6 334.0,398.6 334.5,398.6 334.9,398.6 335.4,398.7 335.8,398.7 336.3,398.7 336.7,398.7 337.2,398.7 337.6,398.8 338.1,398.8 338.5,398.8 338.9,398.8 339.4,398.9 339.8,398.9 340.3,398.9 340.7,399.0 341.2,399.0 341.6,399.1 342.1,399.1 342.5,399.1 343.0,399.2 343.4,399.2 343.9,399.3 344.3,399.3 344.8,399.4 345.2,399.4 345.6,399.5 346.1,399.5 346.5,399.6 347.0,399.6 347.4,399.7 347.9,399.7 348.3,399.8 348.8,399.8 349.2,399.9 349.7,399.9 350.1,400.0 350.6,400.0 351.0,400.1 351.5,400.1 351.9,400.2 352.3,400.2 352.8,400.3 353.2,400.3 353.7,400.4 354.1,400.4 354.6,400.5 355.0,400.5 355.5,400.5 355.9,400.6 356.4,400.6 356.8,400.7 357.3,400.7 357.7,400.8 358.1,400.8 358.6,400.9 359.0,400.9 359.5,401.0 359.9,401.0 360.4,401.0 360.8,401.1 361.3,401.1 361.7,401.2 362.2,401.2 362.6,401.2 363.1,401.3 363.5,401.3 364.0,401.4 364.4,401.4 364.8,401.4 365.3,401.5 365.7,401.5 366.2,401.5 366.6,401.6 367.1,401.6 367.5,401.6 368.0,401.7 368.4,401.7 368.9,401.7 369.3,401.8 369.8,401.8 370.2,401.8 370.7,401.8 371.1,401.9 371.5,401.9 372.0,401.9 372.4,402.0 372.9,402.0 373.3,402.0 373.8,402.0 374.2,402.1 374.7,402.1 375.1,402.1 375.6,402.1 376.0,402.2 376.5,402.2 376.9,402.2 377.4,402.2 377.8,402.3 378.2,402.3 378.7,402.3 379.1,402.3 379.6,402.3 380.0,402.4 380.5,402.4 380.9,402.4 381.4,402.4 381.8,402.4 382.3,402.5 382.7,402.5 383.2,402.5 383.6,402.5 384.1,402.5 384.5,402.5 384.9,402.6 385.4,402.6 385.8,402.6 386.3,402.6 386.7,402.6 387.2,402.6 387.6,402.7 388.1,402.7 388.5,402.7 389.0,402.7 389.4,402.7 389.9,402.7 390.3,402.7 390.8,402.7 391.2,402.8 391.6,402.8 392.1,402.8 392.5,402.8 393.0,402.8 393.4,402.8 393.9,402.8 394.3,402.8 394.8,402.9 395.2,402.9 395.7,402.9 396.1,402.9 396.6,402.9 397.0,402.9 397.5,402.9 397.9,402.9 398.3,402.9 398.8,403.0 399.2,403.0 399.7,403.0 400.1,403.0 400.6,403.0 401.0,403.0 401.5,403.0 401.9,403.0 402.4,403.0 402.8,403.0 403.3,403.0 403.7,403.0 404.2,403.1 404.6,403.1 405.0,403.1 405.5,403.1 405.9,403.1 406.4,403.1 406.8,403.1 407.3,403.1 407.7,403.1 408.2,403.1 408.6,403.1 409.1,403.1 409.5,403.1 410.0,403.1 410.4,403.2 410.9,403.2 411.3,403.2 411.7,403.2 412.2,403.2 412.6,403.2 413.1,403.2 413.5,403.2 414.0,403.2 414.4,403.2 414.9,403.2 415.3,403.2 415.8,403.2 416.2,403.2 416.7,403.2 417.1,403.2 417.5,403.2 418.0,403.2 418.4,403.3 418.9,403.3 419.3,403.3 419.8,403.3 420.2,403.3 420.7,403.3 421.1,403.3 421.6,403.3 422.0,403.3 422.5,403.3 422.9,403.3 423.4,403.3 423.8,403.3 424.2,403.3 424.7,403.3 425.1,403.3 425.6,403.3 426.0,403.3 426.5,403.3 426.9,403.3 427.4,403.3 427.8,403.3 428.3,403.3 428.7,403.3 429.2,403.3 429.6,403.3 430.1,403.4 430.5,403.4 430.9,403.4 431.4,403.4 431.8,403.4 432.3,403.4 432.7,403.4 433.2,403.4 433.6,403.4 434.1,403.4 434.5,403.4 435.0,403.4 435.4,403.4 435.9,403.4 436.3,403.4 436.8,403.4 437.2,403.4 437.6,403.4 438.1,403.4 438.5,403.4 439.0,403.4 439.4,403.4 439.9,403.4 440.3,403.4 440.8,403.4 441.2,403.4 441.7,403.4 442.1,403.4 442.6,403.4 443.0,403.4 443.5,403.4 443.9,403.4" fill="none" stroke="#f0b060" stroke-width="1.1" stroke-linejoin="round"/>
<polyline points="265.7,403.4 266.1,403.4 266.6,403.4 267.0,403.4 267.5,403.4 267.9,403.4 268.4,403.4 268.8,403.3 269.3,403.3 269.7,403.3 270.2,403.3 270.6,403.3 271.1,403.3 271.5,403.3 272.0,403.2 272.4,403.2 272.8,403.2 273.3,403.2 273.7,403.2 274.2,403.1 274.6,403.1 275.1,403.1 275.5,403.1 276.0,403.1 276.4,403.0 276.9,403.0 277.3,403.0 277.8,403.0 278.2,402.9 278.7,402.9 279.1,402.9 279.5,402.9 280.0,402.8 280.4,402.8 280.9,402.8 281.3,402.7 281.8,402.7 282.2,402.7 282.7,402.6 283.1,402.6 283.6,402.6 284.0,402.5 284.5,402.5 284.9,402.4 285.4,402.4 285.8,402.3 286.2,402.3 286.7,402.3 287.1,402.2 287.6,402.2 288.0,402.1 288.5,402.1 288.9,402.0 289.4,402.0 289.8,401.9 290.3,401.9 290.7,401.8 291.2,401.7 291.6,401.7 292.1,401.6 292.5,401.6 292.9,401.5 293.4,401.4 293.8,401.4 294.3,401.3 294.7,401.2 295.2,401.2 295.6,401.1 296.1,401.0 296.5,401.0 297.0,400.9 297.4,400.8 297.9,400.8 298.3,400.7 298.7,400.6 299.2,400.5 299.6,400.5 300.1,400.4 300.5,400.3 301.0,400.2 301.4,400.2 301.9,400.1 302.3,400.0 302.8,399.9 303.2,399.8 303.7,399.7 304.1,399.7 304.6,399.6 305.0,399.5 305.4,399.4 305.9,399.3 306.3,399.2 306.8,399.2 307.2,399.1 307.7,399.0 308.1,398.9 308.6,398.8 309.0,398.7 309.5,398.7 309.9,398.6 310.4,398.5 310.8,398.4 311.3,398.3 311.7,398.3 312.1,398.2 312.6,398.1 313.0,398.0 313.5,397.9 313.9,397.9 314.4,397.8 314.8,397.7 315.3,397.6 315.7,397.6 316.2,397.5 316.6,397.4 317.1,397.3 317.5,397.3 318.0,397.2 318.4,397.1 318.8,397.1 319.3,397.0 319.7,397.0 320.2,396.9 320.6,396.8 321.1,396.8 321.5,396.7 322.0,396.7 322.4,396.6 322.9,396.6 323.3,396.5 323.8,396.5 324.2,396.4 324.7,396.4 325.1,396.4 325.5,396.3 326.0,396.3 326.4,396.3 326.9,396.2 327.3,396.2 327.8,396.2 328.2,396.2 328.7,396.2 329.1,396.1 329.6,396.1 330.0,396.1 330.5,396.1 330.9,396.1 331.4,396.1 331.8,396.1 332.2,396.1 332.7,396.1 333.1,396.1 333.6,396.1 334.0,396.2 334.5,396.2 334.9,396.2 335.4,396.2 335.8,396.3 336.3,396.3 336.7,396.3 337.2,396.4 337.6,396.4 338.1,396.5 338.5,396.5 338.9,396.6 339.4,396.6 339.8,396.7 340.3,396.7 340.7,396.8 341.2,396.9 341.6,396.9 342.1,397.0 342.5,397.1 343.0,397.1 343.4,397.2 343.9,397.3 344.3,397.3 344.8,397.4 345.2,397.5 345.6,397.6 346.1,397.6 346.5,397.7 347.0,397.8 347.4,397.9 347.9,397.9 348.3,398.0 348.8,398.1 349.2,398.2 349.7,398.2 350.1,398.3 350.6,398.4 351.0,398.5 351.5,398.5 351.9,398.6 352.3,398.7 352.8,398.8 353.2,398.8 353.7,398.9 354.1,399.0 354.6,399.0 355.0,399.1 355.5,399.2 355.9,399.3 356.4,399.3 356.8,399.4 357.3,399.5 357.7,399.5 358.1,399.6 358.6,399.7 359.0,399.7 359.5,399.8 359.9,399.8 360.4,399.9 360.8,400.0 361.3,400.0 361.7,400.1 362.2,400.1 362.6,400.2 363.1,400.3 363.5,400.3 364.0,400.4 364.4,400.4 364.8,400.5 365.3,400.5 365.7,400.6 366.2,400.6 366.6,400.7 367.1,400.7 367.5,400.8 368.0,400.8 368.4,400.9 368.9,400.9 369.3,400.9 369.8,401.0 370.2,401.0 370.7,401.1 371.1,401.1 371.5,401.2 372.0,401.2 372.4,401.2 372.9,401.3 373.3,401.3 373.8,401.4 374.2,401.4 374.7,401.4 375.1,401.5 375.6,401.5 376.0,401.5 376.5,401.6 376.9,401.6 377.4,401.6 377.8,401.7 378.2,401.7 378.7,401.7 379.1,401.8 379.6,401.8 380.0,401.8 380.5,401.8 380.9,401.9 381.4,401.9 381.8,401.9 382.3,402.0 382.7,402.0 383.2,402.0 383.6,402.0 384.1,402.1 384.5,402.1 384.9,402.1 385.4,402.1 385.8,402.1 386.3,402.2 386.7,402.2 387.2,402.2 387.6,402.2 388.1,402.3 388.5,402.3 389.0,402.3 389.4,402.3 389.9,402.3 390.3,402.4 390.8,402.4 391.2,402.4 391.6,402.4 392.1,402.4 392.5,402.5 393.0,402.5 393.4,402.5 393.9,402.5 394.3,402.5 394.8,402.5 395.2,402.6 395.7,402.6 396.1,402.6 396.6,402.6 397.0,402.6 397.5,402.6 397.9,402.6 398.3,402.7 398.8,402.7 399.2,402.7 399.7,402.7 400.1,402.7 400.6,402.7 401.0,402.7 401.5,402.7 401.9,402.8 402.4,402.8 402.8,402.8 403.3,402.8 403.7,402.8 404.2,402.8 404.6,402.8 405.0,402.8 405.5,402.9 405.9,402.9 406.4,402.9 406.8,402.9 407.3,402.9 407.7,402.9 408.2,402.9 408.6,402.9 409.1,402.9 409.5,402.9 410.0,403.0 410.4,403.0 410.9,403.0 411.3,403.0 411.7,403.0 412.2,403.0 412.6,403.0 413.1,403.0 413.5,403.0 414.0,403.0 414.4,403.0 414.9,403.0 415.3,403.1 415.8,403.1 416.2,403.1 416.7,403.1 417.1,403.1 417.5,403.1 418.0,403.1 418.4,403.1 418.9,403.1 419.3,403.1 419.8,403.1 420.2,403.1 420.7,403.1 421.1,403.1 421.6,403.1 422.0,403.2 422.5,403.2 422.9,403.2 423.4,403.2 423.8,403.2 424.2,403.2 424.7,403.2 425.1,403.2 425.6,403.2 426.0,403.2 426.5,403.2 426.9,403.2 427.4,403.2 427.8,403.2 428.3,403.2 428.7,403.2 429.2,403.2 429.6,403.2 430.1,403.2 430.5,403.2 430.9,403.3 431.4,403.3 431.8,403.3 432.3,403.3 432.7,403.3 433.2,403.3 433.6,403.3 434.1,403.3 434.5,403.3 435.0,403.3 435.4,403.3 435.9,403.3 436.3,403.3 436.8,403.3 437.2,403.3 437.6,403.3 438.1,403.3 438.5,403.3 439.0,403.3 439.4,403.3 439.9,403.3 440.3,403.3 440.8,403.3 441.2,403.3 441.7,403.3 442.1,403.3 442.6,403.3 443.0,403.4 443.5,403.4 443.9,403.4" fill="none" stroke="#f0c870" stroke-width="1.1" stroke-linejoin="round"/>
<polyline points="265.7,403.3 266.1,403.3 266.6,403.3 267.0,403.3 267.5,403.3 267.9,403.3 268.4,403.2 268.8,403.2 269.3,403.2 269.7,403.2 270.2,403.2 270.6,403.1 271.1,403.1 271.5,403.1 272.0,403.1 272.4,403.0 272.8,403.0 273.3,403.0 273.7,403.0 274.2,402.9 274.6,402.9 275.1,402.9 275.5,402.8 276.0,402.8 276.4,402.8 276.9,402.7 277.3,402.7 277.8,402.7 278.2,402.6 278.7,402.6 279.1,402.5 279.5,402.5 280.0,402.4 280.4,402.4 280.9,402.3 281.3,402.3 281.8,402.2 282.2,402.2 282.7,402.1 283.1,402.1 283.6,402.0 284.0,402.0 284.5,401.9 284.9,401.8 285.4,401.8 285.8,401.7 286.2,401.6 286.7,401.6 287.1,401.5 287.6,401.4 288.0,401.4 288.5,401.3 288.9,401.2 289.4,401.1 289.8,401.0 290.3,401.0 290.7,400.9 291.2,400.8 291.6,400.7 292.1,400.6 292.5,400.5 292.9,400.4 293.4,400.3 293.8,400.2 294.3,400.1 294.7,400.0 295.2,399.9 295.6,399.8 296.1,399.7 296.5,399.6 297.0,399.5 297.4,399.4 297.9,399.3 298.3,399.2 298.7,399.1 299.2,398.9 299.6,398.8 300.1,398.7 300.5,398.6 301.0,398.5 301.4,398.4 301.9,398.2 302.3,398.1 302.8,398.0 303.2,397.9 303.7,397.8 304.1,397.6 304.6,397.5 305.0,397.4 305.4,397.3 305.9,397.1 306.3,397.0 306.8,396.9 307.2,396.7 307.7,396.6 308.1,396.5 308.6,396.4 309.0,396.2 309.5,396.1 309.9,396.0 310.4,395.9 310.8,395.8 311.3,395.6 311.7,395.5 312.1,395.4 312.6,395.3 313.0,395.2 313.5,395.0 313.9,394.9 314.4,394.8 314.8,394.7 315.3,394.6 315.7,394.5 316.2,394.4 316.6,394.3 317.1,394.2 317.5,394.1 318.0,394.0 318.4,393.9 318.8,393.8 319.3,393.7 319.7,393.6 320.2,393.6 320.6,393.5 321.1,393.4 321.5,393.3 322.0,393.3 322.4,393.2 322.9,393.1 323.3,393.1 323.8,393.0 324.2,393.0 324.7,392.9 325.1,392.9 325.5,392.8 326.0,392.8 326.4,392.7 326.9,392.7 327.3,392.7 327.8,392.7 328.2,392.6 328.7,392.6 329.1,392.6 329.6,392.6 330.0,392.6 330.5,392.6 330.9,392.6 331.4,392.6 331.8,392.6 332.2,392.7 332.7,392.7 333.1,392.7 333.6,392.8 334.0,392.8 334.5,392.8 334.9,392.9 335.4,393.0 335.8,393.0 336.3,393.1 336.7,393.1 337.2,393.2 337.6,393.3 338.1,393.4 338.5,393.5 338.9,393.6 339.4,393.6 339.8,393.7 340.3,393.8 340.7,393.9 341.2,394.0 341.6,394.1 342.1,394.2 342.5,394.3 343.0,394.4 343.4,394.6 343.9,394.7 344.3,394.8 344.8,394.9 345.2,395.0 345.6,395.1 346.1,395.2 346.5,395.3 347.0,395.4 347.4,395.6 347.9,395.7 348.3,395.8 348.8,395.9 349.2,396.0 349.7,396.1 350.1,396.2 350.6,396.3 351.0,396.4 351.5,396.5 351.9,396.7 352.3,396.8 352.8,396.9 353.2,397.0 353.7,397.1 354.1,397.2 354.6,397.3 355.0,397.4 355.5,397.5 355.9,397.6 356.4,397.7 356.8,397.8 357.3,397.9 357.7,398.0 358.1,398.1 358.6,398.1 359.0,398.2 359.5,398.3 359.9,398.4 360.4,398.5 360.8,398.6 361.3,398.7 361.7,398.7 362.2,398.8 362.6,398.9 363.1,399.0 363.5,399.1 364.0,399.1 364.4,399.2 364.8,399.3 365.3,399.4 365.7,399.4 366.2,399.5 366.6,399.6 367.1,399.6 367.5,399.7 368.0,399.8 368.4,399.8 368.9,399.9 369.3,400.0 369.8,400.0 370.2,400.1 370.7,400.1 371.1,400.2 371.5,400.2 372.0,400.3 372.4,400.4 372.9,400.4 373.3,400.5 373.8,400.5 374.2,400.6 374.7,400.6 375.1,400.7 375.6,400.7 376.0,400.8 376.5,400.8 376.9,400.9 377.4,400.9 377.8,400.9 378.2,401.0 378.7,401.0 379.1,401.1 379.6,401.1 380.0,401.1 380.5,401.2 380.9,401.2 381.4,401.3 381.8,401.3 382.3,401.3 382.7,401.4 383.2,401.4 383.6,401.4 384.1,401.5 384.5,401.5 384.9,401.5 385.4,401.6 385.8,401.6 386.3,401.6 386.7,401.7 387.2,401.7 387.6,401.7 388.1,401.8 388.5,401.8 389.0,401.8 389.4,401.8 389.9,401.9 390.3,401.9 390.8,401.9 391.2,402.0 391.6,402.0 392.1,402.0 392.5,402.0 393.0,402.1 393.4,402.1 393.9,402.1 394.3,402.1 394.8,402.1 395.2,402.2 395.7,402.2 396.1,402.2 396.6,402.2 397.0,402.2 397.5,402.3 397.9,402.3 398.3,402.3 398.8,402.3 399.2,402.3 399.7,402.4 400.1,402.4 400.6,402.4 401.0,402.4 401.5,402.4 401.9,402.5 402.4,402.5 402.8,402.5 403.3,402.5 403.7,402.5 404.2,402.5 404.6,402.5 405.0,402.6 405.5,402.6 405.9,402.6 406.4,402.6 406.8,402.6 407.3,402.6 407.7,402.6 408.2,402.7 408.6,402.7 409.1,402.7 409.5,402.7 410.0,402.7 410.4,402.7 410.9,402.7 411.3,402.7 411.7,402.8 412.2,402.8 412.6,402.8 413.1,402.8 413.5,402.8 414.0,402.8 414.4,402.8 414.9,402.8 415.3,402.8 415.8,402.9 416.2,402.9 416.7,402.9 417.1,402.9 417.5,402.9 418.0,402.9 418.4,402.9 418.9,402.9 419.3,402.9 419.8,402.9 420.2,403.0 420.7,403.0 421.1,403.0 421.6,403.0 422.0,403.0 422.5,403.0 422.9,403.0 423.4,403.0 423.8,403.0 424.2,403.0 424.7,403.0 425.1,403.0 425.6,403.0 426.0,403.1 426.5,403.1 426.9,403.1 427.4,403.1 427.8,403.1 428.3,403.1 428.7,403.1 429.2,403.1 429.6,403.1 430.1,403.1 430.5,403.1 430.9,403.1 431.4,403.1 431.8,403.1 432.3,403.1 432.7,403.1 433.2,403.2 433.6,403.2 434.1,403.2 434.5,403.2 435.0,403.2 435.4,403.2 435.9,403.2 436.3,403.2 436.8,403.2 437.2,403.2 437.6,403.2 438.1,403.2 438.5,403.2 439.0,403.2 439.4,403.2 439.9,403.2 440.3,403.2 440.8,403.2 441.2,403.2 441.7,403.2 442.1,403.3 442.6,403.3 443.0,403.3 443.5,403.3 443.9,403.3" fill="none" stroke="#e8c85a" stroke-width="1.1" stroke-linejoin="round"/>
<polyline points="265.7,403.3 266.1,403.2 266.6,403.2 267.0,403.2 267.5,403.2 267.9,403.2 268.4,403.1 268.8,403.1 269.3,403.1 269.7,403.1 270.2,403.0 270.6,403.0 271.1,403.0 271.5,403.0 272.0,402.9 272.4,402.9 272.8,402.9 273.3,402.8 273.7,402.8 274.2,402.7 274.6,402.7 275.1,402.7 275.5,402.6 276.0,402.6 276.4,402.5 276.9,402.5 277.3,402.4 277.8,402.4 278.2,402.3 278.7,402.3 279.1,402.2 279.5,402.1 280.0,402.1 280.4,402.0 280.9,402.0 281.3,401.9 281.8,401.8 282.2,401.7 282.7,401.7 283.1,401.6 283.6,401.5 284.0,401.4 284.5,401.3 284.9,401.3 285.4,401.2 285.8,401.1 286.2,401.0 286.7,400.9 287.1,400.8 287.6,400.7 288.0,400.6 288.5,400.5 288.9,400.4 289.4,400.3 289.8,400.2 290.3,400.1 290.7,399.9 291.2,399.8 291.6,399.7 292.1,399.6 292.5,399.5 292.9,399.3 293.4,399.2 293.8,399.1 294.3,398.9 294.7,398.8 295.2,398.7 295.6,398.5 296.1,398.4 296.5,398.2 297.0,398.1 297.4,397.9 297.9,397.8 298.3,397.6 298.7,397.5 299.2,397.3 299.6,397.2 300.1,397.0 300.5,396.8 301.0,396.7 301.4,396.5 301.9,396.4 302.3,396.2 302.8,396.0 303.2,395.9 303.7,395.7 304.1,395.5 304.6,395.4 305.0,395.2 305.4,395.0 305.9,394.9 306.3,394.7 306.8,394.5 307.2,394.4 307.7,394.2 308.1,394.0 308.6,393.9 309.0,393.7 309.5,393.6 309.9,393.4 310.4,393.2 310.8,393.1 311.3,392.9 311.7,392.8 312.1,392.6 312.6,392.5 313.0,392.3 313.5,392.2 313.9,392.0 314.4,391.9 314.8,391.8 315.3,391.6 315.7,391.5 316.2,391.4 316.6,391.3 317.1,391.1 317.5,391.0 318.0,390.9 318.4,390.8 318.8,390.7 319.3,390.6 319.7,390.5 320.2,390.4 320.6,390.3 321.1,390.2 321.5,390.2 322.0,390.1 322.4,390.0 322.9,390.0 323.3,389.9 323.8,389.8 324.2,389.8 324.7,389.8 325.1,389.7 325.5,389.7 326.0,389.7 326.4,389.6 326.9,389.6 327.3,389.6 327.8,389.6 328.2,389.6 328.7,389.6 329.1,389.6 329.6,389.6 330.0,389.7 330.5,389.7 330.9,389.7 331.4,389.8 331.8,389.9 332.2,389.9 332.7,390.0 333.1,390.1 333.6,390.1 334.0,390.2 334.5,390.3 334.9,390.4 335.4,390.5 335.8,390.6 336.3,390.7 336.7,390.8 337.2,391.0 337.6,391.1 338.1,391.2 338.5,391.3 338.9,391.5 339.4,391.6 339.8,391.7 340.3,391.9 340.7,392.0 341.2,392.1 341.6,392.3 342.1,392.4 342.5,392.6 343.0,392.7 343.4,392.9 343.9,393.0 344.3,393.2 344.8,393.3 345.2,393.4 345.6,393.6 346.1,393.7 346.5,393.9 347.0,394.0 347.4,394.2 347.9,394.3 348.3,394.4 348.8,394.6 349.2,394.7 349.7,394.9 350.1,395.0 350.6,395.1 351.0,395.3 351.5,395.4 351.9,395.5 352.3,395.7 352.8,395.8 353.2,395.9 353.7,396.1 354.1,396.2 354.6,396.3 355.0,396.4 355.5,396.5 355.9,396.7 356.4,396.8 356.8,396.9 357.3,397.0 357.7,397.1 358.1,397.2 358.6,397.3 359.0,397.4 359.5,397.5 359.9,397.6 360.4,397.7 360.8,397.8 361.3,397.9 361.7,398.0 362.2,398.1 362.6,398.2 363.1,398.3 363.5,398.4 364.0,398.5 364.4,398.6 364.8,398.7 365.3,398.7 365.7,398.8 366.2,398.9 366.6,399.0 367.1,399.1 367.5,399.1 368.0,399.2 368.4,399.3 368.9,399.4 369.3,399.4 369.8,399.5 370.2,399.6 370.7,399.6 371.1,399.7 371.5,399.8 372.0,399.8 372.4,399.9 372.9,400.0 373.3,400.0 373.8,400.1 374.2,400.1 374.7,400.2 375.1,400.3 375.6,400.3 376.0,400.4 376.5,400.4 376.9,400.5 377.4,400.5 377.8,400.6 378.2,400.6 378.7,400.7 379.1,400.7 379.6,400.8 380.0,400.8 380.5,400.9 380.9,400.9 381.4,400.9 381.8,401.0 382.3,401.0 382.7,401.1 383.2,401.1 383.6,401.2 384.1,401.2 384.5,401.2 384.9,401.3 385.4,401.3 385.8,401.3 386.3,401.4 386.7,401.4 387.2,401.4 387.6,401.5 388.1,401.5 388.5,401.5 389.0,401.6 389.4,401.6 389.9,401.6 390.3,401.7 390.8,401.7 391.2,401.7 391.6,401.8 392.1,401.8 392.5,401.8 393.0,401.8 393.4,401.9 393.9,401.9 394.3,401.9 394.8,401.9 395.2,402.0 395.7,402.0 396.1,402.0 396.6,402.0 397.0,402.1 397.5,402.1 397.9,402.1 398.3,402.1 398.8,402.2 399.2,402.2 399.7,402.2 400.1,402.2 400.6,402.2 401.0,402.3 401.5,402.3 401.9,402.3 402.4,402.3 402.8,402.3 403.3,402.4 403.7,402.4 404.2,402.4 404.6,402.4 405.0,402.4 405.5,402.4 405.9,402.5 406.4,402.5 406.8,402.5 407.3,402.5 407.7,402.5 408.2,402.5 408.6,402.6 409.1,402.6 409.5,402.6 410.0,402.6 410.4,402.6 410.9,402.6 411.3,402.6 411.7,402.6 412.2,402.7 412.6,402.7 413.1,402.7 413.5,402.7 414.0,402.7 414.4,402.7 414.9,402.7 415.3,402.7 415.8,402.8 416.2,402.8 416.7,402.8 417.1,402.8 417.5,402.8 418.0,402.8 418.4,402.8 418.9,402.8 419.3,402.8 419.8,402.9 420.2,402.9 420.7,402.9 421.1,402.9 421.6,402.9 422.0,402.9 422.5,402.9 422.9,402.9 423.4,402.9 423.8,402.9 424.2,402.9 424.7,403.0 425.1,403.0 425.6,403.0 426.0,403.0 426.5,403.0 426.9,403.0 427.4,403.0 427.8,403.0 428.3,403.0 428.7,403.0 429.2,403.0 429.6,403.0 430.1,403.0 430.5,403.1 430.9,403.1 431.4,403.1 431.8,403.1 432.3,403.1 432.7,403.1 433.2,403.1 433.6,403.1 434.1,403.1 434.5,403.1 435.0,403.1 435.4,403.1 435.9,403.1 436.3,403.1 436.8,403.1 437.2,403.1 437.6,403.2 438.1,403.2 438.5,403.2 439.0,403.2 439.4,403.2 439.9,403.2 440.3,403.2 440.8,403.2 441.2,403.2 441.7,403.2 442.1,403.2 442.6,403.2 443.0,403.2 443.5,403.2 443.9,403.2" fill="none" stroke="#c8c060" stroke-width="1.1" stroke-linejoin="round"/>
<polyline points="265.7,402.8 266.1,402.8 266.6,402.7 267.0,402.7 267.5,402.6 267.9,402.6 268.4,402.5 268.8,402.5 269.3,402.4 269.7,402.3 270.2,402.2 270.6,402.2 271.1,402.1 271.5,402.0 272.0,401.9 272.4,401.8 272.8,401.7 273.3,401.6 273.7,401.5 274.2,401.4 274.6,401.3 275.1,401.2 275.5,401.0 276.0,400.9 276.4,400.8 276.9,400.6 277.3,400.5 277.8,400.3 278.2,400.2 278.7,400.0 279.1,399.8 279.5,399.7 280.0,399.5 280.4,399.3 280.9,399.1 281.3,398.9 281.8,398.7 282.2,398.5 282.7,398.3 283.1,398.0 283.6,397.8 284.0,397.5 284.5,397.3 284.9,397.0 285.4,396.8 285.8,396.5 286.2,396.2 286.7,395.9 287.1,395.6 287.6,395.3 288.0,395.0 288.5,394.7 288.9,394.4 289.4,394.0 289.8,393.7 290.3,393.3 290.7,393.0 291.2,392.6 291.6,392.3 292.1,391.9 292.5,391.5 292.9,391.1 293.4,390.7 293.8,390.3 294.3,389.9 294.7,389.5 295.2,389.1 295.6,388.7 296.1,388.3 296.5,387.8 297.0,387.4 297.4,386.9 297.9,386.5 298.3,386.1 298.7,385.6 299.2,385.2 299.6,384.7 300.1,384.3 300.5,383.8 301.0,383.3 301.4,382.9 301.9,382.4 302.3,382.0 302.8,381.5 303.2,381.1 303.7,380.6 304.1,380.2 304.6,379.7 305.0,379.3 305.4,378.8 305.9,378.4 306.3,378.0 306.8,377.5 307.2,377.1 307.7,376.7 308.1,376.3 308.6,375.9 309.0,375.5 309.5,375.1 309.9,374.7 310.4,374.4 310.8,374.0 311.3,373.6 311.7,373.3 312.1,373.0 312.6,372.7 313.0,372.4 313.5,372.1 313.9,371.8 314.4,371.5 314.8,371.3 315.3,371.0 315.7,370.8 316.2,370.6 316.6,370.4 317.1,370.2 317.5,370.1 318.0,369.9 318.4,369.8 318.8,369.7 319.3,369.6 319.7,369.5 320.2,369.4 320.6,369.4 321.1,369.3 321.5,369.3 322.0,369.3 322.4,369.3 322.9,369.4 323.3,369.4 323.8,369.5 324.2,369.6 324.7,369.7 325.1,369.8 325.5,370.0 326.0,370.1 326.4,370.3 326.9,370.5 327.3,370.7 327.8,371.0 328.2,371.2 328.7,371.5 329.1,371.7 329.6,372.0 330.0,372.3 330.5,372.6 330.9,372.9 331.4,373.2 331.8,373.5 332.2,373.9 332.7,374.2 333.1,374.6 333.6,374.9 334.0,375.3 334.5,375.6 334.9,376.0 335.4,376.4 335.8,376.7 336.3,377.1 336.7,377.5 337.2,377.8 337.6,378.2 338.1,378.6 338.5,379.0 338.9,379.3 339.4,379.7 339.8,380.1 340.3,380.4 340.7,380.8 341.2,381.2 341.6,381.5 342.1,381.9 342.5,382.2 343.0,382.6 343.4,382.9 343.9,383.3 344.3,383.6 344.8,384.0 345.2,384.3 345.6,384.6 346.1,385.0 346.5,385.3 347.0,385.6 347.4,385.9 347.9,386.2 348.3,386.5 348.8,386.8 349.2,387.1 349.7,387.4 350.1,387.7 350.6,388.0 351.0,388.2 351.5,388.5 351.9,388.8 352.3,389.1 352.8,389.3 353.2,389.6 353.7,389.8 354.1,390.1 354.6,390.3 355.0,390.5 355.5,390.8 355.9,391.0 356.4,391.2 356.8,391.5 357.3,391.7 357.7,391.9 358.1,392.1 358.6,392.3 359.0,392.5 359.5,392.7 359.9,392.9 360.4,393.1 360.8,393.3 361.3,393.4 361.7,393.6 362.2,393.8 362.6,394.0 363.1,394.1 363.5,394.3 364.0,394.5 364.4,394.6 364.8,394.8 365.3,395.0 365.7,395.1 366.2,395.3 366.6,395.4 367.1,395.5 367.5,395.7 368.0,395.8 368.4,396.0 368.9,396.1 369.3,396.2 369.8,396.3 370.2,396.5 370.7,396.6 371.1,396.7 371.5,396.8 372.0,396.9 372.4,397.1 372.9,397.2 373.3,397.3 373.8,397.4 374.2,397.5 374.7,397.6 375.1,397.7 375.6,397.8 376.0,397.9 376.5,398.0 376.9,398.1 377.4,398.2 377.8,398.3 378.2,398.3 378.7,398.4 379.1,398.5 379.6,398.6 380.0,398.7 380.5,398.8 380.9,398.8 381.4,398.9 381.8,399.0 382.3,399.1 382.7,399.1 383.2,399.2 383.6,399.3 384.1,399.4 384.5,399.4 384.9,399.5 385.4,399.6 385.8,399.6 386.3,399.7 386.7,399.7 387.2,399.8 387.6,399.9 388.1,399.9 388.5,400.0 389.0,400.0 389.4,400.1 389.9,400.2 390.3,400.2 390.8,400.3 391.2,400.3 391.6,400.4 392.1,400.4 392.5,400.5 393.0,400.5 393.4,400.6 393.9,400.6 394.3,400.6 394.8,400.7 395.2,400.7 395.7,400.8 396.1,400.8 396.6,400.9 397.0,400.9 397.5,400.9 397.9,401.0 398.3,401.0 398.8,401.1 399.2,401.1 399.7,401.1 400.1,401.2 400.6,401.2 401.0,401.2 401.5,401.3 401.9,401.3 402.4,401.3 402.8,401.4 403.3,401.4 403.7,401.4 404.2,401.5 404.6,401.5 405.0,401.5 405.5,401.6 405.9,401.6 406.4,401.6 406.8,401.6 407.3,401.7 407.7,401.7 408.2,401.7 408.6,401.8 409.1,401.8 409.5,401.8 410.0,401.8 410.4,401.9 410.9,401.9 411.3,401.9 411.7,401.9 412.2,402.0 412.6,402.0 413.1,402.0 413.5,402.0 414.0,402.0 414.4,402.1 414.9,402.1 415.3,402.1 415.8,402.1 416.2,402.1 416.7,402.2 417.1,402.2 417.5,402.2 418.0,402.2 418.4,402.2 418.9,402.3 419.3,402.3 419.8,402.3 420.2,402.3 420.7,402.3 421.1,402.3 421.6,402.4 422.0,402.4 422.5,402.4 422.9,402.4 423.4,402.4 423.8,402.4 424.2,402.5 424.7,402.5 425.1,402.5 425.6,402.5 426.0,402.5 426.5,402.5 426.9,402.5 427.4,402.6 427.8,402.6 428.3,402.6 428.7,402.6 429.2,402.6 429.6,402.6 430.1,402.6 430.5,402.6 430.9,402.7 431.4,402.7 431.8,402.7 432.3,402.7 432.7,402.7 433.2,402.7 433.6,402.7 434.1,402.7 434.5,402.7 435.0,402.8 435.4,402.8 435.9,402.8 436.3,402.8 436.8,402.8 437.2,402.8 437.6,402.8 438.1,402.8 438.5,402.8 439.0,402.8 439.4,402.9 439.9,402.9 440.3,402.9 440.8,402.9 441.2,402.9 441.7,402.9 442.1,402.9 442.6,402.9 443.0,402.9 443.5,402.9 443.9,402.9" fill="none" stroke="#7a9a3a" stroke-width="1.1" stroke-linejoin="round"/>
<polyline points="265.7,402.5 266.1,402.4 266.6,402.3 267.0,402.2 267.5,402.1 267.9,402.0 268.4,401.9 268.8,401.7 269.3,401.6 269.7,401.5 270.2,401.3 270.6,401.2 271.1,401.0 271.5,400.8 272.0,400.7 272.4,400.5 272.8,400.3 273.3,400.0 273.7,399.8 274.2,399.6 274.6,399.3 275.1,399.1 275.5,398.8 276.0,398.5 276.4,398.2 276.9,397.9 277.3,397.6 277.8,397.3 278.2,396.9 278.7,396.6 279.1,396.2 279.5,395.8 280.0,395.4 280.4,394.9 280.9,394.5 281.3,394.0 281.8,393.6 282.2,393.1 282.7,392.6 283.1,392.0 283.6,391.5 284.0,390.9 284.5,390.3 284.9,389.7 285.4,389.1 285.8,388.5 286.2,387.9 286.7,387.2 287.1,386.5 287.6,385.8 288.0,385.1 288.5,384.4 288.9,383.6 289.4,382.8 289.8,382.1 290.3,381.3 290.7,380.5 291.2,379.6 291.6,378.8 292.1,378.0 292.5,377.1 292.9,376.2 293.4,375.4 293.8,374.5 294.3,373.6 294.7,372.7 295.2,371.8 295.6,370.9 296.1,369.9 296.5,369.0 297.0,368.1 297.4,367.2 297.9,366.3 298.3,365.4 298.7,364.4 299.2,363.5 299.6,362.6 300.1,361.7 300.5,360.8 301.0,360.0 301.4,359.1 301.9,358.3 302.3,357.4 302.8,356.6 303.2,355.8 303.7,355.0 304.1,354.2 304.6,353.5 305.0,352.8 305.4,352.1 305.9,351.4 306.3,350.7 306.8,350.1 307.2,349.5 307.7,349.0 308.1,348.4 308.6,347.9 309.0,347.4 309.5,347.0 309.9,346.6 310.4,346.2 310.8,345.9 311.3,345.6 311.7,345.4 312.1,345.1 312.6,344.9 313.0,344.8 313.5,344.7 313.9,344.6 314.4,344.6 314.8,344.6 315.3,344.7 315.7,344.7 316.2,344.9 316.6,345.0 317.1,345.2 317.5,345.5 318.0,345.7 318.4,346.0 318.8,346.4 319.3,346.7 319.7,347.1 320.2,347.5 320.6,348.0 321.1,348.4 321.5,348.9 322.0,349.5 322.4,350.0 322.9,350.5 323.3,351.1 323.8,351.7 324.2,352.3 324.7,352.9 325.1,353.5 325.5,354.2 326.0,354.8 326.4,355.5 326.9,356.1 327.3,356.8 327.8,357.5 328.2,358.1 328.7,358.8 329.1,359.5 329.6,360.2 330.0,360.9 330.5,361.5 330.9,362.2 331.4,362.9 331.8,363.6 332.2,364.2 332.7,364.9 333.1,365.5 333.6,366.2 334.0,366.8 334.5,367.5 334.9,368.1 335.4,368.7 335.8,369.4 336.3,370.0 336.7,370.6 337.2,371.2 337.6,371.8 338.1,372.4 338.5,372.9 338.9,373.5 339.4,374.1 339.8,374.6 340.3,375.1 340.7,375.7 341.2,376.2 341.6,376.7 342.1,377.2 342.5,377.7 343.0,378.2 343.4,378.7 343.9,379.1 344.3,379.6 344.8,380.1 345.2,380.5 345.6,380.9 346.1,381.4 346.5,381.8 347.0,382.2 347.4,382.6 347.9,383.0 348.3,383.4 348.8,383.8 349.2,384.2 349.7,384.5 350.1,384.9 350.6,385.2 351.0,385.6 351.5,385.9 351.9,386.3 352.3,386.6 352.8,386.9 353.2,387.2 353.7,387.5 354.1,387.8 354.6,388.1 355.0,388.4 355.5,388.7 355.9,389.0 356.4,389.2 356.8,389.5 357.3,389.8 357.7,390.0 358.1,390.3 358.6,390.5 359.0,390.8 359.5,391.0 359.9,391.2 360.4,391.5 360.8,391.7 361.3,391.9 361.7,392.1 362.2,392.3 362.6,392.5 363.1,392.7 363.5,392.9 364.0,393.1 364.4,393.3 364.8,393.5 365.3,393.7 365.7,393.8 366.2,394.0 366.6,394.2 367.1,394.3 367.5,394.5 368.0,394.7 368.4,394.8 368.9,395.0 369.3,395.1 369.8,395.3 370.2,395.4 370.7,395.6 371.1,395.7 371.5,395.8 372.0,396.0 372.4,396.1 372.9,396.2 373.3,396.4 373.8,396.5 374.2,396.6 374.7,396.7 375.1,396.8 375.6,397.0 376.0,397.1 376.5,397.2 376.9,397.3 377.4,397.4 377.8,397.5 378.2,397.6 378.7,397.7 379.1,397.8 379.6,397.9 380.0,398.0 380.5,398.1 380.9,398.2 381.4,398.3 381.8,398.3 382.3,398.4 382.7,398.5 383.2,398.6 383.6,398.7 384.1,398.8 384.5,398.8 384.9,398.9 385.4,399.0 385.8,399.1 386.3,399.1 386.7,399.2 387.2,399.3 387.6,399.3 388.1,399.4 388.5,399.5 389.0,399.5 389.4,399.6 389.9,399.7 390.3,399.7 390.8,399.8 391.2,399.8 391.6,399.9 392.1,400.0 392.5,400.0 393.0,400.1 393.4,400.1 393.9,400.2 394.3,400.2 394.8,400.3 395.2,400.3 395.7,400.4 396.1,400.4 396.6,400.5 397.0,400.5 397.5,400.6 397.9,400.6 398.3,400.7 398.8,400.7 399.2,400.8 399.7,400.8 400.1,400.8 400.6,400.9 401.0,400.9 401.5,401.0 401.9,401.0 402.4,401.0 402.8,401.1 403.3,401.1 403.7,401.1 404.2,401.2 404.6,401.2 405.0,401.2 405.5,401.3 405.9,401.3 406.4,401.3 406.8,401.4 407.3,401.4 407.7,401.4 408.2,401.5 408.6,401.5 409.1,401.5 409.5,401.6 410.0,401.6 410.4,401.6 410.9,401.6 411.3,401.7 411.7,401.7 412.2,401.7 412.6,401.7 413.1,401.8 413.5,401.8 414.0,401.8 414.4,401.8 414.9,401.9 415.3,401.9 415.8,401.9 416.2,401.9 416.7,402.0 417.1,402.0 417.5,402.0 418.0,402.0 418.4,402.1 418.9,402.1 419.3,402.1 419.8,402.1 420.2,402.1 420.7,402.2 421.1,402.2 421.6,402.2 422.0,402.2 422.5,402.2 422.9,402.2 423.4,402.3 423.8,402.3 424.2,402.3 424.7,402.3 425.1,402.3 425.6,402.3 426.0,402.4 426.5,402.4 426.9,402.4 427.4,402.4 427.8,402.4 428.3,402.4 428.7,402.5 429.2,402.5 429.6,402.5 430.1,402.5 430.5,402.5 430.9,402.5 431.4,402.5 431.8,402.6 432.3,402.6 432.7,402.6 433.2,402.6 433.6,402.6 434.1,402.6 434.5,402.6 435.0,402.6 435.4,402.7 435.9,402.7 436.3,402.7 436.8,402.7 437.2,402.7 437.6,402.7 438.1,402.7 438.5,402.7 439.0,402.7 439.4,402.7 439.9,402.8 440.3,402.8 440.8,402.8 441.2,402.8 441.7,402.8 442.1,402.8 442.6,402.8 443.0,402.8 443.5,402.8 443.9,402.8" fill="none" stroke="#8a9a3f" stroke-width="1.1" stroke-linejoin="round"/>
<polyline points="265.7,401.8 266.1,401.6 266.6,401.4 267.0,401.2 267.5,400.9 267.9,400.7 268.4,400.4 268.8,400.1 269.3,399.7 269.7,399.4 270.2,399.0 270.6,398.6 271.1,398.1 271.5,397.6 272.0,397.1 272.4,396.5 272.8,395.9 273.3,395.3 273.7,394.6 274.2,393.9 274.6,393.1 275.1,392.3 275.5,391.4 276.0,390.5 276.4,389.5 276.9,388.5 277.3,387.4 277.8,386.2 278.2,385.0 278.7,383.7 279.1,382.4 279.5,381.0 280.0,379.5 280.4,378.0 280.9,376.4 281.3,374.8 281.8,373.1 282.2,371.3 282.7,369.4 283.1,367.5 283.6,365.5 284.0,363.5 284.5,361.4 284.9,359.2 285.4,357.0 285.8,354.8 286.2,352.5 286.7,350.1 287.1,347.7 287.6,345.3 288.0,342.8 288.5,340.3 288.9,337.7 289.4,335.2 289.8,332.6 290.3,330.0 290.7,327.4 291.2,324.8 291.6,322.3 292.1,319.7 292.5,317.1 292.9,314.6 293.4,312.1 293.8,309.7 294.3,307.3 294.7,304.9 295.2,302.7 295.6,300.4 296.1,298.3 296.5,296.2 297.0,294.3 297.4,292.4 297.9,290.6 298.3,288.9 298.7,287.4 299.2,285.9 299.6,284.6 300.1,283.4 300.5,282.3 301.0,281.4 301.4,280.6 301.9,279.9 302.3,279.4 302.8,279.0 303.2,278.8 303.7,278.7 304.1,278.7 304.6,278.9 305.0,279.1 305.4,279.4 305.9,279.8 306.3,280.3 306.8,280.9 307.2,281.6 307.7,282.4 308.1,283.2 308.6,284.1 309.0,285.1 309.5,286.1 309.9,287.2 310.4,288.3 310.8,289.5 311.3,290.8 311.7,292.1 312.1,293.4 312.6,294.8 313.0,296.2 313.5,297.7 313.9,299.1 314.4,300.6 314.8,302.1 315.3,303.6 315.7,305.2 316.2,306.7 316.6,308.3 317.1,309.9 317.5,311.4 318.0,313.0 318.4,314.6 318.8,316.1 319.3,317.7 319.7,319.2 320.2,320.7 320.6,322.3 321.1,323.8 321.5,325.3 322.0,326.8 322.4,328.2 322.9,329.7 323.3,331.1 323.8,332.5 324.2,333.9 324.7,335.3 325.1,336.7 325.5,338.0 326.0,339.3 326.4,340.6 326.9,341.9 327.3,343.1 327.8,344.4 328.2,345.6 328.7,346.8 329.1,347.9 329.6,349.1 330.0,350.2 330.5,351.3 330.9,352.4 331.4,353.4 331.8,354.5 332.2,355.5 332.7,356.5 333.1,357.5 333.6,358.4 334.0,359.4 334.5,360.3 334.9,361.2 335.4,362.1 335.8,362.9 336.3,363.8 336.7,364.6 337.2,365.4 337.6,366.2 338.1,366.9 338.5,367.7 338.9,368.4 339.4,369.2 339.8,369.9 340.3,370.6 340.7,371.2 341.2,371.9 341.6,372.6 342.1,373.2 342.5,373.8 343.0,374.4 343.4,375.0 343.9,375.6 344.3,376.1 344.8,376.7 345.2,377.2 345.6,377.8 346.1,378.3 346.5,378.8 347.0,379.3 347.4,379.8 347.9,380.2 348.3,380.7 348.8,381.2 349.2,381.6 349.7,382.0 350.1,382.5 350.6,382.9 351.0,383.3 351.5,383.7 351.9,384.1 352.3,384.4 352.8,384.8 353.2,385.2 353.7,385.5 354.1,385.9 354.6,386.2 355.0,386.6 355.5,386.9 355.9,387.2 356.4,387.5 356.8,387.8 357.3,388.1 357.7,388.4 358.1,388.7 358.6,389.0 359.0,389.2 359.5,389.5 359.9,389.8 360.4,390.0 360.8,390.3 361.3,390.5 361.7,390.8 362.2,391.0 362.6,391.2 363.1,391.5 363.5,391.7 364.0,391.9 364.4,392.1 364.8,392.3 365.3,392.5 365.7,392.7 366.2,392.9 366.6,393.1 367.1,393.3 367.5,393.5 368.0,393.7 368.4,393.8 368.9,394.0 369.3,394.2 369.8,394.3 370.2,394.5 370.7,394.7 371.1,394.8 371.5,395.0 372.0,395.1 372.4,395.3 372.9,395.4 373.3,395.6 373.8,395.7 374.2,395.8 374.7,396.0 375.1,396.1 375.6,396.2 376.0,396.3 376.5,396.5 376.9,396.6 377.4,396.7 377.8,396.8 378.2,396.9 378.7,397.0 379.1,397.2 379.6,397.3 380.0,397.4 380.5,397.5 380.9,397.6 381.4,397.7 381.8,397.8 382.3,397.9 382.7,398.0 383.2,398.0 383.6,398.1 384.1,398.2 384.5,398.3 384.9,398.4 385.4,398.5 385.8,398.6 386.3,398.6 386.7,398.7 387.2,398.8 387.6,398.9 388.1,399.0 388.5,399.0 389.0,399.1 389.4,399.2 389.9,399.2 390.3,399.3 390.8,399.4 391.2,399.4 391.6,399.5 392.1,399.6 392.5,399.6 393.0,399.7 393.4,399.7 393.9,399.8 394.3,399.9 394.8,399.9 395.2,400.0 395.7,400.0 396.1,400.1 396.6,400.1 397.0,400.2 397.5,400.2 397.9,400.3 398.3,400.3 398.8,400.4 399.2,400.4 399.7,400.5 400.1,400.5 400.6,400.6 401.0,400.6 401.5,400.7 401.9,400.7 402.4,400.8 402.8,400.8 403.3,400.8 403.7,400.9 404.2,400.9 404.6,401.0 405.0,401.0 405.5,401.0 405.9,401.1 406.4,401.1 406.8,401.1 407.3,401.2 407.7,401.2 408.2,401.2 408.6,401.3 409.1,401.3 409.5,401.3 410.0,401.4 410.4,401.4 410.9,401.4 411.3,401.5 411.7,401.5 412.2,401.5 412.6,401.5 413.1,401.6 413.5,401.6 414.0,401.6 414.4,401.7 414.9,401.7 415.3,401.7 415.8,401.7 416.2,401.8 416.7,401.8 417.1,401.8 417.5,401.8 418.0,401.9 418.4,401.9 418.9,401.9 419.3,401.9 419.8,402.0 420.2,402.0 420.7,402.0 421.1,402.0 421.6,402.0 422.0,402.1 422.5,402.1 422.9,402.1 423.4,402.1 423.8,402.1 424.2,402.2 424.7,402.2 425.1,402.2 425.6,402.2 426.0,402.2 426.5,402.2 426.9,402.3 427.4,402.3 427.8,402.3 428.3,402.3 428.7,402.3 429.2,402.3 429.6,402.4 430.1,402.4 430.5,402.4 430.9,402.4 431.4,402.4 431.8,402.4 432.3,402.5 432.7,402.5 433.2,402.5 433.6,402.5 434.1,402.5 434.5,402.5 435.0,402.5 435.4,402.5 435.9,402.6 436.3,402.6 436.8,402.6 437.2,402.6 437.6,402.6 438.1,402.6 438.5,402.6 439.0,402.6 439.4,402.7 439.9,402.7 440.3,402.7 440.8,402.7 441.2,402.7 441.7,402.7 442.1,402.7 442.6,402.7 443.0,402.7 443.5,402.8 443.9,402.8" fill="none" stroke="#f06868" stroke-width="1.1" stroke-linejoin="round"/>
<polyline points="265.7,401.5 266.1,401.3 266.6,401.0 267.0,400.8 267.5,400.5 267.9,400.2 268.4,399.8 268.8,399.5 269.3,399.1 269.7,398.7 270.2,398.2 270.6,397.7 271.1,397.2 271.5,396.6 272.0,396.0 272.4,395.4 272.8,394.7 273.3,393.9 273.7,393.1 274.2,392.3 274.6,391.4 275.1,390.4 275.5,389.4 276.0,388.3 276.4,387.2 276.9,386.0 277.3,384.7 277.8,383.4 278.2,382.0 278.7,380.5 279.1,379.0 279.5,377.3 280.0,375.6 280.4,373.9 280.9,372.0 281.3,370.1 281.8,368.1 282.2,366.0 282.7,363.9 283.1,361.6 283.6,359.4 284.0,357.0 284.5,354.5 284.9,352.0 285.4,349.5 285.8,346.8 286.2,344.2 286.7,341.4 287.1,338.6 287.6,335.8 288.0,332.9 288.5,330.0 288.9,327.0 289.4,324.1 289.8,321.1 290.3,318.1 290.7,315.1 291.2,312.0 291.6,309.0 292.1,306.1 292.5,303.1 292.9,300.2 293.4,297.3 293.8,294.4 294.3,291.6 294.7,288.9 295.2,286.3 295.6,283.7 296.1,281.2 296.5,278.8 297.0,276.5 297.4,274.3 297.9,272.2 298.3,270.3 298.7,268.5 299.2,266.8 299.6,265.2 300.1,263.8 300.5,262.6 301.0,261.5 301.4,260.6 301.9,259.8 302.3,259.2 302.8,258.8 303.2,258.5 303.7,258.4 304.1,258.4 304.6,258.6 305.0,258.9 305.4,259.3 305.9,259.7 306.3,260.3 306.8,261.0 307.2,261.8 307.7,262.7 308.1,263.6 308.6,264.7 309.0,265.8 309.5,267.0 309.9,268.3 310.4,269.6 310.8,271.0 311.3,272.4 311.7,274.0 312.1,275.5 312.6,277.1 313.0,278.8 313.5,280.4 313.9,282.1 314.4,283.9 314.8,285.6 315.3,287.4 315.7,289.2 316.2,291.0 316.6,292.8 317.1,294.6 317.5,296.4 318.0,298.3 318.4,300.1 318.8,301.9 319.3,303.7 319.7,305.5 320.2,307.3 320.6,309.1 321.1,310.8 321.5,312.6 322.0,314.3 322.4,316.0 322.9,317.7 323.3,319.3 323.8,321.0 324.2,322.6 324.7,324.2 325.1,325.8 325.5,327.3 326.0,328.9 326.4,330.4 326.9,331.9 327.3,333.3 327.8,334.7 328.2,336.2 328.7,337.5 329.1,338.9 329.6,340.2 330.0,341.5 330.5,342.8 330.9,344.1 331.4,345.3 331.8,346.5 332.2,347.7 332.7,348.8 333.1,350.0 333.6,351.1 334.0,352.2 334.5,353.2 334.9,354.3 335.4,355.3 335.8,356.3 336.3,357.3 336.7,358.2 337.2,359.2 337.6,360.1 338.1,361.0 338.5,361.9 338.9,362.7 339.4,363.6 339.8,364.4 340.3,365.2 340.7,366.0 341.2,366.8 341.6,367.5 342.1,368.2 342.5,369.0 343.0,369.7 343.4,370.4 343.9,371.0 344.3,371.7 344.8,372.3 345.2,373.0 345.6,373.6 346.1,374.2 346.5,374.8 347.0,375.3 347.4,375.9 347.9,376.4 348.3,377.0 348.8,377.5 349.2,378.0 349.7,378.5 350.1,379.0 350.6,379.5 351.0,380.0 351.5,380.4 351.9,380.9 352.3,381.3 352.8,381.8 353.2,382.2 353.7,382.6 354.1,383.0 354.6,383.4 355.0,383.8 355.5,384.2 355.9,384.5 356.4,384.9 356.8,385.2 357.3,385.6 357.7,385.9 358.1,386.3 358.6,386.6 359.0,386.9 359.5,387.2 359.9,387.5 360.4,387.8 360.8,388.1 361.3,388.4 361.7,388.7 362.2,389.0 362.6,389.2 363.1,389.5 363.5,389.7 364.0,390.0 364.4,390.2 364.8,390.5 365.3,390.7 365.7,391.0 366.2,391.2 366.6,391.4 367.1,391.6 367.5,391.8 368.0,392.0 368.4,392.3 368.9,392.5 369.3,392.6 369.8,392.8 370.2,393.0 370.7,393.2 371.1,393.4 371.5,393.6 372.0,393.7 372.4,393.9 372.9,394.1 373.3,394.2 373.8,394.4 374.2,394.6 374.7,394.7 375.1,394.9 375.6,395.0 376.0,395.2 376.5,395.3 376.9,395.4 377.4,395.6 377.8,395.7 378.2,395.9 378.7,396.0 379.1,396.1 379.6,396.2 380.0,396.4 380.5,396.5 380.9,396.6 381.4,396.7 381.8,396.8 382.3,396.9 382.7,397.0 383.2,397.1 383.6,397.3 384.1,397.4 384.5,397.5 384.9,397.6 385.4,397.7 385.8,397.7 386.3,397.8 386.7,397.9 387.2,398.0 387.6,398.1 388.1,398.2 388.5,398.3 389.0,398.4 389.4,398.4 389.9,398.5 390.3,398.6 390.8,398.7 391.2,398.8 391.6,398.8 392.1,398.9 392.5,399.0 393.0,399.1 393.4,399.1 393.9,399.2 394.3,399.3 394.8,399.3 395.2,399.4 395.7,399.5 396.1,399.5 396.6,399.6 397.0,399.6 397.5,399.7 397.9,399.8 398.3,399.8 398.8,399.9 399.2,399.9 399.7,400.0 400.1,400.0 400.6,400.1 401.0,400.1 401.5,400.2 401.9,400.2 402.4,400.3 402.8,400.3 403.3,400.4 403.7,400.4 404.2,400.5 404.6,400.5 405.0,400.6 405.5,400.6 405.9,400.7 406.4,400.7 406.8,400.7 407.3,400.8 407.7,400.8 408.2,400.9 408.6,400.9 409.1,400.9 409.5,401.0 410.0,401.0 410.4,401.0 410.9,401.1 411.3,401.1 411.7,401.1 412.2,401.2 412.6,401.2 413.1,401.2 413.5,401.3 414.0,401.3 414.4,401.3 414.9,401.4 415.3,401.4 415.8,401.4 416.2,401.5 416.7,401.5 417.1,401.5 417.5,401.5 418.0,401.6 418.4,401.6 418.9,401.6 419.3,401.7 419.8,401.7 420.2,401.7 420.7,401.7 421.1,401.8 421.6,401.8 422.0,401.8 422.5,401.8 422.9,401.9 423.4,401.9 423.8,401.9 424.2,401.9 424.7,401.9 425.1,402.0 425.6,402.0 426.0,402.0 426.5,402.0 426.9,402.0 427.4,402.1 427.8,402.1 428.3,402.1 428.7,402.1 429.2,402.1 429.6,402.2 430.1,402.2 430.5,402.2 430.9,402.2 431.4,402.2 431.8,402.2 432.3,402.3 432.7,402.3 433.2,402.3 433.6,402.3 434.1,402.3 434.5,402.3 435.0,402.4 435.4,402.4 435.9,402.4 436.3,402.4 436.8,402.4 437.2,402.4 437.6,402.4 438.1,402.5 438.5,402.5 439.0,402.5 439.4,402.5 439.9,402.5 440.3,402.5 440.8,402.5 441.2,402.6 441.7,402.6 442.1,402.6 442.6,402.6 443.0,402.6 443.5,402.6 443.9,402.6" fill="none" stroke="#2e7d5b" stroke-width="1.1" stroke-linejoin="round"/>
<line x1="335.80" y1="274.50" x2="362.50" y2="328.50" stroke="#222" stroke-width="1"/>
<path d="M364.4,332.2 L359.8,327.4 L363.6,325.6 z" fill="#222"/>
<rect x="378.3" y="262.4" width="57.2" height="101.5" fill="#111"/>
<rect x="376.5" y="260.5" width="57.2" height="101.5" fill="#fff" stroke="#999" stroke-width="0.6"/>
<line x1="377.80" y1="266.80" x2="395.30" y2="266.80" stroke="#2e7d5b" stroke-width="1.1"/>
<text x="399.00" y="269.80" font-size="8.2" text-anchor="start" fill="#2e7d5b" stroke="#2e7d5b" stroke-width="0.15">1atm</text>
<line x1="377.80" y1="276.66" x2="395.30" y2="276.66" stroke="#8a9a3f" stroke-width="1.1"/>
<text x="399.00" y="279.66" font-size="8.2" text-anchor="start" fill="#8a9a3f" stroke="#8a9a3f" stroke-width="0.15">1.0GPa</text>
<line x1="377.80" y1="286.52" x2="395.30" y2="286.52" stroke="#7a9a3a" stroke-width="1.1"/>
<text x="399.00" y="289.52" font-size="8.2" text-anchor="start" fill="#7a9a3a" stroke="#7a9a3a" stroke-width="0.15">2.1GPa</text>
<line x1="377.80" y1="296.38" x2="395.30" y2="296.38" stroke="#c8c060" stroke-width="1.1"/>
<text x="399.00" y="299.38" font-size="8.2" text-anchor="start" fill="#c8c060" stroke="#c8c060" stroke-width="0.15">3.0GPa</text>
<line x1="377.80" y1="306.24" x2="395.30" y2="306.24" stroke="#e8c85a" stroke-width="1.1"/>
<text x="399.00" y="309.24" font-size="8.2" text-anchor="start" fill="#e8c85a" stroke="#e8c85a" stroke-width="0.15">4.0GPa</text>
<line x1="377.80" y1="316.10" x2="395.30" y2="316.10" stroke="#f0c870" stroke-width="1.1"/>
<text x="399.00" y="319.10" font-size="8.2" text-anchor="start" fill="#f0c870" stroke="#f0c870" stroke-width="0.15">5.0GPa</text>
<line x1="377.80" y1="325.96" x2="395.30" y2="325.96" stroke="#f0a050" stroke-width="1.1"/>
<text x="399.00" y="328.96" font-size="8.2" text-anchor="start" fill="#f0a050" stroke="#f0a050" stroke-width="0.15">6.0GPa</text>
<line x1="377.80" y1="335.82" x2="395.30" y2="335.82" stroke="#f09a50" stroke-width="1.1"/>
<text x="399.00" y="338.82" font-size="8.2" text-anchor="start" fill="#f09a50" stroke="#f09a50" stroke-width="0.15">7.1GPa</text>
<line x1="377.80" y1="345.68" x2="395.30" y2="345.68" stroke="#f08a60" stroke-width="1.1"/>
<text x="399.00" y="348.68" font-size="8.2" text-anchor="start" fill="#f08a60" stroke="#f08a60" stroke-width="0.15">8.1GPa</text>
<line x1="377.80" y1="355.54" x2="395.30" y2="355.54" stroke="#f06868" stroke-width="1.1"/>
<text x="399.00" y="358.54" font-size="8.2" text-anchor="start" fill="#f06868" stroke="#f06868" stroke-width="0.15">Released</text>
<text x="455.00" y="227.80" font-size="12.5" text-anchor="start" fill="#222" stroke="#222" stroke-width="0.3">(f)</text>
<defs><linearGradient id="gnoz" x1="0" x2="0" y1="0" y2="1"><stop offset="0" stop-color="#9a9a9a"/><stop offset="1" stop-color="#707070"/></linearGradient><linearGradient id="gdia" x1="0" x2="0" y1="0" y2="1"><stop offset="0" stop-color="#dbe9f5"/><stop offset="0.5" stop-color="#a8c8e6"/><stop offset="1" stop-color="#e8f0f8"/></linearGradient><linearGradient id="gdia2" x1="0" x2="0" y1="1" y2="0"><stop offset="0" stop-color="#dbe9f5"/><stop offset="0.5" stop-color="#a8c8e6"/><stop offset="1" stop-color="#e8f0f8"/></linearGradient><linearGradient id="gboxf" x1="0" x2="0" y1="0" y2="1"><stop offset="0" stop-color="#b8b8b8"/><stop offset="1" stop-color="#7a7a7a"/></linearGradient><linearGradient id="gboxt" x1="0" x2="1" y1="0" y2="0"><stop offset="0" stop-color="#6a6a6a"/><stop offset="1" stop-color="#a0a0a0"/></linearGradient><linearGradient id="gboxr" x1="0" x2="0" y1="0" y2="1"><stop offset="0" stop-color="#d8d8d8"/><stop offset="1" stop-color="#9a9a9a"/></linearGradient><pattern id="pgask" width="3" height="3" patternUnits="userSpaceOnUse"><rect width="3" height="3" fill="#9a9a9a"/><rect width="1" height="1" fill="#555"/><rect x="2" y="1" width="1" height="1" fill="#ddd"/><rect x="1" y="2" width="1" height="1" fill="#666"/></pattern></defs>
<path d="M508,230.7 L533,230.7 L527.4,241.8 L513.6,241.8 z" fill="url(#gnoz)" stroke="#555" stroke-width="0.6"/>
<path d="M492.7,287.8 L517,286.8 L517,297.4 L492.7,297.2 z" fill="#a4a4a4"/>
<path d="M526.4,286.8 L547.6,287.8 L547.6,297.2 L526.4,297.4 z" fill="#a4a4a4"/>
<rect x="497.4" y="289.5" width="0.8" height="0.8" fill="#707070"/><rect x="497.9" y="291.4" width="0.8" height="0.8" fill="#e0e0e0"/><rect x="501.5" y="294.3" width="0.8" height="0.8" fill="#555555"/><rect x="514.2" y="292.2" width="0.8" height="0.8" fill="#555555"/><rect x="516.3" y="292.8" width="0.8" height="0.8" fill="#707070"/><rect x="545.2" y="289.9" width="0.8" height="0.8" fill="#e0e0e0"/><rect x="528.3" y="293.9" width="0.8" height="0.8" fill="#f0f0f0"/><rect x="492.8" y="296.5" width="0.8" height="0.8" fill="#707070"/><rect x="509.1" y="290.2" width="0.8" height="0.8" fill="#555555"/><rect x="535.2" y="287.5" width="0.8" height="0.8" fill="#f0f0f0"/><rect x="531.5" y="290.8" width="0.8" height="0.8" fill="#707070"/><rect x="529.0" y="296.1" width="0.8" height="0.8" fill="#555555"/><rect x="504.1" y="293.2" width="0.8" height="0.8" fill="#707070"/><rect x="533.4" y="294.1" width="0.8" height="0.8" fill="#707070"/><rect x="504.7" y="295.2" width="0.8" height="0.8" fill="#f0f0f0"/><rect x="530.2" y="295.1" width="0.8" height="0.8" fill="#c8c8c8"/><rect x="516.2" y="294.5" width="0.8" height="0.8" fill="#707070"/><rect x="498.3" y="295.4" width="0.8" height="0.8" fill="#f0f0f0"/><rect x="514.3" y="291.8" width="0.8" height="0.8" fill="#888888"/><rect x="531.0" y="290.0" width="0.8" height="0.8" fill="#555555"/><rect x="540.5" y="289.8" width="0.8" height="0.8" fill="#c8c8c8"/><rect x="514.6" y="293.1" width="0.8" height="0.8" fill="#c8c8c8"/><rect x="503.5" y="288.9" width="0.8" height="0.8" fill="#555555"/><rect x="534.0" y="292.6" width="0.8" height="0.8" fill="#e0e0e0"/><rect x="543.3" y="289.2" width="0.8" height="0.8" fill="#707070"/><rect x="502.0" y="296.5" width="0.8" height="0.8" fill="#f0f0f0"/><rect x="526.9" y="293.0" width="0.8" height="0.8" fill="#c8c8c8"/><rect x="535.9" y="294.8" width="0.8" height="0.8" fill="#f0f0f0"/><rect x="495.7" y="290.7" width="0.8" height="0.8" fill="#555555"/><rect x="503.3" y="289.3" width="0.8" height="0.8" fill="#555555"/><rect x="539.8" y="288.4" width="0.8" height="0.8" fill="#555555"/><rect x="539.3" y="296.5" width="0.8" height="0.8" fill="#707070"/><rect x="531.6" y="289.3" width="0.8" height="0.8" fill="#e0e0e0"/><rect x="531.5" y="287.7" width="0.8" height="0.8" fill="#c8c8c8"/><rect x="530.0" y="290.7" width="0.8" height="0.8" fill="#555555"/><rect x="529.5" y="293.6" width="0.8" height="0.8" fill="#c8c8c8"/><rect x="503.6" y="292.0" width="0.8" height="0.8" fill="#c8c8c8"/><rect x="535.2" y="291.0" width="0.8" height="0.8" fill="#555555"/><rect x="493.8" y="292.3" width="0.8" height="0.8" fill="#555555"/><rect x="533.4" y="290.9" width="0.8" height="0.8" fill="#707070"/><rect x="513.6" y="295.9" width="0.8" height="0.8" fill="#555555"/><rect x="511.9" y="290.5" width="0.8" height="0.8" fill="#888888"/><rect x="497.8" y="292.4" width="0.8" height="0.8" fill="#555555"/><rect x="533.5" y="296.3" width="0.8" height="0.8" fill="#f0f0f0"/><rect x="538.9" y="294.3" width="0.8" height="0.8" fill="#555555"/><rect x="537.7" y="289.6" width="0.8" height="0.8" fill="#e0e0e0"/><rect x="511.5" y="289.7" width="0.8" height="0.8" fill="#888888"/><rect x="510.2" y="293.1" width="0.8" height="0.8" fill="#c8c8c8"/><rect x="498.4" y="291.4" width="0.8" height="0.8" fill="#f0f0f0"/><rect x="531.5" y="288.0" width="0.8" height="0.8" fill="#888888"/><rect x="502.0" y="292.1" width="0.8" height="0.8" fill="#c8c8c8"/><rect x="529.2" y="290.4" width="0.8" height="0.8" fill="#888888"/><rect x="503.5" y="296.1" width="0.8" height="0.8" fill="#888888"/><rect x="500.8" y="289.9" width="0.8" height="0.8" fill="#707070"/><rect x="511.4" y="289.4" width="0.8" height="0.8" fill="#c8c8c8"/><rect x="544.1" y="288.4" width="0.8" height="0.8" fill="#c8c8c8"/><rect x="515.5" y="293.6" width="0.8" height="0.8" fill="#555555"/><rect x="547.6" y="288.6" width="0.8" height="0.8" fill="#f0f0f0"/><rect x="541.1" y="287.7" width="0.8" height="0.8" fill="#f0f0f0"/><rect x="502.2" y="294.6" width="0.8" height="0.8" fill="#c8c8c8"/><rect x="544.2" y="292.4" width="0.8" height="0.8" fill="#888888"/><rect x="496.2" y="291.2" width="0.8" height="0.8" fill="#555555"/><rect x="539.2" y="289.5" width="0.8" height="0.8" fill="#555555"/><rect x="515.0" y="289.7" width="0.8" height="0.8" fill="#e0e0e0"/><rect x="531.3" y="290.2" width="0.8" height="0.8" fill="#f0f0f0"/><rect x="534.7" y="292.0" width="0.8" height="0.8" fill="#888888"/><rect x="535.7" y="292.2" width="0.8" height="0.8" fill="#c8c8c8"/><rect x="540.6" y="292.6" width="0.8" height="0.8" fill="#555555"/><rect x="545.7" y="287.2" width="0.8" height="0.8" fill="#888888"/><rect x="534.9" y="293.8" width="0.8" height="0.8" fill="#888888"/><rect x="529.1" y="295.6" width="0.8" height="0.8" fill="#e0e0e0"/><rect x="529.3" y="290.3" width="0.8" height="0.8" fill="#e0e0e0"/><rect x="529.5" y="293.1" width="0.8" height="0.8" fill="#888888"/><rect x="494.2" y="292.4" width="0.8" height="0.8" fill="#e0e0e0"/><rect x="539.8" y="293.3" width="0.8" height="0.8" fill="#888888"/><rect x="514.2" y="290.6" width="0.8" height="0.8" fill="#c8c8c8"/><rect x="532.2" y="287.9" width="0.8" height="0.8" fill="#707070"/><rect x="540.8" y="296.4" width="0.8" height="0.8" fill="#f0f0f0"/><rect x="500.1" y="288.3" width="0.8" height="0.8" fill="#555555"/><rect x="514.7" y="289.8" width="0.8" height="0.8" fill="#f0f0f0"/><rect x="513.7" y="293.5" width="0.8" height="0.8" fill="#707070"/><rect x="528.9" y="294.1" width="0.8" height="0.8" fill="#555555"/><rect x="493.4" y="295.0" width="0.8" height="0.8" fill="#888888"/><rect x="508.1" y="295.7" width="0.8" height="0.8" fill="#888888"/><rect x="504.3" y="292.4" width="0.8" height="0.8" fill="#707070"/><rect x="542.2" y="295.7" width="0.8" height="0.8" fill="#707070"/><rect x="500.1" y="293.2" width="0.8" height="0.8" fill="#707070"/><rect x="503.7" y="291.2" width="0.8" height="0.8" fill="#f0f0f0"/><rect x="531.9" y="294.3" width="0.8" height="0.8" fill="#707070"/><rect x="527.8" y="293.6" width="0.8" height="0.8" fill="#888888"/><rect x="512.1" y="293.5" width="0.8" height="0.8" fill="#e0e0e0"/><rect x="531.0" y="292.1" width="0.8" height="0.8" fill="#c8c8c8"/><rect x="511.2" y="291.4" width="0.8" height="0.8" fill="#707070"/><rect x="503.0" y="288.6" width="0.8" height="0.8" fill="#f0f0f0"/><rect x="493.4" y="295.4" width="0.8" height="0.8" fill="#707070"/><rect x="505.7" y="289.8" width="0.8" height="0.8" fill="#f0f0f0"/><rect x="503.6" y="293.0" width="0.8" height="0.8" fill="#e0e0e0"/><rect x="537.7" y="289.2" width="0.8" height="0.8" fill="#888888"/><rect x="540.9" y="291.7" width="0.8" height="0.8" fill="#c8c8c8"/><rect x="536.7" y="295.9" width="0.8" height="0.8" fill="#e0e0e0"/><rect x="503.1" y="292.0" width="0.8" height="0.8" fill="#707070"/><rect x="542.6" y="287.4" width="0.8" height="0.8" fill="#f0f0f0"/><rect x="529.1" y="290.3" width="0.8" height="0.8" fill="#f0f0f0"/><rect x="500.4" y="294.8" width="0.8" height="0.8" fill="#555555"/><rect x="545.4" y="292.2" width="0.8" height="0.8" fill="#e0e0e0"/><rect x="538.2" y="294.4" width="0.8" height="0.8" fill="#888888"/><rect x="496.2" y="289.2" width="0.8" height="0.8" fill="#888888"/><rect x="528.8" y="294.7" width="0.8" height="0.8" fill="#f0f0f0"/><rect x="527.6" y="294.2" width="0.8" height="0.8" fill="#707070"/><rect x="505.3" y="289.0" width="0.8" height="0.8" fill="#c8c8c8"/><rect x="547.2" y="287.3" width="0.8" height="0.8" fill="#e0e0e0"/><rect x="541.0" y="289.4" width="0.8" height="0.8" fill="#e0e0e0"/><rect x="495.4" y="291.0" width="0.8" height="0.8" fill="#555555"/><rect x="516.2" y="296.2" width="0.8" height="0.8" fill="#707070"/><rect x="499.3" y="296.3" width="0.8" height="0.8" fill="#c8c8c8"/><rect x="544.2" y="290.4" width="0.8" height="0.8" fill="#555555"/><rect x="532.6" y="287.2" width="0.8" height="0.8" fill="#f0f0f0"/><rect x="529.9" y="293.2" width="0.8" height="0.8" fill="#888888"/><rect x="537.0" y="288.7" width="0.8" height="0.8" fill="#888888"/><rect x="494.3" y="295.2" width="0.8" height="0.8" fill="#888888"/><rect x="515.6" y="289.6" width="0.8" height="0.8" fill="#888888"/><rect x="528.4" y="287.7" width="0.8" height="0.8" fill="#707070"/><rect x="506.1" y="290.1" width="0.8" height="0.8" fill="#707070"/><rect x="532.8" y="292.9" width="0.8" height="0.8" fill="#707070"/><rect x="542.3" y="293.9" width="0.8" height="0.8" fill="#f0f0f0"/><rect x="510.5" y="288.4" width="0.8" height="0.8" fill="#707070"/><rect x="506.0" y="293.0" width="0.8" height="0.8" fill="#c8c8c8"/><rect x="508.9" y="290.5" width="0.8" height="0.8" fill="#e0e0e0"/><rect x="536.8" y="296.4" width="0.8" height="0.8" fill="#e0e0e0"/><rect x="496.6" y="294.5" width="0.8" height="0.8" fill="#555555"/><rect x="516.0" y="293.3" width="0.8" height="0.8" fill="#c8c8c8"/><rect x="496.5" y="296.4" width="0.8" height="0.8" fill="#e0e0e0"/><rect x="545.3" y="291.2" width="0.8" height="0.8" fill="#e0e0e0"/><rect x="507.6" y="292.8" width="0.8" height="0.8" fill="#888888"/><rect x="504.0" y="292.3" width="0.8" height="0.8" fill="#f0f0f0"/><rect x="538.1" y="288.9" width="0.8" height="0.8" fill="#f0f0f0"/><rect x="541.2" y="288.4" width="0.8" height="0.8" fill="#e0e0e0"/><rect x="532.2" y="290.1" width="0.8" height="0.8" fill="#707070"/><rect x="499.2" y="288.0" width="0.8" height="0.8" fill="#555555"/><rect x="493.8" y="287.7" width="0.8" height="0.8" fill="#e0e0e0"/><rect x="544.6" y="294.7" width="0.8" height="0.8" fill="#c8c8c8"/><rect x="503.3" y="295.5" width="0.8" height="0.8" fill="#888888"/><rect x="535.9" y="293.6" width="0.8" height="0.8" fill="#f0f0f0"/><rect x="546.4" y="292.2" width="0.8" height="0.8" fill="#c8c8c8"/><rect x="497.3" y="287.9" width="0.8" height="0.8" fill="#f0f0f0"/><rect x="532.9" y="293.2" width="0.8" height="0.8" fill="#c8c8c8"/><rect x="533.5" y="290.0" width="0.8" height="0.8" fill="#c8c8c8"/><rect x="507.3" y="290.8" width="0.8" height="0.8" fill="#888888"/><rect x="507.3" y="295.2" width="0.8" height="0.8" fill="#707070"/><rect x="504.1" y="294.1" width="0.8" height="0.8" fill="#555555"/><rect x="514.5" y="290.5" width="0.8" height="0.8" fill="#555555"/><rect x="541.8" y="289.3" width="0.8" height="0.8" fill="#f0f0f0"/><rect x="501.2" y="291.9" width="0.8" height="0.8" fill="#e0e0e0"/><rect x="511.7" y="292.9" width="0.8" height="0.8" fill="#c8c8c8"/><rect x="529.9" y="295.0" width="0.8" height="0.8" fill="#888888"/><rect x="528.1" y="287.8" width="0.8" height="0.8" fill="#707070"/><rect x="496.3" y="287.7" width="0.8" height="0.8" fill="#555555"/><rect x="535.6" y="290.8" width="0.8" height="0.8" fill="#555555"/><rect x="504.1" y="287.6" width="0.8" height="0.8" fill="#555555"/><rect x="539.8" y="290.5" width="0.8" height="0.8" fill="#707070"/><rect x="515.8" y="289.7" width="0.8" height="0.8" fill="#555555"/><rect x="531.3" y="290.9" width="0.8" height="0.8" fill="#e0e0e0"/><rect x="514.4" y="292.7" width="0.8" height="0.8" fill="#c8c8c8"/><rect x="542.2" y="296.3" width="0.8" height="0.8" fill="#c8c8c8"/><rect x="495.5" y="290.8" width="0.8" height="0.8" fill="#888888"/><rect x="513.3" y="294.9" width="0.8" height="0.8" fill="#555555"/><rect x="530.0" y="292.6" width="0.8" height="0.8" fill="#c8c8c8"/><rect x="537.2" y="293.1" width="0.8" height="0.8" fill="#555555"/><rect x="509.3" y="294.7" width="0.8" height="0.8" fill="#555555"/><rect x="503.0" y="294.8" width="0.8" height="0.8" fill="#555555"/><rect x="495.2" y="288.5" width="0.8" height="0.8" fill="#555555"/><rect x="531.7" y="292.9" width="0.8" height="0.8" fill="#c8c8c8"/><rect x="494.7" y="289.8" width="0.8" height="0.8" fill="#555555"/><rect x="511.8" y="289.1" width="0.8" height="0.8" fill="#e0e0e0"/><rect x="492.8" y="289.7" width="0.8" height="0.8" fill="#707070"/><rect x="495.4" y="292.5" width="0.8" height="0.8" fill="#f0f0f0"/><rect x="542.6" y="293.9" width="0.8" height="0.8" fill="#555555"/><rect x="528.3" y="288.3" width="0.8" height="0.8" fill="#707070"/><rect x="507.2" y="295.6" width="0.8" height="0.8" fill="#888888"/><rect x="534.5" y="290.8" width="0.8" height="0.8" fill="#f0f0f0"/><rect x="536.5" y="296.6" width="0.8" height="0.8" fill="#707070"/><rect x="501.6" y="288.2" width="0.8" height="0.8" fill="#888888"/><rect x="532.2" y="287.8" width="0.8" height="0.8" fill="#e0e0e0"/><rect x="498.9" y="293.6" width="0.8" height="0.8" fill="#c8c8c8"/><rect x="534.1" y="296.2" width="0.8" height="0.8" fill="#707070"/><rect x="514.1" y="291.0" width="0.8" height="0.8" fill="#888888"/><rect x="531.4" y="294.8" width="0.8" height="0.8" fill="#888888"/><rect x="510.5" y="287.7" width="0.8" height="0.8" fill="#555555"/><rect x="505.6" y="294.2" width="0.8" height="0.8" fill="#f0f0f0"/><rect x="546.5" y="287.9" width="0.8" height="0.8" fill="#f0f0f0"/><rect x="514.8" y="295.6" width="0.8" height="0.8" fill="#707070"/><rect x="511.9" y="294.7" width="0.8" height="0.8" fill="#c8c8c8"/><rect x="540.2" y="288.6" width="0.8" height="0.8" fill="#e0e0e0"/><rect x="500.8" y="288.9" width="0.8" height="0.8" fill="#c8c8c8"/><rect x="506.6" y="294.9" width="0.8" height="0.8" fill="#c8c8c8"/><rect x="502.7" y="293.2" width="0.8" height="0.8" fill="#888888"/><rect x="507.1" y="287.8" width="0.8" height="0.8" fill="#555555"/><rect x="502.8" y="288.5" width="0.8" height="0.8" fill="#f0f0f0"/><rect x="492.9" y="294.8" width="0.8" height="0.8" fill="#e0e0e0"/><rect x="494.9" y="296.5" width="0.8" height="0.8" fill="#555555"/><rect x="543.7" y="295.8" width="0.8" height="0.8" fill="#e0e0e0"/><rect x="494.3" y="293.4" width="0.8" height="0.8" fill="#e0e0e0"/><rect x="496.3" y="287.3" width="0.8" height="0.8" fill="#707070"/><rect x="509.5" y="294.4" width="0.8" height="0.8" fill="#f0f0f0"/><rect x="535.7" y="293.3" width="0.8" height="0.8" fill="#f0f0f0"/><rect x="539.5" y="295.1" width="0.8" height="0.8" fill="#f0f0f0"/><rect x="516.3" y="293.4" width="0.8" height="0.8" fill="#555555"/><rect x="528.2" y="290.2" width="0.8" height="0.8" fill="#707070"/><rect x="504.6" y="288.2" width="0.8" height="0.8" fill="#888888"/><rect x="540.8" y="295.2" width="0.8" height="0.8" fill="#e0e0e0"/><rect x="531.5" y="293.0" width="0.8" height="0.8" fill="#555555"/><rect x="541.1" y="291.7" width="0.8" height="0.8" fill="#555555"/><rect x="530.4" y="288.4" width="0.8" height="0.8" fill="#555555"/>
<path d="M500.5,263.5 L541.3,263.5 L549.9,271.3 L526.5,287.8 L515.5,287.8 L491.9,271.3 Z" fill="#d6e6f4" stroke="#9cbcdc" stroke-width="0.5"/>
<path d="M500.5,263.5 L507,263.5 L500,271.3 z" fill="#ffffff" opacity="0.75"/><path d="M507,263.5 L514,263.5 L510,271.3 z" fill="#b8d0ea" opacity="0.75"/><path d="M514,263.5 L521,263.5 L521,271.3 z" fill="#ffffff" opacity="0.75"/><path d="M521,263.5 L528,263.5 L532,271.3 z" fill="#b8d0ea" opacity="0.75"/><path d="M528,263.5 L535,263.5 L542,271.3 z" fill="#ffffff" opacity="0.75"/><path d="M535,263.5 L541.3,263.5 L549.9,271.3 z" fill="#b8d0ea" opacity="0.75"/><path d="M491.9,271.3 L500,271.3 L517.5,287.8 L515.5,287.8 z" fill="#a9c6e4" opacity="0.7"/><path d="M500,271.3 L510,271.3 L519.5,287.8 L517.5,287.8 z" fill="#eef5fc" opacity="0.7"/><path d="M510,271.3 L521,271.3 L521,287.8 L519.5,287.8 z" fill="#a9c6e4" opacity="0.7"/><path d="M521,271.3 L532,271.3 L522.5,287.8 L521,287.8 z" fill="#eef5fc" opacity="0.7"/><path d="M532,271.3 L542,271.3 L524.5,287.8 L522.5,287.8 z" fill="#a9c6e4" opacity="0.7"/><path d="M542,271.3 L549.9,271.3 L526.5,287.8 L524.5,287.8 z" fill="#eef5fc" opacity="0.7"/>
<path d="M500.5,263.5 L491.9,271.3 L515.5,287.8 M507,263.5 L500,271.3 L517.5,287.8 M514,263.5 L510,271.3 L519.5,287.8 M521,263.5 L521,271.3 L521,287.8 M528,263.5 L532,271.3 L522.5,287.8 M535,263.5 L542,271.3 L524.5,287.8 M541.3,263.5 L549.9,271.3 L526.5,287.8 M491.9,271.3 L549.9,271.3" fill="none" stroke="#7ea6d0" stroke-width="0.45"/>
<path d="M495,275.4 l10,3.3 M546,275.4 l-10,3.3 M503,267.4 l8,0 M530,267.4 l8,0" stroke="#fff" stroke-width="0.8" opacity="0.9"/>
<path d="M500.5,320.2 L541.3,320.2 L549.9,312.0 L526.5,297.2 L515.5,297.2 L491.9,312.0 Z" fill="#d6e6f4" stroke="#9cbcdc" stroke-width="0.5"/>
<path d="M500.5,320.2 L507,320.2 L500,312.0 z" fill="#ffffff" opacity="0.75"/><path d="M507,320.2 L514,320.2 L510,312.0 z" fill="#b8d0ea" opacity="0.75"/><path d="M514,320.2 L521,320.2 L521,312.0 z" fill="#ffffff" opacity="0.75"/><path d="M521,320.2 L528,320.2 L532,312.0 z" fill="#b8d0ea" opacity="0.75"/><path d="M528,320.2 L535,320.2 L542,312.0 z" fill="#ffffff" opacity="0.75"/><path d="M535,320.2 L541.3,320.2 L549.9,312.0 z" fill="#b8d0ea" opacity="0.75"/><path d="M491.9,312.0 L500,312.0 L517.5,297.2 L515.5,297.2 z" fill="#a9c6e4" opacity="0.7"/><path d="M500,312.0 L510,312.0 L519.5,297.2 L517.5,297.2 z" fill="#eef5fc" opacity="0.7"/><path d="M510,312.0 L521,312.0 L521,297.2 L519.5,297.2 z" fill="#a9c6e4" opacity="0.7"/><path d="M521,312.0 L532,312.0 L522.5,297.2 L521,297.2 z" fill="#eef5fc" opacity="0.7"/><path d="M532,312.0 L542,312.0 L524.5,297.2 L522.5,297.2 z" fill="#a9c6e4" opacity="0.7"/><path d="M542,312.0 L549.9,312.0 L526.5,297.2 L524.5,297.2 z" fill="#eef5fc" opacity="0.7"/>
<path d="M500.5,320.2 L491.9,312.0 L515.5,297.2 M507,320.2 L500,312.0 L517.5,297.2 M514,320.2 L510,312.0 L519.5,297.2 M521,320.2 L521,312.0 L521,297.2 M528,320.2 L532,312.0 L522.5,297.2 M535,320.2 L542,312.0 L524.5,297.2 M541.3,320.2 L549.9,312.0 L526.5,297.2 M491.9,312.0 L549.9,312.0" fill="none" stroke="#7ea6d0" stroke-width="0.45"/>
<path d="M495,308.3 l10,-3.0 M546,308.3 l-10,-3.0 M503,316.1 l8,0 M530,316.1 l8,0" stroke="#fff" stroke-width="0.8" opacity="0.9"/>
<defs><linearGradient id="gbeam" x1="0" x2="0" y1="0" y2="1"><stop offset="0" stop-color="#7a38c0"/><stop offset="0.8" stop-color="#8a48c8"/><stop offset="1" stop-color="#c8a8e8"/></linearGradient></defs>
<rect x="520.1" y="241.8" width="1.8" height="44" fill="url(#gbeam)"/>
<path d="M516.6,291 q1.5,-3.2 4.5,-2.8 q2.4,-0.9 3.2,1.4 q0.7,2.4 -1,4 q-2.5,1.7 -5,0.8 q-2.2,-0.6 -1.7,-3.4 z" fill="#f5c010"/>
<circle cx="524.8" cy="295.6" r="1.5" fill="#e82020"/>
<text x="524.00" y="254.00" font-size="7" text-anchor="start" fill="#111" stroke="#111" stroke-width="0.15" font-weight="bold">Laser</text>
<text x="476.30" y="284.00" font-size="7" text-anchor="start" fill="#111" stroke="#111" stroke-width="0.15" font-weight="bold">Sample</text>
<text x="537.90" y="284.00" font-size="7" text-anchor="start" fill="#111" stroke="#111" stroke-width="0.15" font-weight="bold">Ruby</text>
<text x="476.30" y="306.50" font-size="7" text-anchor="start" fill="#111" stroke="#111" stroke-width="0.15" font-weight="bold">Gasket</text>
<line x1="502.90" y1="283.00" x2="515.50" y2="290.80" stroke="#111" stroke-width="0.8"/>
<path d="M517.5,292 L513.6,291.3 L515.2,288.9 z" fill="#111"/>
<line x1="539.00" y1="286.20" x2="528.50" y2="293.40" stroke="#111" stroke-width="0.8"/>
<path d="M527,294.5 L528.5,291.6 L530.1,293.9 z" fill="#111"/>
<line x1="488.50" y1="301.50" x2="492.50" y2="298.20" stroke="#111" stroke-width="0.8"/>
<path d="M494,297 L490.6,297.9 L492.6,300.2 z" fill="#111"/>
<line x1="520.90" y1="323.50" x2="520.90" y2="351.20" stroke="#111" stroke-width="1.6"/>
<path d="M516.2,331.8 L525.8,331.8 L521,338.8 z" fill="#111"/>
<path d="M489,369.2 L509.8,352.6 L543,352.6 L522.3,369.2 z" fill="url(#gboxt)"/>
<path d="M522.3,369.2 L543,352.6 L543,380.2 L522.3,396.8 z" fill="url(#gboxr)"/>
<rect x="489" y="369.2" width="33.3" height="27.6" fill="url(#gboxf)"/>
<text x="506.00" y="408.80" font-size="8.6" text-anchor="middle" fill="#111" stroke="#111" stroke-width="0.15" font-weight="bold">Detection</text>
<polyline points="507.8,383.2 504.6,391.8 651.3,391.8 651.3,320.0 573.0,320.0 573.0,278.9 583.5,278.9" fill="none" stroke="#111" stroke-width="1.6" stroke-linejoin="round"/>
<path d="M577.6,386.8 L585,391.8 L577.6,396.8 z" fill="#111"/>
<rect x="583.5" y="241.6" width="24.1" height="52" fill="#eeeeee" stroke="#888" stroke-width="0.8"/>
<rect x="585" y="243.2" width="21" height="5.5" fill="#aaa"/><rect x="588" y="244.5" width="15" height="3" fill="#ddd"/>
<rect x="587" y="251" width="17" height="1.4" fill="#999"/>
<rect x="593.2" y="255.4" width="5" height="6" fill="#777"/>
<rect x="587.7" y="273.4" width="16" height="1.3" fill="#888"/>
<rect x="587.7" y="275.8" width="16" height="1.3" fill="#888"/>
<rect x="587.7" y="278.2" width="16" height="1.3" fill="#888"/>
<rect x="587.7" y="280.6" width="16" height="1.3" fill="#888"/>
<rect x="587.7" y="283.0" width="16" height="1.3" fill="#888"/>
<rect x="587.7" y="285.4" width="16" height="1.3" fill="#888"/>
<rect x="587" y="290" width="17" height="1" fill="#aaa"/>
<rect x="625" y="241.6" width="49.8" height="37.3" fill="#8a8a8a"/>
<rect x="631.3" y="247.1" width="31.6" height="25.5" fill="#fafafa"/>
<path d="M636,250 L636,270 L660,270" fill="none" stroke="#555" stroke-width="0.4"/>
<path d="M637,269.5 Q640,268 641.5,252 Q643,262 648,267 Q653,269 659,269.5" fill="none" stroke="#2a9a2a" stroke-width="0.7"/>
<path d="M638,269.5 Q641,266 642.5,258 Q644.5,266 650,268.5" fill="none" stroke="#7ad07a" stroke-width="0.6"/>
<rect x="650" y="252" width="8" height="12" fill="#e8f4e8" stroke="#7a7" stroke-width="0.3"/>
<rect x="647.5" y="278.9" width="6" height="2.6" fill="#888"/>
<rect x="638" y="280.5" width="24.3" height="3" fill="#999"/>
<path d="M619.5,285.3 L681.1,285.3 L683.9,293.6 L616.7,293.6 z" fill="#e6e6e6" stroke="#999" stroke-width="0.8"/>
<text x="642.40" y="306.50" font-size="8.6" text-anchor="middle" fill="#111" stroke="#111" stroke-width="0.15" font-weight="bold">Computer</text>
</svg></body></html>
